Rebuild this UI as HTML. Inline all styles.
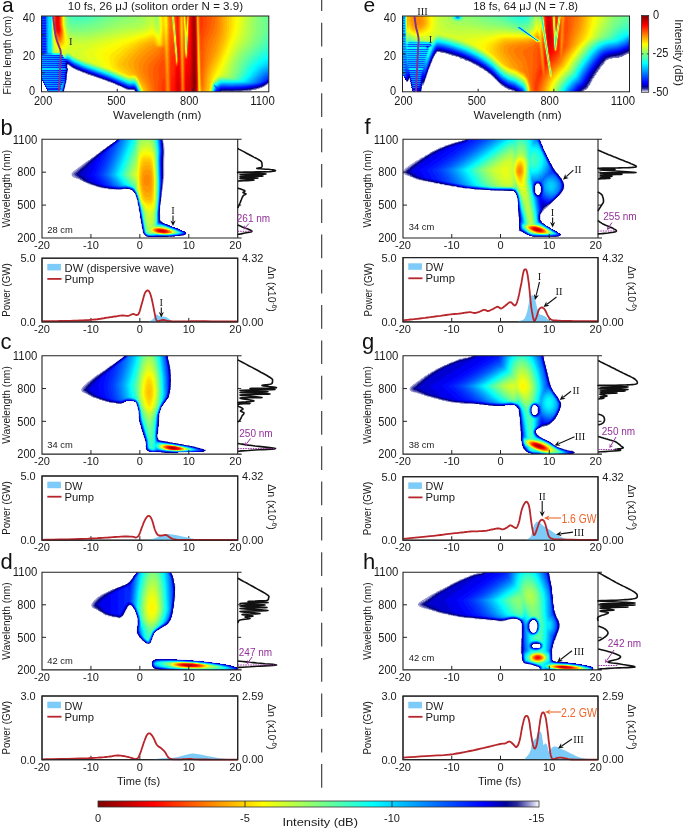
<!DOCTYPE html><html><head><meta charset="utf-8"><style>html,body{margin:0;padding:0;background:#fff;width:685px;height:832px;overflow:hidden}svg{display:block;will-change:transform}</style></head><body><svg width="685" height="832" viewBox="0 0 685 832" font-family="'Liberation Sans', sans-serif"><defs><filter id="jet" x="0" y="0" width="1" height="1" color-interpolation-filters="sRGB">
<feComponentTransfer><feFuncR type="table" tableValues="1.000 0.820 0.640 0.471 0.314 0.157 0.000 0.000 0.000 0.000 0.000 0.000 0.000 0.000 0.000 0.000 0.000 0.000 0.000 0.000 0.000 0.000 0.000 0.000 0.000 0.000 0.000 0.000 0.000 0.000 0.000 0.000 0.000 0.000 0.000 0.000 0.000 0.000 0.020 0.060 0.100 0.140 0.180 0.220 0.260 0.300 0.340 0.380 0.420 0.460 0.500 0.540 0.580 0.620 0.660 0.700 0.740 0.780 0.820 0.860 0.900 0.940 0.980 1.000 1.000 1.000 1.000 1.000 1.000 1.000 1.000 1.000 1.000 1.000 1.000 1.000 1.000 1.000 1.000 1.000 1.000 1.000 1.000 1.000 1.000 1.000 1.000 1.000 0.980 0.940 0.900 0.860 0.820 0.780 0.740 0.700 0.660 0.620 0.580 0.540 0.500"/><feFuncG type="table" tableValues="1.000 0.820 0.640 0.471 0.314 0.157 0.000 0.000 0.000 0.000 0.000 0.000 0.000 0.020 0.060 0.100 0.140 0.180 0.220 0.260 0.300 0.340 0.380 0.420 0.460 0.500 0.540 0.580 0.620 0.660 0.700 0.740 0.780 0.820 0.860 0.900 0.940 0.980 1.000 1.000 1.000 1.000 1.000 1.000 1.000 1.000 1.000 1.000 1.000 1.000 1.000 1.000 1.000 1.000 1.000 1.000 1.000 1.000 1.000 1.000 1.000 1.000 1.000 0.980 0.940 0.900 0.860 0.820 0.780 0.740 0.700 0.660 0.620 0.580 0.540 0.500 0.460 0.420 0.380 0.340 0.300 0.260 0.220 0.180 0.140 0.100 0.060 0.020 0.000 0.000 0.000 0.000 0.000 0.000 0.000 0.000 0.000 0.000 0.000 0.000 0.000"/><feFuncB type="table" tableValues="1.000 0.920 0.840 0.757 0.671 0.586 0.500 0.577 0.654 0.731 0.808 0.885 0.962 1.000 1.000 1.000 1.000 1.000 1.000 1.000 1.000 1.000 1.000 1.000 1.000 1.000 1.000 1.000 1.000 1.000 1.000 1.000 1.000 1.000 1.000 1.000 1.000 1.000 0.980 0.940 0.900 0.860 0.820 0.780 0.740 0.700 0.660 0.620 0.580 0.540 0.500 0.460 0.420 0.380 0.340 0.300 0.260 0.220 0.180 0.140 0.100 0.060 0.020 0.000 0.000 0.000 0.000 0.000 0.000 0.000 0.000 0.000 0.000 0.000 0.000 0.000 0.000 0.000 0.000 0.000 0.000 0.000 0.000 0.000 0.000 0.000 0.000 0.000 0.000 0.000 0.000 0.000 0.000 0.000 0.000 0.000 0.000 0.000 0.000 0.000 0.000"/></feComponentTransfer></filter><clipPath id="c1"><rect x="41.5" y="16.0" width="227.3" height="75.8"/></clipPath><filter id="j1" x="38.5" y="13.0" width="234.0" height="82.0" filterUnits="userSpaceOnUse" color-interpolation-filters="sRGB">
<feGaussianBlur stdDeviation="0.7"/><feComponentTransfer><feFuncR type="table" tableValues="1.000 0.820 0.640 0.471 0.314 0.157 0.000 0.000 0.000 0.000 0.000 0.000 0.000 0.000 0.000 0.000 0.000 0.000 0.000 0.000 0.000 0.000 0.000 0.000 0.000 0.000 0.000 0.000 0.000 0.000 0.000 0.000 0.000 0.000 0.000 0.000 0.000 0.000 0.020 0.060 0.100 0.140 0.180 0.220 0.260 0.300 0.340 0.380 0.420 0.460 0.500 0.540 0.580 0.620 0.660 0.700 0.740 0.780 0.820 0.860 0.900 0.940 0.980 1.000 1.000 1.000 1.000 1.000 1.000 1.000 1.000 1.000 1.000 1.000 1.000 1.000 1.000 1.000 1.000 1.000 1.000 1.000 1.000 1.000 1.000 1.000 1.000 1.000 0.980 0.940 0.900 0.860 0.820 0.780 0.740 0.700 0.660 0.620 0.580 0.540 0.500"/><feFuncG type="table" tableValues="1.000 0.820 0.640 0.471 0.314 0.157 0.000 0.000 0.000 0.000 0.000 0.000 0.000 0.020 0.060 0.100 0.140 0.180 0.220 0.260 0.300 0.340 0.380 0.420 0.460 0.500 0.540 0.580 0.620 0.660 0.700 0.740 0.780 0.820 0.860 0.900 0.940 0.980 1.000 1.000 1.000 1.000 1.000 1.000 1.000 1.000 1.000 1.000 1.000 1.000 1.000 1.000 1.000 1.000 1.000 1.000 1.000 1.000 1.000 1.000 1.000 1.000 1.000 0.980 0.940 0.900 0.860 0.820 0.780 0.740 0.700 0.660 0.620 0.580 0.540 0.500 0.460 0.420 0.380 0.340 0.300 0.260 0.220 0.180 0.140 0.100 0.060 0.020 0.000 0.000 0.000 0.000 0.000 0.000 0.000 0.000 0.000 0.000 0.000 0.000 0.000"/><feFuncB type="table" tableValues="1.000 0.920 0.840 0.757 0.671 0.586 0.500 0.577 0.654 0.731 0.808 0.885 0.962 1.000 1.000 1.000 1.000 1.000 1.000 1.000 1.000 1.000 1.000 1.000 1.000 1.000 1.000 1.000 1.000 1.000 1.000 1.000 1.000 1.000 1.000 1.000 1.000 1.000 0.980 0.940 0.900 0.860 0.820 0.780 0.740 0.700 0.660 0.620 0.580 0.540 0.500 0.460 0.420 0.380 0.340 0.300 0.260 0.220 0.180 0.140 0.100 0.060 0.020 0.000 0.000 0.000 0.000 0.000 0.000 0.000 0.000 0.000 0.000 0.000 0.000 0.000 0.000 0.000 0.000 0.000 0.000 0.000 0.000 0.000 0.000 0.000 0.000 0.000 0.000 0.000 0.000 0.000 0.000 0.000 0.000 0.000 0.000 0.000 0.000 0.000 0.000"/></feComponentTransfer></filter><clipPath id="c2"><rect x="402.5" y="16.0" width="227.0" height="75.8"/></clipPath><filter id="j2" x="399.5" y="13.0" width="233.0" height="82.0" filterUnits="userSpaceOnUse" color-interpolation-filters="sRGB">
<feGaussianBlur stdDeviation="0.7"/><feComponentTransfer><feFuncR type="table" tableValues="1.000 0.820 0.640 0.471 0.314 0.157 0.000 0.000 0.000 0.000 0.000 0.000 0.000 0.000 0.000 0.000 0.000 0.000 0.000 0.000 0.000 0.000 0.000 0.000 0.000 0.000 0.000 0.000 0.000 0.000 0.000 0.000 0.000 0.000 0.000 0.000 0.000 0.000 0.020 0.060 0.100 0.140 0.180 0.220 0.260 0.300 0.340 0.380 0.420 0.460 0.500 0.540 0.580 0.620 0.660 0.700 0.740 0.780 0.820 0.860 0.900 0.940 0.980 1.000 1.000 1.000 1.000 1.000 1.000 1.000 1.000 1.000 1.000 1.000 1.000 1.000 1.000 1.000 1.000 1.000 1.000 1.000 1.000 1.000 1.000 1.000 1.000 1.000 0.980 0.940 0.900 0.860 0.820 0.780 0.740 0.700 0.660 0.620 0.580 0.540 0.500"/><feFuncG type="table" tableValues="1.000 0.820 0.640 0.471 0.314 0.157 0.000 0.000 0.000 0.000 0.000 0.000 0.000 0.020 0.060 0.100 0.140 0.180 0.220 0.260 0.300 0.340 0.380 0.420 0.460 0.500 0.540 0.580 0.620 0.660 0.700 0.740 0.780 0.820 0.860 0.900 0.940 0.980 1.000 1.000 1.000 1.000 1.000 1.000 1.000 1.000 1.000 1.000 1.000 1.000 1.000 1.000 1.000 1.000 1.000 1.000 1.000 1.000 1.000 1.000 1.000 1.000 1.000 0.980 0.940 0.900 0.860 0.820 0.780 0.740 0.700 0.660 0.620 0.580 0.540 0.500 0.460 0.420 0.380 0.340 0.300 0.260 0.220 0.180 0.140 0.100 0.060 0.020 0.000 0.000 0.000 0.000 0.000 0.000 0.000 0.000 0.000 0.000 0.000 0.000 0.000"/><feFuncB type="table" tableValues="1.000 0.920 0.840 0.757 0.671 0.586 0.500 0.577 0.654 0.731 0.808 0.885 0.962 1.000 1.000 1.000 1.000 1.000 1.000 1.000 1.000 1.000 1.000 1.000 1.000 1.000 1.000 1.000 1.000 1.000 1.000 1.000 1.000 1.000 1.000 1.000 1.000 1.000 0.980 0.940 0.900 0.860 0.820 0.780 0.740 0.700 0.660 0.620 0.580 0.540 0.500 0.460 0.420 0.380 0.340 0.300 0.260 0.220 0.180 0.140 0.100 0.060 0.020 0.000 0.000 0.000 0.000 0.000 0.000 0.000 0.000 0.000 0.000 0.000 0.000 0.000 0.000 0.000 0.000 0.000 0.000 0.000 0.000 0.000 0.000 0.000 0.000 0.000 0.000 0.000 0.000 0.000 0.000 0.000 0.000 0.000 0.000 0.000 0.000 0.000 0.000"/></feComponentTransfer></filter><clipPath id="c3"><rect x="42.0" y="139.3" width="195.7" height="98.69999999999999"/></clipPath><filter id="j3" x="39.0" y="136.3" width="202.0" height="105.0" filterUnits="userSpaceOnUse" color-interpolation-filters="sRGB">
<feGaussianBlur stdDeviation="0.55"/><feComponentTransfer><feFuncR type="table" tableValues="1.000 0.820 0.640 0.471 0.314 0.157 0.000 0.000 0.000 0.000 0.000 0.000 0.000 0.000 0.000 0.000 0.000 0.000 0.000 0.000 0.000 0.000 0.000 0.000 0.000 0.000 0.000 0.000 0.000 0.000 0.000 0.000 0.000 0.000 0.000 0.000 0.000 0.000 0.020 0.060 0.100 0.140 0.180 0.220 0.260 0.300 0.340 0.380 0.420 0.460 0.500 0.540 0.580 0.620 0.660 0.700 0.740 0.780 0.820 0.860 0.900 0.940 0.980 1.000 1.000 1.000 1.000 1.000 1.000 1.000 1.000 1.000 1.000 1.000 1.000 1.000 1.000 1.000 1.000 1.000 1.000 1.000 1.000 1.000 1.000 1.000 1.000 1.000 0.980 0.940 0.900 0.860 0.820 0.780 0.740 0.700 0.660 0.620 0.580 0.540 0.500"/><feFuncG type="table" tableValues="1.000 0.820 0.640 0.471 0.314 0.157 0.000 0.000 0.000 0.000 0.000 0.000 0.000 0.020 0.060 0.100 0.140 0.180 0.220 0.260 0.300 0.340 0.380 0.420 0.460 0.500 0.540 0.580 0.620 0.660 0.700 0.740 0.780 0.820 0.860 0.900 0.940 0.980 1.000 1.000 1.000 1.000 1.000 1.000 1.000 1.000 1.000 1.000 1.000 1.000 1.000 1.000 1.000 1.000 1.000 1.000 1.000 1.000 1.000 1.000 1.000 1.000 1.000 0.980 0.940 0.900 0.860 0.820 0.780 0.740 0.700 0.660 0.620 0.580 0.540 0.500 0.460 0.420 0.380 0.340 0.300 0.260 0.220 0.180 0.140 0.100 0.060 0.020 0.000 0.000 0.000 0.000 0.000 0.000 0.000 0.000 0.000 0.000 0.000 0.000 0.000"/><feFuncB type="table" tableValues="1.000 0.920 0.840 0.757 0.671 0.586 0.500 0.577 0.654 0.731 0.808 0.885 0.962 1.000 1.000 1.000 1.000 1.000 1.000 1.000 1.000 1.000 1.000 1.000 1.000 1.000 1.000 1.000 1.000 1.000 1.000 1.000 1.000 1.000 1.000 1.000 1.000 1.000 0.980 0.940 0.900 0.860 0.820 0.780 0.740 0.700 0.660 0.620 0.580 0.540 0.500 0.460 0.420 0.380 0.340 0.300 0.260 0.220 0.180 0.140 0.100 0.060 0.020 0.000 0.000 0.000 0.000 0.000 0.000 0.000 0.000 0.000 0.000 0.000 0.000 0.000 0.000 0.000 0.000 0.000 0.000 0.000 0.000 0.000 0.000 0.000 0.000 0.000 0.000 0.000 0.000 0.000 0.000 0.000 0.000 0.000 0.000 0.000 0.000 0.000 0.000"/></feComponentTransfer></filter><clipPath id="c4"><rect x="42.0" y="355.8" width="195.7" height="98.30000000000001"/></clipPath><filter id="j4" x="39.0" y="352.8" width="202.0" height="105.0" filterUnits="userSpaceOnUse" color-interpolation-filters="sRGB">
<feGaussianBlur stdDeviation="0.55"/><feComponentTransfer><feFuncR type="table" tableValues="1.000 0.820 0.640 0.471 0.314 0.157 0.000 0.000 0.000 0.000 0.000 0.000 0.000 0.000 0.000 0.000 0.000 0.000 0.000 0.000 0.000 0.000 0.000 0.000 0.000 0.000 0.000 0.000 0.000 0.000 0.000 0.000 0.000 0.000 0.000 0.000 0.000 0.000 0.020 0.060 0.100 0.140 0.180 0.220 0.260 0.300 0.340 0.380 0.420 0.460 0.500 0.540 0.580 0.620 0.660 0.700 0.740 0.780 0.820 0.860 0.900 0.940 0.980 1.000 1.000 1.000 1.000 1.000 1.000 1.000 1.000 1.000 1.000 1.000 1.000 1.000 1.000 1.000 1.000 1.000 1.000 1.000 1.000 1.000 1.000 1.000 1.000 1.000 0.980 0.940 0.900 0.860 0.820 0.780 0.740 0.700 0.660 0.620 0.580 0.540 0.500"/><feFuncG type="table" tableValues="1.000 0.820 0.640 0.471 0.314 0.157 0.000 0.000 0.000 0.000 0.000 0.000 0.000 0.020 0.060 0.100 0.140 0.180 0.220 0.260 0.300 0.340 0.380 0.420 0.460 0.500 0.540 0.580 0.620 0.660 0.700 0.740 0.780 0.820 0.860 0.900 0.940 0.980 1.000 1.000 1.000 1.000 1.000 1.000 1.000 1.000 1.000 1.000 1.000 1.000 1.000 1.000 1.000 1.000 1.000 1.000 1.000 1.000 1.000 1.000 1.000 1.000 1.000 0.980 0.940 0.900 0.860 0.820 0.780 0.740 0.700 0.660 0.620 0.580 0.540 0.500 0.460 0.420 0.380 0.340 0.300 0.260 0.220 0.180 0.140 0.100 0.060 0.020 0.000 0.000 0.000 0.000 0.000 0.000 0.000 0.000 0.000 0.000 0.000 0.000 0.000"/><feFuncB type="table" tableValues="1.000 0.920 0.840 0.757 0.671 0.586 0.500 0.577 0.654 0.731 0.808 0.885 0.962 1.000 1.000 1.000 1.000 1.000 1.000 1.000 1.000 1.000 1.000 1.000 1.000 1.000 1.000 1.000 1.000 1.000 1.000 1.000 1.000 1.000 1.000 1.000 1.000 1.000 0.980 0.940 0.900 0.860 0.820 0.780 0.740 0.700 0.660 0.620 0.580 0.540 0.500 0.460 0.420 0.380 0.340 0.300 0.260 0.220 0.180 0.140 0.100 0.060 0.020 0.000 0.000 0.000 0.000 0.000 0.000 0.000 0.000 0.000 0.000 0.000 0.000 0.000 0.000 0.000 0.000 0.000 0.000 0.000 0.000 0.000 0.000 0.000 0.000 0.000 0.000 0.000 0.000 0.000 0.000 0.000 0.000 0.000 0.000 0.000 0.000 0.000 0.000"/></feComponentTransfer></filter><clipPath id="c5"><rect x="42.0" y="572.2" width="195.7" height="97.69999999999993"/></clipPath><filter id="j5" x="39.0" y="569.2" width="202.0" height="104.0" filterUnits="userSpaceOnUse" color-interpolation-filters="sRGB">
<feGaussianBlur stdDeviation="0.55"/><feComponentTransfer><feFuncR type="table" tableValues="1.000 0.820 0.640 0.471 0.314 0.157 0.000 0.000 0.000 0.000 0.000 0.000 0.000 0.000 0.000 0.000 0.000 0.000 0.000 0.000 0.000 0.000 0.000 0.000 0.000 0.000 0.000 0.000 0.000 0.000 0.000 0.000 0.000 0.000 0.000 0.000 0.000 0.000 0.020 0.060 0.100 0.140 0.180 0.220 0.260 0.300 0.340 0.380 0.420 0.460 0.500 0.540 0.580 0.620 0.660 0.700 0.740 0.780 0.820 0.860 0.900 0.940 0.980 1.000 1.000 1.000 1.000 1.000 1.000 1.000 1.000 1.000 1.000 1.000 1.000 1.000 1.000 1.000 1.000 1.000 1.000 1.000 1.000 1.000 1.000 1.000 1.000 1.000 0.980 0.940 0.900 0.860 0.820 0.780 0.740 0.700 0.660 0.620 0.580 0.540 0.500"/><feFuncG type="table" tableValues="1.000 0.820 0.640 0.471 0.314 0.157 0.000 0.000 0.000 0.000 0.000 0.000 0.000 0.020 0.060 0.100 0.140 0.180 0.220 0.260 0.300 0.340 0.380 0.420 0.460 0.500 0.540 0.580 0.620 0.660 0.700 0.740 0.780 0.820 0.860 0.900 0.940 0.980 1.000 1.000 1.000 1.000 1.000 1.000 1.000 1.000 1.000 1.000 1.000 1.000 1.000 1.000 1.000 1.000 1.000 1.000 1.000 1.000 1.000 1.000 1.000 1.000 1.000 0.980 0.940 0.900 0.860 0.820 0.780 0.740 0.700 0.660 0.620 0.580 0.540 0.500 0.460 0.420 0.380 0.340 0.300 0.260 0.220 0.180 0.140 0.100 0.060 0.020 0.000 0.000 0.000 0.000 0.000 0.000 0.000 0.000 0.000 0.000 0.000 0.000 0.000"/><feFuncB type="table" tableValues="1.000 0.920 0.840 0.757 0.671 0.586 0.500 0.577 0.654 0.731 0.808 0.885 0.962 1.000 1.000 1.000 1.000 1.000 1.000 1.000 1.000 1.000 1.000 1.000 1.000 1.000 1.000 1.000 1.000 1.000 1.000 1.000 1.000 1.000 1.000 1.000 1.000 1.000 0.980 0.940 0.900 0.860 0.820 0.780 0.740 0.700 0.660 0.620 0.580 0.540 0.500 0.460 0.420 0.380 0.340 0.300 0.260 0.220 0.180 0.140 0.100 0.060 0.020 0.000 0.000 0.000 0.000 0.000 0.000 0.000 0.000 0.000 0.000 0.000 0.000 0.000 0.000 0.000 0.000 0.000 0.000 0.000 0.000 0.000 0.000 0.000 0.000 0.000 0.000 0.000 0.000 0.000 0.000 0.000 0.000 0.000 0.000 0.000 0.000 0.000 0.000"/></feComponentTransfer></filter><clipPath id="c6"><rect x="403.0" y="139.3" width="195.0" height="98.69999999999999"/></clipPath><filter id="j6" x="400.0" y="136.3" width="201.0" height="105.0" filterUnits="userSpaceOnUse" color-interpolation-filters="sRGB">
<feGaussianBlur stdDeviation="0.55"/><feComponentTransfer><feFuncR type="table" tableValues="1.000 0.820 0.640 0.471 0.314 0.157 0.000 0.000 0.000 0.000 0.000 0.000 0.000 0.000 0.000 0.000 0.000 0.000 0.000 0.000 0.000 0.000 0.000 0.000 0.000 0.000 0.000 0.000 0.000 0.000 0.000 0.000 0.000 0.000 0.000 0.000 0.000 0.000 0.020 0.060 0.100 0.140 0.180 0.220 0.260 0.300 0.340 0.380 0.420 0.460 0.500 0.540 0.580 0.620 0.660 0.700 0.740 0.780 0.820 0.860 0.900 0.940 0.980 1.000 1.000 1.000 1.000 1.000 1.000 1.000 1.000 1.000 1.000 1.000 1.000 1.000 1.000 1.000 1.000 1.000 1.000 1.000 1.000 1.000 1.000 1.000 1.000 1.000 0.980 0.940 0.900 0.860 0.820 0.780 0.740 0.700 0.660 0.620 0.580 0.540 0.500"/><feFuncG type="table" tableValues="1.000 0.820 0.640 0.471 0.314 0.157 0.000 0.000 0.000 0.000 0.000 0.000 0.000 0.020 0.060 0.100 0.140 0.180 0.220 0.260 0.300 0.340 0.380 0.420 0.460 0.500 0.540 0.580 0.620 0.660 0.700 0.740 0.780 0.820 0.860 0.900 0.940 0.980 1.000 1.000 1.000 1.000 1.000 1.000 1.000 1.000 1.000 1.000 1.000 1.000 1.000 1.000 1.000 1.000 1.000 1.000 1.000 1.000 1.000 1.000 1.000 1.000 1.000 0.980 0.940 0.900 0.860 0.820 0.780 0.740 0.700 0.660 0.620 0.580 0.540 0.500 0.460 0.420 0.380 0.340 0.300 0.260 0.220 0.180 0.140 0.100 0.060 0.020 0.000 0.000 0.000 0.000 0.000 0.000 0.000 0.000 0.000 0.000 0.000 0.000 0.000"/><feFuncB type="table" tableValues="1.000 0.920 0.840 0.757 0.671 0.586 0.500 0.577 0.654 0.731 0.808 0.885 0.962 1.000 1.000 1.000 1.000 1.000 1.000 1.000 1.000 1.000 1.000 1.000 1.000 1.000 1.000 1.000 1.000 1.000 1.000 1.000 1.000 1.000 1.000 1.000 1.000 1.000 0.980 0.940 0.900 0.860 0.820 0.780 0.740 0.700 0.660 0.620 0.580 0.540 0.500 0.460 0.420 0.380 0.340 0.300 0.260 0.220 0.180 0.140 0.100 0.060 0.020 0.000 0.000 0.000 0.000 0.000 0.000 0.000 0.000 0.000 0.000 0.000 0.000 0.000 0.000 0.000 0.000 0.000 0.000 0.000 0.000 0.000 0.000 0.000 0.000 0.000 0.000 0.000 0.000 0.000 0.000 0.000 0.000 0.000 0.000 0.000 0.000 0.000 0.000"/></feComponentTransfer></filter><clipPath id="c7"><rect x="403.0" y="355.8" width="195.0" height="98.30000000000001"/></clipPath><filter id="j7" x="400.0" y="352.8" width="201.0" height="105.0" filterUnits="userSpaceOnUse" color-interpolation-filters="sRGB">
<feGaussianBlur stdDeviation="0.55"/><feComponentTransfer><feFuncR type="table" tableValues="1.000 0.820 0.640 0.471 0.314 0.157 0.000 0.000 0.000 0.000 0.000 0.000 0.000 0.000 0.000 0.000 0.000 0.000 0.000 0.000 0.000 0.000 0.000 0.000 0.000 0.000 0.000 0.000 0.000 0.000 0.000 0.000 0.000 0.000 0.000 0.000 0.000 0.000 0.020 0.060 0.100 0.140 0.180 0.220 0.260 0.300 0.340 0.380 0.420 0.460 0.500 0.540 0.580 0.620 0.660 0.700 0.740 0.780 0.820 0.860 0.900 0.940 0.980 1.000 1.000 1.000 1.000 1.000 1.000 1.000 1.000 1.000 1.000 1.000 1.000 1.000 1.000 1.000 1.000 1.000 1.000 1.000 1.000 1.000 1.000 1.000 1.000 1.000 0.980 0.940 0.900 0.860 0.820 0.780 0.740 0.700 0.660 0.620 0.580 0.540 0.500"/><feFuncG type="table" tableValues="1.000 0.820 0.640 0.471 0.314 0.157 0.000 0.000 0.000 0.000 0.000 0.000 0.000 0.020 0.060 0.100 0.140 0.180 0.220 0.260 0.300 0.340 0.380 0.420 0.460 0.500 0.540 0.580 0.620 0.660 0.700 0.740 0.780 0.820 0.860 0.900 0.940 0.980 1.000 1.000 1.000 1.000 1.000 1.000 1.000 1.000 1.000 1.000 1.000 1.000 1.000 1.000 1.000 1.000 1.000 1.000 1.000 1.000 1.000 1.000 1.000 1.000 1.000 0.980 0.940 0.900 0.860 0.820 0.780 0.740 0.700 0.660 0.620 0.580 0.540 0.500 0.460 0.420 0.380 0.340 0.300 0.260 0.220 0.180 0.140 0.100 0.060 0.020 0.000 0.000 0.000 0.000 0.000 0.000 0.000 0.000 0.000 0.000 0.000 0.000 0.000"/><feFuncB type="table" tableValues="1.000 0.920 0.840 0.757 0.671 0.586 0.500 0.577 0.654 0.731 0.808 0.885 0.962 1.000 1.000 1.000 1.000 1.000 1.000 1.000 1.000 1.000 1.000 1.000 1.000 1.000 1.000 1.000 1.000 1.000 1.000 1.000 1.000 1.000 1.000 1.000 1.000 1.000 0.980 0.940 0.900 0.860 0.820 0.780 0.740 0.700 0.660 0.620 0.580 0.540 0.500 0.460 0.420 0.380 0.340 0.300 0.260 0.220 0.180 0.140 0.100 0.060 0.020 0.000 0.000 0.000 0.000 0.000 0.000 0.000 0.000 0.000 0.000 0.000 0.000 0.000 0.000 0.000 0.000 0.000 0.000 0.000 0.000 0.000 0.000 0.000 0.000 0.000 0.000 0.000 0.000 0.000 0.000 0.000 0.000 0.000 0.000 0.000 0.000 0.000 0.000"/></feComponentTransfer></filter><clipPath id="c8"><rect x="403.0" y="572.2" width="195.0" height="97.69999999999993"/></clipPath><filter id="j8" x="400.0" y="569.2" width="201.0" height="104.0" filterUnits="userSpaceOnUse" color-interpolation-filters="sRGB">
<feGaussianBlur stdDeviation="0.55"/><feComponentTransfer><feFuncR type="table" tableValues="1.000 0.820 0.640 0.471 0.314 0.157 0.000 0.000 0.000 0.000 0.000 0.000 0.000 0.000 0.000 0.000 0.000 0.000 0.000 0.000 0.000 0.000 0.000 0.000 0.000 0.000 0.000 0.000 0.000 0.000 0.000 0.000 0.000 0.000 0.000 0.000 0.000 0.000 0.020 0.060 0.100 0.140 0.180 0.220 0.260 0.300 0.340 0.380 0.420 0.460 0.500 0.540 0.580 0.620 0.660 0.700 0.740 0.780 0.820 0.860 0.900 0.940 0.980 1.000 1.000 1.000 1.000 1.000 1.000 1.000 1.000 1.000 1.000 1.000 1.000 1.000 1.000 1.000 1.000 1.000 1.000 1.000 1.000 1.000 1.000 1.000 1.000 1.000 0.980 0.940 0.900 0.860 0.820 0.780 0.740 0.700 0.660 0.620 0.580 0.540 0.500"/><feFuncG type="table" tableValues="1.000 0.820 0.640 0.471 0.314 0.157 0.000 0.000 0.000 0.000 0.000 0.000 0.000 0.020 0.060 0.100 0.140 0.180 0.220 0.260 0.300 0.340 0.380 0.420 0.460 0.500 0.540 0.580 0.620 0.660 0.700 0.740 0.780 0.820 0.860 0.900 0.940 0.980 1.000 1.000 1.000 1.000 1.000 1.000 1.000 1.000 1.000 1.000 1.000 1.000 1.000 1.000 1.000 1.000 1.000 1.000 1.000 1.000 1.000 1.000 1.000 1.000 1.000 0.980 0.940 0.900 0.860 0.820 0.780 0.740 0.700 0.660 0.620 0.580 0.540 0.500 0.460 0.420 0.380 0.340 0.300 0.260 0.220 0.180 0.140 0.100 0.060 0.020 0.000 0.000 0.000 0.000 0.000 0.000 0.000 0.000 0.000 0.000 0.000 0.000 0.000"/><feFuncB type="table" tableValues="1.000 0.920 0.840 0.757 0.671 0.586 0.500 0.577 0.654 0.731 0.808 0.885 0.962 1.000 1.000 1.000 1.000 1.000 1.000 1.000 1.000 1.000 1.000 1.000 1.000 1.000 1.000 1.000 1.000 1.000 1.000 1.000 1.000 1.000 1.000 1.000 1.000 1.000 0.980 0.940 0.900 0.860 0.820 0.780 0.740 0.700 0.660 0.620 0.580 0.540 0.500 0.460 0.420 0.380 0.340 0.300 0.260 0.220 0.180 0.140 0.100 0.060 0.020 0.000 0.000 0.000 0.000 0.000 0.000 0.000 0.000 0.000 0.000 0.000 0.000 0.000 0.000 0.000 0.000 0.000 0.000 0.000 0.000 0.000 0.000 0.000 0.000 0.000 0.000 0.000 0.000 0.000 0.000 0.000 0.000 0.000 0.000 0.000 0.000 0.000 0.000"/></feComponentTransfer></filter><linearGradient id="cbv" x1="0" y1="0" x2="0" y2="1"><stop offset="0.000" stop-color="rgb(127,0,0)"/><stop offset="0.025" stop-color="rgb(153,0,0)"/><stop offset="0.050" stop-color="rgb(178,0,0)"/><stop offset="0.075" stop-color="rgb(204,0,0)"/><stop offset="0.100" stop-color="rgb(229,0,0)"/><stop offset="0.125" stop-color="rgb(255,0,0)"/><stop offset="0.150" stop-color="rgb(255,25,0)"/><stop offset="0.175" stop-color="rgb(255,51,0)"/><stop offset="0.200" stop-color="rgb(255,76,0)"/><stop offset="0.225" stop-color="rgb(255,102,0)"/><stop offset="0.250" stop-color="rgb(255,127,0)"/><stop offset="0.275" stop-color="rgb(255,153,0)"/><stop offset="0.300" stop-color="rgb(255,178,0)"/><stop offset="0.325" stop-color="rgb(255,204,0)"/><stop offset="0.350" stop-color="rgb(255,229,0)"/><stop offset="0.375" stop-color="rgb(255,255,0)"/><stop offset="0.400" stop-color="rgb(229,255,25)"/><stop offset="0.425" stop-color="rgb(203,255,51)"/><stop offset="0.450" stop-color="rgb(178,255,76)"/><stop offset="0.475" stop-color="rgb(152,255,102)"/><stop offset="0.500" stop-color="rgb(127,255,127)"/><stop offset="0.525" stop-color="rgb(101,255,153)"/><stop offset="0.550" stop-color="rgb(76,255,178)"/><stop offset="0.575" stop-color="rgb(50,255,204)"/><stop offset="0.600" stop-color="rgb(25,255,229)"/><stop offset="0.625" stop-color="rgb(0,255,255)"/><stop offset="0.650" stop-color="rgb(0,229,255)"/><stop offset="0.675" stop-color="rgb(0,203,255)"/><stop offset="0.700" stop-color="rgb(0,178,255)"/><stop offset="0.725" stop-color="rgb(0,152,255)"/><stop offset="0.750" stop-color="rgb(0,127,255)"/><stop offset="0.775" stop-color="rgb(0,101,255)"/><stop offset="0.800" stop-color="rgb(0,76,255)"/><stop offset="0.825" stop-color="rgb(0,50,255)"/><stop offset="0.850" stop-color="rgb(0,25,255)"/><stop offset="0.875" stop-color="rgb(0,0,255)"/><stop offset="0.900" stop-color="rgb(0,0,205)"/><stop offset="0.925" stop-color="rgb(0,0,156)"/><stop offset="0.950" stop-color="rgb(40,40,149)"/><stop offset="0.975" stop-color="rgb(140,140,204)"/><stop offset="1.000" stop-color="rgb(255,255,255)"/></linearGradient><linearGradient id="cbh" x1="0" y1="0" x2="1" y2="0"><stop offset="0.000" stop-color="rgb(127,0,0)"/><stop offset="0.025" stop-color="rgb(153,0,0)"/><stop offset="0.050" stop-color="rgb(178,0,0)"/><stop offset="0.075" stop-color="rgb(204,0,0)"/><stop offset="0.100" stop-color="rgb(229,0,0)"/><stop offset="0.125" stop-color="rgb(255,0,0)"/><stop offset="0.150" stop-color="rgb(255,25,0)"/><stop offset="0.175" stop-color="rgb(255,51,0)"/><stop offset="0.200" stop-color="rgb(255,76,0)"/><stop offset="0.225" stop-color="rgb(255,102,0)"/><stop offset="0.250" stop-color="rgb(255,127,0)"/><stop offset="0.275" stop-color="rgb(255,153,0)"/><stop offset="0.300" stop-color="rgb(255,178,0)"/><stop offset="0.325" stop-color="rgb(255,204,0)"/><stop offset="0.350" stop-color="rgb(255,229,0)"/><stop offset="0.375" stop-color="rgb(255,255,0)"/><stop offset="0.400" stop-color="rgb(229,255,25)"/><stop offset="0.425" stop-color="rgb(203,255,51)"/><stop offset="0.450" stop-color="rgb(178,255,76)"/><stop offset="0.475" stop-color="rgb(152,255,102)"/><stop offset="0.500" stop-color="rgb(127,255,127)"/><stop offset="0.525" stop-color="rgb(101,255,153)"/><stop offset="0.550" stop-color="rgb(76,255,178)"/><stop offset="0.575" stop-color="rgb(50,255,204)"/><stop offset="0.600" stop-color="rgb(25,255,229)"/><stop offset="0.625" stop-color="rgb(0,255,255)"/><stop offset="0.650" stop-color="rgb(0,229,255)"/><stop offset="0.675" stop-color="rgb(0,203,255)"/><stop offset="0.700" stop-color="rgb(0,178,255)"/><stop offset="0.725" stop-color="rgb(0,152,255)"/><stop offset="0.750" stop-color="rgb(0,127,255)"/><stop offset="0.775" stop-color="rgb(0,101,255)"/><stop offset="0.800" stop-color="rgb(0,76,255)"/><stop offset="0.825" stop-color="rgb(0,50,255)"/><stop offset="0.850" stop-color="rgb(0,25,255)"/><stop offset="0.875" stop-color="rgb(0,0,255)"/><stop offset="0.900" stop-color="rgb(0,0,205)"/><stop offset="0.925" stop-color="rgb(0,0,156)"/><stop offset="0.950" stop-color="rgb(40,40,149)"/><stop offset="0.975" stop-color="rgb(140,140,204)"/><stop offset="1.000" stop-color="rgb(255,255,255)"/></linearGradient></defs><rect width="685" height="832" fill="#fff"/><g clip-path="url(#c1)"><g filter="url(#j1)"><rect x="38.5" y="13.0" width="234.0" height="82.0" fill="#000"/><path fill="#060606" d="M39,13.5 272,13.5 272,81 270,83 269,83.1 267,85 266,85.2 264,87 263,87.1 262,88 260,88.2 259,89 257,89.1 256,90 252,90.1 251,91 243,91.2 242,92 222,92 219.6,92.5 217.5,94.5 136.4,94.5 135.3,91.5 134,90.1 127,90 124,88.2 123,88 122,87.2 121,87.1 120,86.2 118,86 115,84.2 114,84.1 113,83.2 111,83 110,82.2 108,82 105,80.2 103,80 102,79.2 100,79 99,78.2 97,78 96,77.1 94,77 93,76.1 91,76 90,75.1 88,75 85,73.2 83,73 80,71.2 78,71 77,70.1 76,70 75,69.1 72,68 69,65.2 68,65 67.5,65.5 67.8,71.5 67.6,73.5 66.8,74.5 66.5,82.5 65.8,83.5 65.6,86.5 64.8,87.5 64.6,90.5 63.8,91.5 63.6,94.5 48,94.5 48.1,91.5 47,90.5 47.1,89.5 46.1,88.5 46,87.4 45.1,86.5 45,85.4 44.1,84.5 44,83.4 43.1,82.5 43,81.5 42.1,80.5 42,79.4 41,78.5 39,78.4Z"/><path fill="#0a0a0a" d="M39,13.5 272,13.5 272,80.4 269.9,82.5 269,82.8 267,84.5 266,84.8 264,86.5 263,86.8 262,87.5 260,87.8 259,88.5 257,88.8 256,89.5 252,89.8 251,90.4 243,90.8 242,91.4 222,91.5 219.1,92.5 217,94.5 136.8,94.5 135.6,91.5 134,89.8 127,89.5 120,85.9 118,85.5 113,82.9 108,81.5 105,79.9 103,79.5 102,78.9 97,77.5 96,76.8 88,74.4 85,72.9 83,72.5 80,70.9 78,70.5 72,67.5 69,64.9 68,64.5 67,65.5 67.7,69.5 67.4,72.5 66.6,74.5 66.4,80.5 63.1,94.5 48.1,94.5 48.2,91.5 47.1,90.5 47.2,89.5 46.2,88.5 46,87.3 44.2,84.5 44,83.3 43.2,82.5 42,79.3 41,78.4 39,78.2Z"/><path fill="#0e0e0e" d="M39,13.5 272,13.5 272,79.5 269,82.3 264,85.8 258,88.1 250,89.8 245,90.3 232,90.9 222,90.8 221,91.8 218.4,92.5 216.3,94.5 137.1,94.5 135,90.1 134,89.4 128,89.3 113,82.6 81,71.1 74,67.9 68,64 67,64 66.6,65.5 67.6,69.5 66.9,73.5 66.3,74.5 66.4,79.5 62.9,94.5 48.1,94.5 48.4,91.5 47.1,90.5 47.4,89.5 46.4,88.5 42,79.1 41,78.4 39,78.1Z"/><path fill="#121212" d="M39,13.5 272,13.5 272,78.9 269,81.7 264,85.2 259,87.2 252,88.8 244,89.8 232,90.3 222,90.2 221,90.3 221.1,91.5 220,92.1 218,92.2 215.8,94.5 137.3,94.5 135,89.6 134,89 130,89.1 128,88.8 111.1,81.5 82,71.1 73,66.9 68,63.4 67,63.4 66.7,63.5 66.7,64.5 66.2,65.5 66.8,66.5 67.5,69.5 67,72.1 66.5,72.5 66.8,73.5 66.1,74.5 66.4,75.5 66.2,79.5 62.7,94.5 48.2,94.5 48.5,91.5 47.2,90.5 47.5,89.5 46.5,88.5 42,79 41,78.3 39,78Z"/><path fill="#161616" d="M39,13.5 272,13.5 272,78.3 269,81.1 264,84.6 258,86.9 252,88.3 244,89.2 232,89.8 222,89.6 221,89.8 220.5,90.5 220.9,91.5 220,92 218,91.6 215.5,94.5 137.6,94.5 136,90.8 135,89.2 134,88.5 130,88.7 128,88.3 109.6,80.5 81,70.2 74,67 68,63 67,63 64.6,63.5 66,63.6 66.5,64.5 66,65.4 64.6,65.5 66,65.6 66.7,66.5 66,67.4 64.6,67.5 67,67.8 67.4,69.5 67,70.3 64.6,70.5 66,70.6 67,71.5 66,72.4 64.6,72.5 66,72.6 66.6,73.5 66,74.4 64.6,74.5 66,74.7 66.3,75.5 66,79.5 62.5,94.5 48.2,94.5 48.6,91.5 47.2,90.5 47.6,89.5 46.6,88.5 42,78.9 40,77.9 39,77.9ZM65,59.5 64.6,59.5 66,59.5ZM65,76.5 64.6,76.5 65,76.5 65.1,76.5ZM65,61.5 64.6,61.5 67,61.8 67.1,61.5ZM65,78.5 64.6,78.5 65,78.5 65.4,78.5Z"/><path fill="#1a1a1a" d="M39,13.5 272,13.5 272,77.8 269,80.6 264,84.1 259,86.1 252,87.8 245,88.7 232,89.3 223,89 221,89.3 220.4,89.5 220.1,90.5 220.7,91.5 220,91.9 218,91.2 216,93.1 215.2,94.5 137.8,94.5 136,90.3 135,88.8 134,88.1 130,88.3 128,87.9 110.6,80.5 81,69.8 73,66.1 68,62.6 67,62.5 66,63.3 62,63.5 66,63.9 66.4,64.5 66,65.1 62,65.5 66,65.8 66.5,66.5 66,67.2 62,67.5 66,67.7 67,68.4 67.2,69.5 67,70.1 66,70.4 62,70.5 66,70.7 66.9,71.5 66,72.3 62,72.5 65,72.6 66,72.8 66.5,73.5 66,74.2 65,74.4 62,74.5 65,74.6 66.1,75.5 66,77.5 65,78.4 62,78.5 65,78.7 65.8,79.5 62.4,94.5 48.3,94.5 48.7,93.5 48.3,92.5 48.7,91.5 47.3,90.5 47.7,89.5 46.7,88.5 42,78.8 40,77.7 39,77.7ZM63,57.5 62,57.5 63,57.5 63.1,57.5ZM63,76.5 62,76.5 65.8,76.5ZM63,80.5 62,80.5 63,80.5 63.2,80.5ZM63,59.5 62,59.5 66.1,59.5ZM63,82.5 62,82.5 63,82.5 63,82.5ZM63,61.5 62,61.5 66,61.7 67,62.4 67.3,61.5Z"/><path fill="#1e1e1e" d="M39,13.5 272,13.5 272,77.3 269,80.1 265,83 263,84.2 259,85.7 252,87.3 245,88.2 232,88.8 223,88.5 221,88.8 219.7,89.5 219.8,90.5 220.5,91.5 220,91.8 218,90.8 216,92.6 214.9,94.5 138,94.5 136,89.9 135,88.4 134,87.8 130,87.9 128,87.6 109,79.5 82,69.9 73,65.7 68,62.3 67,61.2 59.4,61.5 65,61.7 66.8,62.5 65,63.3 59.4,63.5 65,63.7 66,64.1 66,64.9 65,65.3 59.4,65.5 65,65.7 66.4,66.5 66,67 65,67.3 59.4,67.5 66,67.8 66.9,68.5 67.1,69.5 66,70.3 59.4,70.5 65,70.7 66,70.8 66.7,71.5 66,72.2 65,72.3 59.4,72.5 65,72.7 66.3,73.5 65,74.3 59.4,74.5 65,74.7 66,75.5 65,76.3 59.4,76.5 65,76.7 65.9,77.5 65,78.3 59.4,78.5 65,78.8 65.7,79.5 62.2,94.5 48.3,94.5 48.8,93.5 48.3,92.5 48.8,91.5 47.3,90.5 47.8,89.5 46.8,88.5 42,78.7 40,77.6 39,77.6ZM60,55.5 59.4,55.5 63,55.5ZM60,80.5 59.4,80.5 63.6,80.5ZM60,57.5 59.4,57.5 63.2,57.5ZM60,82.5 59.4,82.5 63.1,82.5ZM60,59.5 59.4,59.5 66.2,59.5ZM60,84.5 59.4,84.5 62.1,84.5ZM60,86.5 59.4,86.5 61,86.5ZM60,88.5 59.4,88.5 59.4,89.5 60,89.5Z"/><path fill="#222222" d="M39,13.5 272,13.5 272,76.8 269,79.7 265,82.5 263,83.7 259,85.2 252,86.8 245,87.8 232,88.4 223,88.1 221,88.3 219.3,89.5 219.5,90.5 219,91 218,90.4 217,91 215.1,93.5 214.8,94.5 138.2,94.5 136,89.5 135,88.1 134,87.4 130,87.6 128,87.2 109.9,79.5 83,69.9 73,65.3 67,61 56.8,61.5 65,61.7 66.6,62.5 65,63.3 56.8,63.5 65,63.7 66.1,64.5 65,65.3 56.8,65.5 65,65.7 66.2,66.5 65,67.3 56.8,67.5 65,67.7 66.7,68.5 67,69.5 66,70.2 56.8,70.5 65,70.7 66.6,71.5 65,72.3 56.8,72.5 65,72.7 66.2,73.5 65,74.3 56.8,74.5 65,74.8 65.9,75.5 65,76.2 56.8,76.5 64,76.7 65,76.8 65.7,77.5 65,78.2 64,78.3 56.8,78.5 65,78.9 65.6,79.5 64.6,84.5 62,94.5 48.4,94.5 49,93.5 48.4,92.5 49,91.5 47.4,90.5 48,89.5 46.4,87.5 42,78.5 40,77.5 39,77.5 39,72.6 40.7,72.5 39,72.4 39,67.6 40.7,67.5 39,67.4 39,64.6 40,64.5 39,64.5 39,59.6 40.7,59.5 39,59.4 39,54.6 40.1,54.5 39,54.4 39,51.6 45.7,51.5 39,51.5 39,46.6 46.1,46.5 39,46.4 39,41.6 46,41.5 39,41.4 39,38.6 45.6,38.5 39,38.5 39,33.6 46,33.5 39,33.4 39,28.6 46,28.5 39,28.4 39,25.6 45.5,25.5 39,25.5 39,20.6 46,20.5 39,20.4 39,15.6 46,15.5 39,15.4ZM57,59.5 66,59.8 66.3,59.5ZM57,88.5 56.8,89.5 60.1,89.5 60,88.4ZM219.5,91.5 220,91 220.4,91.5 220,91.7Z"/><path fill="#262626" d="M39,13.5 272,13.5 272,76.4 269,79.2 264,82.7 260,84.4 255,85.8 243,87.5 221,87.9 219.7,88.5 218.8,89.5 219.3,90.5 219,90.7 218,90 217,90.5 215,93 214.6,94.5 138.4,94.5 136,89.1 135,87.7 134,87.1 130,87.2 128,86.9 110.8,79.5 84,70 74,65.5 67,60.9 56,61.5 40.7,61.5 65,61.8 66.4,62.5 65,63.2 40.9,63.5 65,63.8 65.9,64.5 65,65.2 40.8,65.5 65,65.8 66.1,66.5 65,67.2 41,67.5 39,67.2 39,64.8 40,64.8 40.1,64.5 39,64.3 39,62.6 40,62.5 39,62.2 39,59.8 56,59.5 66,59.9 66.4,59.5 65,59.2 39,59.2 39,54.7 40.1,54.5 40,54.2 39,54.2 39,51.8 45,51.8 46.1,51.5 39,51.3 39,49.6 46,49.5 39,49.2 39,46.8 46.2,46.5 39,46.2 39,41.7 46.1,41.5 45,41.2 39,41.2 39,38.8 45,38.8 46.1,38.5 39,38.3 39,36.6 46,36.5 39,36.2 39,33.8 46.2,33.5 39,33.2 39,28.7 46.1,28.5 45,28.2 39,28.2 39,25.8 45,25.8 46.1,25.5 39,25.3 39,23.6 46,23.5 39,23.2 39,20.8 45,20.8 46.1,20.5 39,20.2 39,15.7 46.1,15.5 45,15.2 39,15.2ZM41,57.5 40.6,57.5 63.6,57.5ZM39,68.5 39,67.7 41,67.5 65,67.8 66.6,68.5 66.8,69.5 65,70.2 40.6,70.5 65,70.8 66.4,71.5 65,72.2 41,72.5 39,72.2ZM39,73.5 39,72.8 41,72.5 64,72.8 65,72.8 66,73.5 65,74.2 64,74.2 40.7,74.5 64,74.8 65,74.9 65.8,75.5 65,76.1 64,76.2 40.9,76.5 64,76.8 65,76.9 65.6,77.5 65,78.1 64,78.2 56,78.5 42,78.5 40,77.3 39,77.3 39,75.6 40,75.5 39,75.2ZM42.4,79.5 43,78.5 56,78.5 65,79 65.4,79.5 64.7,83.5 61.9,94.5 48.4,94.5 49,93.5 59.2,93.5 49,93.5 48.4,92.5 49,91.5 60,91.5 49,91.5 47.4,90.5 48,89.5 60,89.7 60.4,88.5 47,88.5 46.4,87.5 47,86.5 61,86.7 61,86.3 46,86.5 45.4,85.5 46,84.5 62,84.7 62,84.3 45,84.5 44.4,83.5 45,82.5 63,82.7 63.3,82.5 63,82.3 44,82.5 43.4,81.5 44,80.5 64.4,80.5 43,80.5ZM219.7,91.5 220,91.2 220.2,91.5 220,91.6Z"/><path fill="#2a2a2a" d="M39,13.5 272,13.5 272,75.9 269,78.8 263.6,82.5 260,84 255,85.4 243,87.1 221,87.5 217,90.1 215,92.5 214.4,94.5 138.6,94.5 136,88.7 134,86.7 130,86.9 128,86.5 109,78.5 84,69.6 74,65.2 67,60.8 65,61.1 40.3,61.5 65,61.9 66.2,62.5 65,63.1 40.7,63.5 65,63.9 65.8,64.5 65,65.1 40.5,65.5 65,65.9 66,66.5 65,67.1 41,67.4 39,67 39,65.1 40,65.1 40.2,64.5 40,64.2 39,64.2 39,62.8 40.1,62.5 40,61.8 39,61.8 39,60 41,59.6 56,59.6 66,60 66.5,59.5 65,59.1 41,59.4 39,59.1 39,57.5 63,57.8 63.8,57.5 63,57.2 41,57.4 40,56.3 39,56.3 39,54.9 40,54.9 40.2,54.5 40,54 39,54 39,52.1 46,52 46.3,51.5 46,51.2 39,51.2 39,49.8 46.2,49.5 46,49 45,48.9 39,48.8 39,47 46,46.9 46.3,46.5 46,46.1 39,46.1 39,44.5 45,44.5 46,44.1 46.1,43.5 39,43.3 39,41.9 46,41.8 46.3,41.5 46,41.1 39,41 39,39.1 45,39.1 46,39 46.2,38.5 45,38.2 39,38.2 39,36.8 46.1,36.5 46,36 45,35.9 39,35.8 39,34 46,33.9 46.3,33.5 46,33.1 39,33.1 39,31.5 45,31.5 46,31 46.1,30.5 39,30.3 39,28.9 45,28.9 46.2,28.5 46,28.1 45,28 39,28 39,26.1 45,26.1 46,25.9 46.2,25.5 45,25.2 39,25.2 39,23.8 46.1,23.5 46,23 45,22.9 39,22.8 39,21 45,21 46,20.9 46.2,20.5 46,20.2 45,20.1 39,20.1 39,18.5 45,18.5 46,17.9 46,17.5 39,17.3 39,15.9 45,15.9 46.2,15.5 46,15.1 45,15 39,15ZM41,55.3 40.7,55.5 63,55.8 63.1,55.5ZM39,68.5 39,67.9 41,67.6 65,67.9 66.4,68.5 66.7,69.5 65,70.1 41,70.4 40,69.3 39,69.3ZM39,71.5 39,70.5 40,70.5 65,70.9 66.3,71.5 65,72.1 56,72.4 41,72.4 39,72.1ZM39,73.5 39,73 41,72.6 64,72.8 65,72.9 65.9,73.5 65,74.1 64,74.2 40.3,74.5 64,74.8 65,75 65.7,75.5 65,76 64,76.2 40.7,76.5 64,76.8 65.5,77.5 64,78.2 56,78.4 42,78.4 40,77.2 39,77.2 39,75.8 40.1,75.5 40,74.8 39,74.8ZM42.4,79.5 43,78.6 56,78.6 64,78.8 65,79.2 65.3,79.5 64.6,83.5 61.7,94.5 48.4,94.5 49,93.6 59.2,93.5 49,93.4 48.4,92.5 49,91.6 60.1,91.5 49,91.4 47.4,90.5 48,89.6 60,89.7 60.6,88.5 47,88.4 46.4,87.5 47,86.6 61,86.8 61,86.2 46,86.4 45.4,85.5 46,84.6 61,84.8 62,84.7 62.3,84.5 62,84.2 45,84.4 44.4,83.5 45,82.6 63,82.8 63.4,82.5 63,82.2 44,82.4 43.4,81.5 44,80.6 63,80.8 64.7,80.5 63,80.2 43,80.4ZM218.9,90.5 219,90.4 219,90.5 219,90.5ZM220,91.5 220,91.4 220,91.5 220,91.5Z"/><path fill="#2e2e2e" d="M39,13.5 272,13.5 272,75.5 266,80.5 262.8,82.5 255,85 243,86.6 232,87.1 223,86.8 221,87.1 218,88.6 217,88.3 217.2,89.5 215,92 214.3,94.5 138.8,94.5 136,88.3 134,86.4 130,86.6 128,86.2 109.9,78.5 84,69.3 74,64.9 68,60.9 67,60.6 65,61.1 39,61.5 39,60.1 41,59.7 66,60.1 66.6,59.5 65,59.1 41,59.3 39,58.9 39,57.8 63,57.9 63.9,57.5 63,57.1 41,57.3 40,56.1 39,56.1 39,55 40,55 40.3,54.5 40,53.8 39,53.8 39,52.3 46,52.2 46.4,51.5 46,51.1 39,51 39,49.9 46,49.9 46.3,49.5 46,48.6 39,48.5 39,47.1 46,47.1 46.4,46.5 46,46 39,45.9 39,44.8 46,44.7 46.2,43.5 45,43.2 39,43.1 39,42 46,42 46.4,41.5 46,40.9 39,40.8 39,39.3 46,39.2 46.3,38.5 46,38.1 39,38 39,36.9 46,36.9 46.3,36.5 46,35.6 39,35.5 39,34.1 46,34.1 46.4,33.5 46,33 39,32.9 39,31.8 46,31.7 46.2,30.5 45,30.2 39,30.1 39,29 46,29 46.3,28.5 46,27.9 39,27.8 39,26.3 46,26.2 46.3,25.5 46,25.1 39,25 39,23.9 45,23.9 46,23.8 46.2,23.5 46,22.6 45,22.5 39,22.5 39,21.1 46,21 46.3,20.5 46,20 39,19.9 39,18.8 46,18.6 46.1,17.5 45,17.2 39,17.1 39,16 46,15.9 46.3,15.5 46,14.9 45,14.8 39,14.8ZM41,55.3 40.6,55.5 63,55.9 63.2,55.5ZM40.2,62.5 41,61.7 65,61.9 66,62.5 65,63.1 40.6,63.5 65,64 65.7,64.5 65,65 40.2,65.5 65,65.9 65.8,66.5 65,67.1 64,67.1 41,67.3 39,66.8 39,65.3 40,65.3 40.2,64.5 40,64 39,64 39,62.9 40,62.9ZM39,68.5 39,68 41,67.7 65,67.9 66.3,68.5 66.6,69.5 65,70.1 41,70.3 40,69.1 39,69.1ZM39,71.5 39,70.8 41,70.7 65,70.9 66.1,71.5 65,72.1 56,72.3 41,72.3 39,71.9ZM39,73.5 39,73.1 41,72.7 64,72.9 65,73 65.8,73.5 65,74 64,74.1 40,74.5 39,74.5ZM40.2,75.5 41,74.7 64,74.9 65.5,75.5 64,76.1 40.6,76.5 64,76.9 65.4,77.5 64,78.1 56,78.3 42,78.3 41,78 40,77 39,77 39,75.9 40,75.9ZM42.5,79.5 43,78.7 64,78.9 65.2,79.5 65,80.4 63,80.1 43,80.3ZM43.5,81.5 44,80.7 64,80.8 64.8,81.5 61.6,94.5 48.5,94.5 49,93.7 59,93.8 59.3,93.5 59,93.2 49,93.3 48.5,92.5 49,91.7 59,91.8 60.2,91.5 59,91.2 49,91.3 47.5,90.5 48,89.7 60,89.8 60.8,88.5 60,88.2 47,88.3 46.5,87.5 47,86.7 61,86.8 61.3,86.5 61,86.2 46,86.3 45.5,85.5 46,84.7 61,84.8 62,84.8 62.4,84.5 62,84.1 45,84.3 44.5,83.5 45,82.7 63,82.8 63.5,82.5 63,82.1 44,82.3Z"/><path fill="#323232" d="M39,14.5 39,13.7 45.4,13.5 272,13.5 272,74.8 268,77.4 261.8,82.5 256,84.3 250,85.5 243,86.2 232,86.7 223,86.4 221,86.7 218,88.2 217,87.9 216.7,89.5 215,91.6 214.1,94.5 139,94.5 136,87.9 134,86.1 130,86.3 128,85.9 110.7,78.5 82,68.2 73,64 68,60.6 67,60.5 66.7,59.5 66,59.1 41,59.2 39,58.8 39,58 41,57.8 63,58 64,57.5 63,57 41,57.2 40,56 39,56 39,55.2 40,55.2 40.4,54.5 40,53.6 39,53.6 39,52.7 40,52.7 40.4,53.5 41,53.6 46,53.6 46.3,53.5 45.6,52.5 46,52.5 46.5,51.5 46,50.9 39,50.9 39,50.1 46,50 46.4,49.5 46,48.2 39,48.1 39,47.3 46,47.2 46.5,46.5 46,45.8 39,45.8 39,45 46,44.9 46.3,43.5 46,43 39,43 39,42.2 46,42.1 46.5,41.5 46,40.7 39,40.6 39,39.7 45,39.7 46,39.5 46.4,38.5 46,37.9 39,37.9 39,37.1 46,37 46.4,36.5 46,35.2 39,35.1 39,34.3 46,34.2 46.5,33.5 46,32.8 39,32.8 39,32 46,31.9 46.3,30.5 46,30 39,30 39,29.2 46,29.1 46.4,28.5 46,27.7 39,27.6 39,26.7 45,26.7 46,26.5 46.4,25.5 46,24.9 39,24.9 39,24.1 46,24 46.3,23.5 46,22.2 39,22.1 39,21.3 46,21.2 46.4,20.5 46,19.9 39,19.8 39,19 46,18.9 46,17 39,17 39,16.2 46,16.1 46.4,15.5 46,14.7ZM216,87.3 215.9,87.5 216,87.7 216.4,87.5ZM41,55.2 40.4,55.5 63,55.9 63.2,55.5 61,55.2ZM39,60.5 41,59.8 65,60 67,60.5 65,61 56,61.2 41,61.2 39,61.1ZM40.3,62.5 41,61.8 65,62 65.9,62.5 65,63 40.4,63.5 64,64 65.6,64.5 65,65 56,65.2 41,65.2 40,63.9 39,63.9 39,63.1 40,63.1ZM39,66.5 39,65.7 40,65.7 64,66 65,66 65.7,66.5 65,67 56,67.2 41,67.2ZM39,68.5 39,68.2 41,67.8 65,68 66.1,68.5 66.4,69.5 65,70 41,70.2 40,69 39,69ZM39,71.5 39,71 41,70.8 65,71 66,71.5 65,72 56,72.2 41,72.2 39,71.8ZM39,73.5 41,72.8 64,73 65.7,73.5 65,74 56,74.2 41,74.2 39,74.1ZM40.3,75.5 41,74.8 64,75 65.4,75.5 64,76 40.4,76.5 64,77 65.3,77.5 64,78 56,78.2 42,78.2 40.3,77.5 40,76.9 39,76.9 39,76.1 40,76.1ZM42.5,79.5 43,78.8 64,79 65.1,79.5 64,80.1 56,80.2 43,80.2ZM43.5,81.5 44,80.8 64,80.9 64.7,81.5 64.5,82.5 61.5,94.5 48.5,94.5 49,93.8 59,93.8 59.4,93.5 59,93.2 49,93.2 48.5,92.5 49,91.8 59,91.8 60.3,91.5 59,91.2 49,91.2 47.5,90.5 48,89.8 60,89.9 61,88.5 60,88.1 47,88.2 46.5,87.5 47,86.8 61,86.9 61.3,86.5 61,86.1 46,86.2 45.5,85.5 46,84.8 62,84.8 62.4,84.5 62,84.1 45,84.2 44.5,83.5 45,82.8 63,82.9 63.6,82.5 63,82 44,82.2Z"/><path fill="#363636" d="M45.7,14.5 46.1,13.5 272,13.5 272,73.8 267.3,76.5 260.5,82.5 256,83.9 250,85.1 243,85.8 232,86.3 222,86.1 220,86.6 218,87.9 216,87 215.8,87.5 216.5,88.5 216.3,89.5 214.8,91.5 213.9,94.5 139.2,94.5 136,87.5 134,85.8 130,86 128,85.6 108.9,77.5 84,68.7 74,64.2 68,60.3 67,60.2 66.8,59.5 66,59 41,59.2 40,58.6 39,58.6 39,58.2 41,57.8 63,58 64.1,57.5 63,57 41,57.2 40,55.8 39,55.8 39,55.3 40,55.3 41,55.8 63,56 63.2,55.5 61,55.1 41,55.1 40.5,54.5 41,53.7 46.7,53.5 46.2,52.5 46.7,51.5 46,50.8 39,50.7 39,50.2 46,50.2 46.6,49.5 46,47.8 39,47.4 46,47.4 46.7,46.5 46,45.7 39,45.6 39,45.2 46,45.2 46.5,43.5 46,42.8 39,42.8 39,42.3 46,42.3 46.6,41.5 46,40.5 46.6,38.5 46,37.8 39,37.7 39,37.2 46,37.2 46.5,36.5 46,34.8 39,34.4 46,34.4 46.6,33.5 46,32.7 39,32.6 39,32.2 46,32.2 46.4,30.5 46,29.8 39,29.8 39,29.3 46,29.2 46.5,28.5 45.9,27.5 46.5,25.5 46,24.8 39,24.7 39,24.2 46,24.2 46.4,23.5 46,21.8 39,21.4 46,21.4 46.5,20.5 46,19.7 39,19.6 39,19.2 46,19.1 46.4,17.5 46,16.9 39,16.8 39,16.3 46,16.2 46.5,15.5ZM215,86.4 215,86.5 215,86.5 215.1,86.5ZM39,60.5 40,60.4 41,59.8 56,59.8 65,60.1 66.7,60.5 65,60.9 56,61.2 41,61.2ZM40.3,62.5 41,61.8 56,61.8 65,62.1 65.7,62.5 65,62.9 41,63.2 40.3,63.5 41,63.8 64,64.1 65.5,64.5 64,64.9 56,65.2 41,65.2 40,63.7 39,63.7 39,63.2 40,63.2ZM40,66.5 41,65.8 56,65.8 65,66.1 65.6,66.5 65,66.9 56,67.2 41,67.2ZM39,68.5 41,67.8 65,68.1 66,68.5 66.3,69.5 65,69.9 56,70.2 41,70.2 40,68.8 39,68.8ZM39,71.5 41,70.8 56,70.8 65,71.1 65.9,71.5 65,71.9 56,72.2 41,72.2ZM39,73.5 40,73.4 41,72.8 56,72.8 64,73.1 65.6,73.5 64,73.9 56,74.2 41,74.2ZM40.3,75.5 41,74.8 64,75.1 65.3,75.5 64,75.9 41,76.2 40.3,76.5 41,76.8 64,77.1 65.2,77.5 64,77.9 56,78.2 42,78.2 40.4,77.5 40,76.7 39,76.7 39,76.2 40,76.2ZM42.6,79.5 43,78.8 64,79.1 64.9,79.5 64,80.1 56,80.2 43,80.2ZM43.6,81.5 44,80.8 64,81 64.6,81.5 64.4,82.5 61.4,94.5 48.6,94.5 49,93.8 59,93.9 59.5,93.5 59,93.1 49,93.2 48.6,92.5 49,91.8 59,91.9 60.3,91.5 59,91.1 49,91.2 47.6,90.5 48,89.8 60,89.9 61.1,88.5 60,88.1 47,88.2 46.6,87.5 47,86.8 61,87 61.4,86.5 61,86 46,86.2 45.6,85.5 46,84.8 62,84.9 62.5,84.5 62,84 45,84.2 44.6,83.5 45,82.8 63,83 63.7,82.5 63,82 44,82.2Z"/><path fill="#3a3a3a" d="M46.3,13.5 272,13.5 272,72.5 266.7,75.5 258.7,82.5 256.1,83.5 250,84.7 243,85.4 232,85.9 222,85.7 220,86.2 218,87.5 216,86.7 215.7,87.5 216.3,88.5 214.6,91.5 213.8,94.5 139.3,94.5 136,87.1 134,85.5 130,85.6 128,85.3 109.8,77.5 84,68.3 74,63.9 66,58.9 41,59.1 40,58.5 39,58.5 40,58.5 41,57.9 63,58.1 64.2,57.5 63,56.9 41,57.1 40.4,56.5 41,55.9 63,56.1 63.3,55.5 61,55.1 41,55 40.6,54.5 41,53.9 46,53.8 47,53.5 46.4,52.5 46.8,51.5 46,50.6 39,50.6 46,50.3 46.7,49.5 46.1,47.5 46.8,46.5 46,45.5 39,45.5 46,45.4 46.6,43.5 46,42.6 39,42.4 46,42.4 46.7,41.5 46.2,40.5 46.7,38.5 46,37.6 39,37.4 46,37.3 46.6,36.5 46,34.5 46.7,33.5 46,32.6 39,32.5 46,32.4 46.5,30.5 46,29.6 39,29.4 46,29.4 46.6,28.5 46.2,27.5 46.6,25.5 46,24.6 39,24.4 46,24.3 46.5,23.5 46,21.5 46.6,20.5 46,19.6 39,19.5 46,19.4 46.5,17.5 46,16.7 39,16.4 46,16.4 46.5,15.5 46.1,14.5ZM215,86 214.9,86.5 215,86.7 215.7,86.5ZM40.1,60.5 41,59.9 56,59.9 65,60.1 66.4,60.5 65,60.9 56,61.1 41,61.1ZM40.4,62.5 41,61.9 56,61.9 65,62.1 65.6,62.5 65,62.9 56,63.1 41,63.1ZM40.4,64.5 41,63.9 56,63.9 64,64.1 65.4,64.5 64,64.9 56,65.1 41,65.1ZM40.1,66.5 41,65.9 56,65.9 65,66.2 65.5,66.5 65,66.8 56,67.1 41,67.1ZM39,68.5 41,67.9 65,68.1 65.8,68.5 66.1,69.5 65,69.9 56,70.1 41,70.1 40,68.6ZM39,71.5 40,71.5 41,70.9 56,70.9 65,71.1 65.7,71.5 65,71.9 56,72.1 41,72.1 40,71.5ZM40.1,73.5 41,72.9 56,72.9 64,73.1 65.4,73.5 64,73.9 56,74.1 41,74.1ZM40.4,75.5 41,74.9 56,74.9 64,75.1 65.2,75.5 64,75.9 56,76.1 41,76.1ZM40.4,77.5 41,76.9 56,76.9 64,77.1 65.1,77.5 64,77.9 56,78.1 42,78.1ZM42.6,79.5 43,78.9 64,79.1 64.8,79.5 64,80 56,80.1 43,80.1ZM43.6,81.5 44,80.9 64,81.1 64.5,81.5 64.3,82.5 61.2,94.5 48.6,94.5 49,93.9 59,94 59.6,93.5 59,93 49,93.1 48.6,92.5 49,91.9 59,92 60.4,91.5 60,91.1 59,91 49,91.1 47.6,90.5 48,89.9 60,90 61.3,88.5 61,88.3 60,88 47,88.1 46.6,87.5 47,86.9 61,87 61.5,86.5 61,86 46,86.1 45.6,85.5 46,84.9 62,85 62.6,84.5 62,83.9 45,84.1 44.6,83.5 45,82.9 63,83 63.8,82.5 63,81.9 44,82.1Z"/><path fill="#3e3e3e" d="M46.4,13.5 272,13.5 272,71.2 266,74.6 257,82.5 254.3,83.5 248,84.5 241,85.1 232,85.5 223,85.2 220,85.8 218,87.1 217,87.1 215,85.7 214.8,86.5 216.1,88.5 214.4,91.5 213.6,94.5 139.5,94.5 136,86.8 134,85.2 130,85.3 128,85 110,77.3 84,68 74,63.6 69,60.2 66,58.9 41,59 40.1,58.5 41,58 63,58.2 64,58 64.2,57.5 63,56.8 41,57 40.4,56.5 41,56 63,56.2 63.3,55.5 61,55 41,54.9 40.6,54.5 41,54 46,54 47.6,53.5 46.6,52.5 46.9,51.5 46,50.5 46.9,49.5 46.3,47.5 46.9,46.5 46.2,45.5 46.7,43.5 46.1,42.5 46.8,41.5 46.4,40.5 46.8,38.5 46,37.5 46.7,36.5 46.2,34.5 46.8,33.5 46.1,32.5 46.6,30.5 46,29.5 46.7,28.5 46.3,27.5 46.7,25.5 46,24.5 46.6,23.5 46.2,21.5 46.7,20.5 46.1,19.5 46.6,17.5 46,16.5 46.6,15.5 46.3,14.5ZM214,85.5 214,85.5 214,85.5 214.1,85.5ZM40.2,60.5 41,60 56,60 66.2,60.5 56,61 41,61ZM40.5,62.5 41,62 56,62 65,62.2 65.5,62.5 65,62.8 56,63 41,63ZM40.5,64.5 41,64 56,64 65.3,64.5 56,65 41,65ZM40.2,66.5 41,66 56,66 65.4,66.5 56,67 41,67ZM40.1,68.5 41,68 65,68.2 65.7,68.5 66,69.5 56,70 41,70ZM40.1,71.5 41,71 56,71 65.6,71.5 56,72 41,72ZM40.2,73.5 41,73 56,73 65.3,73.5 56,74 41,74ZM40.5,75.5 41,75 56,75 65.1,75.5 56,76 41,76ZM40.5,77.5 41,77 56,77 64,77.2 64.9,77.5 64,77.8 56,78 42,78ZM42.7,79.5 43,79 56,79 64,79.2 64.6,79.5 64,79.9 56,80 43,80ZM43.7,81.5 44,81 56,81 64,81.2 64.3,81.5 64,83.1 63.9,82.5 63,81.8 44,82ZM44.7,83.5 45,83 63,83.1 63.9,83.5 61.1,94.5 48.7,94.5 49,94 59,94.1 59.7,93.5 59,92.9 49,93 48.7,92.5 49,92 59,92.1 60.5,91.5 60,91 49,91 47.7,90.5 48,90 60,90.1 61.4,88.5 61,88.1 47,88 46.7,87.5 47,87 61,87.1 61.5,86.5 61,85.9 46,86 45.7,85.5 46,85 61,85.1 62,85 62.7,84.5 62,83.9 45,84Z"/><path fill="#424242" d="M46.6,13.5 272,13.5 272,69.9 265,73.8 255.3,82.5 252.3,83.5 240,84.8 232,85.1 223,84.8 221,85 217,87 215,85.4 214,85.3 215.8,88.5 214.2,91.5 213.5,94.5 139.7,94.5 136,86.4 134,84.9 130,85 128,84.6 110,77 84,67.7 74,63.3 68,59.3 65,58.7 41,59 40.2,58.5 41,58 63,58.2 64,58.1 64.3,57.5 63,56.8 41,57 40.5,56.5 41,56 63,56.2 63.3,55.5 61,54.9 41,54.8 40.7,54.5 41,54.1 46,54.1 48.2,53.5 46.7,52.5 47.1,51.5 46.3,50.5 47,49.5 46.5,47.5 47,46.5 46.4,45.5 46.9,43.5 46.3,42.5 46.9,41.5 46.6,40.5 46.9,38.5 46.2,37.5 46.8,36.5 46.4,34.5 46.9,33.5 46.3,32.5 46.8,30.5 46.3,29.5 46.8,28.5 46.5,27.5 46.8,25.5 46.2,24.5 46.7,23.5 46.4,21.5 46.8,20.5 46.3,19.5 46.7,17.5 46.2,16.5 46.7,15.5ZM40.3,60.5 41,60 56,60 65.9,60.5 56,61 41,61ZM40.5,62.5 41,62 56,62 65.4,62.5 56,63 41,63ZM40.6,64.5 41,64 56,64 65.2,64.5 56,65 41,65ZM40.3,66.5 41,66 56,66 65.3,66.5 56,67 41,67ZM40.2,68.5 41,68 65,68.3 65.5,68.5 65.8,69.5 56,70 41,70ZM40.2,71.5 41,71 56,71 65.4,71.5 56,72 41,72ZM40.3,73.5 41,73 56,73 65.2,73.5 56,74 41,74ZM40.5,75.5 41,75 56,75 65,75.5 56,76 41,76ZM40.6,77.5 41,77 56,77 64.7,77.5 56,78 42,78ZM42.7,79.5 43,79 56,79 64.5,79.5 64,79.8 56,80 43,80ZM43.7,81.5 44,81 56,81 64.2,81.5 64,82.6 63,81.8 44,82ZM44.7,83.5 45,83 63,83.1 63.8,83.5 61,94.5 48.7,94.5 49,94 59,94.1 59.7,93.5 59,92.9 49,93 48.7,92.5 49,92 59,92.1 60.6,91.5 60,90.9 49,91 47.7,90.5 48,90 60,90.2 61.6,88.5 61,88 47,88 46.7,87.5 47,87 61,87.2 61.6,86.5 61,85.8 46,86 45.7,85.5 46,85 61,85.2 62,85.1 62.7,84.5 62,83.8 45,84Z"/><path fill="#464646" d="M46.7,13.5 272,13.5 272,68.6 264,73.1 254.8,81.5 253.6,82.5 252,83 248,83.8 241,84.3 232,84.7 222,84.5 220,85 217,86.8 215,85.4 214,85.1 213.9,85.5 215.4,87.5 215.6,88.5 214,91.4 213.3,94.5 139.9,94.5 136,86 134,84.5 130,84.7 128,84.3 110,76.7 84,67.4 74,63 68,59 65,58.6 41,58.9 40.4,58.5 41,58.1 63,58.3 64,58.2 64.3,57.5 63,56.7 41,56.9 40.6,56.5 41,56.1 63,56.3 63.4,55.5 63,55.1 61,54.9 40.8,54.5 41,54.2 46,54.2 48.7,53.5 47,52.6 47.3,51.5 46.5,50.5 47.3,49.5 46.7,47.5 47.3,46.5 46.6,45.5 47,43.5 46.5,42.5 47.2,41.5 46.7,40.5 47,38.5 46.5,37.5 47,36.5 46.6,34.5 47,33.5 46.5,32.5 46.9,30.5 46.5,29.5 46.9,28.5 46.6,27.5 46.9,25.5 46.4,24.5 46.8,23.5 46.5,21.5 46.9,20.5 46.5,19.5 46.8,17.5 46.4,16.5 46.8,15.5ZM50,53.4 49.6,53.5 51.1,53.5ZM40.4,60.5 41,60.1 65.6,60.5 56,60.9 41,60.9ZM40.6,62.5 41,62.1 65.2,62.5 56,62.9 41,62.9ZM40.6,64.5 41,64.1 65.1,64.5 56,64.9 41,64.9ZM40.4,66.5 41,66.1 65.2,66.5 56,66.9 41,66.9ZM40.3,68.5 41,68.1 65,68.4 65.5,69.5 41,69.9ZM40.4,71.5 41,71.1 65.3,71.5 56,71.9 41,71.9ZM40.4,73.5 41,73.1 65.1,73.5 56,73.9 41,73.9ZM40.6,75.5 41,75.1 64.7,75.5 56,75.9 41,75.9ZM40.6,77.5 41,77.1 64.5,77.5 56,77.9 42,77.9ZM42.8,79.5 43,79.1 64.3,79.5 56,79.9 43,79.9ZM43.8,81.5 44,81.1 64.1,81.5 64,82 63,81.7 44,81.9ZM44.8,83.5 45,83.1 63,83.2 63.6,83.5 60.8,94.5 48.8,94.5 49,94.1 59,94.2 59.8,93.5 59,92.8 49,92.9 49,92.1 59,92.2 60.7,91.5 60,90.8 49,90.9 47.8,90.5 48,90.1 60,90.2 61.7,88.5 61,87.9 47,87.9 46.8,87.5 47,87.1 61,87.3 61.6,86.5 61,85.7 46,85.9 45.8,85.5 46,85.1 61,85.3 62,85.1 62.8,84.5 62,83.7 45,83.9Z"/><path fill="#4a4a4a" d="M46.9,13.5 272,13.5 272,67.2 266,70.2 263,72.2 251.8,82.5 248,83.4 241,84 232,84.3 222,84.1 220,84.6 217,86.6 214,85 213.8,85.5 215.3,87.5 215.3,88.5 214,90.9 213.2,94.5 140,94.5 136,85.7 134,84.2 130,84.4 128,84 110,76.4 84,67.1 74,62.6 68,58.7 41,58.8 40.5,58.5 41,58.2 63,58.4 64,58.3 64.4,57.5 63,56.6 41,56.8 40.7,56.5 41,56.2 63,56.4 63.4,55.5 63,55.1 61,54.8 40.9,54.5 46,54.3 49,53.6 51.5,53.5 49,53.5 48,53 47.2,52.5 47.6,51.5 46.8,50.5 47.5,49.5 46.9,47.5 47.6,46.5 46.8,45.5 47.4,43.5 46.8,42.5 47.6,41.5 46.9,40.5 47,39.3 47.5,38.5 46.7,37.5 47.4,36.5 46.8,34.5 47.6,33.5 46.7,32.5 47,30.5 46.7,29.5 47,28.6 47.5,28.5 47,28.3 46.8,27.5 47,25.5 46.6,24.5 47,23.5 46.6,16.5ZM48,15.2 47.6,15.5 48,15.7 48.1,15.5ZM48,20.4 47.6,20.5 48,20.6 48.1,20.5ZM40.5,60.5 41,60.2 65.3,60.5 56,60.8 41,60.8ZM40.7,62.5 41,62.2 65.1,62.5 56,62.8 41,62.8ZM40.7,64.5 41,64.2 64.9,64.5 56,64.8 41,64.8ZM40.5,66.5 41,66.2 65.1,66.5 56,66.8 41,66.8ZM40.4,68.5 41,68.2 65,68.4 65.2,69.5 41,69.8ZM40.5,71.5 41,71.2 65.1,71.5 56,71.8 41,71.8ZM40.5,73.5 41,73.2 65,73.5 56,73.8 41,73.8ZM40.7,75.5 41,75.2 64.4,75.5 56,75.8 41,75.8ZM40.7,77.5 41,77.2 64.3,77.5 56,77.8 42,77.8ZM42.8,79.5 43,79.2 64.2,79.5 56,79.8 43,79.8ZM43.8,81.5 44,81.2 63.9,81.5 56,81.8 44,81.8ZM44.8,83.5 45,83.2 63.5,83.5 63,85.4 62.9,84.5 62,83.6 45,83.8ZM45.8,85.5 46,85.2 62,85.2 63,85.5 62,89.1 61,87.8 47,87.8 46.8,87.5 47,87.2 61,87.3 61.7,86.5 61,85.7 46,85.8ZM60.9,89.5 61.6,89.5 61.7,90.5 60.7,94.5 48.8,94.5 49,94.2 59,94.3 59.9,93.5 59,92.7 49,92.8 48.8,92.5 49,92.2 59,92.3 60.7,91.5 60,90.7 49,90.8 47.8,90.5 48,90.2 60,90.3Z"/><path fill="#4e4e4e" d="M46.9,14.5 47,13.8 48,13.5 272,13.5 272,65.7 265,69.3 262,71.3 254.8,78.5 250.1,82.5 240,83.6 222,83.7 220,84.2 217,86.3 214,84.8 213.8,85.5 215.1,87.5 213.9,90.5 213,94.5 140.2,94.5 136,85.3 134,83.9 130,84.1 128,83.7 110,76 84,66.8 74,62.3 68,58.4 56,58.7 40.6,58.5 64,58.5 64.4,57.5 63,56.6 40.7,56.5 63,56.4 63.4,55.5 63,55.1 61,54.8 41,54.5 46,54.4 51.8,53.5 51,53.1 49,53.3 48,52.8 47.5,52.5 47.9,51.5 47.1,50.5 47.8,49.5 47.3,47.5 47.9,46.5 47.1,45.5 47.8,43.5 47,42.5 48,41.5 47.3,40.5 48,38.5 46.9,37.5 48,36.5 47,34.5 48.1,33.5 46.9,32.5 47.8,31.5 48,30.5 46.9,29.5 48.2,28.5 48,28.1 47,27.6 47,26.5 48,26 48.2,25.5 47,25 46.8,24.5 47,23.9 48.2,23.5 48,22.7 47,22.7 46.9,21.5 47,20.9 48,21.1 48.3,20.5 48,20 47,20.1 46.8,16.5 47,15.5 48,16.1 48.3,15.5 48,14.7 47,15.5ZM48,17.1 47.1,17.5 47.3,18.5 48,18.7ZM40.6,68.5 64.9,68.5 64.9,69.5 41,69.7ZM44.8,83.5 63.4,83.5 63,84.9 62,83.6ZM45.8,85.5 62,85.2 62.8,85.5 62,88.6 61,87.7 46.8,87.5 61,87.4 61.8,86.5 61,85.6ZM61,89.5 61.5,90.5 61,92.8 60,93.5 60.6,94.5 48.8,94.5 59,94.3 60,93.5 59,92.7 48.8,92.5 59,92.3 60.8,91.5 60,90.7 47.8,90.5 60,90.4Z"/><path fill="#525252" d="M48.3,13.5 272,13.5 272,63.9 264,68.3 261,70.3 253.1,78.5 248.3,82.5 232,83.5 222,83.3 220,83.8 217,85.9 216,85.8 214,84.6 213.7,85.5 215,87.5 213.8,90.5 212.9,94.5 140.4,94.5 136,85 134,83.6 130,83.8 128,83.4 110,75.7 82,65.7 74,62 68,58.1 67,58 66,58.6 65,58.4 64.5,57.5 63,56.5 63.5,55.5 63,55.1 61,54.7 46.4,54.5 49,54 51,54 52.2,53.5 51,52.9 49,53.1 47.9,52.5 48.1,51.5 47.6,50.5 48.1,49.5 47.7,47.5 48.2,46.5 47.6,45.5 48.1,43.5 47.5,42.5 48.3,41.5 47.8,40.5 48.3,38.5 47.5,37.5 48.3,36.5 47.7,34.5 48.4,33.5 47.6,32.5 48,32.1 48.3,30.5 47.4,29.5 48.4,28.5 48,27.5 48.4,25.5 48,24.8 47.2,24.5 48,24.2 48.4,23.5 47.9,21.5 48.5,20.5 48,19.6 47.3,19.5 48,19.4 48.4,17.5 48,16.6 47,16.5 48,16.4 48.5,15.5 48.1,14.5ZM40.7,68.5 62.2,68.5 62.2,69.5 41,69.7ZM44.9,83.5 63.2,83.5 63,84.4 62,83.5ZM45.9,85.5 62.6,85.5 62,88.1 61,87.6 46.9,87.5 61,87.5 61.8,86.5 61,85.5ZM47.9,90.5 60,90.4 61,89.7 61.4,90.5 61,92.2 60.9,91.5 60,90.6ZM48.9,92.5 60,92.2 60.9,92.5 60,93.3 59,92.6ZM48.9,94.5 59,94.4 60,93.7 60.5,94.5Z"/><path fill="#565656" d="M48.5,13.5 272,13.5 272,61.8 260,69.2 252.3,77.5 247,82 244.9,82.5 238,82.9 222,82.9 220,83.4 217,85.5 216,85.7 214,84.5 213.6,85.5 214.8,87.5 213.6,90.5 212.8,94.5 140.6,94.5 136,84.7 134,83.3 130,83.5 128,83.1 110,75.4 82.3,65.5 74,61.7 68,57.8 67,57.7 66,58.5 65,58.3 64.5,57.5 63.1,56.5 63.5,55.5 63,55 61,54.7 47.1,54.5 51,54.2 52.5,53.5 51,52.7 49,53 48.2,52.5 48.4,51.5 48,50.5 48.4,49.5 48.1,47.5 48.5,46.5 48.1,45.5 48.4,43.5 48,42.5 48.5,41.5 48.2,40.5 48.5,38.5 48.1,37.5 48.5,36.5 48.2,34.5 48.6,33.5 48.1,32.5 48.5,30.5 48.1,29.5 48.6,28.5 48.3,27.5 48.6,25.5 48.1,24.5 48.6,23.5 48.3,21.5 48.7,20.5 48.2,19.5 48.6,17.5 48.2,16.5 48.7,15.5ZM40.8,68.5 59.6,68.5 59.6,69.5 41,69.6ZM62.5,83.5 63,83.5 63.1,83.5 63,83.9ZM61.2,85.5 62.4,85.5 62,87.6 61.7,87.5 61.9,86.5ZM60.1,90.5 61,89.9 61.3,90.5 61,91.7ZM48.9,92.5 60.7,92.5 60,93.2 59,92.5ZM48.9,94.5 59,94.5 60,93.9 60.3,94.5Z"/><path fill="#5a5a5a" d="M48.7,13.5 272,13.5 272,59.5 269,61.8 259,67.9 256.4,70.5 250.5,77.5 246.2,81.5 241,82.4 221,82.7 216,85.6 214,84.4 213.6,85.5 214.6,87.5 213.4,90.5 212.6,94.5 140.7,94.5 136.1,84.5 134,83 130,83.2 128,82.8 110,75.1 84,65.9 74,61.4 68,57.5 67,57.4 66,58.3 65,58.2 63.2,56.5 63.5,55.5 63,55 61,54.6 48.2,54.5 51,54.4 52.8,53.5 51,52.6 49,52.8 48.5,52.5 48.7,51.5 48.3,50.5 48.7,49.5 48.4,47.5 48.8,46.5 48.4,45.5 48.7,43.5 48.3,42.5 48.8,41.5 48.5,40.5 48.8,38.5 48.4,37.5 48.8,36.5 48.5,34.5 48.9,33.5 48.4,32.5 48.8,30.5 48.4,29.5 48.9,28.5 48.5,27.5 48.8,25.5 48.4,24.5 48.8,23.5 48.5,21.5 48.9,20.5 48.5,19.5 48.8,17.5 48.5,16.5 48.9,15.5ZM50,15.1 49.8,15.5 50,15.8 50.1,15.5ZM50,20.3 49.9,20.5 50,20.7 50.1,20.5ZM50,28.3 50,28.5 50,28.6 50.1,28.5ZM50,33.2 49.9,33.5 50,33.8 50.1,33.5ZM50,36.2 50,36.5 50,36.6 50.1,36.5ZM50,38.3 50,38.5 50,38.8 50.1,38.5ZM50,41.2 49.9,41.5 50,41.7 50.1,41.5ZM50,46.3 49.9,46.5 50,46.8 50.1,46.5ZM50,49.4 50,49.5 50,49.6 50,49.5ZM50,51.4 50,51.5 50,51.7 50.1,51.5ZM40.9,68.5 57,68.5 57,69.5 41,69.5ZM61.5,85.5 62.3,85.5 62,87.1ZM60.5,90.5 61,90.2 61.2,90.5 61,91.2ZM59.2,92.5 60,92.3 60.5,92.5 60,93ZM59.3,94.5 60,94.1 60.2,94.5 60,94.5Z"/><path fill="#5e5e5e" d="M49,13.5 49.3,14.5 49,14.8ZM51.1,13.5 272,13.5 272,56.9 268,60.1 260,65 257,67.4 249.7,76.5 244.5,81.5 232,82.3 223,82 220,82.6 216,85.4 214,84.3 213.5,85.5 214.4,87.5 213.2,90.5 212.5,94.5 140.9,94.5 136.3,84.5 134,82.7 130,82.9 128,82.5 110,74.8 84,65.5 74,61.1 68,57.1 67,57.1 66,57.9 65,58.1 63.2,56.5 63.5,55.5 63,55 61,54.5 51.3,54.5 53.2,53.5 51.1,52.5ZM48.8,16.5 49,16 49.5,16.5 49,17.2ZM48.8,19.5 49,18.6 49.5,19.5 49,20.1ZM48.8,21.5 49,20.9 49.5,21.5 49,23.1ZM48.7,24.5 49,23.7 49.6,24.5 49,25.3ZM48.9,26.5 49,25.8 49.5,27.5 49,28.2ZM48.7,29.5 49,28.7 49.6,29.5 49,30.5 49.5,32.5 49,33.2ZM48.8,34.5 49,33.8 49.5,34.5 49,36.3ZM48.7,37.5 49,36.6 49.6,37.5 49,38.4ZM48.8,39.5 49,38.7 49.5,40.5 49,41.3ZM48.6,42.5 49,41.6 49.6,42.5 49.2,43.5 49.6,45.5 49,46.4 48.6,45.5 48.9,43.5ZM48.7,47.5 49,46.6 49.6,47.5 49.1,49.5 49.6,50.5 49,51.5 49.5,52.5 49,52.6 48.6,50.5 49,49.5ZM61.8,85.5 62.1,85.5 62,86.6ZM60.9,90.5 61,90.4 61,90.5 61,90.6ZM59.5,92.5 60,92.4 60.3,92.5 60,92.8ZM59.7,94.5 60,94.4 60.1,94.5 60,94.5Z"/><path fill="#626262" d="M51.2,13.5 272,13.5 272,54 267,58.3 259,63.5 256,65.8 248,76.5 243,81.3 232,81.9 222,81.7 219,82.7 216,85 214,84.2 213.4,85.5 214.1,86.5 214.1,87.5 213.1,90.5 212.3,94.5 141.1,94.5 136.5,84.5 136,83.7 134,82.4 130,82.5 128,82.1 109,74.1 84,65.2 74,60.8 68,56.8 67,56.7 65,58 63.3,56.5 63.6,55.5 63,54.9 61,54.5 52.5,54.5 53.7,53.5 51.4,52.5ZM49,24.5 49,24.4 49.1,24.5 49,24.6ZM49,29.5 49,29.5 49,29.5 49,29.6ZM49,37.5 49,37.4 49.1,37.5 49,37.6ZM48.9,42.5 49,42.3 49.1,42.5 49,42.7ZM48.9,45.5 49,45.3 49.1,45.5 49,45.6ZM49,47.5 49,47.4 49.1,47.5 49,47.7ZM48.9,50.5 49,50.2 49.2,50.5 49,50.8ZM59.8,92.5 60,92.5 60.1,92.5 60,92.6Z"/><path fill="#666666" d="M51.4,13.5 272,13.5 272,50.8 267,55.5 254.8,64.5 252.3,67.5 246.2,76.5 242.2,80.5 239,81.2 221,81.4 219,82.3 216,84.7 214,84.1 213.4,85.5 214,87 213,90.1 212.2,94.5 141.3,94.5 136.7,84.5 136,83.3 134,82.1 130,82.2 128,81.8 110,74.2 80.5,63.5 74,60.4 68,56.5 67,56.4 65,57.9 63.4,56.5 63.6,55.5 63,54.9 59,53.9 57,54.5 54.1,54.5 54.7,53.5 53,53.3 51.6,52.5Z"/><path fill="#6a6a6a" d="M51.6,13.5 172.9,13.5 173,18.4 173,13.5 272,13.5 272,47.2 265.8,53.5 256,60.9 253.2,63.5 250.8,66.5 245.3,75.5 240.5,80.5 232,81.1 221,81 219,81.9 216,84.3 215,84.5 214,84.1 213.5,84.5 213.3,85.5 213.9,86.5 212,94.5 141.4,94.5 136.3,83.5 134,81.7 130,81.9 128,81.5 110,73.8 84,64.6 74,60.1 68,56.2 67,56.1 65,57.8 63.4,56.5 63.6,55.5 63,54.9 61,54.3 60,53.5 54,53.4 51.8,52.5ZM177,58.3 177,58.5 177,58.8 177,58.5Z"/><path fill="#6e6e6e" d="M51.7,13.5 172.9,13.5 173,19 173.1,13.5 272,13.5 272,43 265.4,50.5 255,59.1 251.5,62.5 249,65.9 243.5,75.5 239.9,79.5 239,80.2 237,80.5 221,80.6 219,81.5 216,83.8 215,84.2 214,84 213.4,84.5 213.3,85.5 213.7,86.5 211.9,94.5 141.6,94.5 136.6,83.5 136,82.6 134.2,81.5 130,81.6 128,81.2 111,73.9 84,64.3 74,59.8 68,55.9 67,55.8 65,57.7 63.5,56.5 63.7,55.5 63,54.8 61,54.3 60,53.4 54,53.3 52,52.5Z"/><path fill="#727272" d="M51.9,13.5 71.9,13.5 75,15.7 80,16.6 85,15.5 88.9,13.5 172.8,13.5 173,19.5 173.1,13.5 272,13.5 272,38.2 268.2,43.5 264,48.3 253,58.1 249.8,61.5 247,65.6 242.4,74.5 239.3,78.5 238.2,79.5 236,80.1 221,80.2 219,81 215,84 214,83.9 213.3,84.5 213.5,86.5 211.7,94.5 141.8,94.5 137,83.9 136,82.3 134.9,81.5 134,81.1 130,81.3 128,80.8 110,73.2 84,63.9 74,59.5 68,55.5 66.9,55.5 65,57.6 63.6,56.5 63.7,55.5 63,54.8 61,54.2 60,53.3 54,53.2 52.2,52.5ZM174,22.4 173.7,25.5 174,31Z"/><path fill="#767676" d="M52,13.5 68.8,13.5 70,17.2 72,19.5 75,20.5 79,20.8 84,20.2 89,18.7 93.2,16.5 97.3,13.5 172.8,13.5 173,20 173.2,13.5 272,13.5 272,31.7 268.1,38.5 263.8,44.5 259.2,49.5 250.7,57.5 247.3,61.5 244.8,65.5 240.6,74.5 237.6,78.5 236,79.6 223,79.5 221,79.7 219,80.6 215.5,83.5 214,83.8 213.2,84.5 213.3,86.5 211.6,94.5 141.9,94.5 137,83.5 136,81.9 135,81.2 134,80.8 130,80.9 128,80.5 110,72.8 84,63.6 74,59.1 68,55.2 67,55.1 66,55.8 65,57.5 63.6,56.5 63.7,55.5 63,54.8 61,54.1 60,53.2 54,53.1 52.4,52.5ZM174,21.9 173.7,25.5 174,31.5 174.3,28.5ZM175,33.5 174.7,36.5 175,42.8 175.3,39.5ZM176,45.3 175.7,48.5 176,54.2 176.3,50.5Z"/><path fill="#7a7a7a" d="M52.1,13.5 67.6,13.5 68.7,19.5 70,22.3 71,23.2 73,23.9 78,24.3 85,23.6 92.1,21.5 98.2,18.5 104.8,13.5 172.7,13.5 173,20.4 173.4,18.5 173.2,13.5 271.5,13.5 269.1,28.5 266.1,35.5 263.1,40.5 259.3,45.5 249,56.1 245.4,60.5 243.1,64.5 239.4,73.5 237.6,76.5 235.8,78.5 234,79.2 223,79.1 221,79.3 219,80.1 215.1,83.5 214,83.7 213.1,84.5 213.1,86.5 211.4,94.5 142.1,94.5 137,83 135,80.9 134,80.4 130,80.6 128,80.2 111,72.9 84,63.2 74,58.8 68,54.9 67,54.8 66,55.4 65,57.1 63.7,56.5 63.8,55.5 63,54.7 61,54.1 60,53.1 53,52.7 52.6,52.5ZM174,21.4 173.6,24.5 174,31.9 174.4,28.5ZM175,33.1 174.6,36.5 175,43.3 175.3,40.5ZM176,44.9 175.7,47.5 176,54.6 176.3,51.5ZM177,56.6 176.7,58.5 177,60.3Z"/><path fill="#7e7e7e" d="M52.2,13.5 66.8,13.5 67.8,21.5 69,24.8 70,26 72,26.9 78,27.3 87,26.3 96.8,23.5 104.5,19.5 108.8,16.5 112.3,13.5 172.7,13.5 173,20.9 173.4,20.5 173.4,19.5 173.3,13.5 265.9,13.5 264.7,27.5 263.7,31.5 261.6,36.5 256.6,44.5 246.6,55.5 243,60.3 240.7,64.5 237.9,72.5 236,76.2 234,78.3 233,78.7 221,78.9 218,80.4 214.7,83.5 213,84.5 212.9,86.5 211.3,94.5 142.3,94.5 137,82.6 135,80.5 134,80.1 130,80.2 128,79.8 110,72.1 84,62.9 74,58.4 68,54.5 67,54.4 66,55.1 65,56.6 64,56.6 63.8,55.5 63,54.7 61,54 60,53.1 53,52.6 52.3,29.5ZM174,21 173.6,21.5 173.5,22.5 174,32.3 174.4,30.5ZM175,32.7 174.6,34.5 175,43.7 175.4,40.5ZM176,44.4 175.6,47.5 176,55 176.4,51.5ZM177,56.2 176.6,58.5 177,60.5ZM186,44 186,54.6 186.3,46.5ZM187,34.2 186.7,41.5 187,43Z"/><path fill="#818181" d="M52.3,13.5 66.2,13.5 67,22.5 67.8,25.5 69,27.7 70,28.7 72,29.5 79,30 84,29.6 90,28.6 96,27.2 101,25.5 112.7,19.5 120.6,13.5 172.6,13.5 172.8,19.5 173.4,22.5 174,32.5 174.4,33.5 175,44.1 175.5,43.5 175.3,35.5 175,32.3 174.6,31.5 173.3,13.5 260.5,13.5 260.2,16.5 260.3,26.5 259.3,32.5 256.4,39.5 252.6,45.5 244.6,54.5 241,59.5 238.4,64.5 236,72.5 234.5,75.5 232.7,77.5 231,78.4 221,78.4 219,79.2 217,80.7 212.9,84.5 211.1,94.5 142.5,94.5 137,82.2 135,80.1 134,79.7 130,79.9 128,79.5 110,71.8 84,62.6 74,58.1 68,54.2 67,54.1 66,54.7 64.8,56.5 64,56.6 63.8,55.5 63,54.7 61,53.9 60,53 55,52.9 53,52.5ZM176,44.1 175.5,44.5 176,55.4 176.4,54.5 176.4,52.5ZM177,55.8 176.6,56.5 176.6,58.5 177,60.8ZM187,33.3 185.9,44.5 186,54.9 186.5,45.5 187,43.5Z"/><path fill="#858585" d="M52.4,13.5 65.7,13.5 66.6,24.5 68,28.5 69,30 70,31 72,31.9 79,32.5 89,31.5 98,29.7 102,28.5 127,18 130,16.2 132.4,13.5 172.5,13.5 172.8,19.5 174.4,34.5 174.9,43.5 175.4,45.5 175.9,54.5 177,61.1 177.2,57.5 176.5,54.5 176.2,45.5 175.6,42.5 175.3,34.5 174.6,30.5 173.4,13.5 188,13.5 188,24.3 188,13.5 256.1,13.5 256.3,27.5 255.3,33.5 253.1,39.5 250.1,44.5 242.5,53.5 239,58.7 236,64.9 234.3,71.5 233,74.5 230.3,77.5 228,77.9 221,78 219,78.8 216,81.1 212.7,84.5 211,94.5 142.6,94.5 137,81.8 135,79.8 134,79.4 130,79.5 128,79.1 111,71.8 84,62.2 74,57.7 68,53.8 67,53.7 66,54.3 64.4,56.5 64,56.6 63.9,55.5 63,54.6 62,53.9 61,53.8 60,52.9 53.2,52.5 52.5,29.5ZM185,14.9 184.7,23.5 185,35.3 185.3,27.5ZM187,32.4 185.9,43.5 186,55.2 187.1,43.5Z"/><path fill="#898989" d="M52.5,13.5 65.2,13.5 66,24.9 67,28.3 69,32.3 70,33.2 72,34.2 80,34.9 88,34.3 99,32.2 115,27.2 134,22.2 137,20.9 139,19.1 140.3,16.5 140.7,13.5 172.5,13.5 172.7,19.5 175.4,46.5 175.8,54.5 177,61.3 177.2,57.5 176.6,53.5 176.2,45.5 175.6,41.5 173.4,13.5 187.9,13.5 188,25.1 188.1,13.5 252.9,13.5 252.8,27.5 251.7,34.5 249.5,40.5 247,44.5 240,53.2 237,58.1 234,64.5 232.2,71.5 230.8,74.5 228,77.4 221,77.5 219,78.3 216,80.6 212.6,84.5 210.8,94.5 142.8,94.5 137.1,81.5 135,79.4 134,79 130,79.2 128,78.7 110,71.1 84,61.8 74,57.3 68,53.5 67,53.4 66,53.9 64,56.5 63.9,55.5 63,54.6 62,53.8 61,53.8 60,52.8 53.6,52.5 52.6,29.5ZM156,16.1 155.4,16.5 156,18.8 157,18.8 157.2,16.5ZM185,14.2 184.7,23.5 185,36.2 185.3,27.5ZM187,31.6 185.8,43.5 186,55.5 187.1,43.5Z"/><path fill="#8d8d8d" d="M52.6,13.5 64.8,13.5 65.6,25.5 67,30.4 69,34.4 71,36 73,36.7 81,37.5 86,37.2 92,36.3 125,28.2 139,25.7 142.9,23.5 145,21.3 146.6,17.5 146.7,13.5 172.4,13.5 172.7,19.5 175.8,54.5 177,61.6 177.3,57.5 176.7,53.5 173.5,13.5 187.9,13.5 188,25.8 188.2,13.5 250.3,13.5 249.3,30.5 248.3,35.5 246.4,40.5 245,42.9 239,50.8 236,55.7 232.4,63.5 230,71.7 227.8,75.5 226.9,76.5 226,76.7 221,77 219,77.8 215.6,80.5 212.4,84.5 210.6,94.5 143,94.5 137.3,81.5 135,79 134,78.6 130,78.8 128,78.4 111,71.1 84,61.5 74,57 68,53.1 67,53 66,53.6 64,56.3 63.9,55.5 63,54.6 62,53.7 61,53.7 60,52.7 53.9,52.5 52.7,29.5ZM155,15.3 153.9,16.5 155.9,23.5 157,25.6 158,23.3 158.1,16.5 157,15.3ZM185,13.8 184.6,22.5 185,37.1 185.4,28.5ZM187,30.9 185.7,42.5 186,55.7 187.2,43.5Z"/><path fill="#919191" d="M52.8,13.5 64.5,13.5 65.1,25.5 67,32.5 69,36.6 71,38.4 73,39.3 77,40.2 82,40.4 89,39.7 125,31.1 140,28.7 144,26.9 147,24.7 148.8,22.5 151,18.3 152,18.1 156,27.3 157,29.1 158,29.7 158.6,27.5 158.8,24.5 158.7,16.5 158.3,15.5 156,14.5 152,15.2 151,14.6 150.5,13.5 172.4,13.5 175.7,54.5 177,61.8 177.3,57.5 173.5,13.5 184.9,13.5 184.6,14.5 184.5,22.5 185,38 185.3,36.5 185.4,30.5 185,13.5 187.8,13.5 187.7,21.5 188,26.5 188.2,13.5 247.8,13.5 246.5,29.5 245.2,35.5 243.7,39.5 238,48.2 234,55.3 230.8,62.5 227.9,71.5 226.3,74.5 225,76 221,76.5 218,78 215,80.6 212.3,84.5 210.5,94.5 143.2,94.5 137.5,81.5 136.1,79.5 135,78.6 134,78.3 130,78.4 128,78 109,69.9 84,61.1 74,56.6 68,52.7 67,52.6 66,53.1 64,55.9 62,53.6 61,53.6 60,52.6 54.5,52.5 52.8,30.5ZM187,30.1 185.6,41.5 185.7,53.5 186,56 187.2,43.5 187.3,34.5Z"/><path fill="#959595" d="M52.9,13.5 64.2,13.5 64.7,25.5 66.7,33.5 68,37.2 70,40.4 73,42.9 76,44 80,44.3 88,43.3 100,39.7 117.1,35.5 128,33.1 140,31.1 146.4,28.5 152,24.4 153,24.7 154,26 157,31.4 158,32.2 159,31.2 159.3,29.5 159.2,16.5 158.9,15.5 158,14.6 154.1,13.5 172.3,13.5 175.7,54.5 177,62.1 177.4,57.5 173.6,13.5 184.7,13.5 184.7,32.5 185,38.8 185.4,40.5 185.6,53.5 186,56.2 187.2,45.5 187.4,32.5 187,29.4 186,38.5 185.5,36.5 185.1,13.5 187.8,13.5 187.6,23.5 188,27.2 188.3,13.5 245.3,13.5 243.8,28.5 242.8,33.5 241.4,37.5 232,55.2 229.3,61.5 226.2,70.5 224.7,73.5 223.3,75.5 219,76.8 217,78.3 215,80.1 213,82.8 212.2,84.5 211.4,87.5 210.3,94.5 143.4,94.5 137.2,80.5 135,78.2 134,77.9 130,78 128,77.6 110,69.9 83.5,60.5 76.7,57.5 74,55.7 73,55.6 71,53.7 68,52 67,51.9 66,52.7 64.2,54.5 64,55.4 62,53.6 61,53.5 60,52.6 55.6,52.5 54,44.9 53.4,36.5 52.8,25.5Z"/><path fill="#999999" d="M53,13.5 63.8,13.5 64.4,25.5 66,33.4 68.9,42.5 69.4,45.5 68.9,47.5 68,48.5 62,51.6 59,51.3 56,49.2 55,47.5 54,42.1 53.1,30.5ZM156.8,13.5 172.2,13.5 175.7,55.5 177,62.3 177.4,57.5 173.6,13.5 184.5,13.5 184.6,33.5 185.4,42.5 185.6,53.5 186,56.4 186.6,53.5 187.1,46.5 187.4,31.5 187,28.8 186,37.6 185.6,34.5 185.1,13.5 187.7,13.5 187.6,25.5 188,27.9 188.3,13.5 242.8,13.5 241.3,27.5 239.2,35.5 230,55.2 223,72.5 221,75.5 219,76.2 216,78.6 212.9,82.5 211.2,87.5 210.1,94.5 143.6,94.5 137.5,80.5 135,77.8 133,77.4 130,77.6 128,77.2 114,71.1 99.1,65.5 98,64.8 96.3,64.5 95,63.7 93.7,63.5 91.7,62.5 87.8,59.5 84.3,55.5 83.7,53.5 83.9,52.5 85.3,50.5 91.9,46.5 101,42.5 120,37.4 141,32.8 147,30.6 152,28 153,28.1 154,28.9 158,34.2 159,33.8 160,29.5 159.7,16.5 159,14.8Z"/><path fill="#9d9d9d" d="M53.1,13.5 63.6,13.5 64,25.4 67.3,43.5 67,45.5 66,47.3 63,49 60,49.4 58,48.9 56,47.4 55,45.2 54,39.7 53.2,30.5ZM158.3,13.5 172.2,13.5 175.7,55.5 177,62.6 177.4,57.5 173.7,13.5 184.3,13.5 184.6,34.5 185.3,43.5 185.5,53.5 186,56.6 186.7,53.5 187.2,46.5 187.6,29.5 188,28.5 188.3,23.5 188.4,13.5 240.2,13.5 238.7,27.5 236.6,35.5 221.9,70.5 218.9,75.5 215,79 212.6,82.5 210.8,88.5 210,94.5 200,94.5 200,93.9 199.9,94.5 143.8,94.5 138.2,81.5 137,79.2 136,78.1 134,77.1 130,77.2 128,76.8 117,71.9 105.7,67.5 105,66.9 103.5,66.5 95.8,57.5 94.7,54.5 95,52.5 96.1,50.5 98.2,48.5 103,45.9 118.5,40.5 142,34.3 152,30.6 153,30.6 154,31.1 158,36.1 159,36.1 160,33.6 160.5,29.5 160.2,16.5 159.5,14.5ZM185.2,13.5 187.7,13.5 187.4,26.5 186,36.8Z"/><path fill="#a1a1a1" d="M53.2,13.5 63.3,13.5 63.6,24.5 65.7,37.5 66.1,42.5 65.8,44.5 64.8,46.5 62,48.1 60,48.3 58,47.7 56,45.7 55,43.3 54,37.7 53.3,30.5ZM159.4,13.5 172.1,13.5 175.6,55.5 177,62.8 177.5,57.5 173.7,13.5 184.1,13.5 184.6,35.5 185.5,54.5 186,56.8 186.7,53.5 187.3,46.5 187.6,31.5 188.4,23.5 188.5,13.5 237.6,13.5 236.4,26.5 234.5,34.5 230,46.5 220.8,68.5 215.8,77.5 213,81 211.8,83.5 210.8,87.5 209.7,94.5 200.2,94.5 200,91.5 199.3,94.5 144,94.5 138.5,81.5 137,78.7 136,77.7 134,76.7 130,76.8 128,76.4 109.6,68.5 107.7,66.5 103.4,58.5 102.8,56.5 102.7,54.5 104.3,51.5 108.7,48.5 121.5,42.5 152,32.7 154,33 158,37.9 159,38.4 160.2,35.5 161.1,28.5 160.8,16.5 160.2,14.5ZM185.3,13.5 187.6,13.5 187.3,25.5 186,36Z"/><path fill="#a5a5a5" d="M53.3,13.5 63,13.5 63.3,24.5 64.3,30.5 65.3,41.5 64.9,43.5 64,45.5 62,47 60,47.3 58,46.5 56,44.2 55,41.6 54,36 53.4,29.5ZM160.4,13.5 172.1,13.5 175.6,55.5 176.3,60.5 177,63.1 177.5,59.5 177.4,56.5 173.8,13.5 183.9,13.5 184.6,36.5 185.5,54.5 186,57 186.7,54.5 187.2,47.5 187.7,32.5 188.4,23.5 188.5,13.5 234.9,13.5 234,26.5 232,35.5 228.5,45.5 221,63.7 215,75.5 211.5,83.5 209.4,94.5 200.4,94.5 200,88.9 199.2,89.5 199,90.3 198.9,94.5 144.3,94.5 138.2,80.5 137,78.2 136,77.3 134,76.2 130,76.4 128,75.9 113.5,69.5 112,67.5 110.5,64.5 109.4,60.5 109.3,57.5 110,55.5 111.3,53.5 113,52 122,45.9 136.7,39.5 152,34.5 154,34.8 155,35.6 158,39.9 159,40.9 159.4,40.5 160,39.8 160.5,37.5 161.6,29.5 161.3,16.5ZM165,14.3 165.2,22.5 166,30.1 166.5,24.5 166.3,14.5 166,13.8ZM185.3,13.5 187.6,13.5 187.3,24.5 186,35.1Z"/><path fill="#a9a9a9" d="M53.4,13.5 62.8,13.5 63,24.5 64.2,32.5 64.6,40.5 64.3,42.5 63.4,44.5 62.5,45.5 61,46.2 59,46 57.1,44.5 56,42.8 55,40 53.5,29.5ZM161.4,13.5 164.7,13.5 164.3,14.5 164.6,24.5 166,35.3 166.8,31.5 167.1,25.5 166.7,14.5 166.3,13.5 172,13.5 172.5,22.5 175.6,56.5 176.4,61.5 177,63.3 177.6,59.5 177.5,56.5 173.8,13.5 183.8,13.5 184.6,37.5 185.4,54.5 186,57.1 186.7,54.5 187.2,48.5 188.6,13.5 232.2,13.5 231.7,26.5 229.6,36.5 227,44.5 221,59.3 212.9,76.5 210.5,85.5 209.1,94.5 200.6,94.5 199.5,81.5 199,55.1 198.8,94.5 144.6,94.5 138.5,80.5 136.7,77.5 135,76.1 134,75.8 129,75.8 123.5,73.5 119.4,71.5 117.1,69.5 115.5,67.5 114.5,65.5 113.8,62.5 114.1,59.5 115,57.5 116.7,55.5 123.2,49.5 131,44.5 140,40.2 150,36.8 153,36.2 155,37.2 159,43.4 160,43.2 161,38.8 162.1,29.5 162,16.5ZM185.4,13.5 187.5,13.5 187.2,24.5 186,34.3Z"/><path fill="#adadad" d="M53.5,13.5 62.5,13.5 62.7,24.5 63.7,30.5 64.1,38.5 63.4,42.5 62.1,44.5 61,45.1 59,44.9 57.3,43.5 56,41.5 55,38.6 53.7,29.5ZM162.7,13.5 163,13.5 163.5,13.5 163,14.5ZM166.8,13.5 171.9,13.5 175.6,56.5 176.3,61.5 177,63.6 177.6,59.5 177.5,56.5 173.8,13.5 183.7,13.5 185.3,53.5 186,57.3 186.8,54.5 187.2,49.5 188.7,13.5 229.5,13.5 229.4,26.5 228.7,31.5 227,38.5 225.5,43.5 220,57.3 211.7,75.5 210.7,79.5 209.9,87.5 209,92.3 207.9,94.5 200.7,94.5 199.6,75.5 199,48.2 198.5,45.5 198,20.7 197.9,44.5 198.5,57.5 198.7,94.5 144.9,94.5 142.6,88.5 137,77.3 135,75.6 134,75.3 130,75.5 127.6,74.5 121,69.5 118.3,66.5 117.7,64.5 117.9,61.5 118.9,59.5 120.5,57.5 128.6,49.5 134.4,45.5 139.6,42.5 148,39.2 153,38 155,39 158.2,44.5 159,45 160,45.1 160.8,44.5 162.7,30.5 163,25.8 164,25.8 166,39.3 167,37.9 167.2,33.5 167.3,21.5 167.1,14.5ZM182,22.7 181.6,29.5 182,36.7ZM185.4,13.5 187.5,13.5 187.2,23.5 186,33.3Z"/><path fill="#b1b1b1" d="M53.7,13.5 62.3,13.5 62.5,24.5 63.4,30.5 63.6,37.5 63,41.5 62,43.3 61,44 60,44.2 58,43.2 56,40.2 55,37.2 53.8,29.5ZM167.2,13.5 171.8,13.5 175.5,56.5 176.2,61.5 177,63.8 177.7,59.5 177.6,56.5 173.9,13.5 183.6,13.5 185.3,54.5 186,57.5 186.7,55.5 187.2,50.5 188.7,13.5 226.9,13.5 227.2,26.5 226.5,31.5 225,38.5 218.9,55.5 210.8,73.5 209.5,78.5 208.2,89.5 206.1,94.5 200.9,94.5 199.7,71.5 198,14.2 197.7,14.5 197.8,39.5 198.6,94.5 145.7,94.5 143.8,89.5 137,76.7 135,75.1 131.1,74.5 123.7,67.5 122.3,65.5 122.1,63.5 122.8,61.5 127.4,55.5 133.8,49.5 142,43.8 149,40.7 153,39.9 155,40.9 158,45.4 160,45.8 161,45.3 161.6,44.5 163,33.5 164,32 166,43.6 167,44.4 167.7,25.5ZM181,13.8 181,29.5 182,45.5 182.4,31.5 182.2,14.5 182,13.8ZM185.5,13.5 187.4,13.5 187.1,23.5 186,32.4Z"/><path fill="#b5b5b5" d="M53.8,13.5 62,13.5 62.2,24.5 63.1,30.5 63.2,37.5 62,41.8 61,42.8 60,43.1 58,42.2 57,41 55,36 53.9,29.5ZM167.5,13.5 171.6,13.5 175.5,57.5 176.3,62.5 177,64.1 177.6,60.5 177.6,56.5 173.9,13.5 180.8,13.5 180.6,14.5 180.8,30.5 182,54.6 182.7,31.5 182.4,14.5 182.1,13.5 183.4,13.5 184,20.1 184.4,38.5 185.3,54.5 186,57.6 186.6,56.5 187.2,52.5 188.8,13.5 224.6,13.5 224.9,26.5 224.3,31.5 223,37.5 217.2,54.5 212.5,64.5 209.8,71.5 208.2,77.5 207,88.5 204.6,94.5 201.2,94.5 201,93.3 198,13.5 197.2,14.5 198.5,94.5 147,94.5 144.4,87.5 140,81.3 137.4,76.5 133.6,73.5 128.6,66.5 128,63.5 128.4,61.5 129.5,59.5 133.5,54.5 138.8,49.5 146,44.5 150,42.5 152,42 154,42.2 156.8,45.5 158,46.1 160,46.3 161,46 162.3,44.5 163,38 164,36 167,52 168,26.5ZM185.5,13.5 187.4,13.5 187,23.5 186,31.4Z"/><path fill="#b9b9b9" d="M53.9,13.5 61.8,13.5 62,24.5 62.8,30.5 62.8,35.5 62,40.2 61,41.6 60,42.1 58,41.2 57,39.9 55,34.8 54,28.4ZM167.8,13.5 171.5,13.5 175.5,57.5 176.2,62.5 177,64.3 177.7,60.5 177.6,55.5 174,13.5 180.6,13.5 180.6,30.5 182,64.7 182.6,55.5 182.9,33.5 182.4,13.5 183.3,13.5 183.4,18.5 184,21.6 184.5,41.5 185.3,55.5 186,57.8 186.7,56.5 187.3,52.5 188.9,13.5 197.4,13.5 196.9,14.5 198.4,94.5 148.3,94.5 146.4,88.5 145,85.4 138.1,75.5 134.3,68.5 133.4,64.5 134.4,60.5 137.2,56.5 142,51.5 146.9,47.5 152,44.8 154,44.9 158,46.8 161,46.5 162.5,45.5 164,40.2 165.6,47.5 167,62.1 168.3,25.5ZM185.6,13.5 187.3,13.5 187,22.9 186,30.2ZM198.2,13.5 222.4,13.5 222.7,25.5 221.3,34.5 215.4,53.5 211.6,61.5 209,68.6 207,76.5 205.9,87.5 203.4,94.5 201.6,94.5 200.9,89.5Z"/><path fill="#bdbdbd" d="M54,13.5 61.5,13.5 61.7,24.5 62.5,30.5 62.5,34.5 62,38.5 61,40.4 60,41 59,40.9 58,40.2 57,38.9 55,33.7 54,25.8ZM168.2,13.5 171.4,13.5 175.6,59.5 176.1,62.5 177,64.6 177.7,60.5 177.6,55.5 174.1,13.5 180.3,13.5 180.4,30.5 182,72.8 183,79.6 183.2,29.5 182.7,13.5 183.2,13.5 183.3,21.5 184,23.3 184.4,42.5 185.3,55.5 186,57.9 186.7,56.5 187.3,52.5 188.9,13.5 197,13.5 198.3,94.5 168.1,94.5 168,93.3 167.9,94.5 149.7,94.5 146.5,84.5 141.2,75.5 139.4,71.5 138.4,67.5 138.6,63.5 140.6,59.5 143.9,55.5 148.1,51.5 153,48.2 155,47.5 161,47.1 164,45 165,47 165.2,48.5 166.5,63.5 167,75.5 167.7,71.5 168.7,25.5ZM185.7,13.5 187.3,13.5 187,22 186,29ZM198.4,13.5 220.4,13.5 220.4,14.5 220.3,24.5 219.2,32.5 208,65.7 205.7,76.5 204.6,87.5 203,92.5 202,94.1 200.9,86.5Z"/><path fill="#c1c1c1" d="M54.2,13.5 61.3,13.5 61.4,24.5 62.3,30.5 62.2,33.5 61.6,37.5 61,39.1 60,39.9 59,39.9 57,37.9 55,32.7 54.2,25.5ZM168.7,13.5 171.3,13.5 172,19.1 172.3,26.5 173,30.1 173.4,37.5 174,40.5 174.4,47.5 175,51 175.6,60.5 176.2,63.5 177,64.8 177.8,60.5 177.7,55.5 174.3,13.5 180.1,13.5 180.2,30.5 181.9,77.5 182.8,86.5 182.6,94.5 168.7,94.5 168.3,86.5 168.3,54.5 169.2,23.5ZM182.9,13.5 183,13.5 183,13.5 183,14ZM185.7,13.5 187.2,13.5 187,21 186,27.7ZM189,13.5 196.8,13.5 198.2,94.5 183.3,94.5 183.3,47.5 183.7,27.5 184,25.6 184.4,44.5 185.3,56.5 186,58 186.8,56.5 187.4,52.5ZM198.6,13.5 218.2,13.5 218.3,14.5 217.9,22.5 217,29.9 215.6,34.5 211.5,44.5 208.3,55.5 204.7,74.5 203.6,86.5 203,89.2 202,91.1 201,84.4ZM161.5,47.5 164,46.6 165,50.8 166.3,68.5 167.1,89.5 167,94.5 151.4,94.5 148.6,84.5 143.5,72.5 142.9,68.5 143.3,65.5 145,61.5 148.3,57.5 156,51.1 158.4,48.5Z"/><path fill="#c5c5c5" d="M54.4,13.5 61,13.5 61.2,24.5 61.9,29.5 61.9,32.5 61.4,36.5 60,38.8 59,38.9 57,36.9 55,31.7 54.3,25.5ZM169.3,13.5 171.1,13.5 171.4,18.5 172,21.1 172.2,27.5 173,31.3 173.3,37.5 174,41.4 174.4,48.5 175,51.6 175.5,60.5 176.1,63.5 177,65.1 177.7,61.5 177.7,55.5 176,36.1 175.6,27.5 175,23.2 174.5,13.5 179.8,13.5 180,30.5 182.3,88.5 182.2,94.5 169.2,94.5 168.8,84.5 168.7,54.5 168.9,41.5 170,23.5ZM185.8,13.5 187.2,13.5 187,19.9 186,26.2ZM189.1,13.5 196.7,13.5 198.1,94.5 183.6,94.5 183.4,87.5 183.5,48.5 183.9,30.5 184,29 184.4,46.5 185.3,56.5 186,58.2 186.9,56.5 187.4,53.5ZM198.8,13.5 215.7,13.5 215.8,14.5 215,23 214,28.9 212.3,33.5 208,42.5 205.8,53.5 203.2,76.5 202.8,83.5 202,87.2 201,77.3ZM161.8,48.5 163,48 164,48.4 165,56.1 166.4,83.5 166.6,94.5 153.6,94.5 152.5,91.5 150.8,83.5 148,74.5 147.6,71.5 147.8,68.5 148.6,65.5 150.4,62.5 159,53.7Z"/><path fill="#c9c9c9" d="M54.6,13.5 60.8,13.5 60.9,24.5 61.6,29.5 61.6,32.5 60.8,36.5 60,37.6 59,37.9 58,37.3 57,36 55,30.5 54.5,24.5ZM170.7,13.5 171,13.5 171,17.7ZM174.7,13.5 179.5,13.5 179.8,30.5 181.9,85.5 181.9,94.5 169.5,94.5 169.1,52.5 169.5,42.5 170.5,30.5 171,27.8 172,25.8 172.3,30.5 173,33.3 173.3,39.5 174,42.5 174.4,49.5 175,52.4 175.5,61.5 176.3,64.5 177,65.3 177.8,61.5 177.7,53.5 176,35.1 175.7,26.5 175,21.8ZM185.8,13.5 187.1,13.5 187,18.6 186,24.4ZM189.3,13.5 196.6,13.5 198,94.5 184,94.5 183.6,86.5 184,33.5 184.4,49.5 185.2,56.5 186,58.3 186.7,57.5 187.5,53.5ZM199,13.5 211.8,13.5 212.1,15.5 211.5,22.5 210.5,27.5 204.7,42.5 203.5,53.5 203.3,61.5 202,74.8 201,68.8ZM162.8,53.5 163,53.1 164,54.4 165,62 166.1,85.5 166.2,94.5 156.4,94.5 155.1,91.5 154.4,88.5 152.8,74.5 153,69.5 153.8,66.5 155.4,63.5 160.2,57.5Z"/><path fill="#cdcdcd" d="M54.7,13.5 60.5,13.5 60.6,24.5 61.4,30.5 60.5,35.5 60,36.4 59,36.9 58,36.3 57,35 55,29.5ZM174.9,13.5 179.2,13.5 179.5,30.5 181.6,85.5 181.7,94.5 169.9,94.5 169.5,64.5 170,44.3 171,39.5 172,37.5 173,37.1 173.3,41.5 174,44 174.3,50.5 175,53.4 175.5,62.5 176.1,64.5 177,65.6 177.8,61.5 177.7,52.5 177,47.7 175.7,25.5 175,19.8ZM185.9,13.5 187.1,13.5 187,17 186,22.2ZM189.4,13.5 196.4,13.5 197.9,94.5 184.2,94.5 183.9,86.5 184,41.2 184.3,52.5 185,54.5 185.3,57.5 186,58.5 186.8,57.5 187.6,53.5 188,38.5 188.6,33.5ZM199.4,13.5 205.9,13.5 207.4,20.5 207,25.5 202.7,40.5 202,47.8 201,51.5 200.7,41.5 200,34.9ZM163,59.5 164,60.7 164.7,67.5 165.7,87.5 165.6,94.5 159.6,94.5 158.3,91.5 157.6,87.5 157.8,83.5 159,77.5 158.3,69.5 159.2,65.5Z"/><path fill="#d1d1d1" d="M54.9,13.5 60.3,13.5 60.4,24.5 61.1,30.5 60.3,34.5 60,35.2 59,35.8 58,35.4 57,34.1 55.3,29.5 54.9,24.5ZM175.4,13.5 178.9,13.5 179,14.1 179.2,30.5 180.1,48.5 181.5,94.5 170.3,94.5 170.1,92.5 169.9,78.5 170.2,54.5 171,48.6 173,43.8 173.4,45.5 174,46.3 174.2,51.5 175,54.6 175.5,63.5 176,64.9 177,65.8 177.8,62.5 177.8,53.5 176,31.5 175.2,15.5ZM186,13.5 187,13.5 186,19ZM189.5,13.5 196.3,13.5 197.7,94.5 184.4,94.5 184.2,58.5 184.5,56.5 185,55.8 185.1,57.5 186,58.7 187,57.5 187.5,55.5 188,39.9 188.6,34.5 189,19.5ZM199.9,13.5 202.2,13.5 203.6,21.5 203.2,26.5 201,36 200,26.7ZM163.6,77.5 164,76.9 165,85.7 165,92.9 164.5,94.5 163,94.2 161.9,91.5 161.3,88.5 161.8,83.5 163,78.6Z"/><path fill="#d5d5d5" d="M55.2,13.5 60,13.5 60.1,24.5 60.8,30.5 60,33.8 59,34.8 58,34.4 57,33.2 55.6,29.5 55.1,24.5ZM176,14.5 176.4,13.5 178.3,13.5 178.5,14.5 178.7,29.5 180,51.5 181.2,94.5 170.9,94.5 170.7,92.5 170.5,79.5 171,64.4 172.1,57.5 174,51.5 174.2,54.5 175,56.3 175.4,64.5 176,65.5 177,66.1 177.7,64.5 177.9,62.5 178.1,59.5 177.7,50.5 177,45.6ZM189.7,13.5 196.2,13.5 197.6,94.5 184.6,94.5 184.5,59.5 185,57.1 185.4,58.5 186,58.9 187.2,57.5 187.7,55.5 188,41.7 188.7,36.5 189,21.9Z"/><path fill="#d9d9d9" d="M55.5,13.5 59.6,13.5 59.7,24.5 60.4,30.5 60,32.3 59,33.7 58,33.5 57,32.3 55.9,29.5 55.4,24.5ZM176.9,14.5 177.6,14.5 178,15 178,30.5 179,40.5 180,59.3 181,94.5 172.1,94.5 171.3,87.5 172,78.3 173,76 174,71.8 175,61.6 175.2,65.5 177,66.3 177.8,64.5 178.4,59.5 177,43.6 177,31.3 177.8,29.5 177,26.5ZM189.8,13.5 196.1,13.5 197.4,94.5 184.8,94.5 184.8,59.5 185,58.3 186,59.1 186.8,58.5 187.7,56.5 188,44.2 188.8,38.5 189,26Z"/><path fill="#dddddd" d="M55.8,13.5 59.3,13.5 59.3,24.5 60.1,29.5 60,30.6 59,32.6 58,32.5 57,31.4 56.2,29.5 55.7,24.5ZM189.9,13.5 195.9,13.5 197.3,77.5 197.3,94.5 185.1,94.5 185,93.8 184.9,80.5 185.5,59.5 187,58.9 187.8,57.5 188,48.9 188.6,45.5 189.3,34.5ZM177.9,39.5 178,39 179.1,48.5 180.7,86.5 180.6,94.5 174.8,94.5 174,87.5 175,78.5 175.5,67.5 176,66.9 177,66.6 177.8,65.5 178.7,59.5 178,56 177.7,43.5Z"/><path fill="#e1e1e1" d="M56.1,13.5 58.9,13.5 59,24.5 59.6,29.5 59,31.4 58,31.6 57,30.5 56.2,25.5ZM190.3,13.5 195.7,13.5 195.8,14.5 197.1,76.5 197.1,94.5 185.5,94.5 185.3,92.5 185.2,84.5 186,68.2 188.4,59.5 189.7,47.5 190.3,35.5ZM178,47.5 178,47.2 178,52.8ZM179,57.5 179,57 180.4,86.5 180.2,94.5 175.8,94.5 175.3,86.5 176.4,67.5 177.6,66.5 178.7,63.5Z"/><path fill="#e5e5e5" d="M56.8,13.5 58.3,13.5 58.3,24.5 59,29.5 58,30.6 57.3,29.5 56.8,25.5ZM190.7,14.5 191,13.5 195.5,13.5 195.6,14.5 197,76 197,94.5 186,94.5 185.8,92.5 186,78.9 187,74.9 189,71.3 190.2,61.5 190.9,35.5ZM177.4,67.5 178,66.6 178.4,67.5 179,72.5 180,85.6 179.7,94.5 176.6,94.5 176.4,92.5 176.2,85.5Z"/><path fill="#e9e9e9" d="M191.6,13.5 195.3,13.5 195.4,14.5 196.9,82.5 196.7,94.5 189.9,94.5 187.4,92.5 186.9,90.5 187,87.3 188.9,82.5 190.7,69.5 191.5,35.5 191.2,14.5ZM177.9,79.5 178,79.2 179,82.3 179.3,85.5 179.3,90.5 178.9,94.5 177.5,94.5 176.9,90.5 177,84.1Z"/><path fill="#ededed" d="M191.7,14.5 192.3,13.5 195.1,13.5 195.3,14.5 196.6,81.5 196.4,94.5 191.5,94.5 190.8,90.5 190.8,78.5 191.8,59.5Z"/><path fill="#f1f1f1" d="M193,13.5 194.4,13.5 195.1,14.5 196.4,80.5 196.1,94.5 192.3,94.5 191.8,90.5 191.6,78.5 192.4,48.5 192.3,14.5Z"/><path fill="#f5f5f5" d="M192.8,14.5 194,13.8 194.6,14.5 194.8,17.5 196.1,79.5 196,90.5 195.5,94.5 193.1,94.5 192.5,89.5 192.3,78.5 192.9,61.5 193.1,36.5Z"/><path fill="#f9f9f9" d="M194,41.5 194,40.6 195.7,82.5 195.1,93.5 195,94.2 194,94.5 193.2,89.5 192.9,79.5Z"/><path fill="#fdfdfd" d="M193.9,74.5 194,73.6 195,75.8 195.1,80.5 195,87.6 194,88.8Z"/></g></g><g clip-path="url(#c2)"><g filter="url(#j2)"><rect x="399.5" y="13.0" width="233.0" height="82.0" fill="#000"/><path fill="#060606" d="M400,13.5 632,13.5 632,52 631,53 630,53.1 629,54 627,54.1 626,55 625,55.1 624,56 623,56 622,57 620,57.1 619,58 613,58.1 612,59 609,59.1 608,60 607,60.1 604.6,62.5 604.5,63.5 600.6,67.5 600.5,68.5 598.5,70.5 598.5,71.5 596.5,73.5 596.5,74.5 594.5,76.5 594.5,77.5 592.6,79.5 592.5,80.5 591.6,81.5 591.5,82.5 590.5,83.5 590.5,84.5 588.6,86.5 588.5,87.5 586,90 585,90.1 580.5,94.5 518.5,94.5 517,94 514,91.1 512,91 511,90.1 509,90 506,88.1 505,88 503,86.1 502,86 490,74.1 489,74 486,71.1 485,71 483,69.1 482,69 481,68.1 480,68 478,66.1 477,66 476,65.1 475,65 474,64.1 473,64 472,63.1 471,63 470,62.1 469,62 468,61.1 466,61 463,59.1 461,59 458,57.1 456,57 455,56.1 452,56 451,55.1 449,55 448,54.1 446,54 445,53.1 441,53 440,52.1 437,52.1 436.5,53.5 434.7,55.5 433.6,58.5 432.7,59.5 432.5,61.5 430.7,64.5 430.5,66.5 428.8,69.5 428.5,71.5 427.7,72.5 427.5,74.5 426.7,75.5 426.5,77.5 425.7,78.5 425.5,80.5 424.7,81.5 424.5,83.5 423.6,84.5 423,86.3 422,85.8 421.8,90.5 421.3,91.5 421.5,92.5 419,94.1 416,94.1 415.4,93.5 414,93.4 413.1,92.5 413.1,91.5 412.1,90.5 412.2,88.5 411.1,87.5 411.2,84.5 410.2,83.5 410.5,82.5 410,80.1 409,79.3 408.4,81.5 407,82.2 406.3,81.5 406.2,80.5 405.1,79.5 405.1,78.5 404.1,77.5 404,76.4 402,74.5 400,74.5Z"/><path fill="#0a0a0a" d="M400,13.5 632,13.5 632,51.6 631,52.5 630,52.6 629,53.5 627,53.7 626,54.5 625,54.6 622,56.4 620,56.6 619,57.4 613,57.6 612,58.3 609,58.6 608,59.5 607,59.6 604.1,62.5 603.8,63.5 600.1,67.5 600,68.4 598.1,70.5 597.8,71.5 596.1,73.5 595.8,74.5 594.1,76.5 593.8,77.5 592.1,79.5 592,80.5 591.1,81.5 589.9,84.5 588.1,86.5 588,87.5 586,89.5 585,89.6 580.1,94.5 519.1,94.5 518,93.6 517,93.4 514,90.8 512,90.5 511,89.7 509,89.5 505,87.4 503,85.7 502,85.4 490,73.8 489,73.5 486,70.8 485,70.5 483,68.8 480,67.4 478,65.7 477,65.5 470,61.7 469,61.6 468,60.8 466,60.4 463,58.7 461,58.4 458,56.8 456,56.5 455,55.8 452,55.4 451,54.7 449,54.5 448,53.7 446,53.5 445,52.8 441,52.4 440,51.8 437,51.8 434.4,55.5 432.5,59.5 432,61.5 428.5,69.5 424.1,83.5 423,84.9 422,84.4 421.6,90.5 420.9,91.5 421.1,92.5 419,93.6 417,94 415,93.3 414,93.3 413.2,92.5 413.3,91.5 412.1,90.5 412.3,88.5 411.2,87.5 411.6,86.5 411.1,85.5 411.4,84.5 410.4,83.5 410.9,82.5 410.2,81.5 410.4,80.5 409,77.8 408.5,80.5 408,81.4 407,81.9 406.6,81.5 406.4,80.5 405.2,79.5 405.2,78.5 404.2,77.5 404,76.3 402,74.4 400,74.4ZM427,46.4 426.7,46.5 428.3,46.5Z"/><path fill="#0e0e0e" d="M400,13.5 632,13.5 632,50 629,52 621,55.2 618,56.1 610,57.3 607,58.5 605.6,59.5 601.9,63.5 596,71.6 587,86.5 586,87.7 582.1,90.5 578.6,94.5 520.8,94.5 514,90.3 508,88.2 504,85.8 500,82.9 493.8,76.5 489,72.5 481.8,67.5 474.8,63.5 466.3,59.5 458.5,56.5 445.6,52.5 438,51.1 437,51.3 436,52.4 432.2,59.5 428.3,69.5 424,82.4 423,83.5 422,83 421.8,85.5 421.4,86.5 421.7,87.5 421.1,89.5 421.3,90.5 420.3,92.5 418,93.7 417,93.7 414,93.2 413.3,92.5 413.5,91.5 412.2,90.5 412.5,88.5 411.3,87.5 411.9,86.5 411.2,85.5 411.5,84.5 410.6,83.5 411.2,82.5 410.3,81.5 410.6,80.5 410,79.5 410,78.5 409.1,77.5 409,76.5 408.3,80.5 407,81.7 406.6,80.5 405.3,79.5 405.3,78.5 404.3,77.5 404,76.3 402,74.4 400,74.4ZM427,46.4 426.6,46.5 428,46.8 428.4,46.5Z"/><path fill="#121212" d="M400,13.5 632,13.5 632,48.7 629,50.8 621,54.1 618,55 610,56.2 607,57.3 605,58.7 601,63 595,71.2 585.7,86.5 581.6,89.5 577.2,94.5 521.9,94.5 514,89.6 509,88 504,85.1 500,82.2 494,76 489.9,72.5 482.9,67.5 476.1,63.5 465.5,58.5 457.5,55.5 444.3,51.5 438,50.4 437,50.6 436,51.7 433,57 429,66.8 424,81.5 423,82.1 422,81.6 421.9,83.5 421.3,84.5 421.7,85.5 421.1,86.5 421.6,87.5 420.8,89.5 421.1,90.5 420,92.1 418,93.4 414,93.2 413.3,92.5 413.6,91.5 412.3,90.5 412.7,89.5 412.6,88.5 411.4,87.5 412.2,86.5 411.3,85.5 411.7,84.5 410.9,83.5 411.4,82.5 410.4,81.5 410.8,80.5 410.1,79.5 410.2,78.5 409.2,77.5 409,75.2 408.4,79.5 408,80.5 407,81.2 406.8,80.5 405.4,79.5 405.4,78.5 404.4,77.5 404.2,76.5 403.3,75.5 402,74.3 400,74.3ZM427,46.3 426.5,46.5 428,46.9 428.5,46.5Z"/><path fill="#161616" d="M400,13.5 632,13.5 632,47.6 628,50.3 620,53.5 610,55.3 605,57.5 601,61.6 595,69.7 591,75.7 585.4,85.5 581,88.9 576.1,94.5 522.4,94.5 514,89 508,86.9 503,83.8 499,80.6 494,75.3 489.4,71.5 482.3,66.5 475.3,62.5 466.9,58.5 459,55.4 446.6,51.5 438,49.8 437,50 436,51 433,56.3 429,66 424,80.6 422,80.2 421.9,80.5 421.9,81.5 421.2,82.5 421.8,83.5 421,84.5 421.6,85.5 420.8,86.5 421.4,87.5 420.6,88.5 420.8,90.5 418,92.8 414,93.1 413.4,92.5 413.8,91.5 412.4,90.5 412.9,89.5 412.8,88.5 411.5,87.5 412.5,86.5 411.3,85.5 411.9,84.5 411,83.5 411.5,82.5 410.5,81.5 411.1,80.5 410.2,79.5 410.5,78.5 409.4,77.5 409.8,76.5 409.1,75.5 409,74.5 408.1,79.5 407,80.4 405.5,79.5 405.5,78.5 404.5,77.5 404,76.1 402.3,74.5 400,74.3ZM427,46.3 426.3,46.5 427,46.9 428,46.9 428.7,46.5ZM519,27.5 519,27.5 519,27.5 519,27.5ZM522,29.5 522,29.5 522,29.5 522,29.5ZM526,32.5 526,32.5 526,32.5 526,32.5ZM529,34.5 529,34.5 529,34.5 529,34.5ZM533,37.5 533,37.5 533,37.5 533,37.5ZM536,39.5 536,39.5 536,39.5 536,39.5Z"/><path fill="#1a1a1a" d="M400,13.5 632,13.5 632,46.6 628,49.4 620,52.7 609,54.7 606,55.9 604,57.3 600,61.5 594,69.7 590.1,75.5 584.3,85.5 580.2,88.5 575.1,94.5 522.9,94.5 522,93.4 514,88.4 508,86.3 503,83.3 499,80 494,74.8 490.2,71.5 483.2,66.5 476.4,62.5 466,57.5 458,54.5 444.9,50.5 438,49.2 437,49.4 436,50.4 433,55.6 429,65.3 424,79.6 422,78.9 421.2,80.5 421.8,81.5 420.7,82.5 421.7,83.5 420.5,84.5 421.5,85.5 421,86.3 420.4,86.5 421.3,87.5 420.2,88.5 420.3,90.5 417,92.7 414,93 413.5,92.5 413.9,91.5 412.4,90.5 413,89.5 413.4,89.5 412.9,88.5 411.6,87.5 412.8,86.5 412,86.3 411.4,85.5 412.3,84.5 411.1,83.5 411.7,82.5 410.6,81.5 411.4,80.5 410.3,79.5 410.7,78.5 409.5,77.5 410.2,76.5 409.2,75.5 409.4,74.5 408.7,74.5 408,79.1 407,80 405.6,79.5 405.7,78.5 404.6,77.5 404,76 402.4,74.5 400,74.2ZM427,46.2 426.2,46.5 427,47 428,47 428.8,46.5ZM519,27.4 518.9,27.5 519,27.6 519.1,27.5ZM522,29.4 521.9,29.5 522,29.6 522.1,29.5ZM523,30.4 522.9,30.5 523,30.5 523.1,30.5ZM526,32.4 525.9,32.5 526,32.6 526.1,32.5ZM529,34.5 528.9,34.5 529,34.6 529.1,34.5ZM530,35.5 530,35.5 530,35.5 530,35.5ZM533,37.4 532.9,37.5 533,37.6 533.1,37.5ZM536,39.5 535.9,39.5 536,39.6 536.1,39.5Z"/><path fill="#1e1e1e" d="M400,13.5 632,13.5 632,45.6 628,48.5 620,51.8 609,53.9 606,55.1 603.7,56.5 599,61.5 593.9,68.5 589.2,75.5 584,84.7 580,87.6 575,93.3 574.3,94.5 523.3,94.5 522,92.9 514,87.9 508,85.8 503,82.7 499,79.5 494,74.2 490.8,71.5 484,66.5 477.4,62.5 467.1,57.5 459,54.3 446,50.3 438,48.7 437,48.9 436,49.9 433,55 429,64.6 424,78.3 423,77.9 421.2,78.5 421.8,79.5 421,80.4 420.4,80.5 421,80.6 421.7,81.5 421,82.3 420.2,82.5 421,82.7 421.6,83.5 421,84.3 420,84.5 421,84.8 421.4,85.5 421,86.2 420,86.5 413,86.5 412,86.2 411.5,85.5 412,84.6 412.9,84.5 412,84.4 411.2,83.5 411.9,82.5 410.7,81.5 411.8,80.5 411,80.3 410.3,79.5 411,78.5 409.7,77.5 410.5,76.5 409.3,75.5 409.8,74.5 409,74.1 408.5,74.5 408,77.4 407.2,79.5 406,79.8 405.8,78.5 406.4,77.5 405,77.8 404,75.9 402,74.2 400,74.2ZM427,46.2 426.1,46.5 427,47.1 428,47.1 428.9,46.5ZM519,27.4 518.8,27.5 519,27.6 519.2,27.5ZM520,28.5 520,28.5 520,28.5 520.2,28.5ZM522,29.4 521.7,29.5 522,29.6 522.1,29.5ZM523,30.4 522.9,30.5 523,30.6 523.3,30.5ZM525,31.5 524.9,31.5 525,31.5 525,31.5ZM526,32.4 525.8,32.5 526,32.6 526.2,32.5ZM529,34.4 528.8,34.5 529,34.6 529.1,34.5ZM530,35.4 529.9,35.5 530,35.5 530.2,35.5ZM532,36.5 531.9,36.5 532,36.5 532,36.5ZM533,37.4 532.9,37.5 533,37.6 533.2,37.5ZM536,39.4 535.8,39.5 536,39.6 536.1,39.5ZM537,40.5 537,40.5 537,40.5 537.1,40.5ZM411.7,87.5 413,86.5 420,86.5 421.2,87.5 420,88.4 414,88.5 413,88.5ZM412.5,90.5 413,89.7 414,89.6 419,89.8 419.8,90.5 418,91.3 414,91.4ZM413.6,92.5 414,91.6 416,91.9 416.7,92.5 414,92.9Z"/><path fill="#222222" d="M400,13.5 632,13.5 632,44.7 628,47.7 620,51 608,53.4 605,54.7 603,56.1 598.9,60.5 593,68.4 589,74.5 583.2,84.5 579.1,87.5 574.7,92.5 573.5,94.5 523.6,94.5 522,92.4 514,87.4 508,85.3 503,82.2 499.6,79.5 494,73.7 491,71.1 484.7,66.5 478,62.3 470.4,58.5 460.9,54.5 448.6,50.5 440,48.5 437,48.4 434,52.4 430,61.4 425,75.4 424,77 422.8,76.5 421,76.5 422,77.5 421,78.4 411,78.4 409.8,77.5 410.9,76.5 410,76.3 409.4,75.5 410,74.6 410.5,74.5 409,73.9 408.3,74.5 407.9,76.5 407,77.4 406,77.2 405,77.7 404,75.9 402,74.1 400,74.1ZM406,72.5 405.9,72.5 406,72.5 406.1,72.5ZM409,72.4 408.7,72.5 409,72.8 409.6,72.5ZM426,46.5 427,47.2 428,47.2 429.1,46.5 428,46.1ZM430,44.5 429.9,44.5 430,44.5 430.1,44.5ZM519,27.4 518.7,27.5 519,27.7 519.3,27.5ZM520,28.3 519.9,28.5 520,28.6 520.6,28.5ZM522,29.3 521.6,29.5 522,29.7 522.2,29.5ZM523,30.3 522.8,30.5 523,30.6 523.4,30.5ZM525,31.4 524.6,31.5 525,31.6 525.1,31.5ZM526,32.3 525.7,32.5 526,32.7 526.3,32.5ZM527,33.5 527,33.5 527,33.5 527.3,33.5ZM529,34.4 528.7,34.5 529,34.7 529.2,34.5ZM530,35.4 529.9,35.5 530,35.6 530.3,35.5ZM532,36.4 531.7,36.5 532,36.6 532.1,36.5ZM533,37.3 532.8,37.5 533,37.6 533.2,37.5ZM536,39.4 535.8,39.5 536,39.6 536.2,39.5ZM537,40.4 536.9,40.5 537,40.6 537.2,40.5ZM406,75.4 405.9,75.5 406,75.6 406.2,75.5ZM405.9,78.5 406,78.1 406.8,78.5 406.7,79.5 405.8,79.5ZM410.4,79.5 411,78.6 412,78.5 421,78.6 421.7,79.5 421,80.3 420,80.5 412,80.5 411,80.2ZM410.8,81.5 412,80.5 420,80.5 421,80.7 421.6,81.5 421,82.2 420,82.5 412,82.5ZM411.2,83.5 412,82.6 413,82.5 420,82.6 421,82.8 421.5,83.5 421,84.1 419,84.4 412,84.3ZM411.5,85.5 412,84.8 413,84.6 420,84.6 421,85 421.4,85.5 420,86.4 417,86.4 413,86.4 412,86.1ZM411.9,87.5 413,86.6 420,86.7 421.1,87.5 420,88.3 414,88.4 413,88.4ZM412.6,90.5 413,89.8 414,89.7 417,89.9 419,90.5 417,91.1 414,91.3ZM413.7,92.5 414,91.8 415.9,92.5 414,92.8Z"/><path fill="#262626" d="M400,13.5 632,13.5 632,43.8 627,47.4 620,50.3 617,51.2 608,52.7 605,53.9 602.6,55.5 598,60.4 592.8,67.5 588.1,74.5 583,83.5 579,86.5 574,92.2 572.7,94.5 523.9,94.5 522,91.9 514,86.9 508,84.8 503,81.7 500,79.4 494,73.2 491,70.6 484,65.5 478,61.8 469.3,57.5 461,54.1 448,49.9 440,48 437,47.9 436,48.8 434,51.8 430,60.7 425,74.7 424,75.6 423,75.2 422,76.2 421,76.4 411,76.4 410,76.2 409.4,75.5 410,74.7 422.2,74.5 410,74.4 409,73.7 407.2,75.5 407.3,76.5 405,77.6 404,75.8 402,74.1 400,74.1ZM406,72.3 405.5,72.5 406,72.8 406.4,72.5ZM426,46.4 425.4,46.5 427,47.3 428,47.3 429.3,46.5 428,46.1ZM430,44.4 429.5,44.5 430,44.6 430.4,44.5ZM519,27.3 518.6,27.5 519,27.8 519.4,27.5ZM520,28.2 520,28.6 521,28.5ZM522,29.3 521.5,29.5 522,29.8 522.3,29.5ZM523,30.2 522.7,30.5 523,30.7 523.5,30.5ZM525,31.4 524.3,31.5 525,31.7 525.2,31.5ZM526,32.3 525.7,32.5 526,32.7 526.4,32.5ZM527,33.3 526.9,33.5 527,33.6 527.9,33.5ZM529,34.3 528.6,34.5 529,34.7 529.3,34.5ZM530,35.3 529.8,35.5 530,35.6 530.4,35.5ZM532,36.4 531.5,36.5 532,36.7 532.1,36.5ZM533,37.3 532.7,37.5 533,37.7 533.3,37.5ZM534,38.5 534,38.5 534,38.5 534.1,38.5ZM536,39.4 535.7,39.5 536,39.7 536.2,39.5ZM537,40.4 536.9,40.5 537,40.6 537.3,40.5ZM406,74.9 405.6,75.5 406,75.8 406.9,75.5ZM409,72.3 408.4,72.5 409,73.2 410,72.5 421.5,72.5ZM409.9,77.5 411,76.6 421,76.6 421.9,77.5 421,78.3 420,78.4 411,78.4ZM410.5,79.5 411,78.7 412,78.6 420,78.6 421,78.7 421.6,79.5 421,80.2 420,80.4 412,80.4 411,80.1ZM410.9,81.5 412,80.6 420,80.6 421,80.9 421.5,81.5 420,82.4 412,82.4ZM411.3,83.5 412,82.6 413,82.6 420,82.6 421,82.9 421.4,83.5 421,84 419,84.4 412,84.3ZM411.6,85.5 412,84.9 413,84.6 420,84.7 421.3,85.5 420,86.3 417,86.3 413,86.3ZM412,87.5 413,86.7 420,86.9 421,87.5 420,88.1 414,88.3 413,88.3ZM412.7,90.5 413,89.9 414,89.8 418.3,90.5 414,91.2ZM413.8,92.5 414,92 415.2,92.5Z"/><path fill="#2a2a2a" d="M400,13.5 632,13.5 632,43 627,46.6 619,49.9 608,51.9 605,53.1 602,55.1 597.9,59.5 592,67.4 587.3,74.5 582.2,83.5 578,86.5 573,92.3 572,94.5 524.1,94.5 522,91.4 514,86.4 509,84.8 503,81.2 500,78.9 494,72.7 491,70.1 484.7,65.5 478,61.4 469,56.9 460.7,53.5 448,49.4 440,47.5 437,47.5 436,48.3 434,51.3 429,62.7 425,74.1 424,74.2 423,73.8 421,74.4 410,74.3 408.8,73.5 410,72.6 422.4,72.5 409,72.2 408.1,72.5 407,74.7 406,74.5 405.4,75.5 406.8,76.5 405,77.5 404,75.7 402,74 400,74ZM406,67.5 405.8,67.5 406,67.5 406,67.5ZM426,46.3 425,46.5 427,47.4 428,47.4 429.4,46.5 428,46ZM430,44.4 429,44.5 430,44.7 430.6,44.5ZM519,27.3 518.5,27.5 519,27.8 519.5,27.5ZM520,28.1 520,28.7 521,28.8 521,28.4ZM522,29.2 521.3,29.5 522,29.8 522.4,29.5ZM523,30.1 522.7,30.5 523,30.7 523.7,30.5ZM524,31.5 525,31.8 525.2,31.5ZM526,32.2 525.6,32.5 526,32.8 526.5,32.5ZM527,33.2 527,33.6 528,33.6ZM529,34.3 528.5,34.5 529,34.8 529.3,34.5ZM530,35.2 529.8,35.5 530,35.7 530.6,35.5ZM532,36.4 531.4,36.5 532,36.7 532.2,36.5ZM533,37.3 532.7,37.5 533,37.7 533.4,37.5ZM536,39.3 535.6,39.5 536,39.7 536.3,39.5ZM537,40.3 536.8,40.5 537,40.6 537.5,40.5ZM406,72.1 405,72.5 406,73 406.7,72.5ZM409,67.4 408.7,67.5 422.9,67.5ZM409,70.4 408.5,70.5 422.5,70.5ZM409.5,75.5 410,74.8 411,74.6 421,74.6 422,74.8 422.6,75.5 421,76.3 420,76.4 411,76.4ZM410,77.5 411,76.6 421,76.7 421.8,77.5 421,78.2 420,78.4 411,78.3ZM410.6,79.5 411,78.8 412,78.7 420,78.7 421,78.9 421.5,79.5 421,80.1 420,80.3 412,80.3ZM411,81.5 412,80.7 420,80.7 421.4,81.5 420,82.3 412,82.3ZM411.4,83.5 412,82.7 413,82.7 420,82.7 421.3,83.5 420,84.3 419,84.3 413,84.3 412,84.2ZM411.7,85.5 412,85 413,84.7 420,84.8 421.2,85.5 420,86.2 417,86.3 413,86.3ZM412.1,87.5 413,86.7 419,86.9 420.7,87.5 419,88.1 414,88.3 413,88.3ZM412.7,90.5 413,90.1 414,89.9 417.5,90.5 414,91.1ZM413.9,92.5 414,92.2 414.7,92.5 414,92.6Z"/><path fill="#2e2e2e" d="M400,13.5 632,13.5 632,42.3 627,45.8 619,49.2 608,51.2 604,52.9 601.6,54.5 597,59.4 591.8,66.5 587,73.7 582,82.5 577.1,86.5 572.7,91.5 571.3,94.5 524.3,94.5 524,93.5 522,90.9 514,85.9 508,83.9 503,80.8 500,78.4 494,72.2 491,69.7 485,65.2 478,60.9 471,57.3 462,53.5 450,49.5 441,47.2 438,46.8 437,47 436,47.8 434.1,50.5 430,59.5 425,73.3 422,72.4 410,72.3 408,71.7 407,72.5 406,71.9 405,72.4 400,72.5 400,59.5 404.3,59.5 400,59.5 400,46.5 403.3,46.5 400,46.5 400,33.5 403.2,33.5 400,33.5 400,20.5 403.1,20.5 400,20.5ZM405,67.5 404.4,67.5 406.3,67.5 406,67.2ZM408,44.4 430,44.8 430.9,44.5ZM431,45.3 431,45.5 431,45.5 431,45.5ZM519,27.2 518.4,27.5 519,27.9 519.6,27.5ZM520,28 519.7,28.5 521,29.1 521.1,28.5ZM522,29.2 521.2,29.5 522,29.9 522.4,29.5ZM523,30.1 522.6,30.5 523,30.8 523.8,30.5ZM524,31 524,31.5 525,31.9 525.3,31.5ZM526,32.2 525.5,32.5 526,32.8 526.6,32.5ZM527,33.1 527,33.6 528,33.8 528,33.4ZM529,34.2 528.4,34.5 529,34.8 529.4,34.5ZM530,35.2 529.7,35.5 530,35.7 530.7,35.5ZM532,36.3 531.2,36.5 532,36.8 532.2,36.5ZM533,37.2 532.6,37.5 533,37.7 533.5,37.5ZM534,38.3 534,38.6 535.1,38.5ZM536,39.3 535.5,39.5 536,39.8 536.3,39.5ZM537,40.2 536.8,40.5 537,40.7 537.6,40.5ZM408,46.4 425,46.6 427,47.5 428,47.5 429.6,46.5 428,46 425,46.4ZM409,63.4 408.2,63.5 424.1,63.5ZM409,65.4 408.3,65.5 423.5,65.5ZM409,67.4 408.3,67.5 423.2,67.5ZM409,70.3 408.2,70.5 409,70.9 422.9,70.5ZM400,73.5 400,72.5 405,72.6 406,73.2 407,72.6 407.2,73.5 406,74 405.1,75.5 406.4,76.5 405,77.4 404,75.6 402,74 400,74ZM409.1,73.5 410,72.7 411,72.7 422,72.7 422.9,73.5 422,74.2 421,74.3 410,74.3ZM409.6,75.5 410,74.9 411,74.7 421,74.7 422.3,75.5 421,76.3 420,76.3 411,76.3ZM410.1,77.5 411,76.7 420,76.7 421,76.8 421.7,77.5 421,78.1 420,78.3 411,78.2ZM410.6,79.5 411,78.9 412,78.7 420,78.7 421,79 421.4,79.5 420,80.3 412,80.3ZM411.1,81.5 412,80.7 420,80.7 421.3,81.5 420,82.2 412,82.2ZM411.4,83.5 412,82.8 413,82.8 420,82.8 421.2,83.5 420,84.2 419,84.2 413,84.2 412,84.1ZM411.7,85.5 413,84.8 420,84.9 421.1,85.5 420,86.1 417,86.2 413,86.2ZM412.1,87.5 413,86.8 419,87.1 420.5,87.5 419,87.9 414,88.2 413,88.2ZM412.8,90.5 414,90 416.8,90.5 414,91ZM413.9,92.5 414,92.4 414.3,92.5 414,92.6Z"/><path fill="#323232" d="M400,13.5 632,13.5 632,41.5 626.1,45.5 619,48.4 607,50.8 604,52.1 601,54.1 596.1,59.5 590.9,66.5 586.3,73.5 581.2,82.5 577,85.6 572,91.4 570.5,94.5 524.5,94.5 524,92.9 522,90.5 514,85.5 509,83.9 503,80.3 500,77.9 494,71.7 491,69.2 485,64.8 478.1,60.5 470.2,56.5 461,52.7 450,49.1 441,46.7 438,46.3 437,46.5 434.4,49.5 431,56.6 425,71.9 424,71.6 422,72.3 410,72.3 408.2,71.5 410,70.7 423,70.8 423.5,70.5 409,70.2 407.7,70.5 407.5,71.5 407,71.9 406,71.8 405,72.3 400,72.4 400,67.6 406,67.9 406.5,67.5 406,67 404,67.4 400,67.4 400,64.5 406,64.8 406.1,64.5 400,64.5 400,59.6 405.6,59.5 400,59.4 400,54.6 405,54.5 400,54.4 400,51.5 404,51.5 400,51.5 400,46.6 404.8,46.5 400,46.4 400,41.6 404.4,41.5 400,41.4 400,38.5 403.3,38.5 400,38.5 400,33.6 404.4,33.5 400,33.4 400,28.6 404.2,28.5 400,28.4 400,25.5 403.2,25.5 400,25.5 400,20.6 404.3,20.5 400,20.4 400,15.6 404.2,15.5 400,15.4ZM408,44.4 429,44.6 431.1,45.5 431,44.5 430,44.3ZM519,27.2 518.3,27.5 521,29.4 521.2,28.5ZM522,29.1 521.1,29.5 522,30 522.5,29.5ZM523,30 522.5,30.5 523,30.8 524,30.5ZM524,30.6 523.9,31.5 525,32 525.3,31.5ZM526,32.1 525.4,32.5 526,32.9 526.6,32.5ZM527,33 526.8,33.5 528,34 528.1,33.5ZM529,34.2 528.3,34.5 529,34.9 529.4,34.5ZM530,35.1 529.7,35.5 530,35.7 530.8,35.5ZM531,36.5 532,36.9 532.3,36.5ZM533,37.2 532.6,37.5 533,37.8 533.5,37.5ZM534,38.2 534,38.6 535,38.8 535,38.4ZM536,39.2 535.5,39.5 536,39.8 536.4,39.5ZM537,40.2 536.8,40.5 537,40.7 537.7,40.5ZM406,69.1 405.4,69.5 406,71 406.6,70.5 406.5,69.5ZM408,46.4 407.7,46.5 425,46.6 426,46.8 427,47.6 428,47.6 429.8,46.5 428,45.9 425,46.4ZM408,49.4 407.7,49.5 428.3,49.5ZM408,51.4 407.6,51.5 427.5,51.5ZM408,53.4 407.6,53.5 427.1,53.5ZM408,55.4 407.7,55.5 426.3,55.5ZM408,57.4 407.7,57.5 425.5,57.5ZM408,59.4 407.7,59.5 425.2,59.5ZM408,61.4 407.8,61.5 424.5,61.5ZM400,73.5 400,72.6 405,72.7 406.3,73.5 405,75.3 404,75.5 402,73.9 400,73.9ZM409.2,73.5 410,72.8 411,72.7 421,72.7 422,72.9 422.7,73.5 422,74.1 421,74.2 411,74.2 410,74.2ZM409.7,75.5 411,74.8 421,74.8 422,75.5 421,76.2 420,76.2 411,76.2ZM404.6,76.5 405,75.6 406,76.5 405,77.3ZM410.2,77.5 411,76.8 420,76.8 421,76.9 421.6,77.5 421,78 420,78.2 411,78.2ZM410.7,79.5 411,79 412,78.8 420,78.8 421.3,79.5 420,80.2 412,80.2ZM411.2,81.5 412,80.8 420,80.8 421.2,81.5 420,82.2 412,82.2ZM411.5,83.5 412,82.9 413,82.8 420,82.9 421.1,83.5 420,84.1 419,84.2 413,84.2 412,84ZM411.8,85.5 413,84.9 419,84.9 420.9,85.5 420,86 417,86.1 413,86.1ZM412.2,87.5 413,86.9 420.2,87.5 414,88.1 413,88.1ZM412.9,90.5 414,90.1 416.1,90.5 414,90.9Z"/><path fill="#363636" d="M400,13.5 632,13.5 632,40.8 626,44.8 619,47.7 607,50.1 603.7,51.5 600.7,53.5 596,58.5 590.1,66.5 585.5,73.5 581,81.6 577,84.6 572,90.3 569.8,94.5 524.7,94.5 524,92.4 522,90 514,85 509,83.4 503,79.8 500,77.5 492,69.5 485,64.3 479,60.6 471,56.4 462,52.6 450,48.6 441,46.3 437,46.1 435,48.1 432,53.7 426,69.2 425,70.6 424,70.2 407,70.1 406.9,69.5 406,68.9 405,69.5 406,71.3 406.7,71.5 405,72.2 400,72.3 400,67.7 405,67.7 406,68.1 406.7,67.5 406,66.8 405,67.2 400,67.3 400,64.7 405,64.8 406,65.1 406.3,64.5 406,64.2 400,64.4 400,62.5 406.1,62.5 400,62.5 400,59.7 406.1,59.5 400,59.3 400,54.7 405.4,54.5 400,54.3 400,51.7 405.1,51.5 400,51.4 400,49.5 404.1,49.5 400,49.5 400,46.7 405.1,46.5 400,46.3 400,41.7 405,41.5 400,41.3 400,38.7 404.6,38.5 400,38.4 400,36.5 403.7,36.5 400,36.5 400,33.7 404.9,33.5 400,33.3 400,28.7 404.6,28.5 400,28.3 400,25.7 404.3,25.5 400,25.4 400,23.5 403.5,23.5 400,23.5 400,20.7 404.7,20.5 400,20.3 400,15.7 404.6,15.5 400,15.3ZM408,44.3 407.7,44.5 408,44.7 429,44.7 431.2,45.5 431,44.4 430,44.2ZM519,27.2 518.2,27.5 526,32.9 526.7,32.5ZM527,32.9 526.7,33.5 528,34.2 528.2,33.5ZM529,34.1 528.2,34.5 529,34.9 529.5,34.5ZM530,35 529.6,35.5 530,35.8 531,35.5ZM531,35.7 530.9,36.5 532,36.9 532.3,36.5ZM533,37.1 532.5,37.5 533,37.8 533.6,37.5ZM534,38.1 533.8,38.5 535,38.9 535.1,38.5ZM536,39.2 535.4,39.5 536,39.8 536.4,39.5ZM537,40.1 536.7,40.5 537,40.7 537.9,40.5ZM408,46.3 407.6,46.5 425,46.7 426,46.9 427,47.7 428,47.7 429.9,46.5 428,45.9 425,46.3ZM408,49.3 407.5,49.5 428.5,49.5ZM408,51.3 407.4,51.5 427.8,51.5ZM408,53.3 407.4,53.5 427.2,53.5ZM408,55.3 407.5,55.5 426.4,55.5ZM408,57.3 407.5,57.5 425.8,57.5ZM408,59.3 407.5,59.5 425.4,59.5ZM408,61.3 407.6,61.5 424.8,61.5ZM408,63.4 407.7,63.5 409,63.7 424.4,63.5ZM408,65.4 407.7,65.5 409,65.7 424.1,65.5ZM408,67.3 407.6,67.5 409,67.8 423,67.8 423.8,67.5ZM408.4,71.5 410,70.8 422,70.8 423.5,71.5 422,72.2 421,72.2 410,72.2ZM400,73.5 400,72.7 405,72.9 405.9,73.5 405,75 404,75.4 402,73.9 400,73.9ZM409.3,73.5 410,72.8 411,72.8 421,72.8 422.6,73.5 421,74.2 411,74.2 410,74.1ZM409.8,75.5 411,74.8 421,74.9 421.9,75.5 421,76.1 420,76.2 411,76.2ZM404.7,76.5 405,75.7 405.9,76.5 405,77.2ZM410.3,77.5 411,76.8 420,76.8 421.5,77.5 420,78.1 411,78.1ZM410.8,79.5 412,78.9 420,78.9 421.2,79.5 420,80.1 412,80.1ZM411.2,81.5 412,80.9 420,80.9 421.1,81.5 420,82.1 412,82.1ZM411.6,83.5 412,83 413,82.9 420,83 421,83.5 419,84.1 413,84.1 412,84ZM411.9,85.5 413,84.9 419,85 420.7,85.5 420,85.9 417,86.1 413,86.1ZM412.3,87.5 413,86.9 419.8,87.5 414,88 413,88ZM413,90.5 414,90.2 415.3,90.5 414,90.8Z"/><path fill="#3a3a3a" d="M400,13.5 632,13.5 632,40.1 630,41.1 626,44 619,47 617,47.7 607,49.4 603,51.1 600,53.2 595.2,58.5 590,65.5 585.3,72.5 580.2,81.5 577,83.7 571.8,89.5 570.3,91.5 569.1,94.5 524.9,94.5 524,91.9 522,89.5 514,84.6 509,83 503,79.4 500,77 492,69.1 486,64.5 480,60.7 471,56 462.9,52.5 452,48.8 442,46 438,45.4 437,45.6 435,47.6 431,55.4 426,68.6 425,69.3 424,69.1 423,70.1 422,70.1 410,70.1 406,68.7 405,69.4 400,69.5 400,67.8 405,67.8 406,68.3 406.9,67.5 406,66.6 405,67 400,67.2 400,64.8 405,65 406,65.7 406.5,64.5 406,64 400,64.3 400,62.6 406,62.8 406.2,62.5 406,61.8 400,62.2 400,59.8 406,59.8 406.4,59.5 400,59.2 400,56.5 404.3,56.5 400,56.5 400,54.8 405.8,54.5 405,54.2 400,54.2 400,51.8 405.4,51.5 400,51.3 400,49.6 405.1,49.5 400,49.2 400,46.8 405.3,46.5 400,46.2 400,43.5 403.1,43.5 400,43.5 400,41.8 405.2,41.5 400,41.2 400,38.8 405,38.5 400,38.3 400,36.6 404.6,36.5 400,36.2 400,33.8 405.1,33.5 400,33.2 400,30.5 403,30.5 400,30.5 400,28.8 405,28.5 400,28.2 400,25.8 404.8,25.5 400,25.3 400,23.6 404.4,23.5 400,23.2 400,20.8 405,20.5 400,20.2 400,17.5 403,17.5 400,17.5 400,15.8 405,15.5 400,15.2ZM408,44.2 407.6,44.5 408,44.8 429,44.8 431,45.8 431.3,45.5 431,44.3 430,44.1ZM519,27.1 518.1,27.5 528,34.3 528.3,33.5 528,33.3ZM529,34.1 528.1,34.5 532,37 532.4,36.5ZM533,37.1 532.4,37.5 533,37.9 533.7,37.5ZM534,38 533.8,38.5 535,39 535.2,38.5ZM536,39.2 535.3,39.5 536,39.9 536.5,39.5ZM537,40.1 536.7,40.5 537,40.8 538,40.5ZM408,46.2 407.5,46.5 408,46.8 425,46.8 426,47 427,47.8 428,47.8 430.1,46.5 428,45.9 425,46.2ZM408,49.2 407.3,49.5 408,49.8 428,49.8 428.6,49.5 428,49.2ZM408,51.2 407.2,51.5 408,51.8 427,51.8 428,51.5 427,51.2ZM408,53.2 407.2,53.5 408,53.8 427.3,53.5ZM408,55.2 407.3,55.5 408,55.8 426,55.8 426.5,55.5 426,55.2ZM408,57.2 407.3,57.5 408,57.8 425,57.8 426.1,57.5 425,57.2ZM408,59.2 407.3,59.5 408,59.8 425,59.8 425.5,59.5 425,59.2ZM408,61.2 407.4,61.5 408,61.8 424,61.8 425,61.5 424,61.2ZM408,63.3 407.6,63.5 409,63.8 424,63.8 424.6,63.5 423,63.2ZM408,65.3 407.5,65.5 408,65.8 423,65.8 424.3,65.5 423,65.2ZM408,67.2 407.1,67.5 408,68 423,67.9 424.1,67.5 422,67.2ZM400,70.5 400,69.5 404,69.7 405.9,71.5 405,72.1 400,72.2ZM408.6,71.5 410,70.9 421,70.9 422,70.9 423,71.5 422,72.1 421,72.1 410,72.1ZM400,73.5 400,72.8 404,72.8 405.7,73.5 405,74.8 404,75.1 402,73.8 400,73.8ZM409.3,73.5 410,72.9 411,72.9 421,72.9 422.4,73.5 421,74.1 411,74.1 410,74ZM409.9,75.5 411,74.9 421,74.9 421.8,75.5 421,76 420,76.1 411,76.1ZM404.7,76.5 405,75.8 405.8,76.5 405,77.1ZM410.4,77.5 411,76.9 420,76.9 421.4,77.5 420,78.1 411,78ZM410.8,79.5 412,78.9 420,78.9 421.1,79.5 420,80.1 412,80.1ZM411.3,81.5 412,81 420,81 421,81.5 420,82 412,82ZM411.6,83.5 412,83 413,83 420,83 420.9,83.5 419,84 413,84ZM411.9,85.5 413,85 419,85.1 420.5,85.5 417,86 413,86ZM412.4,87.5 413,87 419.2,87.5 414,88 413,88ZM413.2,90.5 414,90.3 414.8,90.5 414,90.7Z"/><path fill="#3e3e3e" d="M400,13.5 632,13.5 632,39.4 629.7,40.5 625,43.8 618.4,46.5 607,48.7 603,50.3 599.8,52.5 595,57.7 589.2,65.5 584.6,72.5 580,80.6 576,83.8 570.9,89.5 569.6,91.5 568.4,94.5 525.1,94.5 524,91.4 522,89.1 514,84.1 509,82.5 503,78.9 500,76.5 492,68.6 480.5,60.5 473,56.5 464,52.5 454,48.9 444,46 438,45 437,45.2 435.5,46.5 432,52.6 426,67.9 425,68 424.8,67.5 423,67.1 407,67.1 406.4,66.5 406.7,64.5 406,63.8 400,64.2 400,62.7 406,63.1 406.4,62.5 406,61.4 404,61.9 400,61.9 400,59.9 406,60 406.7,59.5 406,59.1 400,59.1 400,57.3 405,57.4 405.8,56.5 400,56.4 400,54.8 405,54.8 406,54.5 405,54.1 400,54 400,52 405,51.9 405.7,51.5 400,51.2 400,49.7 405.4,49.5 404,49 400,48.9 400,46.9 404,46.9 405.5,46.5 404,46.1 400,46.1 400,44.3 404,44.2 404.9,43.5 400,43.4 400,41.8 405.3,41.5 404,41.1 400,41 400,39 404,39 405.2,38.5 400,38.2 400,36.7 405.1,36.5 404,36 400,35.9 400,33.9 404,33.9 405.2,33.5 404,33.1 400,33.1 400,31.3 404,31.1 404.4,30.5 400,30.4 400,28.8 405.1,28.5 404,28.1 400,28 400,26 404,26 405,25.5 400,25.2 400,23.7 404.8,23.5 404,23 400,22.9 400,20.9 404,20.9 405.1,20.5 404,20.1 400,20.1 400,18.3 403,18.3 404,18.1 404.3,17.5 400,17.4 400,15.8 405.1,15.5 404,15.1 400,15ZM408,44.2 407.5,44.5 408,44.8 429,44.9 431,45.8 431.4,45.5 431,44.2 430,44.1ZM458,17.5 457.7,17.5 458,17.5 458,17.5ZM519,27.1 518,27.5 532.4,37.5 533,37.9 533.8,37.5 521,28.2ZM534,37.9 533.7,38.5 535,39.1 535.2,38.5ZM536,39.1 535.2,39.5 536,39.9 536.5,39.5ZM537,40 536.6,40.5 537,40.8 538,40.5ZM408,46.2 407.3,46.5 408,46.8 425,46.8 426,47 427,47.9 428,47.9 430.2,46.5 430,46.1 428,45.8 425,46.2ZM408,49.2 407.2,49.5 408,49.8 428,49.8 428.8,49.5 428,49.1ZM408,51.2 407,51.5 408,51.8 427,51.8 428.1,51.5 427,51.2ZM408,53.2 407,53.5 408,53.8 426,53.8 427.4,53.5 426,53.2ZM408,55.2 407.1,55.5 408,55.8 426,55.8 426.7,55.5 426,55.2ZM408,57.2 407.1,57.5 408,57.8 425,57.8 426.2,57.5 425,57.2ZM408,59.2 407.2,59.5 408,59.8 425,59.9 425.6,59.5 425,59.2ZM408,61.2 407.3,61.5 408,61.9 424,61.9 425.2,61.5 424,61.2ZM408,63.2 407.4,63.5 408,63.9 424,63.9 424.8,63.5 423,63.1ZM408,65.2 407.3,65.5 408,65.9 424,65.9 424.6,65.5 423,65.1ZM400,65.5 400,65 405,65.1 405.6,65.5 405.8,66.5 404,67 400,67ZM400,68.5 400,67.8 405,68 406,68.5 405,69.2 400,69.4ZM407,68.5 410,67.9 422,67.9 423.9,68.5 423.7,69.5 422,70.1 410,70.1 408.1,69.5ZM400,70.5 404,70.5 405,70.7 405.7,71.5 404,72.1 400,72.1ZM408.9,71.5 410,70.9 421,70.9 422.8,71.5 421,72.1 410,72.1ZM400,73.5 400,72.9 404,73 405.5,73.5 405,74.5 404,74.9 402,73.8 400,73.8ZM409.4,73.5 410,73 411,73 421,73 422.3,73.5 421,74 411,74 410,74ZM409.9,75.5 411,75 421,75 421.7,75.5 420,76 411,76ZM404.8,76.5 405,75.9 405.6,76.5 405,77ZM410.4,77.5 411,77 420,77 421.3,77.5 420,78 411,78ZM410.9,79.5 412,79 420,79 421,79.5 420,80 412,80ZM411.4,81.5 412,81 420,81 420.9,81.5 420,82 412,82ZM411.7,83.5 412,83.1 413,83 419,83 420.8,83.5 419,83.9 413,83.9ZM412,85.5 413,85.1 417,85.1 420.4,85.5 418,85.9 413,85.9ZM412.5,87.5 413,87.1 418.6,87.5 414,87.9 413,87.9ZM413.6,90.5 414,90.4 414.4,90.5 414,90.6Z"/><path fill="#424242" d="M400,13.5 632,13.5 632,38.6 629,40.1 625,43.1 617,46.3 609,47.5 606,48.4 602,50.2 599,52.3 594.3,57.5 589,64.6 584,72.2 579.2,80.5 575.3,83.5 570.1,89.5 568.8,91.5 567.7,94.5 525.2,94.5 524,90.9 522,88.6 514,83.7 509,82.1 503,78.5 500,76.1 492,68.1 481,60.4 473,56 464,52 454,48.5 444,45.6 438,44.6 437,44.7 435.1,46.5 431.8,52.5 426,67 425,66.6 424,67.1 408,66.9 407,66.5 409,66 424,66 424.8,65.5 423,65 408,65.1 407.1,65.5 407,66.5 406.9,64.5 406,63.7 405,64 400,64.1 400,62.8 405,62.9 406,63.3 406.7,61.5 406,61 404,61.6 400,61.7 400,60 406,60.3 407,59.5 408,59.9 425,59.9 425.8,59.5 425,59.1 408,59.1 407,59.5 406,58.9 400,59 400,57.6 425,57.9 426.3,57.5 425,57.1 408,57.1 407,57.5 406,56.3 400,56.2 400,54.9 405,54.9 406.1,54.5 405,53.9 400,53.9 400,52.2 405,52.1 406,51.5 405,51.1 400,51.1 400,49.8 405.6,49.5 405,48.8 400,48.7 400,47 405,47 405.7,46.5 405,46.1 400,46 400,44.6 404.7,44.5 405.2,43.5 400,43.2 400,41.9 404,41.9 405.5,41.5 404,40.9 400,40.9 400,39.2 404,39.1 405.3,38.5 404,38.1 400,38.1 400,36.8 405.2,36.5 404,35.7 400,35.7 400,34 404,34 405.3,33.5 404,33 400,33 400,31.6 404,31.6 405,30.5 400,30.2 400,28.9 404,28.9 405.2,28.5 404,27.9 400,27.9 400,26.2 404,26.1 405.1,25.5 404,25.1 400,25.1 400,23.8 405.1,23.5 404,22.7 400,22.7 400,21 404,21 405.2,20.5 404,20 400,20 400,18.6 404,18.6 404.8,17.5 400,17.2 400,15.9 404,15.9 405.2,15.5 404,14.9 400,14.9ZM407,49.5 408,49.9 428,49.9 428.9,49.5 428,49 408,49.1ZM408,44.1 407.4,44.5 408,44.9 429,44.9 431,45.9 431.5,45.5 431,44.2 430,44ZM457,17.3 457,17.7 458.4,17.5 458,17.2ZM518,27.4 535,39.2 535.3,38.5 535,38.3 521,28.1 519,27.1ZM536,39.1 535.2,39.5 536,40 536.6,39.5ZM537,40 536.6,40.5 537,40.8 538,40.7ZM408,61.1 407.1,61.5 408,61.9 424,61.9 425.3,61.5 424,61.1ZM407,51.4 406,51.5 408,51.9 427,51.9 428.2,51.5 427,51.1 408,51.1ZM408,46.1 407.2,46.5 408,46.9 425,46.9 426,47.1 427,48 428,48 430.3,46.5 430,45.9 428,45.8 425,46.1ZM408,63.1 407.2,63.5 408,64 424,64 425,63.5 423,63.1ZM407,53.4 408,53.9 426,53.9 427.5,53.5 426,53.1 408,53.1ZM407,55.5 408,55.9 426,55.9 426.8,55.5 426,55.1 408,55.1ZM400,65.5 400,65.2 405,65.3 405.5,66.5 404,66.9 400,66.9ZM400,68.5 400,67.9 404,68 405.8,68.5 404,69.2 400,69.2ZM407.9,68.5 410,68 422,68 423.8,68.5 423.5,69.5 422,70 410,70 408.3,69.5ZM400,71.5 400,70.6 404,70.7 405,70.9 405.6,71.5 404,72 400,72ZM409,71.5 410,71 421,71 422.7,71.5 421,72 410,72ZM400,73.5 400,73 404,73.1 405.4,73.5 405,74.2 404,74.6 403,74.5 402,73.7ZM409.5,73.5 410,73.1 411,73 421,73 422.1,73.5 421,74 411,74ZM410,75.5 411,75 420,75 421.6,75.5 420,75.9 411,75.9ZM404.8,76.5 405,76 405.5,76.5 405,76.9ZM410.5,77.5 411,77.1 420,77.1 421.2,77.5 420,77.9 411,77.9ZM411,79.5 412,79.1 420,79.1 420.9,79.5 420,79.9 412,79.9ZM411.5,81.5 412,81.1 420,81.1 420.7,81.5 420,81.9 412,81.9ZM411.8,83.5 413,83.1 419,83.1 420.6,83.5 419,83.9 413,83.9ZM412.2,85.5 413,85.1 417,85.1 420.2,85.5 413,85.9ZM412.6,87.5 413,87.2 417.9,87.5 414,87.8Z"/><path fill="#464646" d="M400,13.5 632,13.5 632,37.9 629,39.3 625,42.3 618,45.3 606,47.7 602,49.4 599,51.5 594,56.8 588.3,64.5 583.6,71.5 579,79.7 575,82.9 569.2,89.5 567,94.5 525.4,94.5 524.1,90.5 522,88.2 514,83.2 509,81.6 503.7,78.5 500,75.6 492,67.7 481,59.9 473,55.6 464,51.6 446,45.7 438,44.1 436,45 434,47.6 432.5,50.5 426,65.7 423,65 408,65 407.1,64.5 409,64 424,64.1 425,63.9 425.3,63.5 424,63 408,63 407.1,63.5 407,64.1 406.3,63.5 407,61.7 408,62 424,62 425.5,61.5 424,61 408,61 407,61.4 406,60.5 404,61.4 400,61.4 400,60.1 406,60.5 407,59.7 408,60 425,60 425.9,59.5 425,59 408,59 407,59.3 406,58.7 400,58.9 400,57.8 425,58 426.4,57.5 425,57 408,57 407,57.3 406,56.1 400,56.1 400,55 406,55 406.3,54.5 406,54 405,53.8 400,53.8 400,52.3 405,52.3 407,51.7 408,52 427,52 428.3,51.5 427,51 408,51 406,51.3 400,51 400,49.9 405,49.9 405.9,49.5 405,48.5 400,48.4 400,47.1 405,47.1 405.9,46.5 405,46 400,45.9 400,44.8 405,44.6 405.4,43.5 404,43.1 400,43.1 400,42 405,41.9 405.6,41.5 405,40.9 400,40.8 400,39.3 404,39.3 405,39.1 405.5,38.5 404,38 400,38 400,36.9 404,36.9 405.3,36.5 405,35.8 404,35.5 400,35.4 400,34.1 404,34.1 405,34 405.4,33.5 404,32.9 400,32.9 400,31.8 404,31.7 404.9,31.5 405.1,30.5 404,30.2 400,30.1 400,29 404,29 405.3,28.5 405,28.1 404,27.8 400,27.8 400,26.3 404,26.3 405,26 405.2,25.5 404,25 400,25 400,23.9 404,23.9 405.1,23.5 404,22.5 400,22.4 400,21.1 404,21.1 405.3,20.5 404,19.9 400,19.9 400,18.8 404,18.7 404.7,18.5 405,17.5 404,17.2 400,17.1 400,16 404,16 405.3,15.5 404,14.8 400,14.8ZM407,49.4 406.2,49.5 408,50 428,50 429,49.5 428,48.9 408,49ZM408,44 407.3,44.5 408,45 429,45 430.1,45.5 429,45.9 425,46 408,46 407,46.5 408,47 425,47 426,47.2 427,48.1 428,48.1 431.6,45.5 431,44.1 430,44ZM409,42.4 408.7,42.5 419.4,42.5ZM457,17 456.4,17.5 457,18 458,18.1 458.9,17.5 458,16.9ZM518,27.4 537,40.9 538,40.7 538,40.4 520,27.4 519,27ZM407,53.3 406.5,53.5 408,54 426,54 427,53.9 427.6,53.5 427,53 426,53 408,53ZM407,55.3 406.7,55.5 408,56 426,56 427,55.5 426,55 408,55ZM400,63.5 400,62.9 405,63 406,63.5 405,63.9 400,64ZM400,65.5 404.9,65.5 405.3,66.5 400,66.8ZM407.3,66.5 409,66 423,66 424.7,66.5 423,67 409,67ZM400,68.5 400,68 404,68.1 405.6,68.5 404,69.1 400,69.1ZM408.1,68.5 410,68.1 422,68.1 423.6,68.5 423.3,69.5 422,69.9 410,69.9 408.5,69.5ZM400,71.5 400,70.8 404,70.8 405.4,71.5 404,71.9 400,71.9ZM409.2,71.5 410,71.1 421,71.1 422.6,71.5 421,71.9 410,71.9ZM400,73.5 400,73.1 405.2,73.5 404,74.3 403,74.4 402,73.7ZM409.6,73.5 411,73.1 421,73.1 421.9,73.5 421,73.9 411,73.9ZM410.2,75.5 411,75.1 420,75.1 421.5,75.5 420,75.9 411,75.9ZM404.9,76.5 405,76.2 405.4,76.5 405,76.8ZM410.6,77.5 411,77.1 420,77.1 421.1,77.5 420,77.9 411,77.8ZM411.1,79.5 412,79.2 420,79.2 420.7,79.5 420,79.8 412,79.8ZM411.6,81.5 412,81.2 420,81.2 420.6,81.5 420,81.8 412,81.8ZM411.8,83.5 413,83.2 420.4,83.5 419,83.8 413,83.8ZM412.3,85.5 413,85.2 419.9,85.5 417,85.8ZM412.7,87.5 413,87.2 417.2,87.5 414,87.8Z"/><path fill="#4a4a4a" d="M400,13.5 632,13.5 632,37.2 629,38.6 624,42 617,44.9 609,46.1 606,47 602,48.6 598,51.5 593.4,56.5 587.5,64.5 582.9,71.5 578.3,79.5 574.5,82.5 569,88.7 567.4,91.5 566.4,94.5 525.5,94.5 524.3,90.5 522,87.7 514,82.8 509,81.2 503,77.6 500,75.2 493,68.1 482.6,60.5 476,56.7 466,52 459,49.3 448,45.8 442,44.3 438,43.7 436,44.5 432.7,49.5 427,63.3 426,64.4 425.7,63.5 424,62.9 407,63.1 406.8,62.5 407,62 425,62.1 425.7,61.5 425,61.1 409,60.9 407,61.2 406.2,60.5 407,59.9 425,60.1 426.1,59.5 425,59 407,59.2 406,58.5 400,58.8 400,57.9 404,58 406,58.4 407,57.8 425,58.1 426.5,57.5 425,56.9 407,57.2 406,55.9 400,56 400,55.1 406,55.2 406.4,54.5 406,53.7 400,53.7 400,52.5 405,52.5 407,51.8 427,52.1 428.4,51.5 427,50.9 407,51.2 400,50.9 400,50 405,50 406,49.7 408,50.1 428,50.1 429.1,49.5 428,48.8 408,48.9 407,49.3 406,49.2 405,48.2 400,48.1 400,47.2 405,47.2 407,46.6 408,47.1 425,47.1 426,47.2 427,48.1 428,48.1 431.7,45.5 431,44 430,43.9 409,44 408,44 407.2,44.5 408,45.1 429,45.1 429.9,45.5 429,45.8 425,45.9 408,45.9 407,46.4 405,45.9 400,45.8 400,44.9 405,44.8 405.4,44.5 405.6,43.5 404,43 400,43 400,42.1 405,42 405.8,41.5 405,40.8 400,40.7 400,39.5 405,39.3 405.6,38.5 405,38 400,37.9 400,37 404,37 405.5,36.5 405,35.5 404,35.2 400,35.1 400,34.2 404,34.2 405,34.1 405.6,33.5 405,33 404,32.8 400,32.8 400,31.9 405,31.7 405.2,30.5 404,30 400,30 400,29.1 404,29.1 405.4,28.5 405,27.9 404,27.7 400,27.7 400,26.5 404,26.5 405,26.1 405.3,25.5 404,24.9 400,24.9 400,24 404,24 405.2,23.5 405,22.8 404,22.2 400,22.1 400,21.2 404,21.2 405,21 405.4,20.5 405,20 404,19.8 400,19.8 400,18.9 404,18.9 405,18.6 405.1,17.5 404,17 400,17 400,16.1 404,16.1 405.3,15.5 405,14.9 404,14.7 400,14.7ZM409,42.3 408.5,42.5 409,42.8 430.1,42.5ZM457,16.7 456.1,17.5 457,18.3 458,18.4 459.2,17.5 458,16.5ZM518,27.3 518,27.7 537,40.9 538,40.8 538,40.4 520,27.3 519,27ZM407,53.2 406.3,53.5 408,54.1 426,54.1 427,54 427.7,53.5 427,53 426,52.9ZM407,55.2 406.4,55.5 408,56.1 426,56.1 427.1,55.5 426,54.9ZM400,60.5 400,60.2 405.6,60.5 404,61.1 400,61.1ZM400,63.5 400,63 404,63.1 405.7,63.5 404,63.9 400,63.9ZM407.3,64.5 409,64.1 423,64.1 425.6,64.5 424,64.9 409,64.9ZM400,65.5 404,65.6 404.9,66.5 400,66.7ZM407.6,66.5 409,66.1 423,66.1 424.3,66.5 423,66.9 409,66.9ZM400,68.5 400,68.1 404,68.1 405.4,68.5 404,69 400,69ZM408.3,68.5 410,68.1 422,68.1 423.4,68.5 423.1,69.5 422,69.9 410,69.9 408.6,69.5ZM400,71.5 400,70.9 404,71 405.2,71.5 400,71.8ZM409.3,71.5 410,71.2 421,71.2 422.4,71.5 421,71.8 410,71.8ZM400,73.5 400,73.2 405.1,73.5 403,74.1 402,73.6ZM409.7,73.5 411,73.2 421,73.2 421.8,73.5 421,73.8 411,73.8ZM410.3,75.5 411,75.2 420,75.2 421.4,75.5 420,75.8 411,75.8ZM404.9,76.5 405,76.3 405.2,76.5 405,76.7ZM410.7,77.5 411,77.2 420,77.2 420.9,77.5 420,77.8 412,77.8ZM411.3,79.5 412,79.2 420,79.2 420.6,79.5 420,79.8ZM411.7,81.5 412,81.2 420.5,81.5 420,81.8Z"/><path fill="#4e4e4e" d="M400,14.5 404,14.1 404.4,13.5 632,13.5 632,36.5 628,38.4 624,41.3 618,43.8 616,44.5 609,45.5 606,46.3 602,47.9 598,50.6 593,56 587.4,63.5 582.7,70.5 578,78.8 574,82 568.3,88.5 567,90.8 565.7,94.5 525.7,94.5 524.6,90.5 522.3,87.5 514.3,82.5 509,80.7 503.6,77.5 500,74.7 493,67.6 482,59.7 474,55.2 465,51.1 457,48.2 446,44.8 438,43.2 436,44.1 434,46.6 432,50.4 427,62.7 426,63.1 407,62.6 409,62.1 425,62.2 425.8,61.5 424,60.9 407,61 406.4,60.5 407,60 425,60.2 426.3,59.5 425,58.9 407,59.1 406.2,58.5 407,58 425,58.1 426,58 426.6,57.5 425,56.9 407,57.1 406.5,56.5 407,55.9 426,56.1 427.2,55.5 426,54.9 407,55.1 406.5,54.5 407,53.9 426,54.1 427,54.1 427.8,53.5 427,52.9 426,52.9 408,52.9 406,53.5 400,53.5 400,53.3 405,53.5 406,53.2 406,52.5 407,51.9 427,52.1 428.5,51.5 428,51 427,50.9 407,51.1 400,50.8 400,50.1 407,49.8 408,50.1 428,50.1 429.2,49.5 428,48.7 408,48.9 407,49.2 405,48 400,47.9 400,47.3 405,47.3 407,46.7 408,47.1 425,47.1 426,47.3 427,48.2 428,48.2 431.8,45.5 431,44 430,43.9 409,43.9 408,43.9 407.1,44.5 408,45.1 429,45.2 429.7,45.5 425,45.9 408,45.9 407,46.3 405,45.8 400,45.7 400,45.1 405,45 405.7,44.5 405.8,43.5 405,43 400,42.9 400,42.2 405,42.1 406,41.5 405,40.6 400,40.5 400,40.3 404,40.2 405.8,38.5 405,37.9 400,37.8 400,37.1 405,37 405.6,36.5 405,35.2 400,34.9 400,34.3 405,34.2 405.7,33.5 405,32.9 400,32.7 400,32.1 405,31.9 405.3,30.5 404,29.9 400,29.9 400,29.2 404,29.2 405,29.1 405.5,28.5 405,27.8 404,27.6 400,27.5 400,27.3 404,27.1 405.4,25.5 405,25 404,24.8 400,24.8 400,24.1 404,24.1 405.3,23.5 405,22.5 404,21.9 400,21.9 400,21.3 404,21.3 405,21.1 405.4,20.5 405,19.9 404,19.8 400,19.7 400,19.1 405,18.7 405.2,17.5 404,16.9 400,16.9 400,16.2 404,16.2 405,16 405.4,15.5 405,14.8 404,14.6ZM409,42.2 408.3,42.5 409,42.9 430.5,42.5ZM457,16.4 455.9,17.5 456.9,18.5 458.3,18.5 459.4,17.5 458.4,16.5ZM518,27.2 517.7,27.5 518,27.8 537,40.9 538,40.9 538,40.3 520,27.2 519,26.9ZM400,55.5 400,55.2 406.2,55.5 400,55.9ZM400,58.5 400,58.1 404,58.1 405.7,58.5ZM400,60.5 405.2,60.5 404,60.8 400,60.9ZM400,63.5 400,63.1 405.5,63.5 400,63.8ZM407.5,64.5 409,64.2 423,64.2 424.8,64.5 423,64.8 409,64.8ZM408,66.5 409,66.2 423,66.2 424,66.5 423,66.8 409,66.8ZM400,68.5 400,68.2 405.2,68.5 404,68.8 400,68.9ZM408.5,68.5 410,68.2 422,68.2 423.2,68.5 422.9,69.5 422,69.8 410,69.8 408.8,69.5ZM400,71.5 400,71.1 404,71.2 405.1,71.5ZM409.5,71.5 410,71.2 422.3,71.5 421,71.8 410,71.8ZM400,73.5 404.6,73.5 403,73.9ZM409.8,73.5 411,73.2 421.6,73.5 421,73.8ZM405,76.5 405,76.4 405.1,76.5 405,76.6Z"/><path fill="#525252" d="M404.3,14.5 405,13.5 632,13.5 632,35.8 628,37.6 624,40.6 618,43.1 616,43.8 609,44.8 605,45.9 601,47.7 597.1,50.5 592.5,55.5 586.6,63.5 581.9,70.5 577.4,78.5 573.6,81.5 568,87.9 566.4,90.5 565,94.5 525.9,94.5 525,90.8 522.9,87.5 515,82.4 509,80.3 504,77.4 500,74.2 493,67.1 483,59.8 476,55.8 466,51.1 459,48.4 448,44.9 439,42.9 437,43 436,43.6 434,46.2 432.2,49.5 427,61.9 426,61.8 425,60.9 424,60.8 407,60.8 406.7,60.5 407,60.2 425,60.2 426,60.1 426.5,59.5 425,58.8 407,58.9 406.4,58.5 407,58.1 425,58.2 426,58.1 426.8,57.5 426,56.9 425,56.8 407,56.9 406.6,56.5 407,56.1 426,56.2 427.3,55.5 426,54.8 407,55 406.6,54.5 407,54.1 426,54.2 427,54.2 427.9,53.5 427,52.8 407,53 406.2,52.5 407,52 427,52.2 428,52 428.5,51.5 428,50.9 427,50.8 407,51 400,50.7 400,50.3 407,49.9 428,50.2 429.3,49.5 428,48.6 407,49.1 405,47.7 400,47.5 405,47.4 407,46.8 408,47.2 425,47.2 426,47.4 427,48.3 428,48.3 431.9,45.5 431,43.9 430,43.8 409,43.8 408,43.8 406.6,44.5 408,45.2 429.6,45.5 408,45.8 407,46.2 405,45.7 400,45.6 400,45.3 405,45.2 405.9,44.5 406,43.5 405,42.8 400,42.8 400,42.3 405,42.3 406.1,41.5 404.9,40.5 405.9,38.5 405,37.8 400,37.7 400,37.3 405,37.1 405.7,36.5 405,34.9 400,34.6 405,34.3 405.8,33.5 405,32.8 400,32.6 400,32.3 405,32 405.4,31.5 405.5,30.5 405,29.9 400,29.8 400,29.3 405,29.2 405.6,28.5 405,27.6 404.3,27.5 405.5,25.5 405,24.9 400,24.7 400,24.3 404,24.2 405,24 405.4,23.5 405,22.2 404,21.7 400,21.6 405,21.2 405.5,20.5 405,19.8 404,19.7 400,19.6 400,19.3 405,18.9 405.3,17.5 405,17 400,16.8 400,16.3 405,16.1 405.5,15.5 405,14.7ZM409,42.1 408.1,42.5 409,43 430,42.8 430.8,42.5ZM457,16.3 455.6,17.5 456.5,18.5 458.8,18.5 459.6,17.5 458.9,16.5ZM518,27.2 517.6,27.5 518,27.8 537,41 538,41 538.3,40.5 538,40.3 520,27.2 519,26.9ZM400,55.5 405.8,55.5 400,55.8ZM407.2,62.5 409,62.2 424,62.2 425.7,62.5 424,62.8ZM407.7,64.5 409,64.2 424.5,64.5 423,64.8ZM408.2,66.5 423.7,66.5 423,66.8ZM400,68.5 405,68.5 400,68.8ZM408.6,68.5 423.1,68.5 422.6,69.5 422,69.7 410,69.7 408.9,69.5Z"/><path fill="#565656" d="M404.9,14.5 405.1,13.5 632,13.5 632,35.1 628,36.9 623,40.3 617,42.8 609,44.1 605,45.2 601,46.9 597,49.7 592,55.1 586.5,62.5 581.2,70.5 577,77.9 573,81.2 567.4,87.5 565.7,90.5 564.3,94.5 526,94.5 525,90.2 523,87.1 515,82 509,79.9 504,76.9 500,73.8 493,66.7 483,59.4 476,55.3 467,51.1 459,48 448,44.5 439,42.5 437,42.5 436,43.2 432.9,47.5 427,60.8 407,60.6 408,60.3 426,60.4 426.8,59.5 425,58.7 407,58.8 406.6,58.5 407,58.2 426,58.2 426.9,57.5 426,56.8 407,56.8 406.7,56.5 407,56.2 426,56.3 427,56 427.5,55.5 426,54.7 407,54.8 406.7,54.5 407,54.2 426,54.3 427,54.2 428,53.5 427,52.7 407,52.9 406.4,52.5 407,52.1 427,52.3 428,52.1 428.6,51.5 428,50.8 427,50.7 407,50.9 406,50.6 400,50.6 400,50.4 407,50 428,50.3 429.4,49.5 429,48.9 428,48.6 407,49 405.4,47.5 407,46.9 408,47.3 425,47.3 426,47.5 427,48.4 428,48.4 432,45.5 431,43.8 408,43.8 407,44.4 405,42.7 400,42.6 405,42.4 406.1,41.5 405.3,40.5 406,38.5 405,37.7 400,37.6 400,37.4 405,37.3 405.9,36.5 405,34.6 404.5,34.5 405,34.4 405.9,33.5 405,32.7 400,32.5 405,32.2 405.5,31.5 405.6,30.5 405,29.8 400,29.6 405,29.3 405.7,28.5 405,27.5 405.6,25.5 405,24.8 400,24.6 400,24.4 405,24.2 405.5,23.5 405,21.9 404.2,21.5 405,21.4 405.6,20.5 405,19.7 400,19.5 405,19.1 405.4,17.5 405,16.9 400,16.6 405,16.2 405.6,15.5ZM408,42.5 409,43.1 430,42.9 431.1,42.5 409,42ZM457,16.1 456,16.5 455.4,17.5 456,18.4 458,18.9 459.2,18.5 459.9,17.5 459.2,16.5ZM518,27.1 517.5,27.5 518,27.9 537,41 538,41.1 538.3,40.5 538,40.3 520,27.1ZM541,13.8 540.9,14.5 541,15.1 541.1,14.5ZM547,50.1 547,50.5 547,51.3 547,50.5ZM400,45.5 405,45.4 407,44.7 408,45.3 429.4,45.5 408,45.7 407,46.1 405,45.6ZM408.8,68.5 422.8,68.5 422.4,69.5 422,69.6 410,69.6 409.2,69.5Z"/><path fill="#5a5a5a" d="M405.2,13.5 540.9,13.5 541,15.6 541.1,13.5 632,13.5 632,34.4 628,36.1 623,39.5 617,42.1 605,44.5 600.4,46.5 596.2,49.5 591.6,54.5 585.6,62.5 581,69.5 576.4,77.5 572.7,80.5 566.6,87.5 565,90.5 563.6,94.5 526.2,94.5 525,89.6 523,86.7 515,81.5 509,79.4 504,76.5 500,73.3 493,66.2 483,58.9 476,54.9 467,50.6 459,47.5 450,44.6 439,42 437,42.1 436,42.7 433,46.8 428,58.2 427,59.5 426,58.8 425,58.7 406.8,58.5 426,58.3 427,57.5 426,56.7 406.8,56.5 426,56.3 427,56.2 427.6,55.5 427,54.9 406.8,54.5 427,54.3 428.1,53.5 427,52.7 407,52.8 406.5,52.5 407,52.2 427,52.3 428,52.2 428.7,51.5 428,50.7 407,50.8 406.1,50.5 407,50.2 428,50.3 429.5,49.5 429,48.8 428.2,48.5 429.1,47.5 432.3,45.5 431,43.7 408,43.7 407,44.3 406,43 405,42.5 400,42.5 405,42.5 406,42 406.2,41.5 405.5,40.5 406.1,38.5 405,37.6 400,37.5 405,37.4 406,36.5 405.1,34.5 406,33.5 404.5,32.5 405,32.4 405.6,31.5 405.7,30.5 405,29.7 400,29.5 405,29.4 405.8,28.5 405.1,27.5 405.7,25.5 405,24.7 400,24.5 405,24.3 405.6,23.5 404.8,21.5 405.7,20.5 405,19.6 404.3,19.5 405,19.3 405.4,18.5 405.5,17.5 405,16.7 400,16.5 405,16.3 405.7,15.5 405.1,14.5ZM408,42.4 408,42.8 409,43.2 430,43.1 431.2,42.5 410,42ZM456,16.3 455.2,17.5 455.8,18.5 457,19 459,18.8 460.1,17.5 459,16.2 457,16ZM518,27.1 517.5,27.5 518,27.9 537,41 538,41.1 538.3,40.5 538,40.2 520,27ZM542,16.6 541.7,17.5 542,21.6ZM405.3,45.5 407,44.8 408,45.3 426.8,45.5 408,45.7 407,46ZM428.2,45.5 429,45.4 429.2,45.5 429,45.6ZM406,47.5 407,47 408,47.3 425,47.3 425.8,47.5 426.8,48.5 407,48.9 406.4,48.5ZM408.9,68.5 422.4,68.5 422,69.6 410,69.6Z"/><path fill="#5e5e5e" d="M405.4,13.5 540.9,13.5 541,16.1 541.4,15.5 541.2,13.5 632,13.5 632,33.7 627,35.8 616.7,41.5 605,43.8 600,46 596,48.8 591,54.2 585.5,61.5 580.2,69.5 576,76.9 572,80.3 566,87.2 564.2,90.5 562.9,94.5 526.3,94.5 525.2,89.5 523,86.2 515,81.1 509,79 504,76 500,72.8 493,65.8 483,58.5 476,54.4 466,49.7 450,44.2 443,42.3 438,41.5 436,42.2 433,46.2 431,43.7 408,43.6 407,44.1 405.3,42.5 406,42.2 406.3,41.5 405.8,40.5 406.2,38.5 405,37.5 406.1,36.5 405.3,34.5 406.1,33.5 405.1,32.5 405.8,31.5 405.8,30.5 404.8,29.5 405.9,28.5 405.3,27.5 405.8,25.5 405,24.6 404.4,24.5 405,24.4 405.7,23.5 405.1,21.5 405.8,20.5 405,19.5 405.6,17.5 404.6,16.5 405.8,15.5 405.2,14.5ZM408,42.3 408,43 409,43.3 430,43.2 431,43 431.3,42.5 430,42.2 410,41.9ZM456,16.2 455,17.5 455.5,18.5 457,19.1 459,18.9 459.8,18.5 460.3,17.5 459.8,16.5 459,16 457,15.8ZM518,27 517.4,27.5 518,28 537,41.1 538,41.2 538.4,40.5 538,40.2 520,27ZM542,16.2 541.5,16.5 542,22 542.3,20.5ZM543,22.6 542.7,23.5 543,28.1 543.3,26.5ZM544,29.2 543.7,30.5 544,34.2ZM550,69.2 550,69.5 550,69.9 550,69.5ZM406,45.5 407,45 408,45.4 426.3,45.5 408,45.6 407,45.9ZM428.8,45.5 429,45.5 429.1,45.5 429,45.5ZM431.1,46.5 432,46.2 432.6,46.5 428,57.6 426,56.6 407,56.5 427,56.3 427.7,55.5 427,54.7 426,54.6 406.9,54.5 427,54.4 428.4,53.5 427,52.6 406.7,52.5 427,52.4 428,52.3 428.8,51.5 428,50.6 406.4,50.5 428,50.4 429.5,49.5 428.5,48.5 429.2,47.5ZM406.3,47.5 407,47.2 425,47.4 426.3,48.5 407,48.8ZM409.7,68.5 422.1,68.5 422,69.5 410,69.5Z"/><path fill="#626262" d="M405.5,13.5 540.8,13.5 540.8,15.5 542,22.4 542.5,23.5 543,28.5 543.4,27.5 543,22.5 542.5,21.5 542,15.8 541.3,13.5 632,13.5 632,32.7 624,35.8 617.2,40.5 615,41.3 608,42.3 604,43.4 599.5,45.5 595.3,48.5 590,54.4 584.7,61.5 579.4,69.5 575.5,76.5 571.8,79.5 565.7,86.5 563.9,89.5 562.3,94.5 526.5,94.5 525.4,89.5 523,85.7 515,80.6 509,78.5 504,75.5 500,72.4 493,65.3 483,58 476,54 466,49.3 450,43.7 443,41.8 438,41 436,41.8 433,45.6 432,45 431,43.6 409,43.5 407,44 405.8,42.5 406.4,41.5 406,40.5 406.3,38.5 405.3,37.5 406.2,36.5 405.5,34.5 406.1,33.5 405.3,32.5 405.9,31.5 405.9,30.5 405.1,29.5 406,28.5 405.4,27.5 405.9,25.5 405,24.5 405.8,23.5 405.2,21.5 405.9,20.5 405.1,19.5 405.7,17.5 405.1,16.5 405.9,15.5 405.4,14.5ZM408,42.2 407.7,42.5 408,43.3 409,43.4 430,43.3 431,43.2 431.5,42.5 430,42.1 410,41.8ZM456,16 455.2,16.5 454.8,17.5 455.3,18.5 456,19 457,19.3 459,19.1 460,18.5 460.5,17.5 460.1,16.5 459,15.8 457,15.7ZM518,26.9 517.3,27.5 518,28.1 537,41.1 538,41.3 538.4,40.5 523,29.1 520,26.9ZM544,28.8 543.6,29.5 544,34.6 544.3,33.5ZM545,35.3 544.7,36.5 545,40.7 545.3,39.5ZM546,41.8 545.7,43.5 546,46.9ZM556,40.9 555.7,42.5 556,44.5ZM560,14.1 559.9,14.5 560,15.4 560,14.5ZM406.3,45.5 407,45.1 408,45.5 425.5,45.5 408,45.5 407,45.8ZM406.5,47.5 425,47.5 425.5,48.5 407,48.7ZM429.4,47.5 431,46.7 432,47 432.1,47.5 428,56.9 426,56.5 407.7,56.5 427,56.5 427.8,55.5 427,54.6 407.2,54.5 427,54.4 428.6,53.5 427,52.5 406.9,52.5 427,52.5 428,52.4 428.9,51.5 428,50.5 406.6,50.5 428,50.5 429,50.2 429.6,49.5 428.9,48.5Z"/><path fill="#666666" d="M405.6,13.5 540.7,13.5 540.7,15.5 542.9,28.5 543.4,29.5 544,34.9 544.5,34.5 544,28.5 543.5,27.5 543,21.9 541.4,13.5 632,13.5 632,31.3 627,32.9 623,34.7 619,37.3 615.2,40.5 608,41.6 604,42.7 599,45 595,47.9 590.7,52.5 585.3,59.5 580,67.3 575,75.9 571,79.4 565,86.3 563.2,89.5 561.6,94.5 526.7,94.5 525.2,88.5 523,85.2 515,80.1 509,78 504,75.1 500,71.9 493,64.8 483,57.5 476,53.5 466,48.8 450,43.3 443,41.4 438,40.6 436,41.3 433,45.1 432,44.9 431,43.5 416.8,43.5 431,43.4 431.6,42.5 430,42 409,41.7 407.6,42.5 408,43.5 407,43.9 406.1,42.5 406.5,41.5 406.1,40.5 406.3,38.5 405.6,37.5 406.2,36.5 405.7,34.5 406.2,33.5 405.5,32.5 406,30.5 405.3,29.5 406.1,28.5 405.5,27.5 406,25.5 405.2,24.5 405.9,23.5 405.4,21.5 406,20.5 405.3,19.5 405.8,17.5 405.2,16.5 406,15.5 405.5,14.5ZM458,15.5 456,15.8 455,16.5 454.5,17.5 455,18.5 456,19.1 458,19.4 460.3,18.5 460.8,17.5 460.4,16.5ZM518,26.9 517.2,27.5 518,28.1 537,41.1 538,41.4 538.5,40.5 523,29 520,26.8ZM545,35 544.5,35.5 545,41.1 545.4,39.5ZM546,41.5 545.6,42.5 546,47.2 546.3,45.5ZM547,48 546.7,49.5 547,53.3ZM556,40.1 555.5,40.5 555.4,41.5 555.5,44.5 556,45.6ZM406.5,45.5 407,45.2 407.7,45.5 407,45.7ZM406.8,47.5 407.6,47.5 407.4,48.5 406.9,48.5ZM429.6,47.5 431,46.9 431.8,47.5 429,54 427.5,52.5 429,51.5 428.2,50.5 429,50.3 429.7,49.5 429.2,48.5ZM406.9,50.5 407,50.5 407.3,50.5 407,50.5ZM427.2,54.5 428.5,54.5 428,56Z"/><path fill="#6a6a6a" d="M405.7,13.5 515.4,13.5 519,16.4 522,17.3 524,16.8 525,16 526,13.5 540.6,13.5 540.7,15.5 544.5,36.5 545,41.4 545.5,42.5 546,47.5 546.4,46.5 546,41.5 545.5,40.5 545,34.6 544.5,33.5 544,28.2 541.5,13.5 560,13.5 560,16.4 560,13.5 632,13.5 632,29.6 623,32.8 619,35.5 614,39.7 607,41.1 602,42.7 598,44.8 594.4,47.5 589.8,52.5 584.5,59.5 579.7,66.5 574.5,75.5 570.9,78.5 564.7,85.5 562.4,89.5 560.9,94.5 526.8,94.5 525.5,88.5 523,84.8 515,79.7 509,77.6 505,75.3 500.1,71.5 493,64.3 487,59.8 478,54.1 467,48.8 459,45.7 450,42.8 443,40.9 438,40.1 436,40.8 433,44.7 432,44.7 431.1,43.5 431.7,42.5 430,42 409,41.6 407.4,42.5 407.7,43.5 407,43.8 406.3,42.5 406.4,38.5 405.9,37.5 406.3,36.5 405.9,34.5 406.3,33.5 405.7,32.5 406.1,30.5 405.5,29.5 406.1,28.5 405.7,27.5 406,25.5 405.3,24.5 406,23.5 405.5,21.5 406,20.5 405.4,19.5 405.9,17.5 405.3,16.5 406,15.5 405.6,14.5ZM457,15.3 454.7,16.5 454.3,17.5 455,18.7 456,19.3 458,19.6 460.6,18.5 461,17.5 460.7,16.5 459,15.5ZM518,26.8 517.1,27.5 518,28.2 537,41.2 538,41.5 538.5,40.5 523,28.9 520,26.8ZM547,47.7 546.6,48.5 547,53.6 547.3,52.5ZM548,54.3 547.7,55.5 548,59.7 548.3,58.5ZM555,36.1 555,46 556,46.3 556.1,40.5 556,39.6 555.2,38.5ZM406.8,45.5 407,45.4 407.3,45.5 407,45.6ZM407,47.5 407,47.5 407,47.5 407,47.5ZM429.7,47.5 431,47.1 431.5,47.5 430,51 429,51.1 428.6,50.5 429.8,49.5 429.4,48.5ZM428.1,52.5 429,51.9 429.4,52.5 429,53.4Z"/><path fill="#6e6e6e" d="M405.8,13.5 510.1,13.5 513,16.5 515.8,18.5 519,20.1 522,20.6 525,19.9 526.7,18.5 528,16.5 528.6,13.5 540.5,13.5 540.7,16.5 545.4,42.5 546,47.8 546.4,48.5 547,53.9 547.5,53.5 547,47.5 546.6,46.5 546,40.9 541.6,13.5 559.9,13.5 560,16.7 560.1,13.5 632,13.5 632,27.4 625,29.9 621,32 612.3,39.5 607,40.4 602,42 597,44.6 593.4,47.5 588.9,52.5 582.9,60.5 578,67.9 574,74.9 570,78.4 563.9,85.5 561.7,89.5 560.2,94.5 527,94.5 525.7,88.5 525,86.9 523,84.3 515,79.2 509,77.1 504,74.1 500,70.9 493,63.9 483,56.6 476,52.6 466,47.9 449,42 442,40.2 438,39.6 436,40.3 433,44.2 432,44.5 431.3,43.5 431.9,42.5 430,41.9 409,41.5 407.3,42.5 407.4,43.5 407,43.7 406.4,42.5 406.5,38.5 406.1,37.5 406.3,33.5 405.9,32.5 406.2,30.5 405.7,29.5 406.2,28.5 405.8,27.5 406.1,25.5 405.5,24.5 406.1,23.5 405.6,21.5 406.1,20.5 405.5,19.5 406,17.6 405.5,16.5 406.1,15.5ZM456,15.4 454.4,16.5 454.1,17.5 455,19 458,19.8 460,19.2 460.9,18.5 461.3,17.5 460.9,16.5 460,15.7 458,15.1ZM518,26.7 517.1,27.5 518,28.3 537,41.2 538,41.5 538.6,40.5 522,28.1 520,26.7ZM548,54 547.5,54.5 548,60 548.3,58.5ZM549,60.5 548.7,61.5 549,66 549.3,64.5ZM550,67.1 549.7,68.5 550,72.1ZM551,73.5 551,73.5 551,73.6 551,73.5ZM555,34.5 555,46.5 556,46.7 556.2,40.5 555.2,37.5ZM557,32.8 556.7,36.5 557,37.9ZM429.9,47.5 431.2,47.5 430,50.4 429.6,48.5ZM428.9,50.5 429,50.5 429.6,50.5 429,50.6ZM428.7,52.5 429,52.3 429.1,52.5 429,52.8Z"/><path fill="#727272" d="M406,13.5 505.3,13.5 509.7,17.5 514.3,20.5 519,22.4 522,22.9 525,22.4 527.5,20.5 529.7,16.5 530.3,13.5 540.5,13.5 540.6,16.5 543.3,30.5 547,54.2 547.5,55.5 548,60.3 548.5,59.5 548,53.7 547.5,52.5 547.1,47.5 541.8,13.5 559.9,13.5 560,17.1 560.2,13.5 632,13.5 632,24.3 621,29.7 618,32 611.3,38.5 604,40.5 600,42.1 596,44.4 593,46.9 588,52.4 582.7,59.5 577.4,67.5 573.4,74.5 569,78.5 563,85.5 560.9,89.5 559.4,94.5 527.1,94.5 526,88.5 525,86.4 523,83.8 515,78.7 509,76.6 505,74.3 501,71.4 493,63.4 487,58.8 478,53.2 467,47.8 459,44.8 450,41.9 443,40 438,39.2 436,39.8 433,43.6 432,44.3 431.4,43.5 432,42.5 431,42 410,41.2 408,41.8 407.2,42.5 407,43.6 406.2,37.5 406.4,33.5 405.8,29.5 406.2,28.5 406,27.5 406.2,25.5 405.6,24.5 406.1,23.5 405.7,21.5 406.1,20.5 405.6,19.5 406.1,17.5 405.6,16.5 406.1,15.5ZM456,15.2 454.1,16.5 453.8,17.5 454.2,18.5 455,19.2 458,20 460,19.4 461.2,18.5 461.6,17.5 461.3,16.5 460,15.5 458,14.9ZM517,27.5 537,41.3 538.2,41.5 538.6,40.5 522,27.9 520,26.7 518,26.7ZM549,60.3 548.5,60.5 549,66.3 549.4,65.5ZM550,66.8 549.7,67.5 550,72.4 550.3,71.5ZM555,33.4 554.9,46.5 555,47 556,47 556.3,39.5 555.4,37.5ZM557,32.4 556.6,36.5 557,38.2 557.3,34.5ZM558,25.3 557.7,29.5 558,31.1 558.3,27.5ZM559,18.2 558.7,22.5 559,24 559.3,19.5ZM429.8,48.5 430,47.7 430.4,48.5 430,49.8Z"/><path fill="#767676" d="M406,14.5 406,13.5 498.2,13.5 512,21.7 517,23.7 522,24.7 525,24.3 528,22.4 530.3,18.5 531.3,15.5 531.5,13.5 540.4,13.5 540.6,16.5 543.4,31.5 548,60.5 548.4,61.5 549,66.5 549.5,67.5 550,72.7 550.4,72.5 550.4,71.5 550,66.5 549.5,65.5 549,60 548.5,58.5 541.9,13.5 559.8,13.5 559.6,16.5 560,17.4 560.2,13.5 632,13.5 632,20.3 620,27.8 609.2,38.5 604,39.8 599,41.8 595,44.3 591.4,47.5 587,52.5 581.2,60.5 576.5,67.5 573,73.8 568.9,77.5 562.8,84.5 560.6,88.5 558.7,94.5 527.3,94.5 526,87.9 525,85.8 523,83.3 515,78.2 509,76.2 505,73.8 501,70.9 493,62.9 487,58.3 478,52.7 467,47.4 459,44.3 450,41.4 443,39.5 438,38.7 436,39.3 432,44.1 431.6,43.5 432.5,42.5 431,41.9 415.4,41.5 410,40.7 409,40.8 407.1,42.5 407,43.2 406.3,37.5 406.2,25.5 405.8,24.5 406.2,23.5 405.9,21.5 406.2,20.5 405.8,19.5 406.1,17.5 405.7,16.5 406.2,15.5ZM455,15.4 453.8,16.5 453.5,17.5 453.9,18.5 455.1,19.5 457,20.1 459,20 461.5,18.5 461.9,17.5 461.6,16.5 460,15.2 457,14.8ZM517,27.1 516.7,27.5 519,29.2 537,41.3 538.3,41.5 538.6,40.5 523.9,29.5 521,26.9 519,26.6ZM551,72.9 550.6,73.5 551,74.7ZM555,32.5 554.9,46.5 555,47.3 556,47.3 556.5,39.5 557,38.5 557.3,33.5 557,32.1 556.5,37.5 556,38.4 555.3,36.5ZM558,25 557.7,29.5 558,31.5 558.3,26.5ZM559,17.8 558.7,22.5 559,24.4 559.4,19.5ZM430,48.5 430,48.4 430,48.5 430,48.7Z"/><path fill="#7a7a7a" d="M406.1,13.5 489.8,13.5 495,16.2 511.5,23.5 517.5,25.5 522,26.2 526,25.6 529,23.4 531.4,18.5 532.5,13.5 540.3,13.5 540.5,16.5 543.3,31.5 548.9,66.5 549.4,67.5 549.9,72.5 551,74.9 551.2,73.5 550.5,71.5 550.1,66.5 549.6,65.5 542,13.5 559.7,13.5 558.7,20.5 558.6,24.5 559,24.7 559.5,18.5 560.2,16.5 560.3,13.5 632,13.5 632,15.2 620,24.6 607.9,37.5 598,41.5 594,44.1 590.4,47.5 586.1,52.5 580.3,60.5 575.7,67.5 572.4,73.5 568,77.4 561.9,84.5 559.8,88.5 558,94.5 527.5,94.5 526,87.3 525,85.3 523,82.8 515,77.8 509,75.7 505,73.3 501,70.4 493,62.4 487,57.8 478,52.2 467,46.9 459,43.8 450,40.9 443,39 438,38.2 436,38.8 433,42.5 430,41.7 418,41.5 409,40 408.2,41.5 407,42.7 406.4,37.5 406.3,25.5 405.9,24.5 406.2,23.5 405.9,16.5 406.2,15.5ZM455,15.1 453.5,16.5 453.2,17.5 453.5,18.5 455,19.7 457,20.3 459,20.2 460.8,19.5 461.9,18.5 462.2,17.5 462,16.5 460,14.9 457,14.6ZM517,26.8 516.4,27.5 517,28 537,41.3 538.4,41.5 538.7,40.5 524,29.5 521,26.6ZM555,31.7 554.9,46.5 555,47.6 556,47.6 557.5,32.5 557,31.8 556,38.1 555.5,36.5ZM558,24.7 557.6,30.5 557.6,31.5 558,31.7 558.5,25.5ZM431.8,43.5 432,43.1 432.4,43.5 432,43.8Z"/><path fill="#7e7e7e" d="M406.2,13.5 482.3,13.5 486.9,16.5 491.1,18.5 516,26.6 516.1,27.5 517,28.2 524.1,32.5 537,41.4 538,41.7 538.5,41.5 538.7,40.5 523.1,28.5 523.2,27.5 527.3,26.5 530,24.1 532.4,18.5 533.3,13.5 540.2,13.5 540.4,16.5 543.2,31.5 549.9,72.5 551,75.1 551.2,73.5 550.6,71.5 542,13.5 559.7,13.5 558.4,23.5 557.8,25.5 557.4,30.5 556,37.7 555.4,35.5 555,30.9 554.8,31.5 554.8,46.5 555,47.8 556,47.9 556.6,40.5 560.2,16.5 560.3,13.5 627.3,13.5 621,19 611.2,31.5 605.7,37.5 599,40.2 595,42.5 592,44.9 588,49 578.7,61.5 572,72.6 567.8,76.5 561.1,84.5 559,88.5 557.2,94.5 527.6,94.5 527.1,90.5 526,86.7 525,84.8 523,82.3 515,77.3 509,75.2 504,72.2 500.6,69.5 493,61.9 487,57.3 481,53.4 471,48.2 459,43.3 446,39.3 438,37.7 436,38.3 433,42 417,41.1 411,39.9 409,38.9 408,41.3 407,42 406.2,29.5 406.4,28.5 406,24.5ZM457,14.2 455,14.8 453.1,16.5 453.2,18.5 454.2,19.5 456,20.3 459,20.4 461,19.8 462.4,18.5 462.7,17.5 462.5,16.5 461.7,15.5 459,14.3ZM554,14.8 553.7,18.5 554,29 554.3,25.5ZM431.9,43.5 432,43.4 432.1,43.5 432,43.6Z"/><path fill="#818181" d="M406.3,13.5 474.2,13.5 482.5,18.5 489,21.3 512,26.8 517.2,28.5 524,32.5 537,41.4 538,41.7 538.7,41.5 538.8,40.5 528,32.5 524.7,29.5 525,28.5 527,28 529,27 531,24.6 533,19.4 534.1,13.5 540.2,13.5 540.5,17.5 543.2,31.5 549.8,72.5 551,75.3 551.3,73.5 549.6,64.5 542.1,13.5 559.6,13.5 557.3,30.5 556,37.4 555.5,35.5 555,30.2 554.6,31.5 554.8,46.5 555,48.1 556,48.1 556.7,40.5 560.3,16.5 560.4,13.5 620.5,13.5 617,18.2 610.3,29.5 603.4,37.5 598,39.8 594,42.3 590,45.8 585.8,50.5 576.5,63.5 571.2,72.5 567,76.3 560.8,83.5 558.2,88.5 556.5,94.5 527.8,94.5 527.3,90.5 526.2,86.5 525,84.2 523,81.8 515,76.7 509,74.7 504,71.6 501,69.3 493,61.4 487,56.8 481,52.9 471,47.7 460,43.1 446,38.8 438,37.2 436,37.8 433,41.5 432,41.9 416,40.6 411.1,39.5 409,37.8 408.1,40.5 407,41.3 406.1,24.5ZM455,14.4 453.3,15.5 452.4,17.5 452.7,18.5 454,19.8 457,20.9 459,20.8 461,20.2 462.9,18.5 463.4,17.5 463.2,16.5 462.6,15.5 461,14.4 458,13.8ZM554,14.2 553.6,14.5 553.6,15.5 554,29.7 554.4,27.5Z"/><path fill="#858585" d="M406.3,13.5 455.9,13.5 453,15 452,16.5 451.9,17.5 452.9,19.5 455,20.8 458,21.3 461,20.7 463.1,19.5 464.7,17.5 465,16.4 466,15.8 482.7,22.5 488,24.2 502,26.2 518.1,29.5 522.1,31.5 538,41.8 538.8,41.5 538.8,40.5 527,31.5 525.9,30.5 525.9,29.5 529,28.5 530.3,27.5 531.7,25.5 534,18.6 534.8,13.5 540.1,13.5 540.4,17.5 543.3,32.5 549.8,72.5 551,75.5 551.3,73.5 542.2,13.5 559.6,13.5 556,37.1 554.6,28.5 554,13.8 553,14.4 553.4,16.5 554,30.4 554.5,32.5 554.7,46.5 555,48.3 556,48.3 556.6,41.5 560.2,17.5 560.4,13.5 615.8,13.5 609,27.5 601.3,37.5 594,41.3 588.2,46.5 578.9,58.5 574.3,65.5 570.9,71.5 566.7,75.5 560.6,82.5 557.8,87.5 555.7,94.5 528,94.5 527.5,90.5 526.4,86.5 525,83.7 523,81.3 515,76.2 509,74.2 504,71.1 501,68.8 493,60.8 482,53 472,47.6 461,43 446,38.3 438,36.7 436,37.3 432.6,41.5 432,41.8 416.8,40.5 412.6,39.5 409,36.8 408,39.7 407,40.7 406.2,24.5ZM538,15.4 537.5,16.5 538,18 538.5,16.5Z"/><path fill="#898989" d="M406.4,13.5 452.3,13.5 451.2,15.5 451,17.5 451.9,19.5 454,21.1 458,22 465,21.4 488,27 501,27.8 520,30.8 525.2,33.5 538,41.8 538.9,41.5 538.9,40.5 530.9,34.5 527.3,31.5 526.8,30.5 530,29.2 532.3,26.5 535.3,16.5 535.5,13.5 540,13.5 539.8,14.5 540.4,18.5 543.2,32.5 549.9,73.5 551,75.7 551.4,73.5 542.2,13.5 553,13.5 554.4,33.5 554.7,46.5 555,48.5 556,48.6 556.7,41.5 560.4,16.5 560.5,13.5 612.1,13.5 606.8,26.5 599.4,37.5 595,39.8 591.2,42.5 588,45.6 584,50.3 575.3,62.5 570,71.5 566,75.1 559,83.5 556.6,88.5 554.9,94.5 528.2,94.5 527.5,89.5 526.3,85.5 525,83.1 523,80.7 515,75.7 509,73.6 504,70.6 501,68.3 493,60.3 483,53.1 474,48.1 462,42.8 447,38 438,36.2 436,36.8 435,37.7 432,41.6 418.6,40.5 414.5,39.5 412,38.2 409,35.8 408,38.4 407,38.4 406.2,24.5ZM537,15.4 536.8,16.5 538,19.6 539,18.5 539.2,16.5 538,15ZM554,13.5 559.5,13.5 556,36.8 554.7,27.5Z"/><path fill="#8d8d8d" d="M406.5,13.5 446.1,13.5 448,18.5 450,21.3 453,23.4 458,25.4 462,26.1 473,26.9 488,29.4 501,29.4 521,31.7 525,33.5 538,41.9 539,41.5 538.9,40.5 530.9,34.5 527.8,31.5 531,29.7 532.8,27.5 536,17.4 537,18.3 538,21.2 539,22.8 539.4,17.5 540,16.1 543.2,32.5 549.8,73.5 551,75.9 551.4,74.5 551.3,72.5 542.3,13.5 552.9,13.5 554.4,34.5 554.7,46.5 555,48.7 556,48.7 556.7,41.5 560.3,17.5 560.6,13.5 608.9,13.5 604.6,25.5 597.5,37.5 593,40.1 590,42.5 586.1,46.5 582.1,51.5 574.3,62.5 569.7,70.5 565.5,74.5 558.7,82.5 556.1,87.5 554.1,94.5 528.3,94.5 527.7,89.5 526.6,85.5 525,82.5 523,80.2 515,75.2 509,73.1 504,70.1 501,67.7 493,59.8 483,52.5 474,47.5 464,43.1 448,37.8 442,36.2 438,35.7 436,36.2 435,37.1 432,41.4 429,40.9 421.8,40.5 417,39.4 412,37.3 409,34.8 408,37.3 407,37.9 406.3,24.5ZM536.3,13.5 539.8,13.5 539,15.3 538,14.5 537,14.4ZM554.1,13.5 559.5,13.5 556,36.5 554.7,26.5Z"/><path fill="#919191" d="M406.5,13.5 440.5,13.5 442,19.6 444,24.5 446,26.9 449,28.3 460,30.6 471,30.3 489,31.6 502,30.8 522,32.6 525,33.7 538,41.9 539.2,41.5 538.9,40.5 531,34.5 528.9,32.5 529,32 532,30.2 533.3,28.5 536,19.7 537,20 539,25.4 540,17.1 543.1,32.5 549.8,73.5 551,76.1 551.4,74.5 551.3,72.5 549.7,63.5 542.4,13.5 552.9,13.5 554.4,35.5 554.6,46.5 555,48.9 556,48.9 557.7,34.5 560.4,17.5 560.6,13.5 606.3,13.5 602.4,24.5 595.7,37.5 590,41.4 585,46.6 575.4,59.5 568.7,70.5 565,73.9 558.4,81.5 555.2,87.5 553.3,94.5 528.5,94.5 527.9,89.5 526.9,85.5 525.4,82.5 523,79.6 515,74.6 509,72.6 504,69.5 501,67.1 493,59.2 483,52 474,47 465,42.9 450,37.8 439,35.2 437,35.2 436,35.7 432.6,39.5 432,40.7 427.8,40.5 416,38.1 412,36.4 409,33.9 408,36.1 407,36 406.4,24.5ZM537.1,13.5 539.6,13.5 539,14.8ZM554.1,13.5 559.4,13.5 556,36.2 554.7,25.5Z"/><path fill="#959595" d="M406.6,13.5 436.6,13.5 439.2,26.5 440,29.1 442,31.5 446,33.1 458,34.8 472,33.7 488,33.6 501,32.2 508,32.3 524,33.5 528,35.5 536,41 538,42 539.3,41.5 539,40.5 530,33.5 529.9,32.5 532,31.3 533.6,29.5 534.6,27.5 536,22.3 537,21.8 539,27.5 540,18.2 540.3,20.5 541,21.5 543.1,32.5 549.7,73.5 551,76.4 551.5,74.5 551.4,72.5 549.8,63.5 542.4,13.5 552.8,13.5 554.3,36.5 554.6,46.5 555,49.1 556,49.1 560.7,13.5 603.7,13.5 599.9,24.5 594,37.5 589,41.2 584,46.5 574.4,59.5 568,70 564.2,73.5 558,80.7 554.7,86.5 553.3,90.5 552.5,94.5 528.7,94.5 528.1,89.5 527,85.1 525.8,82.5 523,79.1 515,74.1 509,72 504,68.9 501,66.6 493,58.6 483,51.4 475,46.9 465,42.3 453,37.9 442,34.9 438,34.6 436,35 433.4,37.5 433,38.4 432,39 416,37.2 412,35.6 409,33 408,35 407,35.1 406.5,24.5ZM537.9,13.5 539.3,13.5 539,14.3ZM554.2,13.5 559.3,13.5 556,35.9 554.8,25.5Z"/><path fill="#999999" d="M406.7,13.5 433.8,13.5 435.3,19.5 435.8,23.5 435.3,28.5 433.6,33.5 432,35 429,36.2 421,36.9 417,36.5 414,35.7 411,34 409,32 408,33.8 407,33.2 406.5,24.5ZM538.6,13.5 539,13.5 539.1,13.5 539,13.8ZM542.5,13.5 552.8,13.5 554.3,36.5 554.5,46.5 555,49.3 556,49.3 560.7,13.5 601.2,13.5 597.3,25.5 592.4,37.5 587.5,41.5 582.1,47.5 572.7,60.5 567.3,69.5 564,72.5 557.1,80.5 553.8,86.5 552.4,90.5 551.6,94.5 528.9,94.5 528.3,89.5 527,84.4 525.6,81.5 523,78.5 515,73.5 509.2,71.5 505.7,69.5 501,66 494,58.9 486,52.8 477,47.4 468,42.8 466.7,42.5 466,41.8 464.6,41.5 463.8,40.5 467.8,38.5 473,37.2 487,35.8 499,33.7 507,33.4 525.6,34.5 531,37.5 537,41.7 538,42 539,41.7 539.4,41.5 539.1,40.5 535,37.5 530.6,33.5 534,30.4 535,28.5 536,25.2 537,23.7 539,29.1 539.5,28.5 539.9,26.5 540,20.5 540.1,21.5 541,22.1 542,27 549.6,73.5 550,75 551,76.6 551.6,74.5 551.5,72.5 548.7,56.5ZM554.2,13.5 559.3,13.5 556,35.6 554.8,24.5Z"/><path fill="#9d9d9d" d="M406.7,13.5 431.7,13.5 433.4,19.5 433.7,23.5 432.9,27.5 430.9,31.5 429,33.5 427.2,34.5 424,35.4 421,35.8 417,35.6 414,34.9 411,33.2 409,31 408,32.8 407,32.7 406.6,24.5ZM542.6,13.5 552.7,13.5 554.3,37.5 554.5,46.5 555,49.5 556,49.5 560.8,13.5 598.5,13.5 594.8,26.5 590.7,37.5 586,41.7 581,47.4 571.6,60.5 566.9,68.5 562.8,72.5 556,80.5 552.9,86.5 551.5,90.5 550.8,94.5 529.1,94.5 528.5,89.5 527.3,84.5 526,81.5 524,78.7 515,72.9 509,70.8 504,67.8 501,65.4 496,60.1 492,56.6 484,50.9 476,46 474.7,45.5 473.6,44.5 473.6,43.5 474.1,42.5 475.3,41.5 479,40.1 497,35.5 505,34.5 526,35.2 530.9,37.5 537,41.8 538,42 539,41.8 539.6,41.5 539.3,40.5 532.7,35.5 531.7,34.5 531.7,33.5 533.1,32.5 534.9,30.5 537,26 539,30.5 540,30.7 540.3,24.5 541,22.7 544,38.7 549.8,74.5 551,76.8 551.6,74.5 551.5,72.5 548.8,56.5ZM554.3,13.5 559.2,13.5 556,35.3 554.9,24.5Z"/><path fill="#a1a1a1" d="M406.8,13.5 430,13.5 431.7,18.5 432.1,22.5 431.4,26.5 429.3,30.5 427.2,32.5 425.4,33.5 420,34.7 416,34.5 413,33.6 411,32.3 409,29.9 408,31.7 407,30.7 406.9,29.5ZM542.6,13.5 552.7,13.5 554.5,47.5 555,49.6 556,49.7 560.9,13.5 595.7,13.5 592.8,26.5 589,37.5 583.1,43.5 578.3,49.5 570.6,60.5 566,68.3 562,72.1 555,80.4 551.9,86.5 550.6,90.5 549.9,94.5 529.3,94.5 528.8,89.5 527.6,84.5 526,80.8 524,78.1 515,72.3 509,70.2 503,66.4 494,57.7 481.4,48.5 480.8,47.5 480.9,45.5 482,43.7 483.5,42.5 489.9,39.5 498,36.8 505,35.6 527,35.9 529,36.5 537,41.9 539,41.9 539.7,41.5 539.4,40.5 533.9,36.5 532,34.5 535,31.6 537,28.2 538,29.2 539,31.6 540,33 540.5,25.5 541,23.4 544,39 549.7,74.5 551,77 551.6,75.5 551.6,72.5 548.8,56.5ZM554.4,13.5 559.2,13.5 556,35 554.9,23.5Z"/><path fill="#a5a5a5" d="M406.9,13.5 428.5,13.5 430.3,18.5 430.8,22.5 429.9,26.5 428.1,29.5 426,31.5 424,32.7 421,33.5 418,33.8 415,33.4 412,32.2 410.1,30.5 409,28.5 408,30.5 407,29.9ZM542.7,13.5 552.6,13.5 554.5,47.5 555,49.8 556,49.8 560.5,18.5 560.9,13.5 593,13.5 590.9,26.5 589.1,32.5 586.7,38.5 581.9,43.5 575.7,51.5 570,59.7 565.4,67.5 561.3,71.5 554.5,79.5 551.3,85.5 549.7,90.5 548.9,94.5 529.5,94.5 528.8,88.5 527.6,83.5 526,80.1 524,77.5 515,71.7 509,69.6 503,65.8 494,57 486.9,51.5 485.9,49.5 485.8,47.5 487.1,44.5 491,41.5 498,38.3 505,36.8 523,36.9 528,36.5 532.1,38.5 537,41.9 539,42 539.8,41.5 539.6,40.5 534,36.5 533,35.3 533.2,34.5 535,32.8 537,30.1 538,30.6 540,34.8 541,24.3 544,39.3 549.6,74.5 550,75.8 551,77.2 551.7,75.5 551.6,72.5 549.8,62.5ZM554.4,13.5 559.1,13.5 556,34.6 554.9,23.5Z"/><path fill="#a9a9a9" d="M406.9,13.5 427,13.5 428.7,17.5 429.5,21.5 428.9,25.5 427.2,28.5 425.2,30.5 423.5,31.5 421,32.4 418,32.8 415,32.5 412,31.2 410.3,29.5 409,26.8 408,29.3 407,27.5ZM542.7,13.5 552.5,13.5 554.5,47.5 555,49.9 556,50 560.6,18.5 561,13.5 590.6,13.5 589.9,21.5 589,26.5 587.3,32.5 584.8,38.5 574.5,51.5 569,59.5 564.9,66.5 560.9,70.5 553.4,79.5 551.1,83.5 549.6,87.5 548,94.5 529.7,94.5 529.1,88.5 527.9,83.5 526.1,79.5 524,76.8 515,71 509,69 502.2,64.5 490.9,53.5 489.8,50.5 489.6,48.5 490.7,45.5 493.8,42.5 499.3,39.5 505,38 524,37.8 529,37.3 532.1,38.5 537,42 539,42 540,41.5 539.8,40.5 537.9,39.5 534.3,36.5 533.6,35.5 537,31.5 538,31.7 540,36.5 540.6,33.5 541,25.5 543,33.8 549.2,70.5 549.5,74.5 550,76.1 551,77.4 551.7,75.5 551.6,71.5 550.9,69.5 549.8,62.5ZM554.5,13.5 559.1,13.5 556,34.3Z"/><path fill="#adadad" d="M406.9,14.5 407.1,13.5 425.4,13.5 427.4,17.5 428.2,20.5 428.1,23.5 427,26.6 424.4,29.5 421,31.2 417,31.8 413,30.8 411,29.2 409,24.7 408,27.6 407,26.5ZM542.8,13.5 552.5,13.5 554.3,46.5 555,50.1 556,50.1 556.5,48.5 557,42.6 561.1,13.5 588.6,13.5 587.7,23.5 585.7,31.5 581.8,40.5 571.9,53.5 563.7,66.5 559.6,70.5 554.3,76.5 552.2,79.5 550.1,83.5 548.5,87.5 547,94.5 529.9,94.5 529.5,89.5 528.5,84.5 527,80.4 525,77.3 523,75.4 516,71 514,69.9 509,68.3 501.9,63.5 498,59.5 495,55.5 493.3,51.5 493.1,48.5 494.4,45.5 497.5,42.5 501,40.5 505,39.3 525,38.6 530,38 532,38.7 537,42.1 539,42.1 540.5,41.5 539.9,40.5 538,39.5 534.7,36.5 534.6,35.5 537,32.8 538,32.8 540,38.1 540.8,36.5 541,28.2 542,29.1 543,34.2 549.1,70.5 549.6,75.5 551,77.7 551.7,76.5 551.6,71.5 551,69.5 549.9,62.5ZM554.5,13.5 559,13.5 556,33.9Z"/><path fill="#b1b1b1" d="M407,14.5 408,13.6 409,14.6 409.3,13.5 423.7,13.5 426,17.3 427,20.5 426.9,23.5 425.6,26.5 423,29 420,30.3 416,30.7 413,29.7 411,27.6 410,25.5 409,20.2 408,25.4 407,24.7 407.4,23.5 407,22.9ZM542.9,13.5 552.4,13.5 554.4,47.5 555,50.2 556,50.3 556.6,48.5 557,42.9 561.2,13.5 586.7,13.5 586.1,21.5 584.7,28.5 583,33.5 578.8,42.5 569.3,55.5 563.2,65.5 559.1,69.5 552,77.9 551.7,71.5 551,69.4 549.9,62.5ZM554.6,13.5 558.9,13.5 556,33.6ZM541.4,30.5 542,29.6 549.1,70.5 549.5,75.5 551,78.2 551.6,78.5 549.4,82.5 547.8,86.5 546.6,90.5 546,94.5 530.2,94.5 528.7,84.5 527.4,80.5 525.7,77.5 524,75.4 516,70.3 514,69.2 509,67.6 506,65.5 499.6,57.5 497.6,54.5 496.5,51.5 496.4,48.5 497.8,45.5 499.6,43.5 502.7,41.5 506,40.5 525,39.6 531,38.5 535,40.5 537,42.1 541,42.1ZM536.7,34.5 537,34.1 538,34 539.1,36.5 539.9,39.5 538.3,39.5 535,36.5Z"/><path fill="#b5b5b5" d="M409.9,13.5 421.6,13.5 424.6,17.5 425.6,20.5 425.5,23.5 423.9,26.5 421.3,28.5 418,29.4 415,29.2 413,28.2 411,25.5 410.1,22.5 409.7,16.5ZM542.9,13.5 552.4,13.5 554.3,47.5 555,50.4 556,50.4 556.6,48.5 557,43.3 561.3,13.5 584.8,13.5 584,22.3 582.5,29.5 575.9,44.5 567.3,56.5 562,65.2 558.6,68.5 552,76.1 551.8,71.5 551,69.1 550.5,64.5 550,62.5ZM554.6,13.5 558.8,13.5 556,33.2ZM407,16.5 408,15.7 408.3,19.5 408,22.4 407.1,21.5 407.9,20.5 407,19.7 407.8,17.5ZM541.9,30.5 544,40.5 549,70.5 549.3,75.5 550.4,78.5 548.2,82.5 546.7,86.5 545.5,90.5 544.9,94.5 530.5,94.5 529.8,88.5 528.8,83.5 527.4,79.5 526,77.2 523,74 515,69 510.4,67.5 509.4,66.5 507.1,62.5 501.1,54.5 499.8,51.5 499.7,48.5 500.4,46.5 501.9,44.5 505,42.4 519,40.8 526,40.6 532,39.4 533,39.5 537,42.2 540.5,42.5 541,45.2 541.5,32.5ZM536.9,35.5 538,35.2 539.5,39.5 538.6,39.5 536,37.5 536,36.5Z"/><path fill="#b9b9b9" d="M410.9,13.5 419.1,13.5 421.9,16.5 423.2,18.5 424.1,21.5 423.4,24.5 422,26.2 419.7,27.5 417,27.9 415,27.6 413,26.2 411.9,24.5 411,21.5 410.6,15.5ZM543,13.5 552.3,13.5 554.3,47.5 555,50.5 556,50.6 556.7,48.5 558,36.3 561.4,13.5 582.9,13.5 582.1,21.5 580.3,29.5 573.6,45.5 566,56.5 561.2,64.5 558,67.5 552,74.3 551.8,70.5 551,68.9 550.6,64.5 550,62.4ZM554.7,13.5 558.7,13.5 556,32.8ZM541.9,31.5 542,31.2 544,40.9 548.5,69.5 549.1,71.5 549.3,76.5 549.7,77.5 547.5,81.5 545.5,86.5 543.8,94.5 530.8,94.5 529.3,84.5 527,77.9 524,73.9 518.3,70.5 515,68 513.5,67.5 511.3,63.5 504.4,53.5 503.3,50.5 503.3,48.5 504,46.7 504.9,45.5 508,44 519,42 527,41.6 533,40.2 534.2,40.5 537,42.3 539.9,42.5 541,48.1 541.6,46.5ZM536.7,37.5 537,36.9 538,36.6 538.9,38.5 538,38.8ZM538.9,39.5 539,38.8 539.1,39.5 539,39.5Z"/><path fill="#bdbdbd" d="M412.5,14.5 413.5,13.5 415.2,13.5 420.8,19.5 421.5,21.5 421.5,22.5 420.2,24.5 419,25.1 417,25.4 415,24.6 414,23.6 413,20.6 412.3,15.5ZM543.2,13.5 552.3,13.5 554.3,48.5 554.9,50.5 556,50.7 556.7,48.5 557,44.2 560,22.9 560.7,20.5 561,16.8 561.6,15.5 561.6,13.5 580.8,13.5 580.1,19.5 578.5,27.5 571.4,46.5 564.6,56.5 560.5,63.5 552,72.6 551.7,69.5 551,68.5 550.7,64.5 550,62.2 547,42.2ZM562,32.3 561.7,41.5 562,44.6ZM563,15.3 562.4,16.5 563,24.2 563.8,16.5ZM554.8,13.5 558.6,13.5 558,19.7 556,32.3ZM542,32.5 544,41.3 548,65 548.4,69.5 549,70.9 549,76.5 546.7,80.5 544.7,85.5 543.5,89.5 542.7,94.5 531.2,94.5 529.7,84.5 527.3,77.5 524,73.1 519.7,70.5 518.7,69.5 518.1,66.5 517,64.5 509,54 507.9,51.5 507.7,49.5 508.6,47.5 509.9,46.5 512.2,45.5 519,43.7 527,43.1 534,41 537,42.4 539.5,42.5 541.4,52.5 542,58.6 542.4,56.5 541.8,38.5ZM537.9,38.5 538,38.2 538.1,38.5 538,38.5Z"/><path fill="#c1c1c1" d="M543.4,13.5 552.2,13.5 554.2,47.5 555,50.8 556,50.9 556.6,49.5 558,37.1 561,17.5 561.9,18.5 561.8,29.5 560.9,42.5 561,51.7 561.2,50.5 562,49.3 562.3,46.5 563.3,25.5 564.2,16.5 564,15.4 563,14.8 562,16 561.7,13.5 578.1,13.5 577.8,17.5 576.3,25.5 569.4,47.5 563.9,55.5 559.7,62.5 552,70.8 551.9,69.5 551,68.3 550.6,63.5 550,61.9 549,55.3 545,28.2ZM554.8,13.5 558.5,13.5 558,19.2 556,31.8ZM542.1,37.5 543,36.6 548,65.3 548.3,69.5 549,71.2 549,74.4 546.4,78.5 544.1,83.5 542.5,88.5 541.5,94.5 532.2,94.5 531,91.4 530.5,86.5 529.4,81.5 527.4,76.5 523.6,71.5 523,66.5 522.1,63.5 520.1,60.5 515,54.5 513.9,52.5 513.7,50.5 514.8,48.5 516.1,47.5 519,46.2 527,45 535,42.2 539.2,42.5 540.2,47.5 543,68.2 543.3,62.5Z"/><path fill="#c5c5c5" d="M543.6,13.5 552.2,13.5 554.1,47.5 554.4,49.5 555,50.9 556,51 556.7,49.5 558,37.5 559.6,28.5 560,23.9 560.8,21.5 561,18.3 561.4,19.5 561.5,26.5 560.7,40.5 560.7,54.5 560.3,58.5 558,62.5 552,68.9 551,68 550.7,63.5 550,61.6 549,55 545,27.6ZM554.9,13.5 558.4,13.5 558,18.7 556,31.2ZM561.8,13.5 574.1,13.5 574.5,17.5 573.7,24.5 568.2,46.5 562,56.1 561.8,54.5 563.2,40.5 563.6,26.5 564.6,16.5 564,14.7 563,14.3 562,14.9ZM542.9,37.5 545,48 547.5,64.5 548,65.6 548.3,70.5 549,71.4 549,72.3 545.5,77.5 543.2,82.5 541.2,88.5 540.2,94.5 533.3,94.5 531,87.3 526.7,61.5 523,53.5 522.8,51.5 523.3,50.5 524.4,49.5 532,45.9 537.2,42.5 538.2,42.5 539,43.5 540,48.1 541.9,63.5 544,75.5 544,66.5 542.5,43.5 542.5,39.5Z"/><path fill="#c9c9c9" d="M543.8,13.5 552.1,13.5 554.2,48.5 554.5,50.5 555,51.1 556,51.1 556.8,49.5 558,38.1 559.6,29.5 560,24.5 560.8,22.5 561,19.6 561.2,20.5 560,56.8 557.1,61.5 551.5,67.5 551,67.6 550.8,63.5 550,61.3 549.6,56.5 549,54.7 545,26.9ZM554.9,13.5 558.3,13.5 557,25.6 556,30.5ZM561.9,13.5 569.5,13.5 570.7,17.5 571.1,20.5 570.8,25.5 566.7,46.5 563,52.1 562.7,50.5 563.6,42.5 563.9,28.5 565,16.5 564.6,14.5 563,13.8 562,14.1ZM543,38.5 546,54.3 547.4,64.5 548.1,66.5 548,71.4 545,75.7 542.8,46.5ZM537.8,44.5 538,44.3 539,45.5 540,50.9 543.6,77.5 540.4,86.5 538.9,94.5 534.4,94.5 532.7,89.5 531.9,83.5 532.6,66.5 533.2,62.5 532.8,53.5 533.6,50.5 534.5,48.5Z"/><path fill="#cdcdcd" d="M544,14.5 544.2,13.5 552,13.5 554.1,48.5 554.4,50.5 555,51.2 556,51.3 556.7,50.5 558,38.7 558.6,36.5 559,31.9 559.7,29.5 560,25.4 560.4,25.5 560.7,26.5 559.7,54.5 556.1,60.5 551,65.9 550.8,62.5 550,61 549.6,56.5 549,54.4 546,33.8ZM555,13.5 558.2,13.5 557,25 556,29.6ZM565.9,17.5 566,16.7 567,17.1 567.5,18.5 568.2,21.5 568.4,25.5 567.5,32.5 565.2,41.5 565.1,46.5 564,48.2 564,44.8 564.4,44.5 564.8,42.5 564.3,29.5 565,21.1ZM543,40.5 543.2,42.5 544,43.5 544.4,47.5 545,49 547,60.5 547.3,64.5 548,66.5 548,69.2 545,73.1 543,45.3ZM537.8,48.5 538,48 539,48.7 543.1,75.5 539.2,85.5 538.2,89.5 537.4,94.5 535.5,94.5 533.9,89.5 533.5,83.5 535,73.5 537.5,65.5 537,59.5Z"/><path fill="#d1d1d1" d="M544.7,13.5 552,13.5 553.8,46.5 554.3,50.5 555,51.3 556,51.4 556.8,50.5 559,32.9 559.7,31.5 560,26.7 560.2,27.5 559.7,47.5 559.1,52.5 555,59.5 551,63.6 550.7,61.5 550,60.7 549.7,56.5 549,54.1 546,33.3 544.4,16.5ZM555.4,13.5 558.1,13.5 557,24.3 556,28.6ZM544,44.5 544.4,48.5 545,49.7 547,60.9 547.3,65.5 547.8,66.5 547.5,67.5 545,70.6 543.6,48.5 543.6,45.5ZM539.7,61.5 540,60.7 540.3,64.5 541,66 542,70.9 542.1,74.5 537.9,84.5 536,92.9 535,88.5 534.9,83.5 536.6,75.5 539.3,66.5Z"/><path fill="#d5d5d5" d="M544.9,14.5 545.4,13.5 551.6,13.5 553,30 553.7,46.5 554.2,50.5 555,51.5 556,51.7 556.9,50.5 557.6,47.5 558,40.5 558.8,38.5 559,34.3 559.3,35.5 559,50 554,58.1 551,61.2 550,60.3 549.7,55.5 549,53.7 546,32.7 545,20.8ZM555.8,13.5 557.3,13.5 557.4,14.5 557,23.3 556,27.2ZM543.9,46.5 544,46.2 544.3,49.5 545,50.5 547.1,62.5 547,65.7 545,67.9 544,52.5ZM539.9,70.5 541,69.7 541.5,72.5 538.7,77.5 538,79.7 537.6,78.5ZM536.8,81.5 537,80.6 537.3,81.5 537,82.3Z"/><path fill="#d9d9d9" d="M545.5,14.5 546.4,13.5 551.3,13.5 552,16.7 553,31.7 553.5,46.5 554.1,50.5 555.3,52.5 552.2,57.5 550,59.6 549.8,55.5 549,53.3 548.6,48.5 548,46.3 546,32 545.2,16.5ZM556,16.5 557,17.4 557,18.5 557,21.5 556,24.8ZM558,42.5 558.6,43.5 558.9,46.5 558,48.4ZM544.7,52.5 545,51.7 545.4,55.5 546,56.6 546.3,60.5 547,62.3 547,63.1 546,64.2 545,63.9Z"/><path fill="#dddddd" d="M546.2,14.5 548,13.5 551,13.8 552,18.9 552.4,28.5 553,34 553.3,47.5 554,51 551.3,55.5 550,57 549.8,54.5 549,52.8 548.7,48.5 548,45.8 546,31 545.6,16.5ZM545.2,58.5 546,57.7 546,61.4Z"/><path fill="#e1e1e1" d="M547.1,14.5 549,14.1 550.2,14.5 551,15.3 552,22.5 552.3,30.5 553,37.6 553,48.5 550,53.6 549.6,52.5 549,52.2 548.7,47.5 548,45.1 546.1,29.5 546.4,21.5 546.1,16.5 546.3,15.5Z"/><path fill="#e5e5e5" d="M546.9,15.5 548,14.8 549,14.8 550.1,15.5 550.6,16.5 553,43.5 553,44.6 549,50.8 548.8,46.5 548,44.3 546.5,29.5Z"/><path fill="#e9e9e9" d="M548,15.5 549,15.7 549.6,16.5 550.9,27.5 551.7,38.5 551.7,41.5 549,45.8 548.8,44.5 548,43 546.9,30.5 547.5,22.5 547.3,16.5Z"/><path fill="#ededed" d="M548.8,23.5 549,22.8 550,27.5 550.6,35.5 550.3,38.5 549,40.4 548,40.1 547.5,30.5 548,25.4Z"/><path fill="#f1f1f1" d="M548.8,30.5 549,29.6 549,34.1Z"/></g></g><g clip-path="url(#c3)"><g filter="url(#j3)"><rect x="39.0" y="136.3" width="202.0" height="105.0" fill="#000"/><path fill="#060606" d="M115.7,136.8 164,136.8 163.1,139.8 164.1,144.8 164.7,150.8 164.2,160.8 164.2,175.8 162.7,189.8 162.2,190.8 162,196.8 161.3,197.8 161,204.8 160.3,205.8 160.2,219.8 163.3,222.8 164.5,223 165.5,223.9 167.5,224 168.5,224.9 169.5,225 170.5,225.9 171.5,225.9 172.5,226.9 174.5,227 175.5,227.9 177.5,228 178.5,228.9 179.5,229 180.5,229.9 181.5,229.9 182.5,230.9 184.5,231 186.4,232.8 186.4,233.8 185.5,234.7 184.5,234.7 183.5,235.6 175.5,235.7 174.5,236.7 146.5,236.7 142.7,232.8 142.6,228.8 141.7,227.8 141.6,223.8 140.7,222.8 140.6,218.8 139.8,217.8 139.6,211.8 138.7,210.8 138.6,205.8 137.7,204.8 137.6,199.8 136.6,198.8 136.6,196.8 135.6,195.8 135.6,193.8 131.7,189.8 129.5,189.6 128.5,188.7 123.5,188.7 122.5,189.6 114.5,189.6 108.5,189.4 107.5,188.6 101.5,188.3 100.5,187.5 97.5,187.3 96.5,186.5 94.5,186.3 93.5,185.5 91.5,185.3 90.5,184.5 88.5,184.2 87.5,183.4 84.5,182.3 83.5,181.4 82.5,181.3 81.5,180.4 80.5,180.3 79.5,179.5 73.5,177.4 71.7,175.8 71.4,173.8 73.5,171.2 88.5,160.1 89.5,159.9 92.5,157.2 93.5,157 96.5,154.2 97.5,154 100.5,151.2 101.5,151 103.5,149.1 104.5,149 107.5,146.2 108.5,146 110.5,144.1 111.5,144 113.5,142.1 114.5,142 116.7,139.8 116.7,137.8Z"/><path fill="#0a0a0a" d="M116,136.8 163.2,136.8 162.7,139.8 164.1,151.8 163.4,160.8 163.4,176.8 160.7,203.8 160.2,205.8 159.9,219.8 160.5,220.8 163,222.8 164.5,223.2 165.5,224 167.5,224.3 170.5,226 171.5,226.1 172.5,227 174.5,227.1 175.5,228 177.5,228.2 180.5,230 181.5,230.1 182.5,231 184.5,231.2 186.2,232.8 186.2,233.8 185.5,234.5 184.5,234.6 183.5,235.5 175.5,235.7 174.5,236.5 146.5,236.5 142.9,232.8 142.7,228.8 141.9,227.8 141.7,223.8 141,222.8 140.7,218.8 140.1,217.8 139.7,211.8 138.9,210.8 138.7,205.8 137.8,204.8 137.6,199.8 136.7,198.8 136.6,196.8 135.8,195.8 135.6,193.8 131.8,189.8 129.5,189.4 128.5,188.6 123.5,188.6 122.5,189.3 120.5,189.4 109.5,189 107.5,188.4 102.5,187.9 97.6,186.8 96.5,186.2 94.5,185.8 93.5,185.2 91.5,184.8 84.5,181.9 77.1,177.8 73.5,175.2 73.5,173.8 74.4,172.8 88.8,160.8 92.5,157.8 93.5,157.4 96.5,154.7 97.5,154.4 100.5,151.7 101.5,151.3 103.5,149.5 104.5,149.3 107.5,146.6 108.5,146.3 110.5,144.5 111.5,144.2 113.5,142.4 114.9,141.8 116.9,139.8 116.9,137.8Z"/><path fill="#0e0e0e" d="M116.2,136.8 162.7,136.8 162.3,139.8 163.6,151.8 163,160.8 163.1,175.8 162,188.8 160,205.8 159.5,219.8 159.9,220.8 163.5,223.2 169.5,225.4 172.5,227.1 174.5,227.3 175.5,228.1 177.5,228.3 180.5,230.1 181.5,230.2 182.5,231.1 184.5,231.4 186.1,232.8 186.1,233.8 185.5,234.4 184.5,234.5 183.5,235.3 175.5,235.6 174.5,236.4 146.5,236.4 143,232.8 142.8,228.8 142.1,227.8 141.8,223.8 141.2,222.8 140.9,218.8 140.3,217.8 139.8,211.8 139.2,210.8 138.8,205.8 138,204.8 137.7,199.8 136.8,198.8 136.7,196.8 135.9,195.8 135.7,193.8 132,189.8 127.5,188.4 123.5,188.4 122.5,189.1 120.5,189.2 111.5,188.9 99.5,186.8 92.5,184.6 84.5,181.2 74.8,174.8 75.5,173.5 94.8,156.8 110.5,144.8 115.1,141.8 117.2,139.8 117.4,138.8 117.2,137.8Z"/><path fill="#121212" d="M116.4,136.8 162.3,136.8 162,139.8 163.2,150.8 162.5,160.8 162.8,174.8 159.5,210.6 159.4,220.8 160.6,221.8 165.5,224.3 169.5,225.5 172.5,227.1 174.5,227.4 175.5,228.2 177.5,228.5 180.5,230.2 181.5,230.3 182.5,231.2 184.5,231.6 185.9,232.8 185.9,233.8 185.5,234.2 182.5,235.2 175.5,235.5 174.5,236.3 151.5,236.5 146.5,236.2 143.2,232.8 142.9,228.8 142.3,227.8 141.9,223.8 141.4,222.8 140.6,217.8 138.9,205.8 138.2,204.8 137.8,199.8 137,198.8 136.8,196.8 136,195.8 135.8,193.8 132.1,189.8 129.5,189.1 128.5,188.4 123.5,188.3 122.5,188.8 120.5,189 113.8,188.8 105.5,187.7 99.5,186.3 92.5,184 85.1,180.8 80,176.8 76.8,174.8 77,173.8 94.6,157.8 101.9,151.8 116.4,140.8 117.4,139.8 117.7,138.8 117.4,137.8Z"/><path fill="#161616" d="M116.8,136.8 162,136.8 161.7,139.8 162.9,150.8 162.1,160.8 162.4,175.8 159.2,211.8 159.3,220.8 160.1,221.8 163.5,223.5 171.5,226.5 172.5,227.2 177.5,228.7 181.5,230.5 182.5,231.3 184.5,231.8 185.8,232.8 185.5,234.1 183.5,234.9 175.5,235.5 174.5,236.1 151.5,236.4 146.5,236.1 143.4,232.8 140,211.8 139.6,210.8 138.9,205.8 138.2,203.8 137.8,199.8 137.1,198.8 136.9,196.8 136.1,195.8 135.9,193.8 132.3,189.8 128.5,188.3 123.5,188.2 120.5,188.8 115.5,188.6 107.5,187.6 100.5,186.1 93.5,183.8 86.5,180.8 81.8,176.8 78.8,174.8 78.6,173.8 93.3,159.8 101.4,152.8 116.8,140.8 118,138.8Z"/><path fill="#1a1a1a" d="M117.3,136.8 161.7,136.8 161.4,139.8 162.6,150.8 161.8,160.8 162,179.8 159,212.8 159.1,220.8 159.5,221.7 161.4,222.8 172.5,227.3 177.5,228.9 182.5,231.4 184.2,231.8 185.6,232.8 185.5,234 182.5,235 175.5,235.4 173.5,236 151.5,236.4 146.5,235.9 144.2,233.8 143.5,232.5 140.1,211.8 139,205.8 138.3,203.8 137.9,199.8 137.2,198.8 136.9,196.8 136.3,195.8 135.9,193.8 132.5,189.8 128.5,188.2 123.5,188.1 119.5,188.6 115.5,188.4 107.5,187.3 100.5,185.7 93.5,183.3 87.8,180.8 80.7,174.8 80.2,173.8 93.1,160.8 102.1,152.8 117.2,140.8 118.3,138.8Z"/><path fill="#1e1e1e" d="M117.7,136.8 161.4,136.8 161.2,139.8 162.3,150.8 161.4,160.8 161.8,179.8 158.8,212.8 158.9,220.8 159.5,222 161,222.8 177.5,229 183.8,231.8 185.5,232.8 185.5,233.8 182.5,234.8 175.5,235.3 173.5,235.9 151.5,236.3 146.5,235.8 143.7,232.8 137.9,199.8 137.3,198.8 136,193.8 133.5,190.6 131.5,189 128.5,188.1 123.5,188 119.5,188.4 114.5,188 106.5,186.7 99.5,184.9 91.4,181.8 86.7,175.8 86.2,174.8 90.4,164.8 94,160.8 99.4,155.8 117.5,140.9 118.3,139.8 118.6,138.8Z"/><path fill="#222222" d="M118.1,136.8 161.1,136.8 161,139.8 162,150.8 161.2,160.8 161.6,179.8 158.7,212.8 158.7,220.8 159.1,221.8 160.5,222.8 177.5,229.2 183.4,231.8 185.2,232.8 185.1,233.8 181.9,234.8 172.5,235.9 151.5,236.2 146.5,235.7 145.4,234.8 143.9,232.8 138,199.8 137.4,198.8 136.1,193.8 133.5,190.3 131.5,188.9 128.5,188 119.5,188.1 114.5,187.7 106.5,186.4 100.5,184.8 97.6,183.8 96.6,182.8 91.4,175.8 90.9,174.8 97.3,158.8 102.3,153.8 117.5,141.3 118.6,139.8 118.8,138.8Z"/><path fill="#262626" d="M118.4,136.8 160.8,136.8 161.7,150.8 160.9,160.8 161.3,179.8 158.5,212.6 158.6,220.8 158.9,221.8 160.1,222.8 181.5,231.1 184.9,232.8 184.7,233.8 181.1,234.8 171.5,235.8 150.5,236.1 146.5,235.5 144.6,233.8 143.7,231.8 140.5,211.8 138.1,199.8 136.1,193.8 133.5,190.1 131.5,188.8 128.5,187.9 125.5,187.6 119.5,187.9 114.5,187.5 107.5,186.3 102.1,184.8 99.3,181.8 94.9,175.8 94.4,174.8 102.3,154.8 105.3,151.8 117.5,141.7 118.9,139.8 119,137.8Z"/><path fill="#2a2a2a" d="M118.8,136.8 160.5,136.8 161.4,150.8 160.7,160.8 161.1,179.8 158.4,211.8 158.5,221.2 159.5,222.7 162,223.8 174.5,228.3 182.7,231.8 184.6,232.8 184.2,233.8 180.3,234.8 169.5,235.8 149.5,236 147.5,235.8 145.7,234.8 144.8,233.8 143.9,231.8 140.6,211.8 138.1,199.8 136.2,193.8 133.5,189.8 131.5,188.7 127.5,187.6 117.5,187.6 106.9,185.8 104.7,184.8 103.8,183.8 97.8,175.8 97.3,174.8 106.4,151.8 118.5,140.9 119.4,138.8Z"/><path fill="#2e2e2e" d="M119.1,136.8 160.2,136.8 161.1,150.8 160.4,160.8 160.9,180.8 158.3,212.8 158.5,221.8 159.3,222.8 161.6,223.8 174.5,228.4 181.5,231.4 184.2,232.8 183.7,233.8 179.4,234.8 168.5,235.7 157.5,235.6 150.5,236 147.5,235.6 145.9,234.8 144.9,233.8 144,231.8 141.1,213.8 138.2,199.8 136.3,193.8 133.6,189.8 131.5,188.5 127.5,187.4 118.5,187.4 108.4,185.8 105.3,182.8 100.2,175.8 99.7,174.8 109.5,149.8 111.2,147.8 118.9,140.8 119.6,138.8Z"/><path fill="#323232" d="M119.4,136.8 159.9,136.8 160.9,150.8 160.2,160.8 160.6,183.8 158.2,212.8 158.3,221.8 158.9,222.8 161.2,223.8 174.5,228.6 181.5,231.5 183.9,232.8 183.2,233.8 178.5,234.8 168.5,235.6 157.5,235.5 150.5,235.9 148.5,235.8 146.1,234.8 145.1,233.8 144.2,231.8 141.4,214.8 138.3,199.8 136.3,193.8 134.5,190.7 132.5,188.8 127.5,187.2 118.5,187.2 110.4,185.8 107.5,182.8 102.3,175.8 101.9,174.8 112.4,147.8 119.2,140.8 119.9,138.8Z"/><path fill="#363636" d="M119.9,136.8 159.6,136.8 160.6,150.8 160,160.8 160.5,183.8 158,212.8 158.2,221.8 158.5,222.8 176.5,229.5 183.6,232.8 182.7,233.8 177.6,234.8 168.5,235.5 157.5,235.4 150.5,235.8 148.5,235.6 146.3,234.8 145.2,233.8 144.3,231.8 141.5,214.6 138.3,199.8 136.4,193.8 134.5,190.5 132.5,188.7 127.5,187.1 118.5,187 112.3,185.8 109.4,182.8 104.3,175.8 103.8,174.8 115.1,145.8 118.8,141.8 120,139.8Z"/><path fill="#3a3a3a" d="M120.4,137.8 120.6,136.8 159.3,136.8 160.3,150.8 159.7,160.8 160.3,183.8 157.9,213.8 157.8,218.8 158.3,222.8 178.5,230.5 183.3,232.8 182.5,233.6 177.5,234.7 168.5,235.4 157.5,235.3 150.5,235.7 146.5,234.8 145.4,233.8 144.4,231.8 141.5,213.9 138.4,199.8 136.5,193.8 134.5,190.3 132.5,188.5 127.5,186.9 119.5,186.9 114.1,185.8 111.2,182.8 106.1,175.8 105.6,174.8 117.7,143.8 120,140.8Z"/><path fill="#3e3e3e" d="M122.1,136.8 159.1,136.8 160.1,150.8 159.5,160.8 160.1,183.8 157.8,213.8 157.7,218.8 158.1,222.8 158.5,223.3 177.5,230.2 183,232.8 182.5,233.3 177.5,234.6 169.5,235.3 156.5,235.2 150.5,235.6 148.5,235.4 146.5,234.6 145.5,233.8 144.5,231.8 141.5,213.2 137.7,196.8 136.5,193.6 134.5,190.1 132.5,188.4 127.7,186.8 119.5,186.6 115.8,185.8 112.9,182.8 107.7,175.8 107.2,174.8Z"/><path fill="#424242" d="M123.2,137.8 123.6,136.8 158.8,136.8 159.8,150.8 159.3,160.8 159.9,183.8 157.6,213.8 158,222.8 158.5,223.5 174.5,229.1 182.7,232.8 181.5,233.6 175.5,234.7 167.5,235.3 156.5,235 150.5,235.5 148.5,235.3 146.5,234.5 145.5,233.6 144.7,231.8 140.5,207.8 137.5,195.9 135.1,190.8 133.5,188.7 129.5,187.1 126.5,186.5 120.5,186.4 117.3,185.8 114.4,182.8 109.3,175.8 108.8,174.8Z"/><path fill="#464646" d="M125.1,136.8 158.5,136.8 159.6,150.8 159.1,160.8 159.7,183.8 159.5,190.7 157.5,213.8 157.8,222.8 158.5,223.7 166.5,226.3 177.5,230.4 182.4,232.8 181.5,233.4 176.5,234.5 167.5,235.2 156.5,234.9 154.5,235.3 150.5,235.4 148.5,235.2 146.5,234.3 145.5,233.3 144.8,231.8 140.5,207.3 137.6,195.8 135.5,191.2 133.5,188.6 130.5,187.3 126.5,186.3 118.8,185.8 115.9,182.8 110.7,175.8 110.3,174.8Z"/><path fill="#4a4a4a" d="M126.5,136.8 158.2,136.8 159.4,150.8 158.9,160.8 159.5,183.8 159.4,189.8 157.4,213.8 157.6,222.8 158,223.8 166.5,226.4 176.5,230.1 182.1,232.8 181.5,233.2 176.5,234.4 167.5,235.1 156.5,234.8 154.5,235.2 150.5,235.3 148.5,235 146.5,234.2 144.9,231.8 141.5,211.5 138.5,198.8 137.3,194.8 135.5,191 133.5,188.4 130.5,187.1 126.5,186.2 120.2,185.8 117.3,182.8 112.1,175.8 111.7,174.8Z"/><path fill="#4e4e4e" d="M127.4,137.8 127.8,136.8 157.9,136.8 159.1,150.8 158.7,160.8 159.3,183.8 158.8,196.8 157.3,213.8 157.4,223.8 162.5,225.1 174.5,229.4 181.8,232.8 181.5,233 178.5,233.9 172.5,234.7 165.5,235 156.5,234.7 151.5,235.2 147.5,234.6 145.4,232.8 140.5,206.3 137.8,195.8 135.5,190.8 133.5,188.3 130.5,187 126.5,186 121.6,185.8 117.8,181.8 113,174.8Z"/><path fill="#525252" d="M129.1,136.8 157.6,136.8 158.9,150.8 158.5,160.8 159.1,183.8 158.7,196.8 157.2,213.8 157.3,223.8 157.5,224.2 160.5,224.6 171.5,228.4 181.5,232.8 178.4,233.8 172.5,234.6 165.5,234.9 156.5,234.6 152.5,235.1 147.5,234.5 145.5,232.8 145.1,231.8 140.5,205.8 138.2,196.8 136.2,191.8 134.5,189 132.5,187.6 127.5,186 122.5,185.4 119.1,181.8 114.3,174.8Z"/><path fill="#565656" d="M130.4,136.8 157.3,136.8 158.6,150.8 158.3,160.8 159,183.8 158.6,196.8 157.1,213.8 157.1,223.8 157.5,224.4 162.5,225.3 173.5,229.2 181.2,232.8 177.8,233.8 172.5,234.5 165.5,234.8 156.5,234.5 152.5,234.9 148.5,234.7 146.5,233.8 145.7,232.8 145.2,231.8 140.6,205.8 138.3,196.8 136.5,192.2 134.5,188.8 133.5,188 130.5,186.7 123,184.8 119.6,180.8 115.5,174.8Z"/><path fill="#5a5a5a" d="M131.2,137.8 131.6,136.8 157,136.8 158.4,151.8 158.1,160.8 158.8,183.8 158.5,196.8 156.9,213.8 156.9,223.8 157.5,224.7 162.5,225.5 173.5,229.3 180.9,232.8 177.1,233.8 170.5,234.6 156.5,234.4 152.5,234.8 148.5,234.6 146.7,233.8 145.8,232.8 145.3,231.8 140.9,206.8 138.4,196.8 136.5,191.9 134.5,188.7 133.5,187.9 130.5,186.5 124.2,184.8 120.8,180.8 116.7,174.8Z"/><path fill="#5e5e5e" d="M132.4,137.8 132.8,136.8 156.7,136.8 158.2,151.8 157.9,160.8 158.6,182.8 158.3,196.8 156.8,213.8 156.8,223.8 157.5,224.9 160.5,225.1 165.5,226.5 175.5,230.2 180.6,232.8 176.5,233.8 170.5,234.5 156.5,234.3 151.5,234.7 147.5,234.1 146.5,233.5 145.5,232 141.7,209.8 138.5,196.8 136.5,191.8 134.5,188.5 133.5,187.7 130.5,186.3 125.5,184.8 122,180.8 117.9,174.8Z"/><path fill="#626262" d="M134,136.8 156.3,136.8 157.9,151.8 157.7,160.8 158.4,182.8 158.1,196.8 156.7,213.8 156.8,224.8 162.5,225.7 165.5,226.6 175.5,230.4 180.1,232.8 173.5,234.2 169.5,234.5 156.5,234.2 150.5,234.6 147.5,234 146.5,233.3 145.5,231.8 141.8,209.8 138.6,196.8 137.1,192.8 134.5,188.3 133.5,187.5 126.5,184.7 123.2,180.8 119.1,174.8Z"/><path fill="#666666" d="M134.9,136.8 155.9,136.8 157.7,151.8 157.5,160.8 158.2,182.8 157.5,204.8 156.6,213.8 156.4,224.8 157.5,225.3 162.5,225.8 167.5,227.4 175.5,230.5 179.6,232.8 173.5,234.1 169.5,234.5 156.5,234.1 150.5,234.5 147.5,233.9 146.5,233.2 145.7,231.8 141.7,208.8 138.7,196.8 137.2,192.8 134.5,188.1 131.5,186.3 129.4,185.8 126.8,183.8 120.2,174.8 134.5,138.6Z"/><path fill="#6a6a6a" d="M135.4,136.8 155.6,136.8 157.4,151.8 157.3,160.8 158,182.8 157.5,203.4 156.4,214.8 156.2,224.8 156.5,225.3 157.5,225.5 162.5,225.9 167.5,227.5 176,230.8 178.1,231.8 179.2,232.8 172.5,234.1 165.5,234.5 155.5,234 149.5,234.3 147.5,233.7 146.3,232.8 145.5,230.4 143.1,214.8 141.8,208.8 138.8,196.8 137.5,193.2 134.5,187.9 131.5,186.1 130.3,185.8 128,183.8 121.4,174.8 134.5,141.5Z"/><path fill="#6e6e6e" d="M136,136.8 155.1,136.8 157.1,151.8 157.9,181.8 157.4,200.8 156.2,214.8 156,224.8 156.5,225.6 162.5,226.1 167.5,227.6 175.8,230.8 177.8,231.8 178.7,232.8 172.5,234.1 165.5,234.5 155.5,233.9 149.5,234.1 148,233.8 146.4,232.8 144.3,222.8 143.1,213.8 138.9,196.8 137.5,193 134.5,187.5 131.4,185.8 129.1,183.8 125.9,179.8 122.5,174.8 134.5,144.4Z"/><path fill="#727272" d="M136.5,137.8 136.6,136.8 154.7,136.8 156.8,151.8 157.7,180.8 157.2,201.8 155.9,215.8 155.8,224.8 156.3,225.8 164.8,226.8 175.5,230.8 177.6,231.8 178.2,232.8 172.5,234 165.5,234.4 155.5,233.8 149.5,234 146.5,232.7 144.4,222.8 143,212.8 137.9,193.8 134.5,186.9 131.5,185 129.3,182.8 123.6,174.8 135.1,145.8Z"/><path fill="#767676" d="M137.3,136.8 154.1,136.8 154.5,138.3 156.6,151.8 157.5,181.8 157,202.8 155.8,214.8 155.8,225.8 164.5,226.8 175.3,230.8 177.3,231.8 177.7,232.8 171.5,234 164.5,234.3 155.5,233.7 149.5,233.9 147.5,233.3 146.5,232.3 144.5,222.8 143.2,212.8 138.4,194.8 134.5,186.2 130.5,182.8 124.7,174.8 135.5,147.8Z"/><path fill="#7a7a7a" d="M138.1,136.8 153.5,136.8 154.5,140.8 156.3,152.8 157.3,181.8 156.8,201.8 155.6,213.8 155.4,225.8 156.5,226.3 162.5,226.7 167.2,227.8 175.1,230.8 177,231.8 177.2,232.8 170.5,234.1 162.5,234.2 155.5,233.6 149.5,233.8 147.5,233.1 146.5,231.9 145.5,227.6 143.6,213.8 138.5,194.8 135.7,188.8 134.8,185.8 130.8,181.8 125.9,174.8 135.5,150.7Z"/><path fill="#7e7e7e" d="M139.1,136.8 152.7,136.8 154.5,143.2 155.5,148.7 156.1,154.8 157.1,184.8 156.6,201.8 155.3,214.8 155.1,225.8 155.5,226.4 162.5,226.9 166.8,227.8 174.8,230.8 176.7,231.8 176.7,232.8 170.5,234 162.5,234.2 155.5,233.5 150.5,233.7 147.5,232.9 146.8,231.8 145.5,225.8 144,213.8 138.6,194.8 135.9,188.8 135.5,185.6 131.1,180.8 127,174.8 135.5,153.6 137.5,142.7Z"/><path fill="#818181" d="M140.5,136.8 151.6,136.8 153.5,141.6 155.4,150.8 156.9,184.8 156.5,200.8 155,214.8 154.8,225.8 155.5,226.8 162.5,227.1 169.5,228.8 174.6,230.8 176.2,231.8 176.2,232.8 171.5,233.8 165.5,234.2 154.5,233.4 150.5,233.4 147.5,232.7 145.7,224.8 144,212.8 141.5,205.3 138.7,194.8 136.4,189.8 135.5,184.2 132.3,180.8 128.1,174.8 135.5,156.5 138.2,142.8Z"/><path fill="#858585" d="M142,137.8 143.5,136.9 147.7,136.8 149.5,137.2 150.5,137.9 152.5,141.1 153.5,144 155.2,151.8 156.4,173.8 156.7,185.8 156.2,201.8 154.7,214.8 154.4,226.8 161.5,227.1 166.5,228 174.2,230.8 175.5,231.8 175.6,232.8 169.5,234 160.5,234 153.5,233 148.5,232.9 147.5,230.8 146.5,226.8 144.6,213.8 142.1,205.8 141.5,204.9 138.9,194.8 136.6,189.8 135.5,183 132.5,179.5 129.3,174.8 135.8,158.8 137.5,148.9 139.5,141.7 140.5,139.6Z"/><path fill="#898989" d="M143.1,139.8 144.5,139.4 147.5,139.4 149.5,139.8 150.5,140.5 152.5,143.5 153.5,146.4 155,153.8 156.2,173.8 156.4,186.8 155.9,202.8 154.3,214.8 153.8,226.8 160.5,227.1 166.5,228.1 173.6,230.8 175,231.8 175.2,232.8 170.5,233.8 165.5,234.1 159.5,233.8 153.5,232.7 149.5,232.8 147.5,228.4 146.5,223.9 145.1,213.8 142.3,205.8 141.5,204.4 139,194.8 136.9,189.8 135.9,182.8 135.5,181.6 130.5,174.8 136.5,160.3 137.5,151.8 139.5,144.5 141.5,140.9Z"/><path fill="#8d8d8d" d="M142.3,142.8 143.5,142.2 146.5,141.9 148.5,142 150.5,142.9 152.5,145.9 154.6,153.8 156,173.8 156.1,188.8 155.5,204.4 153.8,214.8 152.9,226.8 154.5,227.2 160.5,227.3 166.5,228.3 173.2,230.8 174.4,231.8 174.9,232.8 170.5,233.7 166.5,234 161.5,233.9 156.5,233.3 152.5,232.3 149.6,229.8 148.5,227.9 147.5,225.1 145.3,212.8 143,206.8 141.5,203.8 139.1,194.8 137.5,190.8 136.1,180.8 131.7,174.8 136.5,163.5 137.7,153.8 139.5,147.2 140.5,145Z"/><path fill="#919191" d="M143.2,144.8 144.5,144.4 147.5,144.4 149.5,144.7 150.5,145.3 152.5,148.2 153.5,151 154.6,156.8 156,180.8 155.5,200.9 152.5,220.6 151.5,223.6 150.5,223.9 149.5,223.9 148.5,222.9 145.9,212.8 140.5,200.1 139.8,196.8 137.7,190.8 136.5,179.4 133,174.8 136.5,166.8 138.1,154.8 139.5,149.8 141.5,146.1ZM152.9,227.8 153.5,227.4 159.5,227.3 166.5,228.4 172.8,230.8 174.1,231.8 174.5,232.8 170.5,233.6 165.5,233.9 160.5,233.8 155.5,233 151.5,231.3 150.4,229.8 151.5,228.1Z"/><path fill="#959595" d="M144.8,146.8 149.5,147.1 151.5,148.7 153.5,153.2 154.5,159.8 155.7,180.8 155.2,200.8 154.5,206.8 153.5,210.9 151.5,215.2 150.5,215.6 148.5,215.4 147.5,214.2 141.5,202.4 140.5,199.8 139.1,193.8 138.5,192.8 136.6,177.8 134.4,174.8 136.9,168.8 138.3,156.8 139.5,152.3 141.5,148.5 142.5,147.6ZM153.4,227.8 158.5,227.4 165.5,228.3 171.5,230.3 173.8,231.8 174.2,232.8 169.5,233.7 165.5,233.9 160.5,233.7 155.5,232.9 152.8,231.8 151.3,230.8 150.8,229.8 151.5,228.4Z"/><path fill="#999999" d="M142.7,149.8 144.5,149.1 147.5,149.1 150.5,149.9 152.5,152.6 153.5,155.7 154,158.8 155.5,180.8 154.9,199.8 154.5,204.3 153.5,208.8 152.5,210.9 151.5,211.9 150.5,212.1 148.5,212.1 146.5,210.5 141.5,201.7 140.5,199.3 140.2,196.8 138.5,190.8 137.1,176.8 136.1,174.8 137.5,171.1 138.4,159.8 139.2,155.8 140.5,152.3ZM154.1,227.8 159.5,227.6 165.5,228.4 172.2,230.8 173.5,231.8 173.8,232.8 169.5,233.6 165.5,233.8 160.5,233.6 155.5,232.8 153.1,231.8 151.6,230.8 151.1,229.8 151.5,228.8Z"/><path fill="#9d9d9d" d="M143.1,151.8 144.5,151.3 147.5,151.3 150.5,152 152.5,154.7 153.6,158.8 154.5,167.5 155.1,179.8 154.7,198.8 153.5,206.4 152.5,208.7 151.5,209.6 150.5,209.8 148.5,209.8 146.5,208.7 141.5,200.9 140.5,198.6 138.4,187.8 137.6,174.8 138.8,160.8 139.5,157.1 140.5,154.5 141.5,153ZM155,227.8 159.5,227.7 165.5,228.6 171.9,230.8 173.2,231.8 173.5,232.8 169.5,233.5 164.5,233.8 155.7,232.8 153.3,231.8 151.9,230.8 151.4,229.8 151.9,228.8Z"/><path fill="#a1a1a1" d="M142.9,153.8 144.5,153.3 147.5,153.2 150.5,153.9 151.5,154.9 152.5,156.9 153.5,161.7 154.8,179.8 154.4,197.8 153.5,204.1 152.5,206.4 151.5,207.4 150.5,207.7 147.5,207.5 146.5,206.8 142.5,201.6 140.5,196.8 138.8,187.8 138.2,181.8 138.1,174.8 139.3,161.8 140.5,156.7 141.5,155ZM156.1,227.8 161.5,228 168.5,229.5 171.5,230.8 172.8,231.8 173.1,232.8 167.5,233.6 160.5,233.5 156,232.8 152.2,230.8 151.7,229.8 152.2,228.8Z"/><path fill="#a5a5a5" d="M142.7,155.8 144.5,155.1 146.5,155 148.5,155.1 150.5,155.8 151.5,156.9 152.3,158.8 153.1,162.8 154.5,178.1 154.2,193.8 153.5,201.8 152.5,204.3 151.5,205.3 150.5,205.6 147.5,205.5 146.5,205.1 143.5,202.1 141.5,198.5 139.5,189.5 138.6,179.8 139,168.8 140.5,159.2 141.5,157ZM152.6,228.8 154.5,228.2 157.5,227.8 164.5,228.6 171.2,230.8 172.5,231.8 172.7,232.8 165.5,233.6 157.5,233 154.5,232.1 152.5,230.8 152,229.8Z"/><path fill="#a9a9a9" d="M142.7,157.8 144.5,157 149.5,157.2 150.5,157.8 151.5,159.2 152.5,162.6 154,175.8 154,189.8 153.5,197.9 153,200.8 152,202.8 150.5,203.8 146.5,203.6 143.5,201 141.9,197.8 140.1,189.8 139.1,180.8 139.4,170.8 140.7,161.8 141.5,159.4ZM153,228.8 157.5,228 164.5,228.7 170.9,230.8 172.2,231.8 172.3,232.8 164.5,233.6 156.7,232.8 152.8,230.8 152.3,229.8Z"/><path fill="#adadad" d="M143,159.8 145.5,158.9 149.5,159.3 150.5,160.1 151.4,161.8 152.5,166.3 153.7,177.8 153.5,190.8 152.5,199.7 151.5,201.4 150.5,202 146.5,202 144.5,200.8 143.7,199.8 142.5,197.3 140.5,189.1 139.6,180.8 139.8,172.8 140.5,167 141.5,162.6ZM153.4,228.8 158.5,228.1 164.5,228.8 170.6,230.8 171.8,231.8 171.9,232.8 164.5,233.5 157.1,232.8 153,230.8 152.6,229.8Z"/><path fill="#b1b1b1" d="M144.3,161.8 147.5,161.5 149.5,162.1 150.5,163.3 151.5,165.8 152.5,170.4 153.3,181.8 152.7,192.8 151.5,198.9 150.5,199.9 149.5,200.2 146.5,200.1 144.4,198.8 142.5,194.4 140.5,184.8 140.2,177.8 140.7,170.8 141.5,166.8 142.5,163.9ZM153.9,228.8 158.5,228.2 164.5,228.9 170.2,230.8 171.5,231.8 171.5,232.8 164.5,233.4 157.4,232.8 154.8,231.8 153.3,230.8 152.9,229.8Z"/><path fill="#b5b5b5" d="M144.1,165.8 146.5,165.2 148.5,165.3 149.5,165.8 150.5,167.1 151.5,169.9 152.3,174.8 152.7,183.8 151.9,191.8 151.5,194 150.5,196.2 149.5,197 148.5,197.1 146.5,197.1 145.5,196.7 144.5,195.6 142.5,190.8 141.5,186.3 140.9,179.8 141.3,172.8 142.5,168ZM154.3,228.8 158.5,228.3 164.5,229 169.9,230.8 171.1,231.8 171.1,232.8 164.5,233.4 157.8,232.8 155.1,231.8 153.6,230.8 153.2,229.8Z"/><path fill="#b9b9b9" d="M144.3,169.8 145.5,169.3 147.5,169.3 149.5,170 150.5,171.6 151.5,175.4 151.9,180.8 151.5,187.3 150.5,190.9 149.5,192.1 148.5,192.4 145.5,192.2 144.5,191.2 143.5,189.3 142.5,185.8 141.9,180.8 142.1,175.8 143,171.8ZM154.9,228.8 159.5,228.4 165.5,229.3 169.6,230.8 170.8,231.8 170.6,232.8 164.5,233.3 158.2,232.8 155.4,231.8 153.9,230.8 153.5,229.8Z"/><path fill="#bdbdbd" d="M144.4,175.8 145.5,174.9 147.5,174.8 148.5,175.1 149.5,176.1 150.2,178.8 150.3,181.8 149.5,185.1 148.5,185.9 145.5,185.9 144.5,184.7 143.5,179.8ZM155.4,228.8 159.5,228.5 163.5,229 167.5,230.1 169.2,230.8 170.4,231.8 170.2,232.8 167.5,233.1 158.6,232.8 155.7,231.8 154.2,230.8 153.9,229.8Z"/><path fill="#c1c1c1" d="M156.1,228.8 160.5,228.7 164.5,229.3 168.9,230.8 170.1,231.8 169.7,232.8 167.5,233.1 159.1,232.8 156.1,231.8 154.5,230.8 154.2,229.8Z"/><path fill="#c5c5c5" d="M157,228.8 160.9,228.8 165.5,229.7 168.5,230.8 169.7,231.8 169.1,232.8 168.5,232.9 164.5,233.1 159.6,232.8 156.4,231.8 154.9,230.8 154.6,229.8Z"/><path fill="#c9c9c9" d="M155,229.8 157.5,228.9 161.5,229 165.6,229.8 168.1,230.8 169.3,231.8 168.5,232.8 160.1,232.8 156.7,231.8 155.2,230.8Z"/><path fill="#cdcdcd" d="M155.4,229.8 157.5,229.1 161.5,229.1 165.5,229.9 167.8,230.8 168.9,231.8 167.9,232.8 160.8,232.8 157.1,231.8 155.5,230.8Z"/><path fill="#d1d1d1" d="M155.8,229.8 158.5,229.1 162.5,229.4 167.4,230.8 168.4,231.8 167.1,232.8 161.5,232.8 157.5,231.8 155.9,230.8Z"/><path fill="#d5d5d5" d="M156.3,229.8 159.5,229.2 163.5,229.7 166.9,230.8 168,231.8 165.9,232.8 161.5,232.6 157.9,231.8 156.2,230.8Z"/><path fill="#d9d9d9" d="M156.9,229.8 159.5,229.4 163.5,229.8 166.5,230.8 167.5,231.8 164.5,232.7 160.5,232.3 158.3,231.8 156.6,230.8Z"/><path fill="#dddddd" d="M157.5,229.8 159.5,229.5 162.8,229.8 166,230.8 166.9,231.8 164.5,232.5 159.5,232 157.1,230.8Z"/><path fill="#e1e1e1" d="M158.3,229.8 162.5,229.9 165.5,230.8 166.3,231.8 163.5,232.3 159.5,231.8 157.5,230.8Z"/><path fill="#e5e5e5" d="M158,230.8 159.5,229.9 161.5,230 164.9,230.8 165.6,231.8 161.5,232 160,231.8Z"/><path fill="#e9e9e9" d="M158.6,230.8 159.5,230.3 161.5,230.2 164.2,230.8 164.6,231.8 161,231.8Z"/><path fill="#ededed" d="M159.4,230.8 160.5,230.5 163.3,230.8 162.5,231.6Z"/><path fill="#f1f1f1" d="M161.2,230.8 161.5,230.8 161.6,230.8 161.5,230.8Z"/></g></g><g clip-path="url(#c4)"><g filter="url(#j4)"><rect x="39.0" y="352.8" width="202.0" height="105.0" fill="#000"/><path fill="#060606" d="M123.8,353.3 169.1,353.3 168.2,354.3 168.3,359.3 169.1,360.3 169.3,363.3 170.1,364.3 170.3,368.3 171,369.3 171.1,389.3 170.3,390.3 170.1,394.3 169.3,395.3 169.2,397.3 166.4,400.3 166.3,401.3 163.4,404.3 163.3,405.3 161.4,407.3 161.3,409.3 160.4,410.3 160.3,412.3 159.4,413.3 159.2,426.3 158.4,427.3 158.3,433.3 157.4,434.3 157.4,437.3 158.3,438.3 158.3,439.3 159.5,440.4 162.5,440.5 163.5,441.4 167.5,441.5 168.5,442.4 172.5,442.4 173.5,443.4 178.5,443.4 179.5,444.4 183.5,444.4 184.5,445.4 189.5,445.4 190.5,446.4 194.5,446.5 195.5,447.4 198.5,447.5 199.5,448.4 202.5,448.5 203.5,449.4 205.5,449.6 206.2,450.3 205.5,451 204.5,451.1 203.5,452.1 178.5,452.2 177.5,453.2 161.5,453 160.5,452.2 149.5,452.1 148.5,451.2 147.5,451.1 145.7,449.3 145.6,441.3 144.7,440.3 144.6,438.3 143.7,437.3 143.6,435.3 142.7,434.3 142.6,432.3 141.7,431.3 141.6,429.3 140.7,428.3 140.6,425.3 139.7,424.3 139.6,422.3 138.7,421.3 138.6,410.3 137.6,409.3 137.6,406.3 136.6,405.3 136.6,403.3 135.5,402.2 134.5,402.1 133.5,401.2 126.5,401.2 125.5,402.1 124.5,402.2 123.5,403.1 122.5,403.1 121.5,404 116.5,403.9 115.5,403.1 109.5,402.8 108.5,402 105.5,401.8 104.5,401 102.5,400.9 101.5,400 99.5,399.9 98.5,399 96.5,398.8 95.5,398 93.5,397.8 85.5,393.4 82.5,392.3 81.4,391.3 81.1,390.3 81.7,388.3 83.5,386 87.5,382.2 97.5,374.5 98.5,374.4 100.5,372.6 101.5,372.4 103.5,370.6 104.5,370.5 107.5,367.7 108.5,367.5 110.5,365.6 111.5,365.5 113.5,363.6 114.5,363.5 117.5,360.6 118.5,360.5 120.5,358.6 121.5,358.5 124.7,355.3 124.7,354.3Z"/><path fill="#0a0a0a" d="M124,353.3 168.8,353.3 167.9,354.3 167.8,355.3 168.1,359.3 168.8,360.3 169.1,363.3 169.7,364.3 170,368.3 170.7,370.3 171,381.3 170.7,389.3 170.1,390.3 169.8,394.3 169.1,395.3 168.9,397.3 166.2,400.3 166,401.3 163.3,404.3 163.1,405.3 161.3,407.3 161.2,409.3 160.3,410.3 160.1,412.3 159.3,413.3 159,426.3 158.3,427.3 158.1,433.3 157.3,434.3 157.3,437.3 158.1,438.3 158.2,439.3 159.5,440.6 162.5,440.7 163.5,441.5 167.5,441.6 168.5,442.5 172.5,442.6 173.5,443.4 178.5,443.6 179.5,444.4 183.5,444.6 184.5,445.4 189.5,445.6 190.5,446.5 194.5,446.6 195.5,447.5 198.5,447.7 199.5,448.5 202.5,448.7 203.5,449.5 205.5,449.8 206,450.3 205.5,450.8 204.5,451 203.5,451.9 178.5,452.2 177.5,453 162.5,452.8 161.5,452.7 160.5,452 149.5,452 148.5,451.1 147.5,450.9 146,449.3 145.7,441.3 144.9,440.3 144.7,438.3 143.9,437.3 143.7,435.3 142.9,434.3 142.8,432.3 141.9,431.3 141.8,429.3 141,428.3 140.7,425.3 139.9,424.3 139.7,422.3 139,421.3 138.7,410.3 137.8,409.3 137.7,406.3 136.8,405.3 136.7,403.3 135.5,402.1 134.5,402 133.5,401.1 126.5,401 123.5,402.9 120.5,403.7 116.5,403.5 115.5,402.9 109.5,402.3 108.5,401.8 102.5,400.4 101.5,399.7 99.5,399.4 98.5,398.7 93.5,397.2 89.5,395.3 83,391.3 82.6,390.3 83.5,388.1 90.2,381.3 97.5,375.3 101.5,372.8 103.5,371.1 104.5,370.8 107.5,368.2 108.5,367.8 110.5,366.1 111.5,365.8 113.5,364 114.5,363.7 117.5,361 118.5,360.7 120.5,358.9 121.5,358.7 125,355.3 125,354.3Z"/><path fill="#0e0e0e" d="M124.3,353.3 168.4,353.3 167.6,354.3 167.6,356.3 167.9,359.3 169.5,365.1 170.6,374.3 170.7,383.3 170.3,389.3 168.6,397.3 161.2,407.3 161,409.3 160.2,410.3 160,412.3 159.2,413.3 158.8,425.3 158.1,427.3 157.8,433.3 157.2,434.3 157.2,437.3 158,439.3 159.5,440.7 162.5,440.9 163.5,441.6 167.5,441.8 168.5,442.5 172.5,442.7 173.5,443.5 178.5,443.7 179.5,444.5 183.5,444.7 184.5,445.5 189.5,445.7 190.5,446.5 194.5,446.8 195.5,447.6 198.5,447.8 199.5,448.6 202.5,448.9 203.5,449.7 205.5,450.1 205.5,450.5 203.5,451.7 202.5,451.8 178.5,452.1 177.5,452.9 164.5,452.6 158.5,451.8 149.5,451.8 148.5,451 147.5,450.7 146.2,449.3 145.8,441.3 145.1,440.3 144.9,438.3 144.1,437.3 143.9,435.3 143.1,434.3 142.9,432.3 142.2,431.3 141.9,429.3 141.2,428.3 140.8,425.3 140.1,424.3 139.9,422.3 139.2,421.3 138.7,410.3 137.9,409.3 137.8,406.3 136.9,405.3 136.7,403.3 135.5,402 134.5,401.8 133.5,401 126.5,400.9 123.5,402.6 120.5,403.4 116.5,403.1 109.5,401.9 100.6,399.3 92.8,396.3 89.2,394.3 83.7,390.3 84,389.3 85.6,387.3 94.9,378.3 123.3,357.3 125.3,355.3 125.2,354.3Z"/><path fill="#121212" d="M124.6,353.3 167.9,353.3 167.3,354.3 167.3,356.3 169.4,366.3 170.3,374.3 170.5,381.3 170.1,388.3 169.1,394.3 168.3,397.3 161.1,407.3 160.9,409.3 160.1,410.3 159.8,412.3 159.1,413.3 158.6,425.3 158,427.3 157.6,433.3 157.1,434.3 157.1,437.3 157.8,439.3 159.5,440.8 162.5,441.1 163.5,441.7 167.5,442 168.5,442.6 172.5,442.9 173.5,443.6 178.5,443.9 179.5,444.6 183.5,444.8 184.5,445.6 189.5,445.9 190.5,446.6 194.5,447 195.5,447.7 198.5,448 199.5,448.7 202.5,449.1 203.5,449.8 205.5,450.3 203.5,451.5 202.5,451.6 178.5,452.1 177.5,452.7 166.5,452.5 158.5,451.7 153.5,452 149.5,451.7 147.5,450.5 146.4,449.3 146.1,448.3 145.9,441.3 145.3,440.3 144,435.3 143.3,434.3 143,432.3 141.4,428.3 141,425.3 140.3,424.3 140,422.3 139.4,421.3 138.8,410.3 138.1,409.3 137.8,406.3 137.1,405.3 136.8,403.3 135.5,401.9 133.5,400.9 126.5,400.8 123.5,402.4 120.5,403.1 109.5,401.5 101.5,399.1 94.1,396.3 90.7,394.3 85.4,390.3 85.3,389.3 86.5,387.9 91.7,382.3 96.1,378.3 124.5,356.5 125.5,355.3 125.5,354.3Z"/><path fill="#161616" d="M125,353.3 167.5,353.3 167,354.3 167,356.3 169.2,367.3 170,375.3 170.2,382.3 169.8,388.3 169.1,393.3 168,397.3 161.1,407.3 160.7,409.3 160,410.3 159.6,412.3 159,413.3 158.4,425.3 157.9,427.3 157.4,433.3 157,434.3 157,437.3 157.7,439.3 158.4,440.3 159.5,441 167.5,442.2 168.5,442.7 172.5,443 173.5,443.6 178.5,444 179.5,444.6 183.5,444.9 184.5,445.6 189.5,446 190.5,446.7 194.5,447.2 195.5,447.8 198.5,448.2 199.5,448.8 202.5,449.3 205.1,450.3 203.5,451.3 201.5,451.6 178.5,452 177.5,452.6 167.5,452.4 158.5,451.5 153.5,451.9 149.5,451.5 147.5,450.3 146.3,448.3 146,441.3 143.5,434.3 139.4,420.3 138.9,410.3 138.2,409.3 137.9,406.3 137.2,405.3 136.9,403.3 135.5,401.8 133.5,400.8 127.5,400.6 126.5,400.7 123.5,402.2 120.5,402.8 109.5,401 95.5,396.3 92.1,394.3 87.3,390.3 86.6,389.3 91.9,383.3 96.1,379.3 125.1,356.3 125.8,355.3 125.8,354.3Z"/><path fill="#1a1a1a" d="M125.4,353.3 167.1,353.3 166.6,355.3 168.9,367.3 169.7,376.3 169.8,383.3 169.2,390.3 167.7,397.3 161,407.3 158.9,413.3 158.2,425.3 156.9,434.3 156.9,437.3 157.5,439.3 158.1,440.3 159.5,441.1 167.5,442.3 168.5,442.8 172.5,443.2 173.5,443.7 178.5,444.1 179.5,444.7 183.5,445.1 184.5,445.7 189.5,446.2 190.5,446.8 194.5,447.3 204.7,450.3 202.5,451.3 200.5,451.5 178.5,452 177.5,452.5 165.5,452.1 158.5,451.4 153.5,451.8 149.5,451.4 147.5,450 146.4,448.3 146.1,441.3 139.5,419.9 139,410.3 138.4,409.3 138,406.3 137.4,405.3 137,403.3 135.5,401.7 133.5,400.7 127.5,400.4 123.5,401.9 120.5,402.5 115.5,401.9 109.5,400.6 101.5,398.1 94.9,395.3 87.8,389.3 93.1,383.3 98.3,378.3 124.5,357.2 126.1,355.3 126.1,354.3Z"/><path fill="#1e1e1e" d="M125.8,353.3 166.8,353.3 166.4,356.3 168.2,365.3 169.3,374.3 169.5,381.3 169.1,389.3 168.3,394.3 167.4,397.3 160.9,407.3 158.8,413.3 158.3,417.3 158.1,424.3 156.8,434.3 156.8,437.3 157.3,439.3 157.8,440.3 159.5,441.3 183.5,445.2 184.5,445.8 189.5,446.3 204.3,450.3 202.5,451 199.5,451.5 178.5,451.9 177.5,452.3 166.5,452 158.5,451.2 153.5,451.7 149.5,451.2 147.5,449.8 146.6,448.3 146.2,441.3 140,421.3 139.4,418.3 139.1,410.3 138.5,409.3 138.1,406.3 136.5,402.6 135.5,401.5 133.5,400.6 131.5,400.4 126.5,400.4 123.5,401.7 120.5,402.2 115.5,401.6 108.5,400 101.5,397.6 96.2,395.3 91.5,390.7 90.5,390.3 89.5,389.3 93.2,384.3 99.2,378.3 125.5,356.6 126.3,355.3 126.4,354.3Z"/><path fill="#222222" d="M126.1,353.3 166.4,353.3 166.1,356.3 168.1,366.3 169,374.3 169.3,381.3 168.9,388.3 168.1,394.3 167.2,397.3 160.8,407.3 158.7,413.3 158.1,417.3 157.9,424.3 156.7,434.3 156.7,437.3 157.1,439.3 157.6,440.3 159.5,441.4 189.5,446.5 203.7,450.3 199.5,451.3 178.5,451.9 177.5,452.2 166.5,451.9 158.5,451 152.5,451.6 149.5,451.1 147.5,449.5 146.8,448.3 146.3,441.3 140.2,421.3 139.5,417.9 139.1,410.3 138.2,406.3 137.2,403.3 136.5,402.5 135.5,401.4 133.5,400.5 129.5,400.1 126.5,400.2 121.5,401.9 116.5,401.5 107.6,399.3 102.1,397.3 101.5,396.6 100.3,396.3 99.2,392.3 98.1,385.3 99.7,379.3 101.3,377.3 106.9,372.3 125.5,357 126.6,355.3 126.7,354.3Z"/><path fill="#262626" d="M126.5,353.3 166.1,353.3 165.9,356.3 168,367.3 168.8,374.3 169,381.3 168.7,388.3 168,393.3 166.9,397.3 160.7,407.3 158.6,413.3 158.1,416.3 157.8,423.3 156.6,434.3 156.9,439.3 157.5,440.5 159.5,441.6 189.5,446.6 203.1,450.3 198.3,451.3 178.5,451.8 177.5,452.2 167.5,451.8 158.5,450.9 152.5,451.5 149.5,450.9 147.5,449.3 146.9,448.3 146.4,441.3 140.1,420.3 139.5,416.5 139.2,410.3 137.2,403.3 136.5,402.4 134.5,400.8 131.5,400.1 127.5,399.8 120.5,401.7 112.5,400.3 106.4,398.3 104.7,394.3 103.3,385.3 106.7,373.3 125.5,357.4 126.9,355.3Z"/><path fill="#2a2a2a" d="M126.8,353.3 165.8,353.3 165.7,356.3 167.8,367.3 168.6,376.3 168.8,383.3 168.2,390.3 166.7,397.3 161.5,405.5 158.3,414.3 156.5,434.3 156.8,439.3 157.5,440.9 159.5,441.7 188.5,446.5 202.5,450.3 196.7,451.3 175.5,452 166.5,451.6 157.5,450.6 155.3,451.3 151.5,451.4 149.5,450.7 147.7,449.3 146.8,447.3 146.3,440.3 140.1,419.3 139.3,410.3 137.3,403.3 135.5,401.2 131.5,399.9 127.5,399.6 120.5,401.4 113.9,400.3 110.8,399.3 109.4,397.3 108.4,394.3 107,385.3 111.2,370.3 114,367.3 125.9,357.3 127.1,355.3Z"/><path fill="#2e2e2e" d="M127,353.3 165.5,353.3 165.4,356.3 167.7,368.3 168.5,378.3 168.1,389.3 166.9,396.3 161.5,405.1 158.1,414.3 156.3,434.3 156.6,439.3 157.5,441.2 159.5,441.9 172.5,443.7 188.5,446.6 201.8,450.3 195,451.3 175.5,452 166.5,451.5 157.5,450.4 154.5,451.3 151.8,451.3 149.5,450.5 147.9,449.3 147,447.3 146.5,440.3 140.2,419.3 139.4,410.3 137.4,403.3 135.5,401 131.5,399.7 127.5,399.4 120.5,401.2 115.2,400.3 113.6,399.3 112.8,398.3 111.4,394.3 110,385.3 115.1,367.3 118,364.3 126.5,357 127.4,355.3Z"/><path fill="#323232" d="M127.3,353.3 164.9,353.3 167.5,369.3 168.1,381.3 167.9,389.3 167.2,394.3 166.3,397.3 161.5,404.8 158,414.3 156.2,434.3 156.5,439.6 157.5,441.4 159.5,442 172.5,443.8 187.5,446.5 196.5,448.8 200.9,450.3 193.3,451.3 175.5,451.9 164.5,451.2 157.5,450.2 154.5,451.1 152.5,451.2 150.5,450.8 148.1,449.3 147.2,447.3 146.6,440.3 140.9,421.3 140.1,417.3 139.5,410.3 138.2,405.3 136.9,402.3 134.5,400.3 130.5,399.4 126.5,399.4 121.5,400.9 117.1,400.3 115.3,398.3 113.9,394.3 112.5,385.3 118.2,365.3 118.6,364.3 126.6,357.3 127.6,355.3Z"/><path fill="#363636" d="M127.9,353.3 164.5,353.5 166.5,364.3 167.6,378.3 167.7,389.3 167,394.3 166.1,397.3 161.1,405.3 158.7,411.3 157.6,415.3 156,435.3 156.5,440 157.5,441.6 159.5,442.2 172.5,443.9 187.5,446.6 196.5,448.9 200,450.3 191.5,451.3 176.5,451.8 165.5,451.1 157.5,450.1 154.5,450.9 152.5,451.1 150.5,450.7 148.3,449.3 147.3,447.3 147.2,442.3 146.5,439.3 140.6,419.3 138.9,407.3 137,402.3 134.9,400.3 130.5,399.2 126.5,399.1 121.5,400.6 119.2,400.3 117.4,398.3 116.1,394.3 114.7,385.3 114.8,384.3 120.9,363.3 121.4,362.3 126.9,357.3 127.8,355.3Z"/><path fill="#3a3a3a" d="M128.1,354.3 128.5,353.6 129.1,353.3 163.6,353.3 164.5,354 165.5,360.3 166.8,375.3 167.5,389.3 166.8,394.3 165.9,397.3 161,405.3 158.6,411.3 157.5,415.1 155.8,435.3 155.9,438.3 156.4,440.3 157.5,441.7 159.5,442.3 171.5,443.9 187.5,446.8 196.5,449 199,450.3 190.5,451.2 177.5,451.7 166.5,451.1 157.5,449.9 152.5,450.9 149.5,450 147.8,448.3 146.9,440.3 140.9,420.3 139.5,409.3 137.5,402.8 135.5,400.4 131.5,399.2 126.5,398.9 121.1,400.3 119.3,398.3 118,394.3 116.6,385.3 116.8,384.3 123.5,361.3 127.2,357.3 127.8,356.3Z"/><path fill="#3e3e3e" d="M128.4,354.3 130.5,353.3 163,353.3 164.2,354.3 166.5,378.3 166.9,389.3 166.6,394.3 165.7,397.3 160.5,406 157.5,414.5 155.7,435.3 155.8,438.3 156.3,440.3 156.8,441.3 158.5,442.2 174.5,444.5 186.5,446.7 196.8,449.3 198,450.3 189.5,451.2 177.5,451.6 166.5,451 157.5,449.8 152.5,450.8 149.5,449.9 147.9,448.3 147.1,440.3 141.1,420.3 139.6,409.3 137.5,402.6 135.5,400.3 132.5,399.2 127.5,398.6 123.5,399.6 121.8,399.3 120.6,397.3 119.8,394.3 118.4,385.3 118.6,384.3 125.5,360.3 128.2,356.3Z"/><path fill="#424242" d="M129,354.3 131.7,353.3 162.4,353.3 163.5,354.3 165.9,378.3 166.4,393.3 165.5,397.1 160.7,405.3 157.4,414.3 155.5,435.3 155.6,438.3 156.1,440.3 156.6,441.3 158.5,442.4 174.5,444.6 186.5,446.8 196.4,449.3 197,450.3 189.5,451.1 177.5,451.6 167.5,451.1 157.5,449.6 152.5,450.7 149.5,449.7 148.1,448.3 147.7,447.3 147.4,441.3 141,419.3 139.9,410.3 138,403.3 136.5,400.9 135.5,400.1 133.5,399.3 127.5,398.5 123.4,399.3 122.2,397.3 121.4,394.3 120,385.3 120.2,384.3Z"/><path fill="#464646" d="M130.4,354.3 132.9,353.3 161.8,353.3 162.9,354.3 165.4,378.3 165.8,394.3 165.6,396.3 164.7,398.3 161.5,403.4 159.5,407.7 157.1,415.3 155.4,435.3 155.5,438.3 156.5,441.5 158.5,442.5 173.5,444.5 187.5,447.1 196,449.3 196,450.3 188.5,451 177.5,451.5 167.5,451 156.5,449.4 154.5,450.3 152.5,450.5 150.5,450.1 148.3,448.3 147.9,447.3 147.5,441 141.1,419.3 140.1,410.3 138.1,403.3 136.5,400.8 134.5,399.5 129.5,398.4 124.2,398.3 122.9,394.3 121.5,385.3 121.7,384.3Z"/><path fill="#4a4a4a" d="M131.8,354.3 134.1,353.3 161.2,353.3 162.3,354.3 164.9,378.3 165.3,394.3 164.5,398.3 160.5,405 158.4,410.3 157,415.3 155.3,435.3 155.5,439.3 156.5,441.9 159.5,442.8 173.5,444.6 186.5,447 195.5,449.3 195,450.3 184.5,451.2 176.5,451.4 167.5,450.9 156.5,449.2 154.5,450.1 152.5,450.4 150.5,449.9 148.4,448.3 148,447.3 147.5,440.4 141.3,419.3 140.2,410.3 138.3,403.3 136.5,400.6 134.5,399.3 128.5,398 125.5,398 124.2,393.3 123,385.3 123.1,384.3Z"/><path fill="#4e4e4e" d="M133.2,354.3 135.3,353.3 160.6,353.3 161.7,354.3 164.4,378.3 164.8,394.3 164.5,397.3 160.2,405.3 157.9,411.3 156.8,415.3 155.2,436.3 155.4,439.3 156.5,442.3 173.5,444.6 185.5,446.9 195.1,449.3 194.5,450 184.5,451.1 174.5,451.2 167.5,450.8 159.5,449.6 156.5,448.8 154.5,449.9 151.5,450.1 149.7,449.3 148.6,448.3 148.1,447.3 147.6,440.3 141.4,419.3 140.3,410.3 138.4,403.3 137.3,401.3 135.5,399.6 132.5,398.6 126.5,397.3 125.4,392.3 124.3,385.3 124.5,384.3Z"/><path fill="#525252" d="M134.5,354.3 136.4,353.3 160,353.3 161.1,354.3 163.9,378.3 164.3,394.3 163.4,399.3 159.5,406.8 156.7,415.3 155.1,435.3 155.2,439.3 156.2,442.3 156.5,442.6 178.5,445.6 189.5,447.9 194.7,449.3 194.5,449.5 192.9,450.3 189.5,450.6 182.5,451.2 175.5,451.2 168.5,450.8 162.5,450 158.4,449.3 156.5,448.5 155.5,449.4 152.5,450.1 150.5,449.6 148.8,448.3 148.2,447.3 147.7,440.3 142.1,421.3 141.2,417.3 140.4,410.3 138.5,403.3 137.5,401.3 135.5,399.5 127.8,397.3 126.3,390.3 125.6,385.3 125.8,384.3Z"/><path fill="#565656" d="M135.8,354.3 137.5,353.3 159.4,353.3 160.5,354.3 163.4,378.3 163.9,394.3 163.1,399.3 159.5,406.4 156.6,415.3 154.9,435.3 155.1,439.3 155.8,442.3 156.5,443 163.5,443.5 172.5,444.6 184.5,446.8 194.3,449.3 193.5,449.9 183.5,451.1 172.5,451 160.5,449.6 156.5,448.1 154.5,449.6 151.5,449.8 149.5,448.9 148.5,447.6 147.9,440.3 142.2,421.3 141.3,417.3 140.6,410.3 139,404.3 137.5,401.2 135.5,399.3 129.1,397.3 128.1,393.3 126.9,385.3Z"/><path fill="#5a5a5a" d="M136.9,354.3 138.2,353.3 158.8,353.3 159.9,354.3 162.9,378.3 163.4,394.3 162.6,400.3 160.3,404.3 158.5,408.6 156.3,416.3 154.8,435.3 155.5,443.6 158.5,443.1 172.5,444.7 188.5,447.8 193.9,449.3 193.5,449.6 191.5,450.2 183.5,451 172.5,451 159.6,449.3 155.5,446.9 154.9,449.3 151.5,449.7 149.5,448.7 148.5,447.3 148.3,442.3 147.8,439.3 142.3,421.3 141.4,417.3 140.7,410.3 139.2,404.3 138.3,402.3 136.5,399.9 134.5,398.7 130.3,397.3 129.2,393.3 128,385.3Z"/><path fill="#5e5e5e" d="M137.8,354.3 138.8,353.3 158.1,353.3 159.3,354.3 162.3,377.3 163,393.3 162.2,400.3 158.5,408.3 156.1,416.3 154.7,435.3 155,443.3 155.5,445 155.9,444.3 158,443.3 164.5,443.7 177.5,445.6 193.5,449.3 191.5,450.1 182.5,451 169.5,450.7 160.2,449.3 156.5,447.3 155.5,445.9 154.4,449.3 151.5,449.5 149.3,448.3 148.8,447.3 147.9,439.3 142.5,421.3 141.5,416.8 140.8,410.3 139.5,405 138.5,402.3 136.5,399.7 135.5,398.9 131.4,397.3 130.4,393.3 129.2,385.3Z"/><path fill="#626262" d="M138.5,354.3 139.5,353.3 157.5,353.3 158.7,354.3 159.3,358.3 161.9,378.3 162.5,394.3 161.5,401.3 158.4,408.3 156.1,415.3 154.7,430.3 154.8,445.3 154.5,448.3 153.5,449.4 151.3,449.3 149.5,448.3 149,447.3 148.1,439.3 142.5,420.5 140.7,409.3 139.5,404.6 138.6,402.3 137.2,400.3 135.5,398.7 132.6,397.3 131.2,391.3 130.3,385.3 130.5,384.3 136.5,363.7ZM156.7,444.3 158.5,443.6 162.5,443.7 171.5,444.7 182.5,446.7 193.1,449.3 190.5,450.1 180.5,451 172.5,450.9 164.5,450 160.5,449.2 157.1,447.3 156.2,446.3 156.1,445.3Z"/><path fill="#666666" d="M139.2,354.3 140.3,353.3 156.8,353.3 158,354.3 159.7,364.3 161.5,379.3 162.1,389.3 162,395.3 161.2,401.3 158.2,408.3 156,415.3 154.6,428.3 154.1,448.3 152.9,449.3 150.5,448.7 149.7,448.3 149.3,447.3 148.9,442.3 148.1,438.3 142.5,419.2 140.8,409.3 139.5,404.3 137.5,400.4 133.7,397.3 132,389.3 131.6,384.3 136.5,367.5ZM157.6,444.3 158.5,443.9 162.5,443.8 171.5,444.8 181.5,446.6 192.7,449.3 185.5,450.6 179.5,451 171.5,450.8 164.5,449.9 160.5,449.1 157.5,447.3 156.7,446.3 156.7,445.3Z"/><path fill="#6a6a6a" d="M139.9,354.3 141,353.3 156.1,353.3 157.4,354.3 160.6,375.3 161.6,388.3 161.3,397.3 160.5,402.3 157,411.3 155.9,415.3 154.3,427.3 153.6,448.3 152.5,449 150.1,448.3 149.6,447.3 149.2,442.3 148.5,440.4 148.3,438.3 144.9,425.3 142.5,417.9 139.7,404.3 137.5,400.2 135.4,398.3 134.8,397.3 133.7,393.3 132.5,385.3 136.5,371.1ZM158.5,444.3 162.5,443.9 171.5,444.8 181.5,446.6 192.4,449.3 185.5,450.5 179.5,450.9 171.5,450.7 164.5,449.9 160.5,448.9 157.8,447.3 157,446.3 157.1,445.3Z"/><path fill="#6e6e6e" d="M140.7,354.3 141.9,353.3 155.4,353.3 156.7,354.3 160.3,376.3 161.1,388.3 161,396.3 159.6,404.3 155.9,414.3 154.3,423.3 152.9,447.3 152.8,448.3 152.5,448.5 150.5,448.3 149.3,441.3 146,427.3 142.5,416.5 139.8,404.3 137.8,400.3 136.2,398.3 135.4,396.3 133.5,385.3 136.5,374.7ZM159.4,444.3 162.5,443.9 171.5,444.9 181.5,446.7 192,449.3 184.5,450.5 179.5,450.9 171.5,450.6 164.5,449.8 160.5,448.7 158.2,447.3 157.3,446.3 157.5,445.3Z"/><path fill="#727272" d="M141.5,354.3 142.8,353.3 154.6,353.3 156,354.3 157.9,364.3 160,378.3 160.7,390.3 160.4,397.3 159.3,404.3 155.9,413.3 154,422.3 152.5,443 151.5,446.9 150.5,444.4 146,425.3 142.5,415.1 139.9,404.3 136.9,398.3 135.9,394.3 134.6,385.3 136.5,378.3ZM160.3,444.3 163.5,444.1 171.5,444.9 181.5,446.8 191.6,449.3 184.5,450.5 179.5,450.8 171.5,450.6 164.5,449.7 160.5,448.5 158.5,447.3 157.7,446.3 157.9,445.3Z"/><path fill="#767676" d="M142.3,354.3 143.8,353.3 153.7,353.3 155.2,354.3 157.5,365.2 159.5,378.3 160.3,390.3 159.8,398.3 158.5,406.3 155.7,413.3 153.7,421.3 151.5,440.3 150.5,439.7 146,423.3 141.5,410.6 140.1,404.3 137.6,399.3 136.7,395.3 135.6,385.3ZM161,444.3 168.5,444.6 176.5,445.8 191.1,449.3 184.5,450.4 178.5,450.8 171.5,450.5 164.5,449.7 160.5,448.4 158.7,447.3 158,446.3 158.5,445.2Z"/><path fill="#7a7a7a" d="M143.3,354.3 145,353.3 152.6,353.3 154.3,354.3 156.7,364.3 159.2,379.3 159.8,392.3 159.1,400.3 158,406.3 153.7,419.3 152.8,423.3 151.5,433 150.5,434.6 141.5,409.8 140,403.3 138.1,399.3 137,393.3 136.6,385.3 140.5,364.9ZM161.8,444.3 169.5,444.8 176.5,445.9 190.5,449.3 184.5,450.3 178.5,450.7 171.5,450.5 164.5,449.6 160.7,448.3 159,447.3 158.3,446.3 158.7,445.3Z"/><path fill="#7e7e7e" d="M144.4,354.3 146.6,353.3 151,353.3 153.3,354.3 156.5,366.3 158.8,380.3 159.4,392.3 158.5,401.3 157.5,406.3 153.9,416.3 150.5,429.2 149.5,428.5 148.5,426.4 141.5,408.8 140.2,403.3 139.5,402.3 138.7,399.3 137.6,393.3 137.6,385.3 138.6,377.3 141.5,363.9ZM159.1,445.3 162.5,444.3 169.5,444.8 180.5,446.7 189.7,449.3 184.1,450.3 179.5,450.6 167.5,450 163.4,449.3 160.9,448.3 159.3,447.3 158.6,446.3Z"/><path fill="#818181" d="M145.8,354.3 149.5,353.6 152.1,354.3 152.5,355.2 154.8,362.3 157.4,374.3 158.8,387.3 158.7,396.3 157.1,406.3 154,414.3 151.5,422.3 150.5,424.7 149.5,424.8 147.5,421.4 141.5,407.5 138.9,398.3 138.1,393.3 138.3,385.3 139.4,376.3 142.5,363.3ZM159.5,445.3 162.5,444.5 169.5,444.9 180.5,446.8 189,449.3 183.5,450.3 179.5,450.6 167.5,449.9 163.7,449.3 161.2,448.3 159.6,447.3 158.9,446.3Z"/><path fill="#858585" d="M148.6,354.3 149.5,354.3 150.5,354.9 151.5,356.2 154.5,364.1 157.5,378.1 158.5,391.3 158,398.3 156.5,406.6 151.5,419.5 150.5,421.4 149.5,421.7 147.5,419.3 142,407.3 139.5,398.3 138.6,392.3 139.7,378.3 142.5,366.5 145.5,358 147.5,354.9ZM159.9,445.3 163.5,444.6 170.5,445.1 180.5,446.9 186,448.3 188.2,449.3 183.5,450.2 179.5,450.5 167.5,449.9 164,449.3 161.5,448.3 159.9,447.3 159.2,446.3Z"/><path fill="#898989" d="M147.3,358.3 148.5,357.4 149.5,357.3 150.5,357.9 152.5,361.2 153.5,363.8 156.8,377.3 157.9,389.3 157.6,397.3 156.1,406.3 151.5,417.1 150.5,418.7 149.5,419.2 148.5,418.6 147.5,417.3 142.5,407.3 139.8,397.3 139.2,392.3 139.7,383.3 141,375.3 144.5,363.4ZM160.3,445.3 163.5,444.7 170.5,445.2 180.5,446.9 185.7,448.3 187.4,449.3 183.5,450.1 178.5,450.5 166.5,449.7 163.5,449 160.2,447.3 159.5,446.3Z"/><path fill="#8d8d8d" d="M147.3,361.3 148.5,360.4 149.5,360.3 150.5,360.9 152.5,364.1 153.5,366.7 156.4,378.3 157.4,389.3 157.2,396.3 155.5,406.3 151.5,414.9 150.5,416.4 149.5,416.9 148.5,416.4 147.5,415.3 143.1,407.3 140.5,397.9 139.8,392.3 140.2,384.3 141.5,375.9 144.5,366.4ZM160.7,445.3 162.5,444.8 165.5,444.8 173.5,445.6 184.5,448 186.9,449.3 183.5,450.1 178.5,450.4 166.5,449.6 163.5,448.9 160.5,447.3 159.9,446.3Z"/><path fill="#919191" d="M149.1,363.3 150.5,363.8 151.5,365 154.5,372.8 156,379.3 157,391.3 156.5,398.3 155,406.3 152.5,411.7 150.5,414.2 149.5,414.7 148.5,414.3 146.5,412.2 143.5,406.7 141.2,398.3 140.4,392.3 141.1,382.3 142.5,375.1 145.5,367.1 147.5,364.1ZM161.2,445.3 163.5,444.9 166.5,444.9 173.5,445.7 184.5,448.1 186.4,449.3 183.5,450 178.5,450.4 166.5,449.6 163.5,448.8 160.7,447.3 160.2,446.3Z"/><path fill="#959595" d="M148.4,366.3 149.5,366.1 150.5,366.6 151.5,367.9 154.2,374.3 155.5,380.2 156.4,390.3 156.1,397.3 154.4,406.3 153.5,408.5 151.5,411.6 149.5,412.9 147.5,411.9 144.4,407.3 141.8,398.3 141,392.3 141.4,385.3 142.7,377.3 145.5,370 146.5,368.2ZM161.6,445.3 167.5,445 173.5,445.7 184.5,448.2 186.1,449.3 182.5,450.1 177.5,450.3 166.5,449.5 162.6,448.3 161,447.3 160.5,446.3Z"/><path fill="#999999" d="M148.2,369.3 149.5,368.9 150.5,369.4 151.5,370.6 153.5,374.8 154.7,379.3 155.8,390.3 155.5,397.4 153.7,406.3 151.5,410.2 149.5,411.4 147.5,410.5 144.8,406.3 142.5,398.3 141.6,392.3 142.1,385.3 143.5,377.3 145.5,372.6ZM162.1,445.3 167.5,445 174.5,446 184.5,448.2 185.8,449.3 182.5,450 177.5,450.3 166.5,449.5 162.9,448.3 161.3,447.3 160.8,446.3Z"/><path fill="#9d9d9d" d="M147.5,372.3 149.5,371.6 150.5,372 152.5,374.8 153.9,379.3 155.2,389.3 155,396.3 153.5,404.4 152.5,407.2 151.5,408.7 149.5,409.9 147.5,409 145.5,406.1 143.4,399.3 142.4,393.3 142.6,387.3 143.9,379.3 145.5,375ZM162.6,445.3 167.5,445.1 174.5,446 184.4,448.3 185.5,449.3 182.5,449.9 177.5,450.2 166.5,449.4 163.2,448.3 161.6,447.3 161.1,446.3Z"/><path fill="#a1a1a1" d="M148.1,374.3 149.5,373.9 150.5,374.3 152.5,377.4 153.7,382.3 154.6,390.3 154.2,397.3 152.5,404.9 151.5,407 150.5,408 149.5,408.3 147.5,407.4 146.2,405.3 144,398.3 143.1,393.3 143.4,387.3 144.6,380.3 146.2,376.3ZM163.2,445.3 167.5,445.1 174.5,446 184.2,448.3 185.1,449.3 181.5,450 176.5,450.2 166.1,449.3 161.9,447.3 161.5,446.3Z"/><path fill="#a5a5a5" d="M149.1,376.3 150.5,376.8 152,379.3 153.5,386.3 153.9,391.3 153.6,396.3 152.5,401.6 151,405.3 150.5,406 149.5,406.5 148.5,406.3 147.5,405.3 146.5,403.2 144.5,396.9 143.9,392.3 144.4,386.3 145.8,380.3 147.5,377.1ZM163.8,445.3 167.5,445.2 174.5,446.1 183.9,448.3 184.8,449.3 181.5,449.9 176.5,450.1 166.4,449.3 162.1,447.3 161.8,446.3Z"/><path fill="#a9a9a9" d="M148.6,379.3 149.5,379.1 150.5,379.9 151.5,382.1 152.5,385.9 153.1,391.3 152.9,395.3 152,399.3 150.5,402.9 149.5,403.6 148.5,403.3 146.5,400 145.4,396.3 144.9,392.3 145.2,388.3 146,384.3 147.5,380.5ZM164.5,445.3 168.4,445.3 178.5,446.9 183.7,448.3 184.5,449.3 176.5,450.1 166.7,449.3 162.4,447.3 162.1,446.3Z"/><path fill="#adadad" d="M148,384.3 148.5,383.7 149.5,383.4 150.5,384.3 151.5,387.1 152,390.3 151.5,396.6 150.5,399.2 149.5,400 148.5,399.7 147.5,398.3 146.2,393.3 146.5,388ZM165.4,445.3 172.5,445.9 178.5,447 183.4,448.3 184.1,449.3 176.5,450 167,449.3 164.3,448.3 162.7,447.3 162.5,446.3Z"/><path fill="#b1b1b1" d="M149.3,389.3 150.2,391.3 150,393.3 149.5,394.7 148.5,394 148.2,392.3 148.5,389.9ZM162.8,446.3 166.5,445.3 172.5,445.9 179.7,447.3 183.1,448.3 183.8,449.3 177.5,450 168.5,449.5 164.6,448.3 163,447.3Z"/><path fill="#b5b5b5" d="M163.2,446.3 166.5,445.4 172.5,446 179.5,447.3 182.7,448.3 183.5,449.3 176.5,449.9 168.5,449.4 164.8,448.3 163.3,447.3Z"/><path fill="#b9b9b9" d="M163.6,446.3 167.5,445.5 172.5,446 179.3,447.3 182.4,448.3 183.1,449.3 176.5,449.9 168,449.3 165.1,448.3 163.6,447.3Z"/><path fill="#bdbdbd" d="M164,446.3 167.5,445.6 173.5,446.2 179.1,447.3 182.1,448.3 182.8,449.3 176.5,449.8 168.3,449.3 165.4,448.3 163.9,447.3Z"/><path fill="#c1c1c1" d="M164.4,446.3 167.5,445.7 173.5,446.2 178.9,447.3 181.8,448.3 182.4,449.3 176.5,449.8 168.7,449.3 165.7,448.3 164.2,447.3Z"/><path fill="#c5c5c5" d="M164.8,446.3 167.5,445.8 173.5,446.3 178.7,447.3 181.4,448.3 182,449.3 176.5,449.7 169.1,449.3 166,448.3 164.5,447.3Z"/><path fill="#c9c9c9" d="M165.3,446.3 167.5,445.9 173.3,446.3 178.5,447.3 181.1,448.3 181.6,449.3 176.5,449.7 169.4,449.3 166.3,448.3 164.8,447.3Z"/><path fill="#cdcdcd" d="M165.8,446.3 172.5,446.2 178.1,447.3 180.7,448.3 181.2,449.3 176.5,449.6 169.8,449.3 166.6,448.3 165.2,447.3Z"/><path fill="#d1d1d1" d="M166.4,446.3 172.5,446.3 177.8,447.3 180.4,448.3 180.8,449.3 175.5,449.6 170.2,449.3 167,448.3 165.5,447.3Z"/><path fill="#d5d5d5" d="M167.1,446.3 172.2,446.3 177.4,447.3 180,448.3 180.3,449.3 170.7,449.3 167.3,448.3 165.9,447.3Z"/><path fill="#d9d9d9" d="M168.1,446.3 171.5,446.3 177,447.3 179.6,448.3 179.8,449.3 171.2,449.3 167.6,448.3 166.2,447.3Z"/><path fill="#dddddd" d="M166.6,447.3 168.5,446.5 172.5,446.6 176.5,447.3 179.2,448.3 179.3,449.3 171.7,449.3 168,448.3Z"/><path fill="#e1e1e1" d="M167.1,447.3 168.5,446.7 170.5,446.5 176.1,447.3 178.8,448.3 178.7,449.3 172.4,449.3 168.4,448.3Z"/><path fill="#e5e5e5" d="M167.5,447.3 169.5,446.7 171.5,446.7 175.6,447.3 178.3,448.3 178,449.3 173.2,449.3 168.8,448.3Z"/><path fill="#e9e9e9" d="M168,447.3 169.5,446.9 172.5,446.9 175,447.3 177.8,448.3 176.7,449.3 174.5,449.3 169.3,448.3Z"/><path fill="#ededed" d="M168.6,447.3 172.5,447.1 177.3,448.3 175.5,449.1 173.5,449 169.8,448.3Z"/><path fill="#f1f1f1" d="M169.3,447.3 173.6,447.3 176.6,448.3 175.5,448.8 172.5,448.7 170.3,448.3Z"/><path fill="#f5f5f5" d="M170.5,447.3 172.4,447.3 175.9,448.3 173.5,448.6 171,448.3Z"/></g></g><g clip-path="url(#c5)"><g filter="url(#j5)"><rect x="39.0" y="569.2" width="202.0" height="104.0" fill="#000"/><path fill="#060606" d="M134.7,569.7 173.3,569.7 171.3,571.7 171.3,572.7 173.2,575.7 173.3,577.7 174.2,578.7 174.3,582.7 175.2,583.7 175.3,596.7 175.1,600.7 174.3,601.7 174.2,607.7 173.3,608.7 173.2,613.7 172.3,614.7 172.2,616.7 171.3,617.7 171.2,619.7 169.3,621.7 169.2,622.7 166.5,625.4 165.5,625.5 164.5,626.5 163.5,626.6 162.5,627.5 161.5,627.6 159.5,629.5 158.5,629.6 157.5,630.6 156.5,630.6 154.4,632.7 154.4,633.7 153.4,634.7 153.4,635.7 152.4,636.7 152.4,638.7 151.4,639.7 151.4,641.7 149.5,643.6 146.5,643.6 144.5,641.6 143.5,641.5 138.8,636.7 138.7,635.7 136.8,633.7 136.7,626.7 137.6,625.7 137.6,617.7 136.7,616.7 136.6,614.7 135.7,613.7 135.6,611.7 134.7,610.7 134.6,609.7 132.7,607.7 132.6,606.7 131.5,605.5 129.5,605.4 128.5,606.3 127.3,607.7 127.2,608.7 126.3,609.7 126.2,610.7 125.3,611.7 125.2,612.7 124.2,613.7 124.1,614.7 121.5,617.4 120.5,617.5 119.5,618.3 118.5,618.3 117.5,617.5 112.5,617.2 111.5,616.4 108.5,616.2 107.5,615.4 105.5,615.2 104.5,614.4 103.5,614.2 101.5,612.4 100.5,612.3 96.5,609.6 92.5,608.1 91.1,605.7 91.6,603.7 93.8,600.7 97.5,597.3 102.5,593.9 105.5,592.7 106.5,591.9 107.5,591.8 108.5,591 109.5,590.9 110.5,590 111.5,589.9 112.5,589.1 114.5,588.9 117.5,587 119.5,586.9 122.5,585.1 124.5,584.9 125.5,584 126.5,583.9 128.5,582.1 129.5,581.9 129.9,580.7 132.5,577.9 132.7,576.7 135.7,573.7 135.7,572.7 136.6,571.7ZM154.7,659.7 155.5,658.9 176.5,658.9 177.5,659.8 192.5,659.8 193.5,660.8 203.5,660.8 204.5,661.8 211.5,661.8 212.5,662.8 219.5,662.9 220.5,663.8 225.5,663.9 226.5,664.8 230.5,664.9 231.5,665.8 233.5,665.9 234.5,666.8 236.5,666.9 238.3,668.7 238.3,669.7 237.5,670.5 236.5,670.6 235.5,671.5 230.5,671.5 175.5,671.4 172.5,671.4 171.5,670.6 159.5,670.3 158.5,669.5 155.5,669.4 154.5,668.5 153.5,668.4 151.7,665.7 151.7,661.7 153.5,659.9Z"/><path fill="#0a0a0a" d="M134.9,569.7 173,569.7 171.1,571.7 171.2,572.7 172.9,575.7 173.1,577.7 173.8,578.7 174.1,582.7 174.8,583.7 175.1,593.7 174.8,600.7 174.2,601.7 173.9,607.7 173.2,608.7 172.9,613.7 172.2,614.7 172,616.7 171.2,617.7 170.9,619.7 169.2,621.7 168.9,622.7 166.5,625.1 165.5,625.4 164.5,626.3 163.5,626.4 162.5,627.4 161.5,627.5 159.5,629.3 158.5,629.5 157.5,630.4 156.5,630.5 154.3,632.7 154.2,633.7 153.3,634.7 153.3,635.7 152.4,636.7 152.3,638.7 151.3,639.7 151.2,641.7 149.5,643.5 146.5,643.4 144.5,641.5 143.5,641.3 139,636.7 138.8,635.7 137.2,633.7 136.9,627.7 136.9,626.7 137.7,625.7 137.7,617.7 136.8,616.7 136.7,614.7 135.9,613.7 135.7,611.7 134.8,610.7 134.7,609.7 131.5,605.3 129.5,605 128.5,606 127,607.7 126.8,608.7 126,609.7 123.7,614.7 121.5,617.1 119.5,617.9 118.5,617.8 117.5,617.2 112.5,616.8 111.5,616.2 108.5,615.8 107.5,615.1 105.5,614.7 93.9,607.7 92.8,606.7 92.4,605.7 93.7,602.7 98.7,597.7 102.7,594.7 112.5,589.6 114.5,589.2 117.5,587.4 119.5,587.1 122.5,585.5 124.5,585.1 125.5,584.3 126.5,584.2 128.5,582.4 129.5,582.2 130.2,580.7 132.8,577.7 133,576.7 135.8,573.7 136,572.7 136.8,571.7ZM154.9,659.7 155.5,659.1 156.5,659 176.5,659 177.5,659.8 192.5,660 193.5,660.8 203.5,661 204.5,661.8 211.5,662 212.5,662.8 219.5,663 220.5,663.9 225.5,664 226.5,664.9 230.5,665 231.5,665.9 233.5,666 234.5,666.9 236.5,667.1 238.2,668.7 238.2,669.7 235.5,671.2 219.5,671.5 177.5,671.3 172.5,671.1 171.5,670.5 159.5,670 158.5,669.4 155.5,669.2 154.5,668.4 153.5,668.2 151.9,665.7 151.9,661.7 153.5,660.1Z"/><path fill="#0e0e0e" d="M135.1,569.7 172.8,569.7 171,571.7 171,572.7 172.6,575.7 173.5,578.8 174,582.7 174.5,583.7 174.9,593.7 173.6,607.7 173,608.7 172.7,612.7 171.7,616.7 171,617.7 170.7,619.7 169,621.7 168.6,622.7 166.5,624.9 164.5,626.1 163.5,626.3 162.5,627.2 161.5,627.4 159.5,629.2 158.5,629.4 157.5,630.3 156.5,630.4 154.2,632.7 154.1,633.7 153.2,634.7 153.2,635.7 152.3,636.7 152.2,638.7 151.3,639.7 151.1,641.7 149.5,643.4 146.5,643.3 144.5,641.4 143.5,641.2 139.3,636.7 137.5,633.7 137,629.7 137.1,626.7 137.8,625.7 137.8,617.7 137,616.7 136.8,614.7 136,613.7 135.8,611.7 135,610.7 134.8,609.7 131.5,605.2 129.5,604.7 128.5,605.5 126.8,607.7 124.5,612.6 122.6,615.7 121.5,616.8 119.5,617.5 112.5,616.3 105.5,614.2 101.2,611.7 94.5,606.8 93.5,605.7 94.4,603.7 97,600.7 100.2,597.7 104.2,594.7 115.6,588.7 124.5,585.4 129.5,582.4 133,577.7 133.2,576.7 136,573.7 136.9,571.7ZM155,659.7 155.5,659.2 157.5,659.1 176.5,659.2 177.5,659.9 192.5,660.1 193.5,660.9 203.5,661.1 204.5,661.9 211.5,662.1 212.5,662.9 219.5,663.2 220.5,663.9 225.5,664.2 226.5,665 230.5,665.2 231.5,666 233.5,666.2 234.5,667 236.5,667.3 238,668.7 238,669.7 235.5,671 233.5,671.1 210.5,671.4 179.5,671.1 160.5,669.8 155.5,668.9 153.5,667.9 152,665.7 152.1,661.7 153.5,660.3Z"/><path fill="#121212" d="M135.2,569.7 172.5,569.7 170.8,571.7 170.8,572.7 172.4,575.7 173.4,579.7 174.5,585.9 174.7,592.7 173.3,607.7 171.5,616.7 170.4,619.7 168.5,622.5 166.5,624.6 162.5,627 161.5,627.2 157.5,630.2 156.5,630.4 154.2,632.7 154,633.7 153.2,634.7 153.1,635.7 152.2,636.7 152.1,638.7 151.2,639.7 150.9,641.7 149.5,643.3 146.5,643.2 144.5,641.3 143.5,641 139.6,636.7 137.8,633.7 137.2,629.7 137.4,626.7 138,625.7 137.9,617.7 137.2,616.7 136.9,614.7 136.2,613.7 135.9,611.7 135.1,610.7 135,609.7 133.4,607.7 133.1,606.7 131.5,605 129.5,604.3 128.5,604.9 126.6,607.7 122.5,615.2 120.9,616.7 119.5,617.1 111.5,615.6 105.5,613.6 102.2,611.7 98.5,608.3 94.8,605.7 94.9,604.7 95.5,603.9 99.3,599.7 105.6,594.7 115.5,589.3 126.5,584.6 129.5,582.7 133.2,577.7 133.5,576.7 136.1,573.7 137,571.7ZM155.2,659.7 155.5,659.4 159.5,659.2 176.5,659.4 177.5,660 192.5,660.3 193.5,661 203.5,661.3 204.5,662 211.5,662.2 212.5,663 219.5,663.3 220.5,664 225.5,664.3 226.5,665 230.5,665.4 231.5,666.1 233.5,666.3 234.5,667.1 236.5,667.5 237.8,668.7 237.8,669.7 235.5,670.7 232.5,671 205.5,671.3 180.5,670.9 160.5,669.5 155.5,668.6 153.5,667.6 152.2,665.7 152,663.7 152.3,661.7 153.5,660.5Z"/><path fill="#161616" d="M135.4,569.7 172.1,569.7 170.6,571.7 170.6,572.7 172.1,575.7 173.3,580.7 174.4,587.7 174.5,592.7 173,607.7 171.2,616.7 169.5,620.7 166.5,624.2 164.5,625.7 161.5,627.1 157.5,630 156.5,630.3 154.1,632.7 152.9,635.7 152.1,636.7 151.9,638.7 151.1,639.7 150.8,641.7 149.5,643.2 146.5,643 144.5,641.2 143.5,640.8 140.6,637.7 138.1,633.7 137.5,631.7 137.3,629.7 137.6,626.7 138.1,625.7 138,617.7 137.3,616.7 137,614.7 135.1,609.7 133.2,606.7 131.5,604.8 129.5,603.9 128.5,604.3 126.7,606.7 122.3,614.7 120.5,616.5 119.5,616.7 111.5,615.1 104.9,612.7 103.2,611.7 99.4,607.7 96.4,605.7 96.1,604.7 100.6,599.7 106.9,594.7 115.5,589.9 125.5,585.5 129.5,583.1 131.5,580.7 134.5,575.7 136.3,573.7 137.1,571.7ZM155.4,659.7 161.5,659.3 176.5,659.5 177.5,660.1 192.5,660.4 193.5,661 202.5,661.3 203.5,661.4 204.5,662 211.5,662.4 212.5,663 219.5,663.5 220.5,664.1 225.5,664.5 226.5,665.1 230.5,665.6 231.5,666.2 233.5,666.5 234.5,667.2 236.5,667.7 237.6,668.7 237.6,669.7 235.5,670.5 230.5,670.9 203.5,671.2 181.5,670.8 161.5,669.4 155.5,668.4 153.5,667.3 152.4,665.7 152.1,663.7 152.5,661.7 153.5,660.7Z"/><path fill="#1a1a1a" d="M135.7,569.7 171.7,569.7 170.5,571.5 170.5,572.7 172.1,576.7 173,580.7 174,586.7 174.3,591.7 172.8,607.7 171,616.7 169.2,620.7 166.5,623.9 157.5,629.9 156.5,630.2 154,632.7 152.8,635.7 152.1,636.7 151.8,638.7 151,639.7 150.6,641.7 149.5,643.1 146.5,642.9 143.6,640.7 140.9,637.7 138.4,633.7 137.5,629.7 138.4,622.7 138.1,617.7 135.2,609.7 133.4,606.7 130.5,603.8 128.7,603.7 127.6,604.7 121.8,614.7 120.5,616 119.5,616.2 111.5,614.5 105.5,612.4 104.3,611.7 100.9,607.7 98.1,605.7 97.3,604.7 101.8,599.7 108.1,594.7 115.5,590.5 126.5,585.4 129.5,583.7 131.5,581.2 136.9,572.7 137.3,571.7ZM155.9,659.7 163.5,659.4 176.5,659.7 177.5,660.1 192.5,660.6 193.5,661.1 202.5,661.5 204.5,662.1 211.5,662.5 212.5,663.1 219.5,663.6 220.5,664.2 225.5,664.6 226.5,665.2 230.5,665.7 236,667.7 237.4,668.7 237.4,669.7 234.5,670.5 229.5,670.8 202.5,671.1 178.5,670.5 161.5,669.2 155.5,668.1 153.5,667 152.6,665.7 152.2,663.7 152.7,661.7 153.5,660.9Z"/><path fill="#1e1e1e" d="M136,569.7 171.4,569.7 170.5,570.9 170.2,572.7 171.8,576.7 172.7,580.7 173.8,587.7 174,591.7 172.4,608.7 170.7,616.7 169,620.7 166.4,623.7 157.5,629.8 156.5,630.1 153.9,632.7 152,636.7 151.7,638.7 150.9,639.7 150.5,641.7 149.5,643 148.5,643.2 146.5,642.8 143.9,640.7 141.1,637.7 138.7,633.7 137.7,629.7 138.5,622.7 138.2,617.7 135.3,609.7 131.5,604.2 129.5,603.1 128,603.7 125.8,606.7 121.5,614.4 120.5,615.4 119.5,615.8 111.5,614 105.5,611.8 101.5,607 98.5,604.7 104.1,598.7 109.3,594.7 116.5,590.5 129.5,584.2 131.5,581.7 137.2,572.7 137.4,571.7ZM157.2,659.7 176.5,659.8 177.5,660.2 190.5,660.6 193.5,661.2 203.5,661.7 204.5,662.2 211.5,662.6 212.5,663.2 218.5,663.6 220.5,664.2 225.5,664.8 226.5,665.3 229.7,665.7 233.1,666.7 237.1,668.7 236.9,669.7 233.5,670.4 214.5,671 184.5,670.6 162.5,669.1 155.5,667.9 153.5,666.7 152.8,665.7 152.3,663.7 152.9,661.7 155.5,660Z"/><path fill="#222222" d="M136.3,569.7 171,569.7 170,571.7 170,572.7 171.6,576.7 172.3,579.7 173.3,585.7 173.7,591.7 172.2,608.7 170.4,616.7 168.7,620.7 166.1,623.7 156.5,630 153.8,632.7 151.9,636.7 151.6,638.7 150.9,639.7 150.3,641.7 149.5,642.9 148.5,643.1 146.7,642.7 143.5,640.1 140.7,636.7 138.9,633.7 137.9,629.7 138.7,622.7 138.2,617.7 135.4,609.7 133.5,606.3 131.5,603.8 129.5,602.8 128.5,602.8 127.5,603.7 125.3,606.7 121.5,613.6 120.5,614.9 119.5,615.3 112.1,613.7 111.5,612.9 110.7,612.7 110.7,594.7 111.5,594.5 112.2,593.7 117.1,590.7 129.5,584.7 131.5,582.2 137.4,572.7 137.5,571.7ZM161.2,659.7 175.5,659.9 177.5,660.3 189.5,660.6 210.5,662.6 212.5,663.2 219.5,663.9 229,665.7 233.5,667 236.7,668.7 236.2,669.7 235.5,669.9 227.5,670.6 192.5,670.7 178.5,670.2 164.5,669.2 156.5,668 153.8,666.7 153.1,665.7 152.5,663.7 152.6,662.7 153.5,661.4 156.5,659.9Z"/><path fill="#262626" d="M136.6,569.7 170.7,569.7 169.7,571.7 169.8,572.7 171.3,576.7 172,579.7 173.2,586.7 173.5,591.7 171.9,608.7 170.2,616.7 168.4,620.7 165.8,623.7 156.5,629.9 153.7,632.7 151.8,636.7 151.5,638.7 150.2,641.7 149.5,642.8 148.5,643 146.5,642.4 143.3,639.7 140.9,636.7 139.1,633.7 138.1,629.7 138.8,622.7 138.3,617.7 135.5,609.5 133.5,605.9 131.5,603.5 130.5,602.8 128.5,602.3 125.4,605.7 120.5,614.1 119.5,614.8 118.5,614.7 117.9,613.7 117.9,591.7 118.4,590.7 129.5,585.3 130.5,584.2 137.6,572.7 137.7,571.7ZM154.9,660.7 156.5,660.1 158.5,659.9 171.5,659.9 190.5,660.8 203.5,661.9 225.5,665.1 231.9,666.7 236.3,668.7 235.3,669.7 232.5,670.1 213.5,670.8 187.5,670.5 165.5,669.1 157.5,668 154.1,666.7 153.3,665.7 152.6,663.7 153.4,661.7Z"/><path fill="#2a2a2a" d="M137,569.7 170.1,569.7 169.5,572.7 171.1,576.7 172.7,584.7 173.2,592.7 172.2,604.7 171,612.7 169.3,618.7 168.2,620.7 165.5,623.7 156.5,629.8 153.6,632.7 150,641.7 149.5,642.7 148.5,642.9 146.5,642.2 143.6,639.7 141.1,636.7 138.9,632.7 138.4,629.7 139,622.7 138.4,617.7 136.5,611.5 133.5,605.5 131.5,603.1 128.5,601.7 127.5,602.1 125.9,603.7 125.5,604.8 124.3,605.7 124.3,588.7 125.5,587.7 128.7,586.7 128.7,589.7 129.5,590.8 129.8,585.7 137.8,572.7 137.9,571.7ZM155.3,660.7 159.5,660 172.5,660.1 190.5,660.9 202.5,661.9 225.5,665.2 231.5,666.7 235.9,668.7 234.5,669.6 230.5,670.1 212.5,670.7 187.5,670.3 166.5,669 158.5,668 154.5,666.8 153.5,665.7 152.8,663.7 153.5,661.9Z"/><path fill="#2e2e2e" d="M137.4,569.7 169.3,569.7 169.3,572.7 170.9,576.7 172.1,582.7 173,589.7 172.8,595.7 171.2,610.7 169.1,618.7 167.9,620.7 165.5,623.5 156.5,629.7 154.4,631.7 152.5,634.7 149.8,641.7 149.2,642.7 148.5,642.9 146.5,642 143.8,639.7 141.4,636.7 139.6,633.7 138.8,631.7 138.6,629.7 139.1,620.7 137.5,613.9 135.5,608.7 133.5,605.2 131.5,602.8 129.6,601.7 129.8,595.7 131.1,584.7 138,572.7 138.1,571.7ZM155.7,660.7 161.5,660.1 173.5,660.2 190.5,661 202.5,662 224.5,665.2 230.8,666.7 235.5,668.7 233.5,669.6 229.5,670 210.5,670.6 188.5,670.3 167.5,669 159.5,668 156.5,667.4 154.5,666.5 153.5,665.3 153,663.7 153.5,662.2Z"/><path fill="#323232" d="M138,569.7 168.5,569.7 169.3,570.7 169.1,572.7 170.9,577.7 171.9,582.7 172.7,589.7 172.6,594.7 171.2,609.7 169.2,617.7 167.7,620.7 165.5,623.2 156.5,629.6 154.2,631.7 152.9,633.7 149.7,641.7 148.5,642.8 146.5,641.9 144,639.7 141.6,636.7 139.8,633.7 138.8,630.7 139.3,621.7 138.2,615.7 136.5,610.6 134.5,606.5 132.5,603.5 130.4,601.7 130.6,595.7 131.8,584.7 132.4,582.7 138.2,572.7ZM156.2,660.7 162.5,660.3 174.5,660.4 190.5,661.1 202.5,662.1 224.5,665.3 230.5,666.8 235,668.7 232.5,669.6 227.5,670 206.5,670.5 185.5,670 164.5,668.5 156.5,667.2 154.5,666.3 153.4,664.7 153.4,662.7 154.3,661.7Z"/><path fill="#363636" d="M138.2,570.7 138.7,569.7 167.7,569.7 168.5,570 169.1,570.7 168.9,572.7 170.7,577.7 171.7,582.7 172.5,593 171.1,608.7 169,617.7 167.5,620.6 165.5,623 156.5,629.5 154,631.7 152.7,633.7 149.5,641.7 148.5,642.7 146.5,641.7 144.2,639.7 141.8,636.7 140,633.7 139,630.7 139.5,621.7 138.5,616.3 135.5,608 133.5,604.5 131.1,601.7 132.7,583.7 133.3,581.7 135.3,577.7 138.4,572.7ZM157.1,660.7 164.5,660.4 175.5,660.5 201.5,662.1 223.5,665.3 229.6,666.7 234.6,668.7 232.5,669.4 225.5,670 206.5,670.4 186.5,669.9 165.5,668.5 157.5,667.3 154.5,666.1 153.6,664.7 153.4,663.7 153.6,662.7 155.5,661.2Z"/><path fill="#3a3a3a" d="M138.5,570.7 139.5,569.7 166.8,569.7 168.5,570.2 168.9,570.7 168.7,572.7 170.5,577.8 171.5,583.3 171.9,591.7 171.7,600.7 170.8,609.7 168.8,617.7 167.9,619.7 165.5,622.7 156,629.7 153.8,631.7 152.6,633.7 149.4,641.7 148.5,642.6 146.5,641.5 144.4,639.7 142,636.7 140.2,633.7 139.2,630.7 139.6,621.7 138.5,615.7 135.5,607.6 131.7,601.7 133.7,581.7 135.5,577.8 138.5,572.9ZM158.8,660.7 167.5,660.5 180.5,660.8 201.5,662.2 222.5,665.2 229,666.7 234.1,668.7 232.5,669.2 224.5,669.9 205.5,670.3 181.5,669.6 165.5,668.4 156.5,666.9 154.4,665.7 153.6,663.7 153.8,662.7 156.5,660.9Z"/><path fill="#3e3e3e" d="M138.7,570.7 140.3,569.7 166.5,569.8 168.7,570.7 168.5,572.7 170.5,578.9 171.5,600.7 170.6,609.7 168.6,617.7 167.5,620 165.3,622.7 155.7,629.7 153.7,631.7 152.4,633.7 149.2,641.7 148.5,642.4 146.5,641.3 143.7,638.7 141.5,635.7 140,632.7 139.3,629.7 139.7,621.7 138.9,616.7 136.5,609.4 132.4,601.7 132.9,594.7 134.6,580.7 135.5,578.3 138.5,573.4ZM161.7,660.7 183.5,661 202.5,662.5 222.5,665.3 228.5,666.7 233.6,668.7 227.5,669.6 213.5,670.1 197.5,670.1 181.5,669.5 166.5,668.3 158.5,667.2 155.5,666.4 154,664.7 153.7,663.7 154,662.7 155.5,661.5 157.5,660.9Z"/><path fill="#424242" d="M138.9,570.7 139.5,570.1 141.1,569.7 165.2,569.7 168.4,570.7 168.2,572.7 169.6,576.7 170.3,585.7 170.9,600.7 170.6,608.7 169.6,613.7 168.5,617.5 167.5,619.7 165.1,622.7 155.5,629.7 153.5,631.7 152.3,633.7 149,641.7 148.5,642.2 146.5,641.1 143.9,638.7 141.7,635.7 140.2,632.7 139.5,629.9 139.9,622.7 139,616.7 136.5,609 133.2,602.7 133.4,595.7 135.6,578.7 138.6,573.7 138.9,572.7ZM155.6,661.7 156.5,661.2 159.5,660.9 170.5,660.8 184.5,661.2 198.5,662.1 209.5,663.4 221.5,665.3 227.8,666.7 233.1,668.7 222.5,669.7 205.5,670.1 184.5,669.5 168.5,668.4 158.5,667.1 155.5,666.2 154.5,665.2 153.9,663.7 154.2,662.7Z"/><path fill="#464646" d="M139.1,570.7 142,569.7 164.3,569.7 167.9,570.7 167.9,572.7 169,576.7 170.5,607.7 169.5,613.4 168.5,616.7 166.6,620.7 164.8,622.7 155.5,629.6 153.3,631.7 148.5,642.1 146.5,641 144.1,638.7 141.9,635.7 140.4,632.7 139.8,629.7 140.1,622.7 139.4,617.7 137.3,610.7 133.7,602.7 134.2,594.7 136.2,578.7 136.5,577.6 138.8,573.7ZM155.9,661.7 159.5,661.1 170.5,660.9 184.5,661.3 197.5,662.2 209.5,663.5 220.5,665.2 227.2,666.7 232.6,668.7 222.5,669.6 204.5,669.9 184.5,669.4 169.5,668.4 158.5,666.9 155.5,666 154.5,664.9 154.1,663.7 154.4,662.7Z"/><path fill="#4a4a4a" d="M139.3,570.7 142.8,569.7 163.5,569.7 167.4,570.7 168,574.7 169,586.7 169.8,605.7 169.2,612.7 167.3,618.7 165.6,621.7 153.5,631.3 152,633.7 150.1,638.7 148.5,641.9 145.3,639.7 141.5,634.7 140.2,629.7 140.2,621.7 139.5,617.5 137.5,610.8 134.4,603.7 134.8,594.7 136.9,578.7 137.4,576.7 139,573.7ZM156.2,661.7 161.5,661.1 171.5,661 197.5,662.2 208.5,663.5 220.5,665.3 227.5,667 231.7,668.7 220.5,669.6 203.5,669.8 184.5,669.3 169.5,668.3 158.5,666.8 155.5,665.9 154.2,663.7 154.6,662.7Z"/><path fill="#4e4e4e" d="M139.5,570.7 143.7,569.7 162.5,569.7 166.8,570.7 167.1,572.7 168.3,585.7 169.2,604.7 169.2,608.7 168.6,612.7 166.7,618.7 165.2,621.7 163.1,623.7 156.2,628.7 153.5,631.1 151.8,633.7 148.5,641.7 146.6,640.7 144.5,638.7 141.9,634.7 140.4,628.7 140.3,621.7 139.5,616.9 137.6,610.7 134.8,603.7 135.3,595.7 137,582.7 138,576.7 139.4,572.7ZM156.5,661.7 162.5,661.2 172.5,661.1 197.5,662.3 210.5,663.8 220.5,665.5 228.5,667.4 230.5,668.7 219.5,669.5 203.5,669.7 185.5,669.3 169.5,668.2 159,666.7 155.5,665.6 154.4,663.7 154.9,662.7Z"/><path fill="#525252" d="M140.1,570.7 144.6,569.7 162.5,569.9 166.1,570.7 166.7,575.7 167.8,587.7 168.6,605.7 168.6,609.7 167.7,613.7 166.1,618.7 164.6,621.7 162.9,623.7 155.5,629.1 152.8,631.7 148.5,641.4 147.5,641.2 145.7,639.7 142.5,635.7 140.5,627.8 140.4,621.7 139.6,616.7 135.4,604.7 136.4,591.7 138.6,576.7ZM157.3,661.7 164.5,661.2 174.5,661.2 197.5,662.4 210.5,663.9 221.1,665.7 228.8,667.7 229.1,668.7 216.5,669.5 200.5,669.6 184.5,669.1 169.5,668.1 160,666.7 155.5,665.1 154.8,663.7 155.2,662.7Z"/><path fill="#565656" d="M140.7,570.7 145.7,569.7 160.5,569.7 165.3,570.7 166.4,578.7 168.1,606.7 168,609.7 167.1,613.7 165.5,618.7 163.5,622.7 162.6,623.7 154.5,629.7 152.7,631.7 148.5,641.1 147.5,641 145.9,639.7 144,637.7 142.9,635.7 142,630.7 140.6,626.7 140.6,621.7 139.7,616.7 136.3,606.7 136,604.7 137,591.7 139.2,577.7ZM158.4,661.7 174.5,661.3 196.5,662.4 216.5,665 228.2,667.7 227.5,668.7 209.5,669.5 189.5,669.2 172.5,668.2 161.2,666.7 158,665.7 155.5,664.4 155.2,663.7 155.5,662.7Z"/><path fill="#5a5a5a" d="M141.3,570.7 146.8,569.7 159.4,569.7 164.6,570.7 165.9,580.7 167.5,606.7 167.4,609.7 166.6,613.7 165,618.7 163,622.7 162.3,623.7 154.5,629.6 152.5,631.7 148.5,640.8 147.5,640.8 146.5,640.1 143.6,636.7 142.5,630.7 140.9,625.7 140.6,620.7 139.6,615.7 136.5,606.7 137.5,592.7 139.5,579.7ZM159.9,661.7 176.5,661.5 196.5,662.5 215.5,664.9 227.6,667.7 226.4,668.7 208.5,669.4 189.5,669.2 172.5,668.1 162.4,666.7 158.5,665.4 155.9,663.7 156.2,662.7Z"/><path fill="#5e5e5e" d="M142.1,570.7 148.1,569.7 158,569.7 163.8,570.7 165.9,587.7 166.9,608.7 166.3,612.7 164.4,618.7 161.8,623.7 154.5,629.4 152.5,631.5 148.5,640.4 147.5,640.6 144.4,637.7 143.1,630.7 141.3,625.7 139.8,615.7 137.1,606.7 138.1,592.7 140.2,579.7ZM161.7,661.7 178.5,661.6 199.5,662.9 216.5,665.2 227.1,667.7 224.9,668.7 207.5,669.4 189.5,669.1 172.5,668 163.6,666.7 159.5,665.3 157.1,663.7 157.2,662.7Z"/><path fill="#626262" d="M142.9,570.7 149.9,569.7 156.5,569.7 163,570.7 164.5,580.1 165.5,590.7 166.4,608.7 165.7,612.7 163.9,618.7 160.5,624.7 155.2,628.7 152.5,631.3 151.1,633.7 148.5,640.1 147.5,640.4 145.5,638.7 144.8,637.7 143.7,630.7 141.5,625 139.9,615.7 137.6,607.7 138.6,593.7 140.9,579.7ZM164.2,661.7 184.5,661.9 199.5,662.9 216.5,665.3 226.5,667.7 223.4,668.7 212.5,669.2 197.5,669.2 183.5,668.7 170.5,667.7 164.8,666.7 160.5,665.3 158.2,663.7 158.5,662.7Z"/><path fill="#666666" d="M143.7,570.7 148.5,570 153.5,569.7 162.2,570.7 164.3,584.7 165.6,602.7 165.6,610.7 164.3,615.7 162.5,620.5 160,624.7 152.5,631.1 151,633.7 148.5,639.7 147.5,640.2 145.9,638.7 145.5,637.7 144,629.7 141.5,623.8 139.9,614.7 138.5,610.7 138.2,607.7 138.6,598.7 139.3,592.7 141.5,580.1ZM168.5,661.7 185.5,662 199.5,663 216.5,665.4 225.8,667.7 221.7,668.7 211.5,669.1 197.5,669.1 183.5,668.6 171.2,667.7 166,666.7 161.5,665.2 159.4,663.7 159.7,662.7 160.5,662.5Z"/><path fill="#6a6a6a" d="M144.6,570.7 153.5,569.9 161.3,570.7 163.7,584.7 165.1,604.7 165.2,608.7 164.8,611.7 161.8,620.7 158.6,625.7 153.6,629.7 151.9,631.7 148.5,639.4 147.5,639.9 146.4,638.7 144.6,629.7 141.5,622.5 141,618.7 138.8,609.7 139,601.7 139.8,593.7 142.3,579.7ZM161,662.7 165.5,662 170.5,661.8 190.5,662.3 199.5,663.1 211.6,664.7 221.5,666.6 224.7,667.7 220,668.7 204.5,669.1 188.5,668.8 172.5,667.7 163.7,665.7 161.5,664.7 160.5,663.7Z"/><path fill="#6e6e6e" d="M145.5,570.7 153.5,570.1 160.4,570.7 161.8,576.7 163,584.7 164.6,606.7 164,612.7 161.3,620.7 158.2,625.7 153.5,629.6 151.8,631.7 150.1,634.7 148.5,639 147.5,639.2 145.3,629.7 141.5,621.1 139.7,612.7 139.3,608.7 139.7,599.7 140.6,592.7 143,579.7ZM162.2,662.7 167.5,662.1 176.5,661.9 186.5,662.1 197.5,662.9 216.5,665.6 221.4,666.7 223.1,667.7 218,668.7 203.5,669 187.5,668.6 173.5,667.7 164.8,665.7 162.6,664.7 161.7,663.7Z"/><path fill="#727272" d="M146.5,570.7 153.5,570.2 159.3,570.7 161.1,577.7 162.4,585.7 164.1,606.7 163.4,612.7 160.7,620.7 157.5,625.7 152.2,630.7 149.8,634.7 149.5,636.2 148.7,636.7 148.5,637.5 146.1,629.7 141.6,619.7 140.5,614.3 139.9,608.7 140.4,598.7 141.4,591.7 143.8,579.7ZM163.5,662.7 168.5,662.2 177.5,662 197.5,663 216.2,665.7 220.8,666.7 221.5,667.7 215.8,668.7 203.5,668.9 187.5,668.6 174.9,667.7 165.9,665.7 163.7,664.7 162.8,663.7Z"/><path fill="#767676" d="M147.7,570.7 153.5,570.4 158.1,570.7 160,576.7 161.5,584.2 162.6,593.7 163.5,606.7 163.1,611.7 160.5,619.8 155.5,627.6 154.5,628.1 151.9,630.7 149.5,634.6 148.5,633.3 142.5,620.6 141.2,614.7 140.5,608.7 141,598.7 142.2,590.7 144.9,578.7ZM164.9,662.7 176.5,662 188.5,662.4 204.5,663.9 220.2,666.7 219.8,667.7 213.1,668.7 199.5,668.8 184.5,668.3 175.5,667.6 167.1,665.7 164.8,664.7 164,663.7Z"/><path fill="#7a7a7a" d="M149.2,570.7 156.7,570.7 158.1,573.7 159.6,578.7 161.1,586.7 162.9,606.7 162.5,611.7 159.9,619.7 155.5,626.5 150.5,631.7 149.5,631.5 148.5,630.3 143.2,620.7 141.8,614.7 141.1,608.7 141.8,597.7 143.5,587.9 146.4,576.7ZM166.2,662.7 179.5,662.1 196.5,663 209,664.7 219.6,666.7 218.1,667.7 209.5,668.7 184.5,668.2 176.5,667.6 168.2,665.7 166,664.7 165.2,663.7Z"/><path fill="#7e7e7e" d="M151.9,570.7 153.9,570.7 155.5,571.9 157.5,575.5 158.6,578.7 160,584.7 161,591.7 162.3,608.7 161.4,613.7 158.8,620.7 156.5,624.1 153.5,627.6 151.5,629.2 150.5,629.4 149.5,629.1 147.5,627.1 145.5,624 143.5,619.8 142.1,612.7 141.7,606.7 142.7,595.7 145.5,582.9 148.5,574.6 150.5,571.7ZM167.7,662.7 180.5,662.2 196.5,663.1 212.5,665.4 218.2,666.7 216.3,667.7 206.5,668.6 184.5,668.1 176.5,667.4 169.4,665.7 167.1,664.7 166.4,663.7Z"/><path fill="#818181" d="M151.4,573.7 152.5,573.2 153.5,573.3 155.5,574.9 157,577.7 158.4,581.7 160.5,593.3 161.7,608.7 160.5,614.5 158.1,620.7 155.5,624.3 153.5,626.4 151.5,627.6 150.5,627.7 149.5,627.4 147.5,625.6 144.5,620.6 142.8,613.7 142.3,607.7 143.2,596.7 145.5,586.2 148.5,577.5 149.5,575.7ZM169.2,662.7 180.5,662.2 196.5,663.1 213.5,665.6 216.7,666.7 214.3,667.7 205.5,668.5 184.5,668.1 177.5,667.4 171.5,666.1 168.3,664.7 167.7,663.7Z"/><path fill="#858585" d="M151.2,576.7 152.5,576.1 154.5,576.8 156.4,579.7 157.5,582.5 159.7,592.7 161,607.7 160.3,612.7 157.5,620.4 155.5,623.2 153.5,625.2 151.5,626.2 150.5,626.3 149.5,626 147.5,624.2 144.9,619.7 143.5,613.7 143,607.7 143.8,597.7 145.5,589.5 148.5,580.5 149.5,578.6ZM170.8,662.7 181.5,662.3 196.5,663.2 213.3,665.7 215.1,666.7 212.1,667.7 203.5,668.4 184.5,668 177.5,667.3 171.5,665.9 169,664.7 168.8,663.7Z"/><path fill="#898989" d="M151.2,579.7 152.5,579 153.5,579.2 154.5,580 155.5,581.3 156.9,584.7 159.1,594.7 160.4,607.7 159.7,612.7 157.1,619.7 155.5,622 153.5,624 151.5,624.9 150.5,624.9 149.5,624.6 147.5,622.8 145.6,619.7 144.2,613.7 143.6,607.7 144.4,598.7 145.5,592.7 148.5,583.7 149.5,581.7ZM172.5,662.7 182.5,662.4 196.5,663.3 212.7,665.7 213.4,666.7 209.7,667.7 201.5,668.3 189.5,668.2 179.5,667.4 172.5,666.1 169.6,664.7 169.6,663.7 170.5,663.1Z"/><path fill="#8d8d8d" d="M151.3,582.7 152.5,582.2 153.5,582.4 154.5,583.3 156.5,587.3 158.5,596 159.6,607.7 158.9,612.7 156.8,618.7 154.5,621.9 151.5,623.6 149.5,623.2 148.5,622.5 146.5,619.7 144.9,613.7 144.4,607.7 145.2,598.7 146.5,592.5 148.5,586.9 149.5,584.9ZM173.4,662.7 181.5,662.4 194.5,663.1 204.5,664.3 211.7,665.7 211.6,666.7 204.5,668.1 195.5,668.3 185.5,667.9 177.5,667 172.5,665.9 170,664.7 170.1,663.7 170.5,663.4Z"/><path fill="#919191" d="M152,585.7 153.5,585.9 154.5,586.9 156.5,591.4 158,598.7 158.9,607.7 158.1,612.7 155.8,618.7 153.5,621.4 151.5,622.3 149.4,621.7 148.3,620.7 147.1,618.7 145.6,612.7 145.1,607.7 146,598.7 147.5,592.7 149.5,588.2 150.5,586.7ZM174.3,662.7 182.5,662.5 195.5,663.3 204.5,664.4 210.2,665.7 209.8,666.7 205.5,667.8 192.5,668.2 178.5,667.1 173.5,666 170.5,664.7 170.6,663.7Z"/><path fill="#959595" d="M150.9,589.7 152.5,589 153.5,589.4 155.5,592.7 157,598.7 158,607.7 157.5,611.9 155.5,617.1 153.5,619.9 151.5,620.8 149.5,620.2 148.3,618.7 146.7,613.7 146,608.7 146.2,603.7 147.5,596.5 149.5,591.4ZM175.1,662.7 183.5,662.6 196.5,663.4 205.5,664.7 209.1,665.7 209,666.7 202.5,668 188.5,667.9 178.5,667 173.5,665.9 170.9,664.7 171.1,663.7Z"/><path fill="#999999" d="M151.4,592.7 152.5,592.5 153.5,593.1 154.9,595.7 156.5,602 157.1,607.7 156.8,610.7 155.5,614.5 153.5,617.8 152.5,618.7 151.5,619 150.5,618.8 149.5,617.8 148.5,615.9 147.3,611.7 146.9,607.7 147.4,602.7 148.5,597.5 149.5,595ZM176,662.7 183.5,662.7 196.5,663.5 205.2,664.7 208.4,665.7 208.4,666.7 205.5,667.5 201.5,667.9 188.5,667.9 178.5,666.9 173.5,665.7 171.4,664.7 171.7,663.7Z"/><path fill="#9d9d9d" d="M151.4,596.7 152.5,596.6 153.5,597.5 154.5,599.7 155.5,603.7 156,607.7 155.6,610.7 154.5,613.6 152.5,615.9 151.5,616.2 150.5,615.7 149.2,613.7 148.3,610.7 148,607.7 148.5,603.7 149.5,599.7 150.5,597.6ZM177.5,662.7 187.5,662.9 197.5,663.7 204.8,664.7 207.9,665.7 207.9,666.7 201.5,667.8 188.5,667.8 178.5,666.7 173.9,665.7 171.9,664.7 172.2,663.7Z"/><path fill="#a1a1a1" d="M151,602.7 151.5,602.1 152.5,602.1 153.5,603.4 154.5,607.7 154.2,609.7 153.5,611.5 152.5,612.5 151.5,612.7 150.4,611.7 149.5,608.7 149.8,605.7ZM172.7,663.7 178.5,662.8 192.5,663.2 203.5,664.5 207.4,665.7 207.3,666.7 202.5,667.6 188.5,667.7 180.5,667 174.5,665.7 172.3,664.7Z"/><path fill="#a5a5a5" d="M173.3,663.7 179.5,662.8 192.5,663.3 203.5,664.6 206.9,665.7 206.7,666.7 201.5,667.6 188.5,667.6 180.5,666.9 174.8,665.7 172.8,664.7Z"/><path fill="#a9a9a9" d="M173.9,663.7 179.5,662.9 192.5,663.3 203.5,664.6 206.4,665.7 206,666.7 201.5,667.5 188.5,667.6 180.5,666.8 175.3,665.7 173.2,664.7Z"/><path fill="#adadad" d="M174.4,663.7 180.5,663 192.5,663.4 203.4,664.7 205.9,665.7 205.4,666.7 200.5,667.5 187.5,667.4 180.5,666.7 175.7,665.7 173.7,664.7Z"/><path fill="#b1b1b1" d="M175,663.7 181.5,663.1 192.5,663.4 202.9,664.7 205.4,665.7 204.8,666.7 200.5,667.4 187.5,667.3 181.1,666.7 176.2,665.7 174.2,664.7Z"/><path fill="#b5b5b5" d="M175.6,663.7 181.5,663.1 192.5,663.5 202.4,664.7 204.8,665.7 204.1,666.7 200.5,667.2 187.5,667.3 181.7,666.7 176.7,665.7 174.7,664.7Z"/><path fill="#b9b9b9" d="M176.3,663.7 182.5,663.2 192.5,663.5 201.9,664.7 204.3,665.7 203.4,666.7 199.5,667.2 186.5,667.1 177.2,665.7 175.2,664.7Z"/><path fill="#bdbdbd" d="M177,663.7 182.5,663.3 192.5,663.5 201.3,664.7 203.8,665.7 202.7,666.7 199.5,667.1 186.5,667 177.7,665.7 175.6,664.7Z"/><path fill="#c1c1c1" d="M177.7,663.7 183.5,663.3 193.5,663.7 200.8,664.7 203.2,665.7 201.9,666.7 198.5,667.1 186.5,667 178.2,665.7 176.2,664.7Z"/><path fill="#c5c5c5" d="M178.4,663.7 184.5,663.4 193.3,663.7 200.2,664.7 202.7,665.7 201.1,666.7 197.5,667 185.5,666.8 178.7,665.7 176.7,664.7Z"/><path fill="#c9c9c9" d="M179.2,663.7 192.7,663.7 199.6,664.7 202.1,665.7 200.2,666.7 197.5,666.9 185.5,666.7 179.2,665.7 177.2,664.7Z"/><path fill="#cdcdcd" d="M180.1,663.7 191.9,663.7 199,664.7 201.5,665.7 199.2,666.7 189.5,666.9 180.5,665.8 177.7,664.7Z"/><path fill="#d1d1d1" d="M181.2,663.7 191.5,663.8 198.4,664.7 200.9,665.7 198.1,666.7 189.5,666.8 180.5,665.7 178.3,664.7Z"/><path fill="#d5d5d5" d="M182.5,663.7 192.5,664 197.8,664.7 200.2,665.7 196.7,666.7 188.6,666.7 180.9,665.7 178.9,664.7Z"/><path fill="#d9d9d9" d="M185.1,663.7 197.1,664.7 199.5,665.7 195.5,666.6 190.5,666.7 181.5,665.7 179.5,664.7 181.5,664.1Z"/><path fill="#dddddd" d="M180.2,664.7 183.5,664 188.5,663.9 196.4,664.7 198.8,665.7 195.5,666.4 189.5,666.5 182.2,665.7Z"/><path fill="#e1e1e1" d="M180.9,664.7 184.5,664.1 189.5,664.1 195.6,664.7 198.1,665.7 194.5,666.3 188.5,666.3 182.9,665.7Z"/><path fill="#e5e5e5" d="M181.6,664.7 185.5,664.2 189.5,664.2 194.8,664.7 197.2,665.7 193.5,666.2 188.5,666.2 183.7,665.7Z"/><path fill="#e9e9e9" d="M182.5,664.7 185.5,664.3 190.5,664.4 193.8,664.7 196.3,665.7 192.5,666.1 187.5,666 184.5,665.7Z"/><path fill="#ededed" d="M183.5,664.7 187.5,664.4 192.5,664.7 195.2,665.7 191.5,666 186.5,665.8 185.5,665.7Z"/><path fill="#f1f1f1" d="M184.7,664.7 191.4,664.7 193.8,665.7 186.7,665.7Z"/><path fill="#f5f5f5" d="M187,664.7 189,664.7 189.5,665.2 191.6,665.7 189,665.7Z"/></g></g><g clip-path="url(#c6)"><g filter="url(#j6)"><rect x="400.0" y="136.3" width="201.0" height="105.0" fill="#000"/><path fill="#060606" d="M462.9,136.8 542.2,136.8 541.5,137.5 540.3,137.8 540.4,140.8 541.3,141.8 541.4,143.8 542.3,144.8 542.4,145.8 543.3,146.8 543.4,148.8 544.4,149.8 544.4,150.8 545.3,151.8 545.4,152.8 546.3,153.8 546.4,154.8 547.3,155.8 547.4,156.8 549.3,159.8 549.4,160.8 550.3,161.8 550.4,162.8 552.2,164.8 552.3,165.8 553.2,166.8 553.3,167.8 555.2,169.8 555.3,170.8 559.2,174.8 559.3,175.8 562.2,178.8 562.3,179.8 564.1,182.8 564.3,186.8 564.2,188.8 563.3,189.8 563.2,190.8 561.3,192.8 561.2,193.8 550.5,204.4 544.5,209.8 540.5,214.6 540.3,219.8 542.2,221.8 542.4,222.8 543.5,223 546.5,225.9 547.5,225.9 548.5,226.9 549.5,227 551.5,228.9 552.5,228.9 553.5,229.9 554.5,229.9 555.5,230.9 556.5,231 558.5,232.9 559.5,233 561.3,234.8 560.5,235.6 559.5,235.7 558.5,236.6 532.5,236.7 531.5,235.7 529.5,235.7 528.5,234.7 526.5,234.7 525.5,233.7 524.5,233.6 523.5,232.7 522.5,232.6 521.5,231.6 519.5,231.5 518.8,230.8 518.7,217.8 518.1,216.8 517.9,214.8 517.6,197.8 516.6,196.8 516.6,194.8 515.6,193.8 515.6,192.8 513.5,190.7 490.5,190.6 489.5,189.7 474.5,189.6 473.5,188.7 463.5,188.5 462.5,187.7 457.5,187.5 456.5,186.6 451.5,186.5 450.5,185.6 445.5,185.4 444.5,184.6 440.5,184.5 439.5,183.6 434.5,183.4 433.5,182.6 428.5,182.3 427.5,181.5 423.5,181.3 422.5,180.5 419.5,180.3 418.5,179.5 416.5,179.4 415.5,178.5 413.5,178.3 412.5,177.5 405.5,175.1 403.5,173.8 402.9,171.8 403.9,169.8 404.8,168.8 409.5,165.2 417.5,160 418.5,159.8 420.5,158.1 423.5,156.9 425.5,155.2 426.5,155 427.5,154.1 428.5,154 430.5,152.3 431.5,152.1 432.5,151.3 433.5,151.1 434.5,150.3 435.5,150.1 436.5,149.3 437.5,149.1 440.5,147.3 442.5,147.1 445.5,145.3 447.5,145.1 448.5,144.3 450.5,144.1 451.5,143.3 453.5,143.1 454.5,142.3 457.5,142.1 458.5,141.3 461.5,141.1 462.5,140.2 464.5,140.1 465.8,138.8 464.5,137.5 463.5,137.4ZM536.5,183.6 536.2,184.8 535.3,185.8 535.4,192.8 537.5,195 538.5,195 539.7,193.8 539.8,192.8 540.7,191.8 540.7,186.8 539.8,185.8 539.7,184.8 538.8,183.8Z"/><path fill="#0a0a0a" d="M463.3,136.8 542,136.8 540.2,137.8 540.2,140.8 541.1,141.8 541.3,143.8 543.1,146.8 543.3,148.8 544.2,149.8 544.3,150.8 545.2,151.8 545.3,152.8 546.2,153.8 546.3,154.8 547.1,155.8 547.2,156.8 549.1,159.8 549.2,160.8 550.1,161.8 550.2,162.8 551.9,164.8 553.1,167.8 554.8,169.8 555,170.8 558.9,174.8 559.1,175.8 561.8,178.8 563.8,182.8 564,186.8 563.8,188.8 562.9,190.8 561.1,192.8 560.9,193.8 550.5,204 544.3,208.8 540.2,214.8 540.2,219.8 541.9,221.8 542.2,222.8 543.5,223.2 546.5,226 547.5,226.1 548.5,227 549.5,227.1 551.5,229 552.5,229.1 553.5,230 554.5,230.1 555.5,231 556.5,231.1 558.5,233 559.5,233.1 561.2,234.8 560.5,235.5 559.5,235.6 558.5,236.5 557.5,236.5 532.5,236.6 531.5,235.7 529.5,235.6 528.5,234.7 526.5,234.5 525.5,233.6 524.5,233.4 521.5,231.5 519.5,231.1 519.2,230.8 518.9,227.8 519,217.8 518,210.8 517.7,197.8 516.8,196.8 516.7,194.8 515.8,193.8 515.7,192.8 513.5,190.6 490.5,190.5 489.5,189.6 474.5,189.4 473.5,188.6 463.5,188.3 462.5,187.5 457.5,187.2 456.5,186.5 451.5,186.2 450.5,185.4 445.5,185.1 444.5,184.4 440.5,184.1 439.5,183.4 434.5,183 433.5,182.3 428.5,181.9 427.5,181.3 423.5,180.8 422.5,180.2 419.5,179.9 418.5,179.2 416.5,178.9 415.5,178.2 413.5,177.9 412.5,177.1 411.5,176.9 405.5,173.8 404.5,172.8 404.3,171.8 404.8,170.8 407.5,168.2 420.5,159 423.5,157.4 425.5,155.8 428.5,154.4 430.6,152.8 438.5,148.8 442.5,147.4 445.7,145.8 450.5,144.4 451.5,143.7 453.5,143.4 454.5,142.8 457.5,142.3 458.5,141.7 461.5,141.3 462.5,140.6 464.5,140.3 466.1,138.8 464.5,137.2ZM536.5,183.5 535.1,185.8 535.2,192.8 537.5,195.2 538.5,195.2 540,193.8 540.1,192.8 540.9,191.8 540.8,186.8 540.1,185.8 539.9,184.8 539,183.8 538.5,183.4Z"/><path fill="#0e0e0e" d="M463.9,136.8 541.7,136.8 540,137.8 540.1,140.8 540.9,141.8 541.1,143.8 542.9,146.8 543.2,148.8 544.1,149.8 544.2,150.8 545,151.8 545.1,152.8 546,153.8 547.1,156.8 549.9,161.8 550.1,162.8 551.7,164.8 552.9,167.8 554.8,170.8 558.6,174.8 558.9,175.8 561.5,178.8 563.4,182.8 563.8,185.8 563.5,188.8 562.6,190.8 559.7,194.8 551.5,202.8 544.3,207.8 543.5,208.7 540,214.8 540,219.8 542.5,223.2 543.5,223.5 546.5,226.1 549.5,227.3 551.5,229.1 554.5,230.2 555.5,231.1 556.5,231.3 558.5,233.1 559.5,233.3 561,234.8 560.5,235.3 559.5,235.5 558.5,236.3 557.5,236.4 532.5,236.5 531.5,235.6 529.5,235.5 528.5,234.6 526.5,234.4 525.5,233.5 524.5,233.3 521.5,231.3 519.5,230.8 519,224.8 519.2,217.8 518.2,209.8 517.7,197.8 516.9,196.8 516.8,194.8 515.9,193.8 515.8,192.8 513.5,190.5 490.5,190.3 489.5,189.6 474.5,189.2 473.5,188.5 463.5,188 462.5,187.4 457.5,187 456.5,186.3 445.5,184.7 444.5,184.2 440.7,183.8 439.5,183.2 435.6,182.8 420.5,179.6 412.7,176.8 405.9,172.8 405.5,171.8 406.2,170.8 411,166.8 422.2,158.8 431.9,152.8 439.5,149 446.5,146.1 454.5,143.3 464.5,140.6 466.4,138.8ZM536.5,183.3 535,185.8 534.8,188.8 535.1,192.8 536.8,194.8 537.5,195.4 538.5,195.4 540.2,193.8 541,191.8 541,186.8 540.1,184.8 539.3,183.8 538.5,183.3Z"/><path fill="#121212" d="M465,136.8 541.4,136.8 539.8,137.8 539.8,139.8 541,143.8 542.7,146.8 543.1,148.8 543.9,149.8 544.1,150.8 544.9,151.8 547,156.8 552.8,167.8 554.6,170.8 558.5,175.2 561.2,178.8 563.1,182.8 563.6,185.8 563.4,187.8 562.2,190.8 558.6,195.8 550.5,203.1 543.5,207.5 539.8,214.8 539.6,216.8 539.9,219.8 542.5,223.3 543.5,223.7 546.5,226.2 549.5,227.4 551.5,229.1 554.5,230.4 555.5,231.2 556.5,231.4 558.5,233.2 559.5,233.4 560.9,234.8 560.5,235.2 558.5,236.2 556.5,236.3 532.5,236.3 531.5,235.5 529.5,235.4 528.5,234.5 526.5,234.2 523.5,232.2 520.3,230.8 519.7,229.8 519.2,226.8 519.5,218.8 518.3,208.8 517.8,197.8 517.1,196.8 516.9,194.8 516.1,193.8 515.9,192.8 513.5,190.4 490.5,190.1 489.5,189.5 475.5,189 473.5,188.4 463.5,187.8 462.5,187.2 458.1,186.8 456.5,186.2 445.5,184.4 419.6,178.8 414.4,176.8 407.7,172.8 406.7,171.8 411.2,167.8 420.6,160.8 428,155.8 434.5,152.1 446.5,146.6 465.5,140.4 466.4,139.8 466.7,138.8 466.3,137.8ZM536.5,183.2 535.8,183.8 534.8,185.8 534.5,188.8 535,192.8 536.5,194.8 537.5,195.5 538.5,195.6 539.8,194.8 541.2,191.8 541.2,186.8 539.5,183.8 538.5,183.1Z"/><path fill="#161616" d="M465.9,136.8 540.8,136.8 539.6,137.8 539.6,139.8 540.9,143.8 542.5,146.8 543,148.8 543.8,149.8 543.9,150.8 549.8,162.8 554.3,170.8 559.4,176.8 561.4,179.8 562.8,182.8 563.4,185.8 563.1,187.8 561.9,190.8 557.5,196.6 549.5,203.3 545.5,205.7 543.5,206.2 539.7,214.8 539.4,216.8 539.7,219.8 540.5,221.3 542.5,223.4 546.5,226.3 549.5,227.6 551.5,229.2 556.5,231.6 558.5,233.3 559.5,233.6 560.7,234.8 560.5,235 558.5,236 555.5,236.2 532.5,236.2 531.5,235.5 529.5,235.3 528.5,234.4 526.5,234.1 520.5,230.6 519.9,229.8 519.4,226.8 519.3,222.8 519.8,218.8 518.4,207.8 517.9,197.8 517.2,196.8 516.9,194.8 516,192.8 513.5,190.4 490.5,189.9 489.5,189.4 476.5,188.9 474.5,188.7 473.5,188.3 463.5,187.5 421.5,178.8 416.2,176.8 408.1,171.8 413.5,167.1 421.9,160.8 428.5,156.3 434.5,152.7 446.5,147.2 465.6,140.8 466.9,139.8 467.2,138.8 466.9,137.8ZM536.5,183 535.6,183.8 534.6,185.8 534.3,188.8 534.8,192.8 536.2,194.8 537.5,195.7 539.5,195.8 540.5,194.3 541.4,191.8 541.3,186.8 540.5,184.7 539.5,183.4 538.5,182.9Z"/><path fill="#1a1a1a" d="M466.7,136.8 540.3,136.8 539.4,137.8 539.4,139.8 542.9,148.8 553.8,170.8 559.1,176.8 561.1,179.8 562.4,182.8 563.1,185.8 562.5,188.8 561,191.8 558.8,194.8 555.5,198.1 550.5,202.2 545.5,205.1 544.5,205.1 542.5,204 542.1,204.8 542.4,207.8 539.5,214.8 539.2,216.8 539.3,218.8 540.5,221.7 542.5,223.5 551.5,229.3 556.5,231.8 558.5,233.4 559.5,233.7 560.5,234.9 558.5,235.8 555.5,236.1 532.5,236.1 531.5,235.4 529.5,235.2 528.5,234.4 526.5,233.9 520.5,230.2 519.5,225.8 519.5,222.6 520,218.8 518.6,207.8 518,197.8 516.1,192.8 513.5,190.3 490.5,189.8 489.5,189.3 474.5,188.6 473.5,188.2 467.3,187.8 460.8,186.8 421.5,178.2 417.9,176.8 409.8,171.8 411.5,169.8 421.7,161.8 428.5,157 434.5,153.4 445.5,148.1 453.5,145.1 463.5,142.2 466.5,140.8 467.4,139.8 467.6,138.8 467.5,137.8ZM537.5,182.6 536.5,182.9 534.8,184.8 534.2,187.8 534.3,190.8 534.7,192.8 536,194.8 537.5,196 539.5,196.3 540.5,195.1 541.4,192.8 541.6,187.8 540.3,183.8 538.8,182.8Z"/><path fill="#1e1e1e" d="M467.4,136.8 539.9,136.8 539.1,137.8 539.1,139.8 542.8,148.8 553.4,170.8 560.2,178.8 562.2,182.8 562.8,185.8 561.8,189.8 559.3,193.8 556.5,196.8 551.5,201 547.5,203.6 545.5,204.2 541.5,201.7 541.3,202.8 541.7,208.8 539.3,214.8 539,216.8 539.1,218.8 540.3,221.8 542.5,223.7 551.5,229.4 556.5,231.9 560.3,234.8 558.5,235.7 554.5,236 532.5,236 531.5,235.3 529.5,235.1 528.5,234.3 526.6,233.8 520.5,229.9 519.7,224.8 520.3,218.8 518.8,207.8 518.1,197.8 516.2,192.8 513.5,190.2 510.5,189.8 490.5,189.6 489.5,189.2 474.5,188.4 461.5,186.7 422,177.8 417.9,175.8 411.7,171.8 411.9,170.8 412.9,169.8 420.2,163.8 428.3,157.8 433.5,154.6 445.5,148.6 454.5,145.3 463.5,142.6 466.5,141.3 467.5,140.4 468.1,138.8ZM536.5,182.7 535.1,183.8 534.5,184.8 534,188.8 534.3,191.8 535.5,194.6 536.5,195.7 539.5,196.9 540.5,195.8 541.7,192.8 542,189.8 541.7,186.8 540.6,183.8 539.6,182.8 537.5,182.4Z"/><path fill="#222222" d="M468.4,136.8 539.5,136.8 538.9,137.8 538.9,139.8 542.6,148.8 553.1,170.8 559.9,178.8 561.9,182.8 562.5,185.8 561.9,188.8 558.9,193.8 554.5,198.3 549.5,202 546.5,203.3 543.5,201.8 540.5,199.3 541.2,208.8 538.9,215.8 538.9,218.8 540,221.8 542.5,223.8 546.5,226.5 556.5,232.1 560.1,234.8 558.5,235.5 554.5,235.9 532.5,235.9 526.9,233.8 520.7,229.8 519.9,224.8 520.6,218.8 519,207.8 518.2,197.8 516.3,192.8 513.5,190.1 510.5,189.7 490.5,189.5 466.5,187.3 446.5,183.2 424.3,177.8 419.8,170.8 419.6,169.8 450.4,147.8 452.1,146.8 453.5,146.6 454.4,145.8 463.5,143.2 467.5,141.1 468.5,138.8ZM536.5,182.4 534.7,183.8 534.3,184.8 533.8,188.8 534.1,191.8 534.8,193.8 536.3,195.8 539.5,197.3 540.9,195.8 541.9,192.8 542.2,189.8 542,186.8 541.4,184.8 540.1,182.8 538.5,182.2Z"/><path fill="#262626" d="M471.7,137.8 473.1,136.8 539,136.8 538.6,137.8 538.6,139.8 552.5,170.3 559.6,178.8 561.6,182.8 562.3,185.8 562,187.8 561.2,189.8 557.8,194.8 552.5,199.5 549.5,201.6 547.5,202.5 543.5,200.5 540.7,197.8 542.2,192.8 542.5,189.8 542,185.8 540.6,182.8 539.5,182.2 537.5,181.9 535.5,182.7 534.5,183.6 533.8,185.8 533.6,188.8 534.5,193.5 536.5,196.2 540,197.8 539.8,199.8 540.7,209.8 538.7,215.8 538.7,218.8 539.7,221.8 540.9,222.8 546.5,226.6 557.3,232.8 559.8,234.8 557.5,235.5 553.5,235.8 532.6,235.8 527.2,233.8 521,229.8 520.1,224.8 520.7,218.8 519.1,207.8 518.2,197.8 516.4,192.8 514.7,190.8 513.5,190 510.5,189.6 490.5,189.3 467.5,187.2 460.5,186 443.5,182.2 433.7,179.8 431.9,178.8 427.1,170.8 426.9,169.8 463.3,143.8 466.5,142.5 469.5,139.3Z"/><path fill="#2a2a2a" d="M476.9,137.8 478.3,136.8 538.6,136.8 538.3,137.8 538.4,139.8 552.4,170.8 559.3,178.8 561.3,182.8 562,185.8 561.7,187.8 561,189.8 558.3,193.8 553.5,198.4 548.5,201.6 544.5,199.9 541.5,197.3 541.3,196.8 542.5,192.6 542.7,188.8 542.2,185.8 540.9,182.8 539.5,181.9 537.5,181.7 535.5,182.4 534.5,183.3 533.8,184.8 533.4,187.8 534.1,192.8 535.5,195.5 538.8,197.8 539.1,198.8 540.4,209.8 538.5,215.7 538.5,218.8 539.5,221.8 540.7,222.8 546.5,226.7 557.1,232.8 559.6,234.8 552.5,235.8 533.5,235.8 529.6,234.8 527.5,233.8 521.3,229.8 520.6,227.8 520.3,224.8 520.9,218.8 518.3,197.8 516.5,192.8 514.9,190.8 513.5,189.9 510.5,189.5 490.5,189.2 468.5,187.1 460.5,185.8 445.5,182.3 439.3,180.8 437.8,179.8 432.3,170.8 432.1,169.8Z"/><path fill="#2e2e2e" d="M481.1,137.8 482.5,136.8 538.3,136.8 538.1,139.8 552,170.8 559,178.8 561.1,182.8 561.8,185.8 560.7,189.8 558,193.8 553.5,198.1 549.5,200.7 545.5,199.4 542.4,196.8 542.1,195.8 542.8,191.8 542.9,188.8 542.4,185.8 541.2,182.8 539.5,181.7 537.5,181.4 536.2,181.8 534.5,182.9 533.4,185.8 533.5,191.2 534.8,194.8 536.5,196.8 538.1,197.8 538.6,198.8 539.9,209.8 538.3,215.8 538.5,219.4 539.3,221.8 540.4,222.8 544.8,225.8 556.8,232.8 559,234.8 550.5,235.7 532.5,235.5 527.7,233.8 521.5,229.8 520.6,226.8 520.5,223.8 521.2,219.8 518.4,197.8 516.5,192.7 515.1,190.8 513.5,189.8 510.5,189.4 490.5,189.1 470.5,187.2 459.5,185.3 444.8,181.8 442.7,180.8 436.5,170.8 436.3,169.8Z"/><path fill="#323232" d="M484.7,137.8 486.1,136.8 538,136.8 537.9,139.8 550.2,166.8 551.7,170.8 551.7,171.8 555.5,175 558.7,178.8 560.9,182.8 561.5,185.8 560.5,189.6 557.5,194.1 552.5,198.5 550.5,199.8 549.5,199.7 545.5,198.2 542.8,195.8 543.1,188.8 542.6,185.8 541.5,182.8 540.5,181.8 538.5,181.2 536.5,181.4 534.3,182.8 533.5,184.6 533.2,186.8 533.5,191.8 534.6,194.8 538.1,198.8 539.5,210.3 538.2,215.8 538.4,219.8 539.1,221.8 540.2,222.8 557.5,233.5 558.4,234.8 550.5,235.6 532.5,235.4 528,233.8 521.8,229.8 521.2,228.8 520.7,226.8 520.7,223.8 521.4,219.8 518.5,197.8 516.7,192.8 515.5,191 514.5,190.2 511.5,189.3 491.5,189 471.5,187.1 460.5,185.3 447,181.8 440.1,170.8 439.9,169.8Z"/><path fill="#363636" d="M487.9,137.8 489.3,136.8 537.8,136.8 537.7,139.8 550.7,168.8 550.9,170.8 550.1,172.8 550.5,173.2 553.5,173.7 556.9,176.8 559.7,180.8 560.6,182.8 561.1,185.8 560.5,189.1 559,191.8 556.5,194.8 551.5,198.8 549.5,198.7 546.5,197.6 543.5,195.2 543.1,186.8 541.5,182.2 540.5,181.4 537.5,181 535.5,181.6 534,182.8 533,186.8 533.3,191.8 534.5,195 537.2,197.8 537.7,198.8 539.1,210.8 538,215.8 538.3,219.8 538.9,221.8 539.9,222.8 557.5,233.6 557.6,234.8 549.5,235.5 532.5,235.3 528.3,233.8 522.1,229.8 521.4,228.8 520.8,225.8 521.6,219.8 518.6,197.8 516.8,192.8 515.5,190.7 514.5,190 511.5,189.2 492.5,188.9 472.5,187.1 460.5,185.1 451.3,182.8 450.1,181.8 443.3,170.8 443.1,169.8Z"/><path fill="#3a3a3a" d="M490.7,137.8 492.1,136.8 537.5,136.8 537.1,137.8 537.4,139.8 547.1,160.8 550.4,168.8 548.4,173.8 548.5,174.2 552.5,174.3 554.5,175 555.5,175.7 559.5,181.1 560.5,183.4 560.7,185.8 560.5,188.3 557.5,193.3 553.5,197 552.5,197.7 550.5,197.8 548.5,197.4 546.5,196.5 543.5,193.8 543.3,186.8 541.5,181.4 537.5,180.7 535.5,181.4 533.7,182.8 532.9,186.8 533,190.8 534.2,194.8 536.8,197.8 537.2,198.8 538.7,210.8 537.8,215.8 537.9,218.8 538.8,221.8 539.5,222.6 557.5,233.8 556.8,234.8 548.5,235.4 532.5,235.2 528.5,233.8 522.5,229.8 521.5,228.8 520.9,225.8 521.9,219.8 518.7,197.8 517,192.8 515.5,190.5 514.5,189.9 511.5,189 487.5,188.4 468.5,186.3 456.4,183.8 453.7,182.8 452.3,180.8 446.1,170.8 445.9,169.8Z"/><path fill="#3e3e3e" d="M493.3,137.8 494.7,136.8 536.7,136.8 537,139.8 546,158.8 549.6,167.8 549.2,169.8 547.8,172.8 543.9,177.8 540.5,180.4 537.5,180.4 534.1,181.8 533.5,182.5 533.1,183.8 532.6,187.8 533,191.8 534.1,194.8 536.5,197.8 536.8,198.8 538.5,211.8 537.7,215.8 537.8,218.8 538.6,221.8 539.4,222.8 557.2,233.8 556.5,234.6 548.5,235.3 532.5,235 527.5,233 521.7,228.8 521.1,224.8 521.4,222.8 522.2,220.8 520.2,208.8 519,198.8 517.5,193.6 515.9,190.8 514.7,189.8 511.5,188.9 487.5,188.3 467.5,186 457.4,183.8 454.2,179.8 448.7,170.8 448.5,169.8ZM548.2,175.8 551.5,175.3 553.5,175.7 555.5,176.7 558.4,179.8 559.9,183.8 560,187.8 559.5,189.8 558.5,191.5 554.5,195.8 552.5,196.6 549.5,196.6 547.5,195.9 545.5,194.6 544.1,192.8 543.7,187.8 542.5,182.2 544.2,178.8 546.5,176.6Z"/><path fill="#424242" d="M495.8,137.8 497.2,136.8 535.9,136.8 536.2,138.8 545.8,158.8 548.5,165.1 548.8,166.8 548.8,167.8 547.2,171.8 543.5,176.7 539.5,179.7 536.5,180.2 535.5,180.9 533.5,181.3 533.2,181.8 532.5,186.8 532.6,189.8 533.5,193.9 534.5,195.9 536.1,197.8 536.4,198.8 538.1,211.8 537.5,216.8 537.8,219.8 538.4,221.8 539.2,222.8 557,233.8 556.5,234.3 554.5,234.8 549.5,235.2 532.5,234.9 528.5,233.5 521.9,228.8 521.3,224.8 522.5,220.8 520.4,208.8 519.2,198.8 517.5,193.3 516,190.8 515,189.8 511.5,188.8 495.5,188.7 486.5,188.1 472.5,186.5 463.5,185.1 459.6,183.8 456,178.8 451.2,170.8 451,169.8ZM548.4,176.8 551.5,176.3 553.5,176.8 555.4,177.8 557.5,180.1 559,183.8 559,187.8 558.1,190.8 555.5,194.1 552.5,195.5 550.5,195.7 547.6,194.8 545.5,193.2 544.5,191.8 543.3,182.8 544.1,180.8 545.5,178.8Z"/><path fill="#464646" d="M498.1,137.8 499.5,136.8 535.1,136.8 535.4,139.8 537.5,141.5 545.2,157.8 548.4,165.8 546,171.8 542.5,176.2 538.5,178.9 532.5,180.5 532.5,190.3 533.5,194.2 535.8,197.8 535.9,198.8 537.7,211.8 537.3,216.8 537.7,219.8 538.2,221.8 539,222.8 555.2,232.8 556.7,233.8 556.5,234 554.5,234.7 549.5,235.1 532.5,234.8 528.5,233.3 522,228.8 521.4,224.8 522,222.8 522.8,221.8 522.8,220.8 520.5,208.8 519.3,198.8 517.5,193 515.3,189.8 511.5,188.7 495.5,188.5 485.5,187.9 472.5,186.4 463.3,184.8 461,182.8 457.1,176.8 453.5,170.8 453.2,169.8ZM549,177.8 551.5,177.5 554.5,178.5 556.7,180.8 558,183.8 558.1,187.8 557,190.8 555.4,192.8 552.5,194.4 549.5,194.4 547.5,193.5 545.7,191.8 544.5,189.8 543.8,184.8 544.3,182.8 546,179.8Z"/><path fill="#4a4a4a" d="M500.2,137.8 501.6,136.8 534.1,136.8 534.8,140.8 537.5,142.1 547.6,163.8 547.4,165.8 545.9,169.8 542.5,174.7 538.5,177.6 535.5,178.7 532.5,178.9 532.1,179.8 532.5,183.8 532.2,186.8 532.4,190.8 533.5,194.6 535.4,197.8 537.5,212.8 537.3,218.8 538,221.8 538.7,222.8 556.5,233.8 555.5,234.4 547.5,235 532.5,234.7 528.5,233.2 522.2,228.8 521.6,224.8 523.1,221.8 523.1,220.8 520.5,207.9 519.5,199.3 518,193.8 515.5,189.8 511.5,188.6 494.5,188.4 484.5,187.6 471.5,186.1 465,184.8 461.8,180.8 455.6,170.8 455.4,169.8ZM549.8,178.8 552.5,178.9 554.5,179.9 556.1,181.8 557.1,184.8 557,187.8 555.7,190.8 553.5,192.7 551.5,193.3 549.5,193.1 547.2,191.8 545.7,189.8 544.8,186.8 545.1,183.8 545.9,181.8 547.5,179.9Z"/><path fill="#4e4e4e" d="M502.3,137.8 503.8,136.8 533.2,136.8 534,141.8 534.5,142.4 537.5,143.2 538.5,144.4 545.7,159.8 546.6,161.8 546.9,163.8 544.8,169.8 541.9,173.8 538.5,176.4 535.5,177.5 532.5,177.7 531.7,178.8 532.2,183.8 532.3,190.8 533.4,194.8 535,197.8 537.3,213.8 537.1,218.8 537.8,221.8 538.5,222.8 556.2,233.8 555.5,234.3 547.5,234.9 532.5,234.6 528.5,233.1 522.4,228.8 521.7,225.8 522.2,223.8 523.3,222.8 523.5,221.8 523,218.8 521.5,212.5 519.1,196.8 517.7,192.8 515.5,189.6 511.5,188.5 494.5,188.3 484.5,187.5 470.9,185.8 467.1,184.8 463.8,180.8 457.7,170.8 457.5,169.8ZM548.5,180.8 550.5,180.1 552.5,180.3 554.5,181.7 555.7,183.8 556,185.8 555.5,188.7 554.5,190.3 552.5,191.7 549.5,191.7 547.5,190.3 546.5,188.7 546,185.8 546.3,183.8 547.4,181.8Z"/><path fill="#525252" d="M504.4,137.8 505.8,136.8 532.3,136.8 533.5,143.4 536.5,144 538.5,145 539.5,146.8 545.5,159.8 546,162.8 545.5,165.4 543.5,170.1 540.5,173.6 536.5,176 533.5,176.5 531.5,176.3 531.2,177.8 532.2,190.8 533.2,194.8 534.6,197.8 536.9,213.8 537.2,219.8 537.9,222.8 556,233.8 555.5,234.1 547.5,234.8 532.5,234.4 528.5,232.9 522.5,228.7 521.8,225.8 522.5,223.8 523.8,222.8 523.3,218.8 521.5,211.5 519.2,196.8 517.5,192.3 515.5,189.5 511.5,188.4 491.5,188 472.1,185.8 469.2,184.8 467.3,182.8 459.7,170.8 459.5,169.8ZM550.3,181.8 552.5,182.1 553.5,182.9 554.5,184.9 554.6,186.8 553.7,188.8 552.5,189.9 551.5,190.2 549.3,189.8 548.3,188.8 547.4,186.8 547.9,183.8 548.6,182.8Z"/><path fill="#565656" d="M506.4,137.8 508,136.8 531.3,136.8 532.6,143.8 533.5,144.7 536.5,145.3 538.5,146.3 540.5,149.3 544.5,158 545.2,160.8 544.3,165.8 542.5,169.7 540.5,172.1 538.5,173.7 536.1,174.8 533.5,175.3 531.5,175 530.9,177.8 532.2,191.8 534.2,197.8 536.6,213.8 537.4,222.8 539.5,223.7 550.5,230.4 555.7,233.8 555.5,234 546.5,234.7 532.5,234.3 528.5,232.8 522.5,228.1 522.2,224.8 524.1,222.8 523.6,218.8 521.5,210.6 519.3,196.8 517.5,192 515.5,189.3 511.5,188.3 492.5,187.9 473.2,185.8 471.1,184.8 469.2,182.8 461.6,170.8 461.4,169.8ZM550.5,184.8 551.5,184.8 552.1,185.8 551.5,187.2 550.5,187.2 550.2,186.8 549.9,185.8Z"/><path fill="#5a5a5a" d="M508.5,137.8 510.4,136.8 530.2,136.8 532.3,145.8 535.5,146.3 538.5,147.7 540.5,149.7 540.7,150.8 541.5,151.7 544.2,158.8 544,162.8 542.8,166.8 540.5,170.5 537.6,172.8 534.5,173.9 531.4,173.8 530.8,174.8 530.6,176.8 530.6,180.8 531.5,185.7 532,191.8 533.7,196.8 536.2,213.8 537.1,222.8 539.5,223.8 555.5,233.8 546.5,234.6 533.5,234.3 530.5,233.6 527.5,232 524.5,229.7 522.6,227.8 522.3,226.8 522.5,224.5 524.5,222.8 523.9,218.8 521.5,209.6 519.4,196.8 518,192.8 516.1,189.8 514.5,188.8 511.5,188.2 492.5,187.8 474.4,185.8 472,183.8 470.4,181.8 463.5,170.8 463.3,169.8Z"/><path fill="#5e5e5e" d="M511.3,137.8 512.5,137.5 513.2,136.8 529.1,136.8 530.5,141.7 531.5,147.4 534.5,147.4 537.5,148.6 539.5,150.2 541.5,153 542.8,156.8 543.2,159.8 542.7,163.8 541.5,167 539.5,169.8 536.8,171.8 533.5,172.7 531.5,172.4 530.5,171.7 530.4,172.8 530.4,181.8 531.5,187.3 532.1,192.8 533.3,196.8 535.9,213.8 536.8,222.8 548.5,229.4 554.9,233.8 545.5,234.6 533.5,234.2 530.5,233.5 527.5,231.9 524.5,229.5 522.4,226.8 522.6,224.8 524.3,223.8 524.7,222.8 524.2,218.8 521.5,208.6 519.6,196.8 518.1,192.8 516.3,189.8 514.9,188.8 511.5,188.1 492.5,187.7 476.3,185.8 473.9,183.8 472.2,181.8 465.4,170.8 465.2,169.8 503.5,142.5 508.5,139.2Z"/><path fill="#626262" d="M514.4,136.8 527.9,136.8 529.6,141.8 530.9,148.8 531.5,149.1 532.5,148.7 534.5,148.8 536.9,149.8 539.2,151.8 541,154.8 541.9,157.8 542,160.8 541.5,163.8 540.2,166.8 538.5,169 535.5,170.9 532.5,171.3 530.5,170.1 530.1,172.8 530,181.8 531.5,189 531.9,192.8 532.7,195.8 535.1,210.8 536.5,222.8 537.5,223.7 540.5,224.7 548.9,229.8 553.6,232.8 554.2,233.8 545.5,234.5 533.5,234 530.5,233.4 527.6,231.8 524.5,229.2 522.6,226.8 522.5,225.8 523,224.8 524.9,223.8 524.4,218.8 521.5,207.6 519.7,196.8 518.2,192.8 516.4,189.8 515.5,188.9 512.5,188.1 491.5,187.5 478.2,185.8 475.7,183.8 474.1,181.8 467.2,170.8 467,169.8 504.5,143.1 510.5,139.4 513.5,138.9Z"/><path fill="#666666" d="M515.2,137.8 515.7,136.8 526.4,136.8 529.2,143.8 529.8,146.8 530,150.8 530.5,151.6 532.5,150.3 535.5,150.8 538.3,152.8 540,155.8 540.6,157.8 540.8,160.8 540.2,163.8 539.3,165.8 537.5,168 534.5,169.6 532.5,169.7 530.5,168.4 529.8,171.8 529.7,181.8 534.8,210.8 536.1,222.8 536.6,223.8 540.5,224.9 551.9,231.8 553.4,232.8 553.4,233.8 544.5,234.4 533.5,233.9 530.5,233.3 527.8,231.8 524.4,228.8 522.9,226.8 522.8,225.8 523.4,224.8 525.4,223.8 524.7,218.8 521.5,206.5 519.8,196.8 518.4,192.8 516.5,189.7 515.5,188.8 512.5,187.9 490.5,187.3 480.1,185.8 477.6,183.8 475.9,181.8 469,170.8 468.8,169.8 504.5,144.4 510.5,140.7 513.5,140.3Z"/><path fill="#6a6a6a" d="M517.4,136.8 524.6,136.8 525.5,137.9 527.5,141.8 528.8,145.8 529.5,156.2 530.5,153.8 531.5,152.6 533.5,152 536.5,153.3 537.8,154.8 538.8,156.8 539.3,158.8 539.2,161.8 538.6,163.8 537.5,165.7 535.5,167.3 533.5,168 531.5,167.4 530.5,166.2 529.5,169.9 529.3,181.8 534.5,211.4 535.8,222.8 536.1,223.8 540.5,225.1 551.7,231.8 553.2,232.8 552.5,233.8 543.5,234.4 533.5,233.8 530.5,233.2 528,231.8 524.7,228.8 523.2,226.8 523.1,225.8 523.9,224.8 525.7,223.8 524.8,217.8 521.5,205.4 519.6,195.8 518.5,192.8 516.5,189.5 515.5,188.6 512.5,187.8 490.5,187.2 486.5,186.8 481.9,185.8 479.4,183.8 477.7,181.8 470.8,170.8 470.6,169.8 506.5,144.3 511.5,141.7 514.5,141.8 515.5,139.6Z"/><path fill="#6e6e6e" d="M518.8,137.8 520.5,137.1 522.5,137.5 524.5,139.1 526.5,142.3 528.1,146.8 528.7,154.8 529.5,159.2 531.5,155.1 532.5,154.3 533.5,154.3 535,154.8 536.2,155.8 537.5,158.8 537.6,160.8 537,162.8 535.6,164.8 534.5,165.5 532.5,165.7 531.5,165 530.5,162.9 529.4,167.8 528.8,178.8 529.1,182.8 534.5,213.8 535.6,223.8 541.5,225.7 553,232.8 552.5,233.5 546.5,234.2 539.5,234.2 531.5,233.4 528.2,231.8 524.9,228.8 523.5,226.8 523.5,225.8 524.3,224.8 526,223.8 525.1,217.8 521.5,204.2 519.8,195.8 518.6,192.8 516.5,189.2 515.5,188.3 512.5,187.7 490.5,187.1 487.7,186.8 483.8,185.8 481.2,183.8 479.5,181.8 472.6,170.8 472.4,169.8 506.5,145.6 511.5,143.1 513.5,143.1 514.5,143.7 516.5,140.2Z"/><path fill="#727272" d="M519,139.8 520.5,139.3 521.5,139.4 523.5,140.5 525.5,143 527.4,147.8 529.4,161.8 528.5,177.8 528.6,181.8 534,212.8 535.2,223.8 536.5,224.5 541.5,225.8 545.5,228.2 552.8,232.8 551.5,233.6 545.5,234.2 539.5,234.1 531.5,233.3 528.4,231.8 525.2,228.8 523.8,226.8 523.8,225.8 526.3,223.8 525.2,216.8 519.9,195.8 518.8,192.8 516.5,189 515.5,188.1 512.5,187.6 490.5,186.9 485.8,185.8 483.1,183.8 481.4,181.8 474.4,170.8 474.2,169.8 506.5,146.9 511.5,144.4 513.5,144.5 514.5,145.2 515.3,144.8 517.5,141.1ZM532.2,158.8 532.5,158.2 533.5,158 534.5,159.1 534.6,160.8 533.5,162 532.5,161.8Z"/><path fill="#767676" d="M519.2,141.8 521.5,141.6 523.5,142.8 525.5,145.4 526.7,148.8 529,161.8 528.2,181.8 533.6,212.8 534.8,223.8 536.5,224.7 541.5,226 545.5,228.2 552.6,232.8 551.5,233.4 545.5,234.1 539.5,234 532.5,233.3 528.6,231.8 525.4,228.8 524.1,226.8 524.2,225.8 526.7,223.8 525.8,217.8 520.1,195.8 518.9,192.8 516.5,188.6 515.5,187.9 512.5,187.4 490.5,186.8 487.8,185.8 485,183.8 483.2,181.8 476.3,170.8 476.1,169.8 507.5,147.6 510.5,146.1 512.5,145.7 513.5,146 515.5,147.5 517.1,143.8Z"/><path fill="#7a7a7a" d="M519.4,143.8 520.5,143.5 521.8,143.8 523.5,145 524.5,146.2 525.9,149.8 528.3,159.8 528.6,163.8 527.9,181.8 533.5,214.8 534.5,223.8 535.5,224.7 538.5,225.2 542.5,226.6 552.3,232.8 551.5,233.2 546.5,234 540.5,234 532.5,233.2 528.9,231.8 525.7,228.8 524.4,226.8 524.5,225.8 527,223.8 525.9,216.8 519.9,194.8 516.5,187.8 515.5,187.3 514.5,187.8 512.5,187.3 492.2,186.8 489.8,185.8 486.9,183.8 485.1,181.8 478.2,170.8 478,169.8 508.5,148.4 510.5,147.5 512.5,147.2 513.5,147.6 514.5,148.5 515.5,150.5 517.3,145.8Z"/><path fill="#7e7e7e" d="M519.6,145.8 520.5,145.6 522.5,146.3 524.5,148.8 528,160.8 528.2,164.8 527.5,181.8 533.1,214.8 534.1,223.8 535.1,224.8 537.5,225.1 542.5,226.7 550.8,231.8 551.9,232.8 551.5,233 546.5,233.9 540.5,234 532.5,233.1 529.1,231.8 528.5,230.8 525.9,228.8 524.6,226.8 524.8,225.8 527.3,223.8 526,215.8 522.9,203.8 520.5,197 520.1,194.8 516.5,186.9 515.5,186.4 514.5,187.4 496.5,186.9 494.5,186.8 491.9,185.8 488.9,183.8 487.1,181.8 480.1,170.8 479.9,169.8 502.5,153.7 508.5,149.8 510.5,148.9 512.6,148.8 514.5,150.4 515.5,152.9 517.5,147.9Z"/><path fill="#818181" d="M520.3,147.8 521.5,147.9 523.5,149.8 525.5,154.3 527.6,160.8 527.9,164.8 527.1,181.8 530.2,201.8 532.5,214 533.6,223.8 534.6,224.8 537.5,225.3 542.5,226.9 550.6,231.8 551.5,232.8 546.5,233.8 540.5,233.9 532.5,233 529.4,231.8 528.9,230.8 526.2,228.8 524.9,226.8 525.2,225.8 526.9,224.8 527.7,223.8 526.2,214.8 522.7,201.8 520.3,194.8 516.5,186.1 515.5,184.9 514.6,186.8 513.5,187 496.9,186.8 494.2,185.8 491,183.8 489.1,181.8 482.1,170.8 481.9,169.8 503.5,154.4 509.5,150.8 511.5,150.3 513.5,151 514.5,152.4 515.5,155.6 517.5,150.4 518.5,148.9Z"/><path fill="#858585" d="M518.8,150.8 520.5,149.9 522.5,150.8 524.5,153.9 527.1,160.8 527.5,165.8 526.7,178.8 526.8,182.8 529.8,202.8 532.5,217.3 533.1,223.8 533.8,224.8 537.5,225.4 542.5,227 548.8,230.8 550.9,232.8 546.5,233.7 542.5,233.9 532.5,232.9 529.8,231.8 529.3,230.8 526.4,228.8 525.2,226.8 525.5,225.9 527.6,224.8 528.2,223.8 526,211.8 522.9,200.8 518.1,188.8 515.5,183.2 514.6,185.8 513.5,186.8 499.7,186.8 496.6,185.8 493.2,183.8 491.2,181.8 484.2,170.8 484,169.8 503.5,155.9 509.5,152.4 511.5,151.9 513.3,152.8 515.5,157 517.5,152.6Z"/><path fill="#898989" d="M518.8,152.8 520.5,151.9 522.5,152.8 525.5,157.6 526.9,161.8 527.1,166.8 526.3,178.8 526.4,182.8 529,201.8 531.5,214.7 532.6,223.8 533,224.8 537.5,225.5 542.5,227.1 548.6,230.8 549.7,231.8 550.1,232.8 546.5,233.6 542.5,233.8 532.5,232.7 531.5,231.9 530.5,231.8 526.7,228.8 525.5,226.8 525.9,225.8 528.4,224.8 528.7,223.8 527,213.8 523.1,199.8 515.5,182.3 514.8,182.8 513.7,185.8 512.4,186.8 503.1,186.8 499.3,185.8 495.6,183.8 493.5,181.8 486.4,170.8 486.2,169.8 507.5,155 510.5,153.8 512.5,154.1 513.5,155.3 514.5,158.2 515.5,158.1Z"/><path fill="#8d8d8d" d="M520.1,153.8 521.5,153.9 523.5,155.7 525.5,158.9 526.5,162.3 526.6,171.8 525.9,178.8 526,182.8 528.1,201.8 530.5,213.5 531.5,219.8 531.8,224.8 536.5,225.4 542.5,227.3 548.4,230.8 549.3,231.8 549.4,232.8 546.5,233.5 543.5,233.7 536.5,233.2 532.5,232.4 530.5,231.5 526.9,228.8 525.8,226.8 526.3,225.8 529.6,224.8 528.1,215.8 526,206.8 523.8,199.8 519.1,188.8 515,180.8 514.5,178.2 514.1,178.8 513.6,183.8 512.4,185.8 510.5,186.5 508.5,186.7 502.6,185.8 498.5,183.9 496.1,181.8 488.9,170.8 488.7,169.8 504.3,158.8 509.5,155.9 511.5,155.9 512.5,156.5 514.5,161.4 515,159.8 517.5,156 518.5,154.8Z"/><path fill="#919191" d="M519,155.8 520.5,155.2 521.5,155.4 523.5,157 525.3,159.8 526.1,162.8 526.3,171.8 525.5,180.8 526.5,193.8 526.5,201.5 525.5,201 524.5,199.2 516.5,182.8 514.5,176.9 513.7,175.8 513.5,172.2 513,180.8 512.5,183.8 511.7,184.8 510.5,185.4 507.5,185.7 503.5,184.8 501.4,183.8 499,181.8 495.3,176.8 491.7,170.8 491.5,169.8 505.5,160 508.5,158.4 510.5,158.1 511.8,158.8 512.8,160.8 513.5,169.1 513.8,163.8 516.5,158.5ZM526.7,225.8 528.5,225.1 531.5,224.9 539.5,226.4 542.5,227.4 546.8,229.8 548.9,231.8 548.9,232.8 545.5,233.5 541.5,233.6 536.5,233.1 532.5,232.1 530.5,231.2 527.1,228.8 526.1,226.8Z"/><path fill="#959595" d="M519.2,156.8 520.5,156.4 521.5,156.6 523.5,158.1 525.1,160.8 525.8,163.8 526,171.8 525,180.8 525.5,192.8 525.1,194.8 524.5,195.7 522.5,193.2 516.5,181.9 514,173.8 514,166.8 514.9,162.8 516.5,159.4ZM506.8,161.8 508.5,161.1 510.5,161.3 511.5,162.8 511.8,164.8 511.5,181 510.5,183.3 508.5,184 506.5,183.8 504.5,183 501.7,180.8 497.5,174.9 495,170.8 494.8,169.8ZM527.1,225.8 529.5,225.1 531.5,225 535.5,225.5 539.5,226.5 542.5,227.5 546.6,229.8 548.5,231.8 548.5,232.8 545.5,233.4 541.5,233.6 537.5,233.2 533.5,232.2 530.5,231 527.4,228.8 526.6,227.8 526.4,226.8Z"/><path fill="#999999" d="M519.2,157.8 520.5,157.5 521.5,157.7 523.5,159.2 524.9,161.8 525.5,164.8 525.6,171.8 524.6,179.8 524.5,187.9 524.3,189.8 523.5,191.6 522.5,190.9 517.5,183 516.1,179.8 514.2,172.8 514.3,167.8 515.5,162.4 517.5,159.1ZM504.5,166.8 507.5,165.9 508.5,166.8 508.5,176.3 507.5,178.7 506.5,178.7 504.5,177.2 500.1,170.8 499.8,169.8ZM527.5,225.8 529.5,225.3 532.5,225.2 539.5,226.6 542.5,227.7 546.4,229.8 548.2,231.8 548.1,232.8 544.5,233.4 540.5,233.4 536.5,232.9 533.5,232.1 530.6,230.8 527.6,228.8 526.9,227.8 526.7,226.8Z"/><path fill="#9d9d9d" d="M519,158.8 520.5,158.4 521.5,158.6 523.1,159.8 524.5,162.4 525.1,165.8 525.1,173.8 523.5,186.7 522.5,188.1 520.5,186.5 517.5,182 515.5,176.7 514.5,172.8 514.5,168.8 515.5,163.9 516.9,160.8ZM528,225.8 530.5,225.3 533.5,225.4 540.5,227 546.2,229.8 547.9,231.8 547.7,232.8 544.5,233.4 540.5,233.4 536.5,232.9 533.5,232 530.8,230.8 527.9,228.8 527.1,227.8 527,226.8Z"/><path fill="#a1a1a1" d="M518.8,159.8 520.5,159.3 521.5,159.6 523,160.8 524,162.8 524.8,166.8 524.9,171.8 524.5,174.8 523,183.8 522.5,185.2 521.5,185.7 519.5,184.1 517.5,180.9 515.5,175.5 514.7,171.8 514.8,168.8 515.7,164.8 516.9,161.8ZM528.5,225.8 531.5,225.4 534.5,225.6 541.5,227.5 544.3,228.8 547,230.8 547.6,231.8 547.3,232.8 544.5,233.3 540.5,233.3 536.6,232.8 533.5,231.8 530.5,230.5 528.1,228.8 527.4,227.8 527.3,226.8Z"/><path fill="#a5a5a5" d="M518.7,160.8 520.5,160.3 522.5,161.4 523.5,163.1 524.3,166.8 524.3,173.8 522.5,181.8 521.5,183.6 520.5,183.6 519.5,182.8 517.6,179.8 515.7,174.8 515.1,171.8 515.2,168.8 515.8,165.8 517.5,161.9ZM529.2,225.8 533.5,225.6 539.5,226.9 545.7,229.8 547.3,231.8 546.9,232.8 542.5,233.3 537.5,232.9 534.5,232.1 531.5,230.9 528.4,228.8 527.7,227.8 527.6,226.8Z"/><path fill="#a9a9a9" d="M518.7,161.8 520.5,161.3 521.5,161.7 522.5,162.7 523.5,165.1 524,167.8 524.1,171.8 523.5,175.4 521.5,181.2 520.5,181.9 519.5,181.4 518.5,180.2 517.5,178.2 516.1,174.8 515.4,171.8 515.5,168.8 516.3,165.8 517.5,163.2ZM529.9,225.8 534.5,225.8 540.5,227.4 545.4,229.8 547,231.8 546.5,232.8 542.5,233.2 537.5,232.8 534,231.8 529.8,229.8 527.9,227.8 528,226.8Z"/><path fill="#adadad" d="M518.9,162.8 520.5,162.4 521.5,163 523,165.8 523.6,168.8 523.7,171.8 523.1,174.8 521.5,178.8 520.5,179.9 519.5,179.8 517.5,177 516.5,174.8 515.8,171.8 516.5,166.7 517.5,164.5ZM531.1,225.8 535.5,226.1 541.4,227.8 545.1,229.8 546.2,230.8 546.7,231.8 546,232.8 542.5,233.1 537.9,232.8 534.3,231.8 530.1,229.8 528.2,227.8 528.5,226.7Z"/><path fill="#b1b1b1" d="M519.4,163.8 520.6,163.8 521.5,164.4 522.3,165.8 523.2,170.8 522.9,173.8 522.1,175.8 520.5,178 519.5,178.1 517.5,175.8 516.5,173.3 516.2,170.8 516.5,168.4 517.5,165.8ZM528.7,226.8 530.5,226 532.5,225.9 538.1,226.8 543.3,228.8 545.9,230.8 546.3,231.8 545.5,232.8 542.5,233 538.5,232.8 535.5,232.1 530.3,229.8 528.5,227.8Z"/><path fill="#b5b5b5" d="M518.4,165.8 519.5,165 520.5,165.1 521.3,165.8 522.3,167.8 522.7,169.8 522.5,172.8 521.8,174.8 520.5,176.5 519.5,176.7 518.5,176 517.5,174.5 516.7,171.8 516.9,168.8ZM529.1,226.8 532.5,226 537.7,226.8 543,228.8 545.7,230.8 546,231.8 544.9,232.8 542.5,233 539.1,232.8 535.5,232 530.6,229.8 528.8,227.8Z"/><path fill="#b9b9b9" d="M518.8,166.8 519.5,166.4 520.5,166.6 521.5,167.8 522,169.8 522,171.8 521.5,173.8 520.5,175.1 519.5,175.4 518.5,174.7 517.3,171.8 517.5,168.9ZM529.5,226.8 531.5,226.2 533.5,226.2 538.5,227.2 544.3,229.8 545.4,230.8 545.7,231.8 544.5,232.7 542.5,232.9 539.5,232.8 535.5,231.9 532.7,230.8 529.6,228.8 529.1,227.8Z"/><path fill="#bdbdbd" d="M518.4,168.8 519.5,167.9 520.5,168.3 521.2,169.8 521.2,171.8 520.9,172.8 520.5,173.4 519.5,173.9 518.5,173.1 518,171.8ZM530,226.8 533.5,226.3 539.5,227.6 544.1,229.8 545.1,230.8 545.3,231.8 543.5,232.7 541.5,232.8 535.5,231.8 533,230.8 529.9,228.8 529.4,227.8Z"/><path fill="#c1c1c1" d="M530.4,226.8 534.5,226.5 539.8,227.8 543.8,229.8 544.8,230.8 544.9,231.8 543.5,232.5 541.5,232.7 535.5,231.6 532.5,230.4 530.2,228.8 529.7,227.8Z"/><path fill="#c5c5c5" d="M531.1,226.8 534.5,226.6 539.5,227.8 543.5,229.8 544.5,230.8 544.5,231.8 542.5,232.5 540.5,232.5 536.5,231.8 533.5,230.8 530.4,228.8 530,227.8Z"/><path fill="#c9c9c9" d="M531.9,226.8 535.5,226.9 540.5,228.4 543.2,229.8 544.1,230.8 544,231.8 542.5,232.3 539.5,232.3 533.9,230.8 530.7,228.8 530.3,227.8Z"/><path fill="#cdcdcd" d="M530.7,227.8 532.5,226.9 536.5,227.2 541.2,228.8 543.8,230.8 543.5,231.8 542.5,232.1 537.4,231.8 532.2,229.8 531,228.8Z"/><path fill="#d1d1d1" d="M531.1,227.8 533.5,227 537.5,227.6 540.9,228.8 542.6,229.8 543.4,230.8 542.5,231.9 537.5,231.7 532.5,229.8 531.3,228.8Z"/><path fill="#d5d5d5" d="M531.5,227.8 533.5,227.2 537.5,227.7 540.6,228.8 542.3,229.8 543,230.8 542.5,231.6 541.5,231.9 536.5,231.3 532.8,229.8 531.7,228.8Z"/><path fill="#d9d9d9" d="M532.1,227.8 534.5,227.4 537.4,227.8 540.2,228.8 541.9,229.8 542.6,230.8 541.5,231.6 540.5,231.8 535.5,230.9 533.2,229.8 532,228.8Z"/><path fill="#dddddd" d="M532.6,227.8 534.5,227.5 537.5,228 541.6,229.8 542.2,230.8 541.5,231.3 539.5,231.5 535.8,230.8 533.5,229.8 532.4,228.8Z"/><path fill="#e1e1e1" d="M533.5,227.8 535.9,227.8 539.4,228.8 541.1,229.8 541.7,230.8 539.5,231.3 536.3,230.8 533.9,229.8 532.8,228.8Z"/><path fill="#e5e5e5" d="M533.2,228.8 534.5,228 537.5,228.4 540.7,229.8 541,230.8 539.5,231.1 536.9,230.8 534.3,229.8Z"/><path fill="#e9e9e9" d="M533.8,228.8 535.5,228.3 538.4,228.8 540.2,229.8 540,230.8 536.5,230.4 534.8,229.8Z"/><path fill="#ededed" d="M534.4,228.8 537.5,228.7 539.6,229.8 538.5,230.5 537.5,230.4 535.4,229.8Z"/><path fill="#f1f1f1" d="M536.2,229.8 536.5,228.8 538.8,229.8Z"/></g></g><g clip-path="url(#c7)"><g filter="url(#j7)"><rect x="400.0" y="352.8" width="201.0" height="105.0" fill="#000"/><path fill="#060606" d="M468,353.3 546.9,353.3 545.5,353.9 544.2,355.3 544.3,360.3 545.2,361.3 545.3,364.3 546.2,365.3 546.3,368.3 547.2,369.3 547.3,372.3 548.2,373.3 548.3,376.3 549.1,377.3 549.3,380.3 550.1,381.3 550.3,384.3 551.2,385.3 551.3,387.3 552.3,388.3 552.4,389.3 553.3,390.3 553.4,391.3 555.3,393.3 555.4,394.3 558.3,397.3 558.4,398.3 559.3,399.3 559.4,400.3 561.2,402.3 561.2,407.3 560.3,408.3 560.3,410.3 559.3,411.3 559.3,412.3 558.3,413.3 558.3,414.3 557.3,415.3 557.3,416.3 556.3,417.3 556.2,418.3 551.5,423 549.5,424.9 548.5,425 547.5,425.8 545.5,426 544.5,426.8 542.5,426.9 541.5,427.8 539.5,428.1 538.5,429 537.5,429.1 536.4,430.3 536.3,431.3 535.4,432.3 540.5,437.4 541.5,437.5 542.5,438.4 543.5,438.5 544.5,439.4 545.5,439.4 546.5,440.4 547.5,440.4 548.5,441.4 549.5,441.5 551.5,443.4 552.5,443.4 555.5,446.4 556.5,446.4 557.5,447.4 559.5,447.5 560.5,448.4 562.5,448.5 563.5,449.4 566.5,449.5 567.5,450.4 572.5,450.6 575.3,452.3 573.5,454 570.5,454.2 569.5,455.1 559.5,455.2 558.5,456.1 548.5,456.2 542.5,456.1 541.5,455.2 536.5,455.1 535.5,454.2 531.5,454.2 530.5,453.2 528.5,453.1 527.5,452.2 526.5,452.1 522.8,448.3 522.6,446.3 521.7,445.3 521.6,441.3 520.7,440.3 520.7,432.3 520,431.3 519.6,417.3 518.8,416.3 518.6,409.3 514.5,405.2 505.5,405.2 504.5,406.1 488.5,406 487.5,405.1 479.5,404.9 478.5,404.1 460.5,403.7 459.5,403 451.5,402.8 450.5,402 446.5,401.7 445.5,401 442.5,400.8 441.5,400 438.5,399.8 437.5,399 434.5,398.7 433.5,398 431.5,397.8 430.5,397 427.5,396.8 426.5,396 424.5,395.8 423.5,395 421.5,394.8 420.5,394 418.5,393.8 417.5,393.2 411.5,391.8 409.7,390.3 409.5,389.3 410.1,387.3 412.5,384.9 425.5,375.5 426.5,375.3 428.5,373.6 429.5,373.4 431.5,371.7 434.5,370.5 436.5,368.8 439.5,367.7 440.5,366.8 441.5,366.7 442.5,365.8 443.5,365.7 444.5,364.9 446.5,364.6 447.5,363.7 448.5,363.6 451.5,361.8 453.5,361.6 456.5,359.9 458.5,359.6 459.5,358.8 462.5,358.6 463.5,357.8 467.5,357.6 468.5,356.8 470.5,356.6 471.9,355.3ZM533.5,405.2 532.4,406.3 532.4,407.3 531.4,408.3 531.4,412.3 532.4,413.3 532.4,414.3 533.5,415.4 535.5,415.4 537.6,413.3 537.6,407.3 535.5,405.2Z"/><path fill="#0a0a0a" d="M468.6,353.3 546.3,353.3 545.5,353.6 543.9,355.3 544.1,360.3 544.8,361.3 545.1,364.3 545.8,365.3 546.1,368.3 546.8,369.3 547.1,372.3 547.8,373.3 548.1,376.3 548.8,377.3 549.1,380.3 549.7,381.3 550.1,384.3 550.9,385.3 551.2,387.3 553.1,390.3 553.2,391.3 555.1,393.3 555.2,394.3 558,397.3 558.2,398.3 559.1,399.3 559.2,400.3 561,402.3 561,407.3 560.2,408.3 560,410.3 559.2,411.3 559.1,412.3 558.2,413.3 558.1,414.3 557.2,415.3 557,416.3 556.1,417.3 555.9,418.3 552.5,421.8 549.5,424.5 547.5,425.4 542.5,426.5 537.5,429 536.2,430.3 536.1,431.3 535.3,432.3 540.5,437.5 541.5,437.6 544.5,439.5 545.5,439.6 546.5,440.5 547.5,440.6 548.5,441.5 549.5,441.6 551.5,443.5 552.5,443.6 555.5,446.4 556.5,446.5 557.5,447.5 559.5,447.6 560.5,448.5 562.5,448.6 563.5,449.5 566.5,449.7 567.5,450.5 572.5,450.9 575,452.3 573.5,453.8 570.5,454 569.5,454.9 559.5,455.1 558.5,456 548.5,456.1 542.5,455.8 541.5,455.1 536.5,455 535.5,454.1 531.5,454 530.5,453.1 528.5,453 527.5,452 526.5,451.9 523.1,448.3 522.8,446.3 521.9,445.3 521.7,441.3 520.9,440.3 520.9,432.3 520.4,430.3 519.8,417.3 519.1,416.3 518.7,409.3 514.5,405.1 505.5,405.1 504.5,405.9 503.5,405.9 490.5,405.7 488.5,405.6 487.5,405 479.5,404.5 478.5,403.9 460.5,403.2 459.5,402.8 452,402.3 450.5,401.7 447.1,401.3 445.5,400.7 442.5,400.2 441.5,399.7 438.9,399.3 437.5,398.6 431.5,397.3 430.5,396.7 424.6,395.3 423.5,394.6 421.6,394.3 420.5,393.6 412.5,391.1 410.7,389.3 411.5,387.6 412.5,386.6 425.5,376.5 431.5,372.4 437,369.3 444.9,365.3 446.5,364.9 449.5,363.3 453.5,362 456.5,360.5 459.8,359.3 462.5,358.9 463.5,358.3 467.5,357.9 468.5,357.3 470.5,357 471.6,356.3 472.2,355.3 471.5,354.6ZM533.5,405.1 532.3,406.3 532.3,407.3 531.4,408.3 531.4,412.3 532.3,413.3 532.3,414.3 533.5,415.5 535.5,415.5 537.8,413.3 537.7,407.3 535.5,405.1Z"/><path fill="#0e0e0e" d="M469.9,353.3 545.4,353.3 543.5,355.3 543.4,356.3 543.9,360.3 545.5,365.3 545.9,368.3 546.5,369.3 549.9,384.3 550.6,385.3 551,387.3 552.9,390.3 553.1,391.3 554.9,393.3 555.1,394.3 557.8,397.3 559.1,400.3 560.7,402.3 560.8,406.3 559.8,410.3 558,413.3 557.9,414.3 555.5,418.3 553.8,420.3 549.5,424.1 546.5,425.2 542.5,426.1 537.5,428.8 536.1,430.3 535.2,432.3 537.5,435 540.5,437.6 541.5,437.8 544.5,439.6 545.5,439.7 546.5,440.6 547.5,440.7 548.5,441.6 549.5,441.8 551.5,443.6 552.5,443.7 555.5,446.5 556.5,446.6 557.5,447.5 559.5,447.8 560.5,448.6 562.5,448.8 563.5,449.6 566.5,449.9 567.5,450.6 572.5,451.2 574.8,452.3 573.5,453.5 570.5,453.9 569.5,454.6 559.5,455.1 558.5,455.8 548.5,456 542.5,455.6 541.5,455 536.5,454.8 535.5,454.1 531.5,453.9 530.5,453 528.5,452.8 527.5,451.9 526.5,451.7 523.5,448.3 522.9,446.3 522.1,445.3 521.8,441.3 521,440.3 521.1,432.3 520.3,425.3 519.9,417.3 519.4,416.3 518.9,409.3 516.2,406.3 514.5,405 505.5,405 504.5,405.7 502.5,405.8 492.5,405.6 479.5,404.1 478.5,403.7 453.5,402 442.5,399.6 426.6,395.3 412.3,389.3 412.7,388.3 413.7,387.3 425.9,377.3 431.6,373.3 437.5,369.8 447.5,364.8 456.5,361.1 461.5,359.4 471.5,357 472.5,356.3 472.7,355.3ZM533.5,405 532.2,406.3 532.1,407.3 531.3,408.3 531.3,412.3 532.1,413.3 532.2,414.3 533.5,415.6 535.5,415.6 537.9,413.3 537.9,407.3 535.5,405Z"/><path fill="#121212" d="M471.2,353.3 544.6,353.3 543.5,354.6 543,356.3 549.7,384.3 553,391.3 557.6,397.3 558.9,400.3 560.4,402.3 560.6,406.3 559.5,410.3 557.7,414.3 553.5,420.3 549.5,423.7 546.5,424.8 542.5,425.6 537.5,428.7 536,430.3 535.1,432.3 537.5,435.2 540.5,437.7 549.5,441.9 551.5,443.7 552.5,443.9 555.5,446.6 556.5,446.7 557.5,447.6 559.5,447.9 560.5,448.7 562.5,448.9 563.5,449.7 566.5,450.1 567.5,450.8 571.5,451.3 574.5,452.3 573.4,453.3 570.5,453.8 568.5,454.5 559.5,455 558.5,455.7 548.5,455.9 543.5,455.5 541.5,454.9 536.5,454.7 535.5,454 531.5,453.8 530.5,453 528.5,452.7 526.5,451.5 523.5,447.9 522.3,445.3 521.9,441.3 521.2,440.3 521.3,432.3 520.1,417.3 519,409.3 516.5,406.3 514.5,404.9 511.5,404.6 505.5,404.9 504.5,405.5 502.5,405.6 494.5,405.4 488.5,405 478.5,403.5 454.5,401.6 444.5,399.5 428.8,395.3 414.5,389.3 414.2,388.3 426,378.3 431.4,374.3 438,370.3 446.5,366 455.5,362.1 461.5,360 469.5,358.3 472.5,357.1 473.1,356.3 473.2,355.3 472.7,354.3ZM533.5,405 532.2,406.3 532,407.3 531.2,408.3 531.2,412.3 532,413.3 532.2,414.3 533.5,415.6 535.5,415.7 538,413.3 538,407.3 535.5,404.9Z"/><path fill="#161616" d="M472.4,353.3 544,353.3 543.2,354.3 542.7,356.3 549.1,383.3 550.7,387.3 552.8,391.3 557.3,397.3 560.2,402.3 560.5,405.5 559.2,410.3 557.5,414.1 553.1,420.3 550.5,422.6 548.5,423.7 542.5,425.1 537.5,428.5 535.8,430.3 535,432.3 537.5,435.5 540.5,437.9 549.5,442.1 555.5,446.7 556.5,446.8 557.5,447.7 559.5,448.1 560.5,448.8 562.5,449.1 563.5,449.8 566.5,450.3 567.5,450.9 570.5,451.3 573.7,452.3 572.6,453.3 568.5,454.4 559.5,454.9 558.5,455.5 548.5,455.7 543.5,455.3 541.5,454.7 536.5,454.5 535.5,453.9 531.5,453.6 530.5,452.9 528.5,452.5 526.6,451.3 523.5,447.5 522.5,445.3 521.9,441.3 521.4,440.3 521.6,433.3 520.2,417.3 519.1,409.3 516.7,406.3 514.5,404.8 510.5,404.5 505.5,404.8 504.5,405.3 502.5,405.4 494.5,405.2 453.5,401 444.5,399 430.9,395.3 425.8,393.3 415.9,388.3 429.5,376.6 440.5,369.7 448.5,365.7 457.5,362 472.5,357.8 473.5,356.7 473.8,355.3 473.5,354.3ZM533.5,404.9 532.1,406.3 531.9,407.3 531.1,408.3 531.1,412.3 531.9,413.3 532.1,414.3 533.5,415.7 535.5,415.8 538.1,413.3 538.4,410.3 538.1,407.3 535.5,404.8Z"/><path fill="#1a1a1a" d="M474.2,354.3 474.5,353.7 477.1,353.3 543.5,353.3 542.8,354.3 542.4,356.3 548.8,383.3 552.7,391.3 557.1,397.3 559.9,402.3 560.3,405.3 559.3,409.3 558.2,412.3 555.9,416.3 553.5,419.5 549.5,422.9 546.5,424 542.5,424.6 541.5,425.3 536.5,429.4 535.7,430.3 535,432.3 538.1,436.3 540.5,438 549.5,442.2 555.5,446.7 563.5,449.9 572.9,452.3 571.7,453.3 567.6,454.3 559.5,454.8 558.5,455.4 549.5,455.7 544.5,455.3 539.5,454.4 536.5,454.4 535.5,453.8 531.5,453.5 526.9,451.3 523.5,447 522.7,445.3 521.6,440.3 521.9,433.3 520.4,417.3 519.2,409.3 517,406.3 514.5,404.7 510.5,404.3 502.5,405.2 494.5,405 454.5,400.6 446.5,398.9 433.1,395.3 428,393.3 417.6,388.3 427.5,379.2 437.2,372.3 446.5,367.3 455.8,363.3 462.5,361 469.5,359.5 472.5,358.4 473.9,357.3 474.4,355.3ZM533.5,404.8 532,406.3 531.1,408.3 531.1,412.3 532,414.3 533.5,415.8 535.5,415.9 538.3,413.3 538.6,410.3 538.2,407.3 535.5,404.7Z"/><path fill="#1e1e1e" d="M480,354.3 487.6,353.3 543,353.3 542.4,354.3 542.1,356.3 548.8,384.3 552.6,391.3 558,399.3 560,403.3 560.1,405.3 559.1,409.3 557.9,412.3 555.6,416.3 553.3,419.3 550.5,421.8 548.5,423 545.5,423.8 542.5,424.1 536.5,429.2 535.6,430.3 534.9,432.3 537.7,436.3 540.5,438.1 549.5,442.4 555.5,446.8 563.5,450 572.1,452.3 570.8,453.3 566.4,454.3 559.5,454.8 558.5,455.2 549.5,455.5 539.5,454.2 536.5,454.2 535.5,453.7 531.5,453.4 527.2,451.3 523.5,446.6 521.7,440.3 522.1,433.3 520.5,417 519.3,409.3 517.3,406.3 514.5,404.6 510.5,404.2 502.5,405.1 494.5,404.8 456.5,400.4 450.5,399.3 449.5,398.8 446.2,398.3 445.5,397.7 442.5,397.3 437.5,393.4 429.6,386.3 430.5,385.3 469.5,360.9 473.5,359.1 474.5,357.8ZM533.5,404.7 531.9,406.3 531,408.3 531,412.3 531.9,414.3 533.5,415.9 535.5,416 536.7,415.3 538.4,413.3 538.8,409.3 538.3,407.3 536.6,405.3 535.5,404.6Z"/><path fill="#222222" d="M491.9,354.3 495.4,353.3 542.5,353.3 541.8,356.3 548.4,384.3 551.8,390.3 557.8,399.3 559.8,403.3 559.8,405.3 558.8,409.3 557.1,413.3 552.9,419.3 550.5,421.4 548.5,422.6 544.5,423.6 542.5,423.4 536.5,428.9 535.4,430.3 534.8,432.3 537.5,436.4 540.5,438.2 549.5,442.5 555.5,446.9 560.5,449.1 571.2,452.3 570.5,452.9 565.3,454.3 559.5,454.7 558.5,455.1 549.5,455.4 539.5,454.1 536.5,454 531.9,453.3 529.2,452.3 526.5,450.4 524.2,447.3 522.5,443.2 521.8,439.3 522.5,434.3 520.5,415.5 519.5,409.3 517.5,406.2 514.5,404.5 512.5,404.1 509.5,404.1 502.5,404.9 496.5,404.7 459.3,400.3 456.8,399.3 453.5,397 441.5,386.3 442.5,385.2ZM533.5,404.6 531.8,406.3 530.9,408.3 530.9,412.3 531.8,414.3 533.5,416 535.5,416.1 537,415.3 538.6,413.3 539.1,411.3 539.1,409.3 538.5,407.3 536.9,405.3 535.5,404.5Z"/><path fill="#262626" d="M497.8,354.3 498.6,353.3 541.8,353.3 541.5,356.3 548.2,384.3 551.5,390.3 557.6,399.3 559.5,403.3 559.6,405.3 558.6,409.3 556.9,413.3 552.5,419.3 549.5,421.8 547.5,422.7 544.5,423.2 542.5,422.2 541.5,422.5 541.1,424.3 535.9,429.3 534.7,432.3 536.5,435.5 538.7,437.3 549.5,442.7 557.5,448 570.5,452.3 569.5,453 564.1,454.3 549.5,455.3 532.5,453.3 528.5,451.7 526.7,450.3 524.4,447.3 522.5,442.7 522,439.3 522.7,434.3 520.5,414.2 519.6,409.3 517.5,406 514.5,404.4 512.5,404 509.5,403.9 502.5,404.7 496.5,404.5 488.5,403.7 464.8,400.3 459.1,396.3 448.1,386.3 448.9,385.3 496.9,355.3ZM533.5,404.5 531.7,406.3 530.8,408.3 530.8,412.3 531.7,414.3 533.5,416.1 535.5,416.2 537.4,415.3 538.9,413.3 539.4,411.3 539.4,409.3 538.7,407.3 537.2,405.3 535.5,404.4Z"/><path fill="#2a2a2a" d="M499.2,354.3 499.8,353.3 540.8,353.3 541.4,354.3 541.5,357.3 547.9,384.3 550.6,389.3 557.3,399.3 559.3,403.3 559.4,405.3 558.7,408.3 557.1,412.3 553.1,418.3 550.5,420.7 547.5,422.4 545.2,422.3 541.5,420.2 540.6,424.3 535.5,429.6 534.6,432.3 536.1,435.3 538.4,437.3 548.6,442.3 557.5,448.1 569.8,452.3 569.5,452.5 568.2,453.3 563,454.3 549.5,455.2 538.5,453.6 533.1,453.3 528.5,451.6 526.9,450.3 524,446.3 522.5,442.3 522.2,439.3 522.9,434.3 520.5,412.8 519.5,408.5 517.5,405.7 514.5,404.3 512.5,403.8 509.5,403.8 502.5,404.5 495.5,404.2 488.5,403.5 469.4,400.3 463.8,396.3 452.8,386.3 453.6,385.3 497.5,357.9 498.5,356.9ZM534.5,404.2 533.5,404.4 531.6,406.3 530.8,408.3 530.8,412.3 531.6,414.3 533.5,416.2 535.5,416.4 537.5,415.5 538.7,414.3 539.6,412.3 539.7,410.3 539.4,408.3 538.4,406.3 536.5,404.6Z"/><path fill="#2e2e2e" d="M500.3,354.3 500.9,353.3 539.7,353.3 541,354.3 541.2,357.3 548,385.3 557.1,399.3 559.1,403.3 559.2,405.3 558.2,409.3 556.4,413.3 553.5,417.5 550.5,420.4 548.5,421.5 546.5,421.6 543.5,420.3 541.5,418.9 540.8,420.3 540.1,424.3 536.5,428.1 534.9,430.3 534.5,432.2 534.7,433.3 535.9,435.3 537.5,436.9 548.5,442.4 555.5,447.1 560.5,449.4 569.1,452.3 567.3,453.3 562.5,454.2 549.5,455.1 538.5,453.4 533.5,453.2 528.5,451.4 526.5,449.5 524.2,446.3 522.7,442.3 522.3,439.3 523.1,434.3 520.6,412.3 519.6,408.3 517.5,405.5 512.5,403.7 502.5,404.3 495.5,404 476.4,401.3 473.1,400.3 467.6,396.3 456.7,386.3 457.5,385.3 498.5,359.6ZM534.5,404.1 533.5,404.4 531.6,406.3 530.7,408.3 530.6,411.3 530.7,412.3 532.4,415.3 533.5,416.2 535.5,416.6 537.5,415.9 539.1,414.3 539.9,412.3 540,410.3 539.3,407.3 537.8,405.3 536.2,404.3Z"/><path fill="#323232" d="M501.4,354.3 502.1,353.3 538.7,353.3 540.6,354.3 541.1,358.3 548,386.3 556.3,398.3 558.9,403.3 559,404.3 558.3,408.3 556.6,412.3 554.2,416.3 551.5,419.2 548.5,420.8 544.5,419.7 541.5,417.6 540.8,418.3 539.6,424.3 535.3,429.3 534.4,431.3 534.6,433.3 536.5,436.3 537.8,437.3 548.5,442.5 557.5,448.2 568.4,452.3 566.5,453.3 562.5,454.1 549.5,455 538.5,453.2 533.5,453.1 528.7,451.3 527.4,450.3 524.5,446.5 522.8,442.3 522.5,439.3 523.2,434.3 521.3,416.3 520.1,409.3 519.2,407.3 517.6,405.3 514.5,404 511.5,403.4 503.5,404.1 498.5,404.1 488.5,403 478.4,401.3 475.5,399.8 472.1,397.3 459.9,386.3 460.7,385.3 499.5,361ZM533.5,404.3 531.5,406.2 530.6,408.3 530.6,412.3 532.5,415.6 534.5,416.7 536.5,416.6 538.7,415.3 540.1,413.3 540.3,411.3 539.9,408.3 539,406.3 537.5,404.8 535.5,403.9Z"/><path fill="#363636" d="M503.2,353.3 537.7,353.3 539.7,354.3 540.5,356.1 541,359.3 544.5,372.3 547.5,386.3 548.5,387.3 556.1,398.3 558.2,402.3 558.8,404.3 558.1,408.3 555.9,413.3 553.5,416.8 550.5,419.5 548.5,419.8 546.5,419.4 543.5,418 541.5,416.3 540.5,416.1 539.1,424.3 538.7,425.3 535.5,428.7 534.6,430.3 534.4,433.3 535.5,435.3 537.5,437.3 548.5,442.6 557.5,448.3 567.9,452.3 565.7,453.3 561.5,454 549.5,454.8 538.5,453.1 533.5,452.9 529,451.3 527.5,450.2 524.6,446.3 522.9,442.3 522.6,439.3 523.5,435.3 521.5,416.2 520.3,409.3 519.4,407.3 517.8,405.3 515.5,404.2 512.5,403.4 509.5,403.3 502.5,404 498.5,403.9 487.5,402.7 480.9,401.3 474.9,397.3 462.8,386.3 463.6,385.3 500.4,362.3 501.8,356.3ZM533.5,404.1 532,405.3 530.8,407.3 530.4,409.3 530.5,412.3 531.3,414.3 532.5,415.8 534.5,416.9 536.5,416.8 538.5,415.9 540.2,414.3 540.6,412.3 540.4,409.3 539.3,406.3 537.5,404.6 535.5,403.8Z"/><path fill="#3a3a3a" d="M504.2,353.3 536.6,353.3 538.7,354.3 541.3,361.3 544.5,373.3 546.4,387.3 548.5,387.8 555.9,398.3 558,402.3 558.6,404.3 557.5,409.3 555,414.3 552.5,417.5 551.5,418.3 549.5,418.8 545.5,418 543.5,416.9 541.5,415 540.9,414.3 540.8,410.3 540.1,407.3 539.5,406.2 537.5,404.3 534.5,403.7 532.9,404.3 531.8,405.3 530.7,407.3 530.2,410.3 530.7,413.3 531.8,415.3 532.9,416.3 534.5,417 536.5,417 539.5,415.7 539.9,416.3 538.4,425.3 534.5,430.1 534.1,431.3 534.3,433.3 535.5,435.5 537.2,437.3 548.5,442.8 557.5,448.5 567.3,452.3 565.5,453.1 561.5,453.9 549.5,454.7 538.5,453 533.5,452.8 530.5,451.9 528.5,450.8 524.7,446.3 523.1,442.3 522.8,439.3 523.8,435.3 521.5,415.3 520.5,409.3 519.6,407.3 518,405.3 516.1,404.3 512.5,403.3 502.5,403.9 498.5,403.7 487.5,402.4 483.4,401.3 477.5,397.3 465.3,386.3 466.1,385.3 500.5,363.8 501.4,362.3 503.2,355.3Z"/><path fill="#3e3e3e" d="M505.3,353.3 535.6,353.3 537.6,354.3 540.1,360.3 543,370.3 544.8,379.3 545.9,388.3 546.5,388.7 548.5,388.3 555.7,398.3 557.8,402.3 558.4,404.3 557.5,408.7 554.8,414.3 552.5,417 549.5,417.7 547.5,417.6 545.5,417 542.1,414.3 541.4,413.3 540.3,407.3 539.5,405.8 537.8,404.3 536.5,403.7 534.5,403.5 532.7,404.3 531.7,405.3 530.6,407.3 530.1,410.3 530.6,413.3 531.5,415.1 532.6,416.3 534.5,417.2 536.5,417.3 538.5,416.7 539.2,417.3 538,425.3 534.5,429.8 534,431.3 534.1,433.3 535.5,435.8 536.9,437.3 548.5,442.9 557.5,448.6 566.8,452.3 564.5,453.2 560.5,453.9 549.5,454.6 537.5,452.7 533.5,452.6 530.5,451.8 528.5,450.6 524.9,446.3 523.2,442.3 522.9,439.3 524.1,435.3 521.7,415.3 520.6,409.3 519.7,407.3 518.2,405.3 516.5,404.3 512.5,403.1 501.5,403.7 488.2,402.3 484,400.3 481.1,398.3 467.7,386.3 468.5,385.3 501.5,364.7 503.8,356.3Z"/><path fill="#424242" d="M506.4,353.3 534.5,353.3 536.6,354.3 539.5,361.3 542.7,372.3 544.5,382.3 544.9,389.3 545.5,390.1 548.5,389.3 549.5,390 556.1,399.3 557.6,402.3 558.1,404.3 557.5,408.1 554.5,414.4 552.5,415.9 549.5,416.7 547.5,416.6 545.5,415.9 542.5,413.5 541.5,412.2 540.6,407.3 539.5,405.4 538.2,404.3 536.5,403.5 534.5,403.4 532.5,404.3 531.5,405.3 530.4,407.3 530,409.3 530.1,412.3 530.8,414.3 532.4,416.3 533.5,417 535.5,417.5 538.7,417.3 537.6,425.3 534.1,430.3 534,433.3 536.6,437.3 548.5,443 557.5,448.7 566.3,452.3 564.5,453 560.5,453.8 549.5,454.5 537.5,452.5 533.5,452.5 530.5,451.6 528.5,450.4 525.1,446.3 523.3,442.3 523.1,439.3 524.3,435.3 523.1,424.3 521,410.3 519.9,407.3 518.5,405.4 516.9,404.3 512.5,403 501.5,403.6 490.2,402.3 486.1,400.3 483.3,398.3 469.9,386.3 470.7,385.3 502.5,365.4 504.5,357.3 505.6,354.3Z"/><path fill="#464646" d="M507.5,353.3 533.4,353.3 535.6,354.3 538.7,361.3 541.9,372.3 544,384.3 544,391.3 544.5,391.9 547.5,390.5 549.5,390.5 555.9,399.3 557.5,402.7 557.8,404.3 557.6,407.3 555.5,412.1 552.5,414.8 549.5,415.7 546.5,415.2 543.5,413.2 541.5,410.5 541,407.3 540,405.3 538.5,404.3 536.5,403.3 534.5,403.2 532.5,404.1 531.5,405.1 530.3,407.3 529.9,409.3 530,412.3 530.7,414.3 532.2,416.3 533.5,417.2 537.5,417.8 538,418.3 537.2,425.3 534,430.3 533.8,433.3 534.8,435.3 536.5,437.4 547.5,442.6 557.5,448.9 565.8,452.3 559.5,453.8 549.5,454.3 544.5,453.8 537.5,452.4 533.5,452.3 530.5,451.4 528.6,450.3 525.3,446.3 523.4,442.3 523.2,439.3 524.6,436.3 524.6,435.3 523.2,423.3 521.2,410.3 520,407.3 518.6,405.3 517.2,404.3 512.5,402.9 501.5,403.4 492.3,402.3 488.2,400.3 485.3,398.3 471.9,386.3 472.7,385.3 503.1,366.3 505.1,358.3 506.7,354.3Z"/><path fill="#4a4a4a" d="M507.7,354.3 508.6,353.3 532.3,353.3 534.5,354.3 537.8,361.3 541.4,373.3 543.4,386.3 543,393.3 543.5,394.1 545.5,392.4 547.5,391.5 549.5,391.4 550.5,392.1 555.5,399 557.5,403.3 556.9,407.3 555,411.3 552.5,413.6 549.5,414.6 546.5,414.1 543.5,411.9 541.5,408.5 540.5,404.2 539.5,404.7 537,403.3 534.5,403.1 532.5,404 531.5,404.9 530.2,407.3 529.7,409.3 529.9,412.3 530.5,414.3 532,416.3 533.5,417.4 537.5,418.3 536.8,425.3 533.8,430.3 533.7,433.3 534.7,435.3 536.5,437.5 547.5,442.7 557.5,449 565.4,452.3 558.5,453.7 548.5,454.2 537.5,452.2 533.5,452.2 530.5,451.3 528.9,450.3 525.4,446.3 523.6,442.3 523.4,439.3 525,436.3 524,427.3 521.3,410.3 520.5,407.9 518.8,405.3 517.5,404.3 512.5,402.8 501.5,403.2 494.3,402.3 490.2,400.3 487.3,398.3 473.9,386.3 474.7,385.3 503.5,367.3 504.1,366.3 505.7,359.3ZM542.5,395 542.4,395.3 542.5,395.4 542.6,395.3Z"/><path fill="#4e4e4e" d="M508.8,354.3 509.8,353.3 531.2,353.3 533.5,354.3 534.5,356 536.9,361.3 539.3,368.3 542.2,381.3 542.8,388.3 541.2,398.3 541.5,400.5 542.5,397.3 544.6,394.3 547.5,392.7 550.5,392.7 555.5,399.4 556.5,401.3 556.7,403.3 556,407.3 554.5,410.4 552.5,412.4 549.5,413.5 546.5,413 543.5,410.4 542,407.3 541.1,402.3 540.5,401.4 539.5,404.4 537.5,403.3 534.5,402.9 532.5,403.8 531,405.3 530,407.3 529.6,409.3 529.7,412.3 530.4,414.3 532.5,416.9 534.5,417.9 536.9,418.3 536.1,426.3 533.7,430.3 533.5,433.3 534.5,435.3 536.5,437.7 547.5,442.8 557.5,449.1 564.9,452.3 557.5,453.7 548.5,454.1 537.5,452.1 533.5,452 531.5,451.5 529.1,450.3 525.5,446.2 523.7,442.3 523.5,439.3 524.5,437.3 525.5,436.3 524.4,427.3 521.8,411.3 520.8,408.3 518.9,405.3 517.5,404.1 512.5,402.6 501.5,403 496.2,402.3 494.5,401.6 491.5,400 487.9,397.3 475.7,386.3 476.5,385.3 504.5,367.8 506.5,359.6Z"/><path fill="#525252" d="M509.9,354.3 511,353.3 530,353.3 532.3,354.3 534.2,357.3 536.8,363.3 539.4,371.3 541.3,380.3 542.1,387.3 541.5,393.3 539.3,403.3 538.5,403.5 535.5,402.7 533.1,403.3 530.9,405.3 529.6,408.3 529.6,412.3 530.8,415.3 532.5,417.1 535.8,418.3 536.4,419.3 535.8,426.3 533.5,430.3 533.4,433.3 534.5,435.6 536.5,437.8 547.5,442.9 557.5,449.3 564.5,452.3 557.5,453.6 548.5,454 537.5,452 533.5,451.9 529.4,450.3 528.1,449.3 527.1,447.3 525.5,445.9 523.8,442.3 523.7,439.3 524.5,437.7 525.7,437.3 525.9,436.3 524.3,424.3 522,411.3 521,408.3 519.5,405.8 517.5,404 513.5,402.7 510.5,402.4 501.5,402.8 498.1,402.3 495.7,401.3 489.7,397.3 477.5,386.3 478.3,385.3 505.3,368.3 507.2,360.3ZM546.4,394.3 548.5,393.7 551.5,394.3 554.6,398.3 555.7,401.3 555.7,405.3 554.5,408.6 552.5,411.1 549.5,412.4 546.5,411.7 544.7,410.3 543.3,408.3 542.3,405.3 542.1,402.3 542.7,399.3 544.2,396.3Z"/><path fill="#565656" d="M511.1,354.3 512.4,353.3 528.7,353.3 531.2,354.3 534.7,360.3 538.7,371.3 540.6,380.3 541.4,387.3 541.2,391.3 539.5,400.3 538.5,403.2 536.5,402.7 534.5,402.7 531.5,404.3 530.2,406.3 529.3,409.3 529.5,412.3 530.6,415.3 532.5,417.3 534.8,418.3 535.9,419.3 535.4,426.3 533.2,431.3 533.3,433.3 534.2,435.3 535.6,437.3 536.5,437.9 547.5,443.1 556.5,448.9 563.9,452.3 557.5,453.5 548.5,453.9 537.5,451.8 532.5,451.5 530.5,450.8 528.5,449.5 527.6,447.3 525.5,445.7 523.9,442.3 523.8,439.3 524.5,438.2 526.3,437.3 526.2,436.3 524.7,424.3 522.2,411.3 520.7,407.3 519.5,405.6 517.5,403.8 513.5,402.6 510.5,402.3 502.5,402.6 499.9,402.3 497.5,401.3 491.4,397.3 479.2,386.3 480,385.3 505.7,369.3 508.1,360.3ZM547.2,395.3 549.5,394.9 552.4,396.3 553.8,398.3 554.8,401.3 554.7,405.3 553.5,408.3 551.5,410.4 549.5,411.1 547.5,410.9 545.5,409.6 544,407.3 543.1,404.3 543.2,401.3 543.7,399.3 545.5,396.4Z"/><path fill="#5a5a5a" d="M512.3,354.3 513.9,353.3 527.1,353.3 529.9,354.3 532.1,357.3 534.3,361.3 538.2,372.3 540.1,381.3 540.8,387.3 540.5,391.3 538.9,400.3 538.4,402.3 537.5,402.6 534.5,402.5 531.5,404.2 530,406.3 529.2,409.3 529.3,412.3 530.5,415.3 532.5,417.5 535.4,419.3 534.9,426.3 533,431.3 533.5,434.3 535.5,437.5 547.5,443.2 556.5,449 563.3,452.3 556.5,453.5 548.5,453.8 542.5,452.9 537.5,451.7 532.5,451.4 530.5,450.7 528.6,449.3 528,447.3 525.5,445.4 524,442.3 524,439.3 524.5,438.5 526.5,437.8 526.7,437.3 524,418.3 522.2,410.3 520.2,406.3 518.5,404.2 513.5,402.4 510.5,402.1 503.5,402.5 501.7,402.3 499.2,401.3 493.1,397.3 480.9,386.3 481.7,385.3 506.5,369.8 509,360.3 510.5,357.1ZM546.4,397.3 548.5,396.3 550.5,396.6 552.5,398.3 553.5,400.3 553.9,403.3 553.5,405.7 552.5,407.7 550.5,409.4 548.5,409.7 547.3,409.3 545.5,407.7 544.5,405.7 544.1,403.3 544.3,401.3 544.9,399.3Z"/><path fill="#5e5e5e" d="M513.8,354.3 515.8,353.3 525.2,353.3 528.5,354.3 531,357.3 533.5,361.6 536.2,368.3 538,374.3 539.4,381.3 540.1,387.3 539.7,392.3 538,401.3 537.7,402.3 534.5,402.4 531.5,404 529.9,406.3 529.1,409.3 529.2,412.3 530.3,415.3 531.5,416.8 534.8,419.3 534.4,427.3 532.9,431.3 533.3,434.3 535.5,437.9 547.5,443.3 556.5,449.1 562.7,452.3 556.5,453.4 548.5,453.7 542.5,452.8 536.5,451.4 532.8,451.3 530.5,450.5 528.9,449.3 528.5,447.3 525.5,445.2 524.1,442.3 523.9,440.3 524.5,438.7 526.9,438.3 527.2,437.3 525.3,423.3 524,416.3 522.1,409.3 519.7,405.3 518.5,403.8 513.5,402.3 510.5,402 503.5,402.3 500.5,401.1 494.8,397.3 482.6,386.3 483.4,385.3 507.3,370.3 508.6,364.3 510,360.3 511.5,357.2ZM547.8,398.3 549.5,398.1 550.5,398.4 551.5,399.3 552.5,401.5 552.7,403.3 552.2,405.3 550.8,407.3 549.5,407.9 548.5,407.9 547.2,407.3 546.3,406.3 545.5,404.3 545.4,402.3 545.9,400.3 546.5,399.3Z"/><path fill="#626262" d="M515.4,354.3 518.5,353.4 522.5,353.4 526.8,354.3 528.5,355.8 531.5,359.7 533.8,364.3 536.4,371.3 538,377.3 539.1,383.3 539.5,388.3 537.3,401.3 536.5,401.9 533.5,402.6 531.5,403.8 529.8,406.3 528.9,409.3 529,412.3 530.2,415.3 531.5,417 534.2,419.3 533.9,427.3 532.8,431.3 533.1,434.3 534.5,437.3 535.5,438.2 547.5,443.4 555.5,448.6 562.1,452.3 555.8,453.3 548.5,453.6 542.5,452.7 536.5,451.2 533.5,451.3 530.4,450.3 529.3,449.3 528.8,447.3 525.5,445 524.2,442.3 524,440.3 524.5,439 527.7,438.3 525.8,423.3 524.3,415.3 522.4,409.3 520.1,405.3 518.5,403.3 517.5,403.4 512.5,402 504.5,402 500.7,400.3 495.2,396.3 484.2,386.3 485,385.3 507.5,371.3 508.2,370.3 509.5,364.3 511,360.3 512.7,357.3ZM547.8,401.3 548.5,400.7 549.5,400.7 550.5,401.8 550.5,404.3 549.5,405.3 548.5,405.3 547.5,404.3 547.3,402.3Z"/><path fill="#666666" d="M517.7,354.3 520.5,353.9 524.5,354.3 527.5,356.3 529.5,358.4 531.9,362.3 534.6,368.3 536.3,373.3 537.9,380.3 538.7,385.3 538.7,389.3 536.7,401.3 532.5,402.9 530.9,404.3 529.3,407.3 528.7,410.3 529.1,413.3 530,415.3 531.5,417.2 533.1,418.3 533.6,419.3 533.3,428.3 532.9,429.3 532.6,432.3 532.9,434.3 533.6,435.3 534.3,438.3 538.3,439.3 546.5,443 561.5,452.3 554.5,453.3 548.5,453.5 542.5,452.6 535.5,450.8 533.5,451 530.7,450.3 529.7,449.3 529,447.3 525.5,444.7 524.3,442.3 524.1,440.3 524.5,439.2 528.2,438.3 526.1,422.3 524.8,415.3 523.3,410.3 520.5,405.3 518.5,402.6 517.5,403.1 512.5,401.9 505.5,401.7 502.3,400.3 496.8,396.3 485.8,386.3 486.6,385.3 508.5,371.7 510.4,364.3 512,360.3 514.5,356.7Z"/><path fill="#6a6a6a" d="M518.7,355.3 521.5,354.9 524.5,355.7 527.5,357.8 529.5,360.1 532,364.3 534.5,370.1 537.5,381.7 538.1,386.3 538.1,389.3 536,401.3 532.5,402.8 530.7,404.3 529.1,407.3 528.6,410.3 529.3,414.3 531.5,417.5 532.7,418.3 532.9,419.3 532.5,432.3 533.6,438.3 537.9,439.3 546.5,443.1 556.5,449.5 560,451.3 560.9,452.3 552.9,453.3 548.5,453.4 541.6,452.3 535.5,450.3 533.5,450.7 531.1,450.3 529.3,447.3 525.5,444.5 524.4,442.3 524.5,439.6 528.7,438.3 526.8,423.3 525.1,414.3 523.9,410.3 521,405.3 518.5,401.8 517.5,402.5 515.5,402.5 513.5,401.8 506.1,401.3 504,400.3 498.4,396.3 487.4,386.3 488.2,385.3 509.2,372.3 510.7,366.3 512.6,361.3 515.5,357.3Z"/><path fill="#6e6e6e" d="M520.5,356.3 522.5,356.4 525.5,357.6 528.4,360.3 530.4,363.3 532.5,367.3 534.5,372.3 537.1,383.3 537.5,387.3 537.3,390.3 535.3,401.3 533.5,402 530.5,404.4 529.3,406.3 528.4,410.3 529,414.3 530.2,416.3 532.2,418.3 531.9,432.3 532.9,438.3 534.5,438.9 537.5,439.3 546.5,443.2 556.5,449.6 559.7,451.3 560.3,452.3 552.5,453.2 548.5,453.3 542.1,452.3 535.5,450.2 531.4,450.3 530.8,448.3 525.5,444.3 524.5,442.3 524.5,439.9 529.4,438.3 527.2,421.3 526,415.3 524.6,410.3 522.3,406.3 518.5,401 516.8,402.3 515.5,402.3 513.5,401.7 507.8,401.3 504,399.3 498.8,395.3 489,386.3 489.8,385.3 509.5,373.2 510.1,372.3 512.3,364.3 514.4,360.3 517.5,357.3Z"/><path fill="#727272" d="M518.6,358.3 521.5,357.7 523.5,358.1 526.5,359.9 528.5,362.1 531.1,366.3 533.3,371.3 536.4,383.3 536.8,387.3 536.7,390.3 534.6,401.3 531.5,403.1 530.4,404.3 529.1,406.3 528.1,410.3 528.8,414.3 531,418.3 530.6,428.3 531.7,438.3 532.5,438.9 539.5,440.1 546.5,443.3 559.4,451.3 559.6,452.3 549.5,453.2 542.5,452.3 534.5,449.9 533.5,449.2 532.5,449.3 525.8,444.3 524.5,441.7 524.5,440.3 525.5,439.7 530.5,438.3 529.1,426.3 528,420.3 526.1,412.3 524.3,408.3 518.5,400.2 516.5,401.8 515.5,402 509.7,401.3 507.4,400.3 501.6,396.3 490.6,386.3 491.4,385.3 510.5,373.6 512.2,367.3 513.9,363.3 515.9,360.3Z"/><path fill="#767676" d="M520.4,359.3 522.5,359.3 525.5,360.7 527.5,362.6 529.5,365.4 531.5,369 533.2,373.3 535.9,384.3 536,390.3 533.8,401.3 531.5,402.9 528.9,406.3 527.9,409.3 527.5,413.1 526.9,411.3 525.1,408.3 518.5,399.2 516.5,401.1 515.5,401.4 512.1,401.3 509.2,400.3 503.2,396.3 492.2,386.3 493,385.3 511.2,374.3 512.8,368.3 514.5,364.3 517.5,360.6ZM527.6,413.3 528.5,413.1 528.5,415.4ZM528.4,439.3 535.5,439.6 539.5,440.3 548.2,444.3 558.9,451.3 558.8,452.3 550.5,453.1 545.5,452.7 540.5,451.7 532.5,449 527.1,445.3 525.3,443.3 524.6,441.3 524.9,440.3 526.5,439.6Z"/><path fill="#7a7a7a" d="M519.2,361.3 521.5,360.8 523.5,361.2 526.5,363.3 528.5,365.7 530.5,369 532.4,373.3 535.1,383.3 535.5,387.3 535.3,390.3 533.3,400.3 532.2,402.3 529.9,404.3 527.5,409.4 523.5,405 518.5,398.3 516.5,400.1 514.5,400.8 511.5,400.3 509.5,399.5 504.5,396 493.8,386.3 494.6,385.3 511.5,375.2 512.2,374.3 513.5,369.2 515.2,365.3 517.5,362.4ZM525.4,440.3 527.5,439.6 529.5,439.4 539.5,440.5 547.5,444 558.4,451.3 557.8,452.3 548.5,452.9 543.5,452.3 537.5,450.6 532.5,448.7 527.4,445.3 525.4,443.3 524.9,441.3Z"/><path fill="#7e7e7e" d="M518.9,363.3 521.5,362.5 523.5,362.9 525.5,364.1 527.5,366.1 529.5,369.1 531.5,373.3 534.1,382.3 534.7,386.3 534.7,389.3 532.7,399.3 531.6,402.3 528.9,405.3 528.5,406.9 527.5,407.2 525.5,406 523.5,403.9 518.5,397.2 517.5,397.2 516.5,398.9 515.5,399.7 513.5,399.9 511.4,399.3 506.5,396.2 495.4,386.3 496.2,385.3 504.3,380.3 512.5,375.8 515.4,367.3 516.7,365.3ZM525.9,440.3 529.5,439.6 539.5,440.7 547.5,444.1 556.8,450.3 557.5,451.3 556.6,452.3 548.5,452.8 543.5,452.2 537.5,450.5 532.5,448.4 527.6,445.3 525.6,443.3 525.3,442.3 525.2,441.3Z"/><path fill="#818181" d="M521.1,364.3 522.5,364.3 524.5,365.1 526.5,366.8 528.5,369.4 531.5,375.8 533.8,384.3 533.8,390.3 531.8,399.3 529.5,404 527.5,405.2 525.5,404.6 523.5,402.7 517.5,395.1 516.5,397.4 515.5,398.4 513.5,398.8 511.5,398.2 506.5,394.7 497.2,386.3 497.9,385.3 504.4,381.3 513.5,376.3 514.8,371.3 516.5,367.8 518.5,365.4ZM526.4,440.3 528.5,439.8 532.5,439.9 540.7,441.3 547.7,444.3 555.5,450 556.5,450.3 556.5,451.3 554.9,452.3 547.5,452.6 542.5,451.8 536.5,450 531.5,447.7 526.7,444.3 525.4,442.3 525.4,441.3Z"/><path fill="#858585" d="M520.4,366.3 521.5,366.1 523.5,366.4 525.5,367.6 527.5,369.8 530.5,375.6 532.8,383.3 533.3,388.3 532.2,394.3 530.3,400.3 529,402.3 527.5,403.4 525.5,403.1 523.5,401.5 517.5,393.9 515.5,396.8 514.5,397.4 512.5,397.2 507.9,394.3 498.9,386.3 499.7,385.3 507.9,380.3 511.5,378.5 513.5,378 514.1,377.3 516.5,370.2 518.5,367.5ZM527,440.3 529.5,439.9 532.5,440 539.5,441.2 542.9,442.3 547.5,444.3 550.5,446.2 554.7,449.3 555.7,450.3 555.5,451 554.5,451.7 552.3,452.3 547.5,452.5 542.5,451.7 536.5,449.9 531.5,447.6 527,444.3 525.7,442.3 525.8,441.3Z"/><path fill="#898989" d="M520.4,368.3 521.5,368 523.5,368.3 525.5,369.5 527.5,371.9 530.5,378.1 532.2,384.3 532.4,389.3 530.5,396.7 528.5,400.7 526.5,401.7 525.5,401.5 523.5,400.2 517.5,392.9 516.5,392.9 515.5,394.9 514.5,395.6 512.5,395.6 508.5,393.1 500.8,386.3 501.6,385.3 509.5,380.6 512.5,379.4 514.5,379.3 517.4,371.3 518.5,369.7ZM527.7,440.3 532.5,440.2 542.5,442.3 548.8,445.3 554.5,449.3 554.8,450.3 554,451.3 551.5,452.3 548.5,452.5 543.5,451.8 536.5,449.7 531.2,447.3 527.2,444.3 526,442.3 526.1,441.3Z"/><path fill="#8d8d8d" d="M520.7,370.3 522.5,370 523.5,370.3 526.5,372.7 529.5,378.2 531.4,384.3 531.6,388.3 530.5,393.6 528.5,398.1 527.5,399.3 526.5,399.7 525.5,399.8 523.5,398.6 516.5,390.5 514.5,393.5 512.5,393.7 508.5,391.3 502.7,386.3 503.5,385.3 510.5,381.4 512.5,380.7 514.5,380.9 515.5,379.3 517.8,373.3 519.5,371.1ZM528.5,440.3 531.5,440.2 535.5,440.8 544.4,443.3 548.5,445.2 551.6,447.3 553.8,449.3 553.8,450.3 550.5,452.3 547.5,452.3 542.5,451.5 536.5,449.6 531.5,447.3 527.4,444.3 526.3,442.3 526.5,441.3Z"/><path fill="#919191" d="M521.5,372.3 522.5,372.2 524.5,373 526.5,375.1 528.9,379.3 530.5,384.4 530.7,388.3 529.5,393.2 527.5,396.6 525.5,397.6 523.5,396.8 521.5,395.1 518.5,391.8 516.5,389 515.5,389.1 514,391.3 512.5,391.6 509.5,390.1 504.9,386.3 505.8,385.3 511.5,382.4 513.5,382.2 515.5,383.5 516.5,379.4 518.5,375.1 519.9,373.3ZM526.9,441.3 528.5,440.5 531.5,440.4 535.5,440.9 541.5,442.5 548.1,445.3 551.3,447.3 552.8,449.3 552.5,450.3 551.5,451.6 548.5,452.2 543.5,451.6 537.5,449.9 532.5,447.7 528.7,445.3 526.9,443.3 526.6,442.3Z"/><path fill="#959595" d="M520.8,375.3 522.5,374.7 523.5,374.9 525.5,376.3 528.1,380.3 529.5,384.3 529.7,388.3 529,391.3 527.5,394 525.5,395.4 523.5,395.1 520.5,392.7 517.7,389.3 516.5,386.3 516.6,383.3 517.5,380 519.5,376.5ZM510.7,384.3 512.5,383.9 513.5,384.1 514.5,384.9 514.9,386.3 514.5,387.6 513.5,388.8 511.5,388.9 507.5,386.3 508.4,385.3ZM527.3,441.3 529.5,440.5 532.5,440.6 538.5,441.8 541.5,442.8 549.1,446.3 551.5,448.3 552,450.3 551.5,451.3 550.5,451.8 547.5,452 542.5,451.3 537.5,449.8 532.5,447.6 529,445.3 527.2,443.3 526.9,442.3Z"/><path fill="#999999" d="M522.5,377.3 524.5,377.9 526.5,380 527.7,382.3 528.5,385.3 528.5,388.3 527.5,391.3 526.5,392.6 524.5,393.5 522.5,392.8 520.5,391.2 518.5,388.6 517.6,386.3 517.8,383.3 518.9,380.3 520.5,378.2ZM527.7,441.3 529.5,440.7 532.5,440.7 540.5,442.6 545.5,444.7 548.5,446.4 550.5,448.3 551.5,450.3 550.5,451.5 546.5,451.8 541.5,450.9 536.5,449.3 532.2,447.3 529.2,445.3 527.4,443.3 527.2,442.3Z"/><path fill="#9d9d9d" d="M521.4,380.3 522.5,379.9 524.5,380.5 526,382.3 526.9,384.3 527.2,386.3 527,388.3 526,390.3 524.5,391.3 523.5,391.3 521.5,390.3 519.3,387.3 519,385.3 519.3,383.3 520.3,381.3ZM528.2,441.3 530.5,440.8 533.5,441 540.5,442.7 548.5,446.7 550.2,448.3 551.1,450.3 550.4,451.3 549.5,451.6 546.5,451.7 541.5,450.8 536.5,449.2 532.4,447.3 529.4,445.3 527.7,443.3 527.5,442.3Z"/><path fill="#a1a1a1" d="M522.5,383.3 523.5,383.4 524.5,384.2 524.9,385.3 524.9,387.3 523.5,388.4 522.5,388.2 521.6,387.3 521.2,386.3 521.4,384.3ZM528.8,441.3 531.5,440.9 534.5,441.2 542.5,443.7 548.5,447.1 550.6,449.3 550.8,450.3 549.5,451.4 545.5,451.5 540.5,450.4 535.5,448.7 531,446.3 528.6,444.3 527.8,442.3Z"/><path fill="#a5a5a5" d="M529.4,441.3 531.5,441.1 534.5,441.4 542.5,443.8 546.5,445.9 548.4,447.3 550.2,449.3 550.4,450.3 548.8,451.3 545.5,451.3 540.5,450.3 535.5,448.6 531.2,446.3 528.8,444.3 528.2,443.3 528.1,442.3Z"/><path fill="#a9a9a9" d="M530.3,441.3 535.5,441.7 542.5,444 548.2,447.3 549.9,449.3 550,450.3 548.5,451.1 544.5,451.1 540.5,450.2 535.1,448.3 531.4,446.3 529.1,444.3 528.5,443.3 528.5,442.3Z"/><path fill="#adadad" d="M528.8,442.3 530.5,441.5 532.5,441.4 536.5,442 540.5,443.3 544.5,445.1 547.9,447.3 549.6,449.3 549.6,450.3 547.5,451.1 544.5,450.9 536.5,448.8 533.3,447.3 530.3,445.3 528.8,443.3Z"/><path fill="#b1b1b1" d="M529.2,442.3 530.5,441.7 533.5,441.6 540.5,443.4 544.5,445.3 547.7,447.3 549.3,449.3 549.1,450.3 547.5,450.8 544.5,450.8 536.5,448.6 533.6,447.3 530.5,445.3 529,443.3Z"/><path fill="#b5b5b5" d="M529.6,442.3 531.5,441.7 534.5,441.8 541.5,444 547.4,447.3 549,449.3 548.6,450.3 546.5,450.7 543.5,450.5 535.9,448.3 530.8,445.3 529.3,443.3Z"/><path fill="#b9b9b9" d="M530.1,442.3 533.5,441.9 539.6,443.3 545.8,446.3 548.1,448.3 548.6,449.3 547.5,450.4 544.5,450.5 540.5,449.7 536.5,448.4 531,445.3 529.6,443.3Z"/><path fill="#bdbdbd" d="M530.6,442.3 534.5,442.1 540.5,443.8 545.5,446.3 547.8,448.3 548.2,449.3 547.1,450.3 544.5,450.4 540.5,449.6 536.5,448.3 531.3,445.3 530,443.3Z"/><path fill="#c1c1c1" d="M531.3,442.3 535.5,442.4 541.5,444.3 546.6,447.3 547.5,448.3 547.8,449.3 546.5,450.2 544.5,450.2 540.5,449.5 536.5,448.2 532.8,446.3 530.6,444.3 530.3,443.3Z"/><path fill="#c5c5c5" d="M532.4,442.3 536.5,442.7 541.2,444.3 546.3,447.3 547.2,448.3 547.4,449.3 545.5,450.1 542.5,449.8 538.5,448.8 534.8,447.3 531.8,445.3 530.9,444.3 530.6,443.3Z"/><path fill="#c9c9c9" d="M531,443.3 532.5,442.5 534.5,442.5 540.5,444.1 546,447.3 546.9,448.3 546.9,449.3 545.5,449.8 543.5,449.8 537.4,448.3 532,445.3 531.2,444.3Z"/><path fill="#cdcdcd" d="M531.4,443.3 532.5,442.8 534.5,442.7 540.5,444.3 545.8,447.3 546.6,448.3 546.4,449.3 544.5,449.7 542.5,449.5 537.5,448.2 532.3,445.3 531.5,444.3Z"/><path fill="#d1d1d1" d="M531.9,443.3 534.5,442.8 539.5,444 544.2,446.3 546.2,448.3 545.7,449.3 544.5,449.5 541.9,449.3 538.1,448.3 535.7,447.3 532.5,445.3 531.8,444.3Z"/><path fill="#d5d5d5" d="M532.4,443.3 535.5,443.1 539.9,444.3 543.9,446.3 545.8,448.3 544.7,449.3 543.5,449.3 538.5,448.3 536,447.3 532.8,445.3 532.1,444.3Z"/><path fill="#d9d9d9" d="M533.2,443.3 536,443.3 539.6,444.3 543.6,446.3 545.4,448.3 544.5,449 542.5,449 536.5,447.4 533.1,445.3 532.4,444.3Z"/><path fill="#dddddd" d="M532.9,444.3 533.5,443.6 534.5,443.3 539.2,444.3 543.2,446.3 544.5,447.3 544.9,448.3 543.5,448.8 539.4,448.3 534.7,446.3 533.4,445.3Z"/><path fill="#e1e1e1" d="M533.3,444.3 534.5,443.6 535.5,443.6 538.7,444.3 542.9,446.3 544,447.3 544.3,448.3 541.5,448.6 537.5,447.5 535.1,446.3 533.8,445.3Z"/><path fill="#e5e5e5" d="M533.8,444.3 534.5,443.9 536.5,443.9 540.5,445.2 543.6,447.3 543.5,448.3 540.9,448.3 537.4,447.3 534.2,445.3Z"/><path fill="#e9e9e9" d="M534.4,444.3 537.6,444.3 540.4,445.3 543.1,447.3 542.5,448 541.5,448.1 537.9,447.3 534.5,445.3Z"/><path fill="#ededed" d="M535.5,444.3 539.9,445.3 541.7,446.3 542.6,447.3 541.5,447.8 538.5,447.3 536.2,446.3 535,445.3Z"/><path fill="#f1f1f1" d="M535.5,445.3 536.5,444.7 539.3,445.3 541.1,446.3 541.7,447.3 539.3,447.3 536.7,446.3Z"/><path fill="#f5f5f5" d="M536.3,445.3 538.5,445.3 540.5,446.3 539.5,446.8 538.5,446.6 537.4,446.3Z"/></g></g><g clip-path="url(#c8)"><g filter="url(#j8)"><rect x="400.0" y="569.2" width="201.0" height="104.0" fill="#000"/><path fill="#060606" d="M478.1,569.7 552,569.7 551.5,570.2 550.5,570.4 549.3,571.7 549.3,573.7 550.1,574.7 550.3,579.7 551.2,580.7 551.3,584.7 552.1,585.7 552.4,593.7 553.2,594.7 553.4,603.7 554.2,604.7 554.3,609.7 555.2,610.7 555.3,612.7 556.1,613.7 556.3,615.7 557.2,616.7 557.3,617.7 559.1,620.7 559.3,622.7 560,623.7 560.1,625.7 560,627.7 559.3,628.7 559.1,630.7 557.3,633.7 557.1,635.7 556.3,636.7 556.1,638.7 554.3,641.7 554.2,643.7 553.3,644.7 553.2,647.7 552.3,648.7 552.4,659.7 553.5,660.9 555.5,661 556.5,661.8 567.5,661.9 568.5,662.8 575.5,662.9 576.5,663.8 581.5,663.9 582.5,664.8 586.5,664.9 587.5,665.8 590.5,665.9 591.5,666.8 592.5,666.8 593.4,667.7 593.4,669.7 591.5,671.5 589.5,671.6 588.5,672.5 548.5,672.4 547.5,671.6 540.5,671.6 539.6,670.7 539.6,667.7 538.5,666.6 536.5,666.6 535.5,665.6 533.5,665.6 532.5,664.6 528.5,664.5 527.5,663.6 524.5,663.5 522.7,661.7 522.6,660.7 521.7,659.7 521.6,653.7 520.8,652.7 520.9,638.7 521.7,637.7 521.7,623.7 520.8,622.7 520.7,621.7 519.7,620.7 518.5,619.6 517.5,619.5 516.5,618.6 511.5,618.6 510.5,619.5 507.5,619.6 506.5,620.5 504.5,620.5 503.5,621.3 501.5,621.4 497.5,621.3 496.5,620.5 487.5,620.3 486.5,619.5 475.5,619.2 474.5,618.4 463.5,618.1 462.5,617.4 457.5,617.1 456.5,616.4 452.5,616.1 451.5,615.4 448.5,615.2 447.5,614.4 443.5,614.1 442.5,613.4 439.5,613.1 438.5,612.4 436.5,612.2 435.5,611.4 432.5,611.1 431.5,610.3 429.5,610.1 428.5,609.4 422.5,608 419.5,606.8 418.3,605.7 417.9,604.7 418,603.7 419.5,602.1 432.5,593.9 435.5,592.7 437.5,591.1 438.5,590.9 439.5,590.1 442.5,589 443.5,588.1 444.5,588 445.5,587.1 446.5,587 447.5,586.1 448.5,586 450.5,584.3 451.5,584.1 452.5,583.3 453.5,583.1 454.5,582.3 455.5,582.1 460.5,579.3 462.5,579 465.5,577.2 467.5,577 470.5,575.2 472.5,575 473.5,574.2 475.5,574 476.5,573.2 481.5,573 481.9,572.7 481.9,571.7 481.5,571.4 480.5,571.2ZM532.5,619.6 530.4,621.7 530.3,622.7 529.4,623.7 529.4,628.7 530.3,629.7 530.4,630.7 532.4,632.7 534.5,632.8 536.6,630.7 536.6,628.7 537.6,627.7 537.6,623.7 536.6,622.7 536.6,621.7 534.6,619.7ZM533.5,643.6 531.4,645.7 533.5,647.8 539.5,647.8 540.6,646.7 540.6,644.7 539.5,643.6Z"/><path fill="#0a0a0a" d="M478.8,569.7 551.5,569.7 550.5,570.1 549.5,571.1 549,571.7 549,572.7 549.1,573.7 549.7,574.7 550.1,579.7 550.8,580.7 551.1,584.7 551.8,585.7 552.2,593.7 552.9,594.7 553.2,603.7 553.9,604.7 554.1,609.7 554.8,610.7 555,612.7 555.7,613.7 556.1,615.7 558.7,620.7 559,622.7 559.6,623.7 559.7,625.7 558.7,630.7 557.1,633.7 556.8,635.7 556,636.7 555.6,638.7 554.1,641.7 553.8,643.7 553.1,644.7 552.9,647.7 552.2,648.7 552.2,659.7 553.5,661 555.5,661.3 556.5,661.9 567.5,662.1 568.5,662.9 575.5,663.1 576.5,663.9 581.5,664 582.5,664.9 586.5,665 587.5,665.9 590.5,666 591.5,666.9 592.5,667 593.2,667.7 593.3,669.7 591.5,671.4 589.5,671.5 588.5,672.3 587.5,672.3 564.5,672.3 551.5,671.8 548.5,672.1 547.5,671.4 540.5,671.4 539.8,670.7 539.7,667.7 538.5,666.5 536.5,666.4 535.5,665.5 533.5,665.4 532.5,664.5 528.5,664.3 527.5,663.5 524.5,663.4 522.8,661.7 522.7,660.7 521.9,659.7 521.8,653.7 521.1,652.7 521.3,638.7 521.8,637.7 521.8,623.7 521.1,622.7 520.9,621.7 519.9,620.7 518.5,619.5 517.5,619.4 516.5,618.5 511.5,618.5 510.5,619.3 507.5,619.5 506.5,620.3 501.5,621 497.5,620.8 496.5,620.3 487.5,619.8 486.5,619.3 475.5,618.6 474.5,618.2 463.5,617.6 462.5,617.1 458.1,616.7 456.5,616.1 448.5,614.7 447.5,614.1 444.2,613.7 436.5,611.7 435.5,611 433.3,610.7 423.5,607.2 420.5,605.7 419.5,604.7 420.5,603 424.5,600.9 434.5,593.7 454.9,582.7 461,579.7 462.5,579.4 465.6,577.7 467.5,577.3 470.7,575.7 476.5,573.8 481.5,573.3 482.4,572.7 482.3,571.7 481.5,571ZM532.5,619.5 530.3,621.7 530.2,622.7 529.3,623.7 529.3,628.7 530.2,629.7 530.3,630.7 532.2,632.7 534.5,632.9 536.7,630.7 536.8,628.7 537.6,627.7 537.6,623.7 536.7,622.7 536.7,621.7 534.7,619.7ZM533.5,643.5 531.3,645.7 533.5,647.9 539.5,647.9 540.7,646.7 540.7,644.7 539.5,643.5Z"/><path fill="#0e0e0e" d="M479.8,569.7 550.6,569.7 548.8,571.7 548.8,572.7 551.6,586.7 552.1,593.7 552.6,594.7 553.1,603.7 553.6,604.7 554,609.7 555.9,615.7 558.4,620.7 559.2,623.7 559.3,625.7 558.3,630.7 553.9,641.7 553,644.7 552.6,647.7 552,648.7 552.1,659.7 553.5,661.2 556.5,662 567.5,662.3 568.5,662.9 575.5,663.2 576.5,663.9 581.5,664.2 582.5,664.9 586.5,665.2 587.5,665.9 590.5,666.2 591.5,667 592.5,667.1 593.1,667.7 593.1,669.7 591.5,671.2 589.5,671.4 588.5,672.1 586.5,672.2 566.5,672.2 540.5,671.3 539.9,670.7 539.8,667.7 538.5,666.5 536.5,666.3 535.5,665.5 533.5,665.3 532.5,664.4 528.5,664.1 527.5,663.4 524.5,663.2 523,661.7 522.8,660.7 522.1,659.7 521.9,653.7 521.4,652.7 521.6,639.7 522,637.7 522,623.7 521.1,621.7 520.2,620.7 518.5,619.4 517.5,619.2 516.5,618.4 511.5,618.4 510.5,619.1 507.5,619.3 506.5,620.1 503.5,620.6 500.5,620.7 463.5,617 454.5,615.4 438.7,611.7 430.1,608.7 421.1,604.7 421.9,603.7 436.1,593.7 455.5,583.1 463.5,579.2 471.5,576 476.5,574.4 481.5,573.7 482.5,573.2 483,572.7 482.9,571.7ZM532.5,619.4 530.2,621.7 530,622.7 529.2,623.7 529.2,628.7 530,629.7 530.2,630.7 532.1,632.7 534.5,632.9 536.7,630.7 536.9,628.7 537.7,627.7 537.7,623.7 536.8,622.7 536.7,621.7 534.8,619.7ZM533.5,643.4 531.2,645.7 533.5,648 539.5,647.9 540.7,646.7 540.7,644.7 539.5,643.5Z"/><path fill="#121212" d="M481.1,569.7 549.9,569.7 548.6,571.7 548.5,572.7 551.5,587.7 551.9,593.7 552.5,596.1 552.9,603.7 553.3,604.7 553.8,609.7 555.7,615.7 558.4,621.7 559,625.7 558.3,629.7 553.7,641.7 551.9,648.7 552,659.7 553.5,661.4 556.5,662.1 567.5,662.5 568.5,663 575.5,663.4 576.5,664 581.5,664.4 582.5,665 586.5,665.4 587.5,666 590.5,666.4 592.5,667.3 593.1,668.7 593,669.7 591.5,671.1 589.5,671.3 588.5,671.9 585.5,672.1 569.5,672.1 551.5,671.3 548.5,671.4 547.5,671.1 541.5,671.3 540.1,670.7 539.9,667.7 538.5,666.4 536.5,666.2 535.5,665.4 533.5,665.2 532.5,664.4 524.5,663.1 523.1,661.7 522.3,659.7 521.7,652.7 522.3,631.7 522.1,623.7 521.3,621.7 520.4,620.7 518.5,619.2 517.5,619.1 516.5,618.3 511.5,618.3 510.5,618.8 507.5,619.2 506.5,619.8 500.5,620.4 463.5,616.5 455.5,615 439.5,611.2 435,609.7 423.5,604.7 424.1,603.7 436.5,594.5 455.5,583.8 463.5,579.9 472.5,576.3 476.5,575 482.5,573.8 483.6,572.7 483.5,571.7 482.5,570.5ZM532.5,619.4 530.1,621.7 529.9,622.7 529.1,623.7 529.1,628.7 529.9,629.7 530,630.7 532,632.7 532.5,633 534.5,633 536.8,630.7 537,628.7 537.8,627.7 537.8,623.7 536.9,622.7 536.8,621.7 534.9,619.7 534.5,619.4ZM533.5,643.3 531.1,645.7 533.5,648.1 539.5,648 540.8,646.7 540.8,644.7 539.5,643.4Z"/><path fill="#161616" d="M483.6,570.7 484.5,569.9 486.7,569.7 549.1,569.7 548.5,570.8 548.2,572.7 551.2,587.7 553.6,609.7 554.6,613.7 558,621.7 558.6,624.7 558,629.7 553.5,641.5 551.7,648.7 551.9,659.7 553.5,661.6 556.5,662.2 565.5,662.5 568.5,663.1 574.5,663.5 576.5,664.1 580.5,664.4 582.5,665.1 586.5,665.5 587.5,666.1 590.5,666.5 592.5,667.4 593.1,668.7 592.9,669.7 591.5,670.9 588.5,671.7 584.5,671.9 566.5,671.8 549.5,670.9 540.5,671 539.9,669.7 540,667.7 538.5,666.3 536.5,666 535.5,665.3 533.5,665 532.5,664.3 524.5,662.9 523.3,661.7 522.5,659.7 522,652.7 522.4,649.7 522.1,643.7 522.6,629.7 522.3,623.7 520.6,620.7 518.5,619.1 516.5,618.3 511.5,618.2 505.5,619.8 499.5,620.1 463.5,616 454.5,614.2 440,610.7 426.1,604.7 426,603.7 432.1,598.7 442.4,591.7 455.5,584.5 464.5,580.1 475.5,575.9 482.5,574.4 483.6,573.7 484.1,572.7ZM532.5,619.3 530,621.7 529,623.7 529,628.7 529.9,630.7 531.9,632.7 532.5,633.1 534.5,633.1 536.9,630.7 537.2,628.7 537.9,627.7 537.8,623.7 537,622.7 536.9,621.7 535,619.7 534.5,619.3ZM533.5,643.2 531,645.7 533.5,648.2 539.5,648.1 540.9,646.7 540.9,644.7 539.5,643.3Z"/><path fill="#1a1a1a" d="M484.3,570.7 485.5,570.3 495.9,569.7 548.2,569.7 547.9,572.7 551.1,588.7 553.6,610.7 554.5,614.2 557.7,621.7 558.3,624.7 557.9,628.7 553.5,640.6 551.5,648.7 551.3,650.7 551.7,659.7 553.4,661.7 556.5,662.3 567.5,662.8 575.5,663.7 586.5,665.7 592.5,667.6 593,668.7 592.8,669.7 591.5,670.8 588.5,671.6 583.5,671.8 563.5,671.6 549.5,670.6 544.5,671.1 540.5,670.8 540,669.7 540.1,667.7 538.5,666.2 533.5,664.9 532.5,664.2 524.5,662.7 523.4,661.7 522.7,659.7 522.3,655.7 522.8,629.7 522.4,623.7 521,620.7 518.5,619 516.5,618.2 512.5,618 505.5,619.6 499.5,619.8 462.5,615.4 442.3,610.7 428.6,604.7 427.7,603.7 433.5,598.7 439,594.7 456.5,584.6 464.6,580.7 472.5,577.5 476.5,576.1 481.5,575.3 483.1,574.7 484.3,573.7 484.7,572.7ZM532.5,619.2 529.8,621.7 528.9,623.7 528.9,628.7 529.8,630.7 531.7,632.7 532.5,633.2 534.5,633.2 537,630.7 537.3,628.7 537.9,627.7 537.9,623.7 537.1,622.7 537,621.7 535.2,619.7 534.5,619.2ZM533.5,643.1 531,645.7 533.5,648.3 536.5,648.5 539.5,648.2 541,646.7 541,644.7 539.5,643.2 536.5,642.9Z"/><path fill="#1e1e1e" d="M488,570.7 503.2,569.7 546.8,569.7 547.5,570.1 547.8,570.7 547.5,572.7 551.1,590.7 553.3,610.7 554.4,614.7 557.4,621.7 558.1,624.7 557.3,629.7 553.5,639.8 551.5,647.7 551,650.7 551.6,659.7 553,661.7 556.5,662.5 567.5,663 575.5,663.9 586.5,665.8 592.5,667.7 592.9,668.7 592.6,669.7 591.3,670.7 588.5,671.4 583.5,671.7 564.5,671.5 549.5,670.5 544.5,671 540.5,670.7 540.1,669.7 540.2,667.7 538.5,666.1 533.5,664.8 532.5,664.1 524.9,662.7 523.5,661.5 522.9,659.7 522.4,655.7 522.9,649.7 522.7,643.7 522.9,626.7 522.3,622.7 521.5,620.9 520.5,620.2 516.5,618.1 513.5,617.9 511.5,617.9 503.5,619.6 495.5,619.2 462.5,614.9 457.1,613.7 455.5,612.8 454,612.7 452.7,611.7 448.6,606.7 444.9,600.7 444.9,599.7 477.2,576.7 480.5,576.4 483.5,575.4 485.2,573.7 485.5,571.5ZM532.5,619.1 529.7,621.7 528.8,623.7 528.8,628.7 529.7,630.7 531.6,632.7 532.5,633.3 534.5,633.3 537.1,630.7 537.4,628.7 538,627.7 538,623.7 537.2,622.7 537.1,621.7 535.3,619.7 534.5,619.1ZM532.5,643.7 530.9,645.7 533.5,648.4 536.5,648.6 539.5,648.2 541,646.7 541,644.7 539.5,643.2 535.5,642.8 533.5,643Z"/><path fill="#222222" d="M496.9,570.7 506.7,569.7 545.5,569.7 547.4,570.7 547.2,572.7 550.8,590.7 553.1,610.7 554.1,614.7 557.2,621.7 557.8,624.7 557.1,629.7 552.6,641.7 551.1,648.7 550.8,650.7 551.5,659.7 552.6,661.7 554.5,662.2 575.5,664 586.5,665.9 592.2,667.7 592.8,668.7 592.5,669.7 590.9,670.7 588.5,671.3 582.5,671.6 564.5,671.3 549.5,670.3 544.5,670.8 540.5,670.5 540.2,669.7 540.3,667.7 538.5,666.1 533.7,664.7 532.5,664 525.4,662.7 524.5,662.3 523.5,661 522.9,658.7 522.6,654.7 523.2,649.7 522.9,643.7 523.2,627.7 522.6,622.7 521.5,620.6 518.5,618.8 515.5,617.9 511.5,617.8 505.5,619.2 500.5,619.4 471.6,615.7 467.1,614.7 463.5,611.7 456.3,600.7 456.3,599.7ZM531.5,619.7 529.6,621.7 528.7,623.7 528.7,628.7 529.6,630.7 531.5,632.7 532.5,633.4 534.5,633.3 537.1,630.7 538.1,627.7 538,623.7 537.1,621.7 534.5,619 532.5,619ZM535.5,642.6 533.5,642.9 532.2,643.7 530.8,645.7 531.3,646.7 533.5,648.5 536.5,648.8 539.5,648.3 541.1,646.7 541.1,644.7 539.5,643.1Z"/><path fill="#262626" d="M503.2,570.7 508.1,569.7 544.4,569.7 547,570.7 547,572.7 550.6,590.7 552.8,610.7 553.8,614.7 556.9,621.7 557.5,624.7 557.1,628.7 552.5,641.2 550.5,650.7 551.1,658.7 551.7,660.7 552.3,661.7 554.5,662.4 574.5,664 586.5,666.1 591.9,667.7 592.7,668.7 592.3,669.7 590.6,670.7 588.5,671.2 581.5,671.5 564.5,671.2 549.5,670.2 543.5,670.8 540.5,670.3 540.4,667.7 538.5,666 532.5,663.9 525.5,662.5 524.5,662.1 523.6,660.7 522.8,654.7 523.5,649.7 523.2,643.7 523.5,627.7 522.8,622.7 521.5,620.4 518.6,618.7 515.5,617.8 511.5,617.7 505.5,619 501.5,619.2 474.9,615.7 472.9,614.7 470.6,612.7 465,604.7 462.6,600.7 462.6,599.7ZM531.5,619.5 530.2,620.7 528.6,623.7 528.6,628.7 529.5,630.7 531.2,632.7 532.5,633.5 534.5,633.4 537.2,630.7 538.2,627.7 538.1,623.7 537.2,621.7 534.5,619 532.5,618.9ZM534.5,642.6 532,643.7 530.7,645.7 531.5,647.2 532.5,648.1 534.5,648.8 537.5,648.8 539.5,648.4 541.2,646.7 541.2,644.7 539.5,643 536.5,642.5Z"/><path fill="#2a2a2a" d="M506.6,570.7 509.5,569.7 543.2,569.7 546.6,570.7 546.7,572.7 550.2,589.7 552.5,610.7 553.6,614.7 556.7,621.7 557.3,624.7 556.9,628.7 552.5,640.4 550.5,649.4 551,658.7 551.5,660.8 552,661.7 554.5,662.5 574.5,664.1 586.5,666.2 591.6,667.7 592.6,668.7 592.1,669.7 590.5,670.6 588.5,671 580.5,671.4 564.5,671.1 548.5,669.9 542.5,670.6 540.5,670.1 540.6,667.7 538.5,665.9 532.5,663.8 525.5,662.4 524.5,661.8 523.7,660.7 523,655.7 523.8,649.7 523.4,643.7 523.7,627.7 523,622.7 521.5,620.2 518.5,618.5 514.5,617.5 511.5,617.6 502.5,619.1 486.5,617.1 478.9,615.7 475.1,612.7 469,603.7 467.2,600.7 467.2,599.7 505.5,572.4ZM531.5,619.3 530,620.7 528.5,623.7 528.2,626.7 528.5,628.7 529.2,630.7 530.9,632.7 532.5,633.6 534.5,633.5 537.3,630.7 538.2,627.7 538.2,623.7 536.5,620.6 534.5,618.9 532.5,618.8ZM533.5,642.7 531.7,643.7 530.6,645.7 531.5,647.5 532.5,648.3 534.5,649 537.5,648.9 539.5,648.5 541.3,646.7 541.3,644.7 539.5,642.9 536.5,642.3Z"/><path fill="#2e2e2e" d="M507.7,570.7 510.9,569.7 542,569.7 545.7,570.7 546.2,571.7 550,589.7 552.5,611.7 553.3,614.7 556.1,620.7 557,624.7 556.6,628.7 552.5,639.7 550.3,649.7 550.8,658.7 551.5,661.3 552.5,662.1 554.6,662.7 573.5,664.1 585.5,666.1 591.5,667.8 592.5,668.7 591.9,669.7 590.5,670.5 588.5,670.9 579.5,671.3 563.5,670.9 548.5,669.7 543.5,670.5 541.5,670.4 540.5,669.9 540.7,667.7 539.5,666.4 532.5,663.8 525.5,662.2 524.5,661.6 523.9,660.7 523.2,655.7 524,649.7 523.7,643.7 523.9,627.7 523.5,623.7 522.3,620.7 519.3,618.7 514.5,617.4 511.5,617.4 502.5,618.9 496.5,618.4 485.7,616.7 482.5,615.7 478.7,612.7 475.8,608.7 471,600.7 471,599.7 506.5,574.3ZM533.5,618.7 531.5,619.2 529.8,620.7 528.3,623.7 528,626.7 528.6,629.7 529.7,631.7 531.5,633.3 533.5,633.7 534.5,633.6 535.5,632.9 537.4,630.7 538.3,627.7 538.4,625.7 538.2,623.7 536.7,620.7 535.5,619.4ZM533.5,642.5 531.4,643.7 530.5,645.7 531.4,647.7 532.5,648.5 534.5,649.1 537.5,649.1 539.5,648.5 541.3,646.7 541.3,644.7 539.5,642.9 536.5,642.2Z"/><path fill="#323232" d="M508.9,570.7 512.2,569.7 540.9,569.7 544.8,570.7 545.6,571.7 546.5,574.4 549.6,588.7 552.2,611.7 553,614.7 555.8,620.7 556.7,623.7 556.6,627.7 555.7,630.7 553.1,636.7 551.4,642.7 549.9,650.7 550.6,658.7 551.5,661.7 554.5,662.8 572.5,664.1 584.5,666 591.5,668 592.4,668.7 591.6,669.7 588.5,670.7 580.5,671.1 564.5,670.8 548.5,669.6 544.5,670.2 541.5,670.2 540.5,669.7 540.9,667.7 539.5,666.2 532.6,663.7 525.5,662 524.1,660.7 523.4,656.7 523.4,653.7 524.3,649.7 523.9,642.7 524.1,628.7 523.6,623.7 522.5,620.6 519.5,618.6 514.5,617.2 511.5,617.3 502.5,618.7 496.5,618.1 487.6,616.7 484,614.7 481.9,612.7 474.1,600.7 474.1,599.7 507.5,575.9ZM532.5,618.6 530.5,619.7 529,621.7 528.1,623.7 527.7,626.7 528.3,629.7 529.4,631.7 531.5,633.5 533.5,633.8 535.5,633.1 537.4,630.7 538.4,627.7 538.4,624.7 537.5,621.7 536,619.7 534.5,618.7ZM533.5,642.4 531.2,643.7 530.3,645.7 531.1,647.7 532.5,648.7 534.5,649.3 537.5,649.2 539.5,648.6 541.4,646.7 541.4,644.7 539.5,642.8 536.5,642.1Z"/><path fill="#363636" d="M510,570.7 513.5,569.7 539.7,569.7 543.9,570.7 546.5,576.6 548.8,585.7 550.1,593.7 552.1,612.7 552.7,614.7 555.6,620.7 556.5,623.7 556.3,627.7 555.5,630.7 552.9,635.7 549.7,650.7 550.5,658.9 551.3,661.7 552.5,662.4 554.5,662.9 571.5,664.1 584.5,666.1 591.5,668.1 592.2,668.7 591.4,669.7 588.5,670.6 579.5,671 561.5,670.6 547.5,669.4 544.5,670 541.5,670.1 540.8,669.7 541,667.7 540.5,666.7 539.5,666.1 533.1,663.7 525.5,661.8 524.3,660.7 523.6,656.7 523.6,653.7 524.6,649.7 524.2,641.7 524.3,628.7 523.8,623.7 522.5,620.4 518.5,618.1 514.5,617.1 511.5,617.1 503.5,618.5 495,617.7 490.3,616.7 486.8,614.7 484.7,612.7 476.9,600.7 476.9,599.7 507.7,577.7 508.5,576.7ZM532.5,618.5 530.3,619.7 528.8,621.7 527.9,623.7 527.5,626.7 528.1,629.7 529.1,631.7 531.5,633.6 533.5,634 535.5,633.2 537.5,630.7 538.5,627.7 538.5,624.7 537.6,621.7 536.2,619.7 534.5,618.6ZM532.5,642.6 530.9,643.7 530.1,645.7 530.9,647.7 532.5,648.8 534.5,649.4 537.5,649.3 539.5,648.7 541.5,646.7 541.5,644.7 539.5,642.7 536.5,641.9Z"/><path fill="#3a3a3a" d="M511.1,570.7 514.9,569.7 538.5,569.7 543.1,570.7 543.7,571.7 548.6,585.7 549.9,593.7 551.9,613.7 554.5,618.7 555.9,623.7 555.9,626.7 555.3,629.7 554.1,632.7 552.2,635.7 549.5,650.7 550.5,659.7 551.1,661.7 552.5,662.6 554.5,663 570.5,664.1 583.5,666 591.5,668.3 592,668.7 591.1,669.7 587.5,670.6 578.5,670.9 561.5,670.5 547.5,669.3 543.5,670 541.5,669.9 541.1,669.7 541.2,667.7 540.7,666.7 539.5,665.9 533.6,663.7 525.5,661.7 524.5,660.8 523.7,655.7 524,652.7 524.5,651.1 525.1,650.7 525.2,649.7 524.5,643.7 524.5,628.7 524,623.7 523,620.7 522.1,619.7 519.5,618.3 514.5,616.9 511.5,617 502.5,618.3 496.3,617.7 492.8,616.7 489.3,614.7 487.2,612.7 479.5,600.7 479.5,599.7 508.8,578.7ZM532.5,618.4 530.1,619.7 528.6,621.7 527.7,623.7 527.3,626.7 527.8,629.7 528.9,631.7 531.2,633.7 533.5,634.1 535.5,633.4 537.1,631.7 538.4,628.7 538.6,625.7 538.1,622.7 536.5,619.8 534.5,618.5ZM532.5,642.4 530.7,643.7 529.9,645.7 530.6,647.7 532.5,649 535.5,649.6 538.5,649.2 540.5,648.2 541.6,646.7 541.6,644.7 541,643.7 539.5,642.6 536.5,641.8Z"/><path fill="#3e3e3e" d="M512.1,570.7 516.3,569.7 537.3,569.7 542.2,570.7 543.2,572.7 548.5,587.1 549.7,593.7 551.4,614.7 553.5,617.6 554.5,619.7 555.4,623.7 555.3,626.7 554.7,629.7 553.5,632.4 551.6,634.7 551.2,639.7 549.2,650.7 550,654.7 550.3,659.7 550.9,661.7 552.4,662.7 554.5,663.1 570.5,664.2 583.5,666.1 591.5,668.4 591.8,668.7 590.9,669.7 587.5,670.5 577.5,670.8 561.5,670.4 547.5,669.1 541.5,669.8 540.9,666.7 539.5,665.7 534,663.7 525.5,661.5 524.6,660.7 524,657.7 524,653.7 524.5,651.7 525.9,650.7 524.7,638.7 524.8,627.7 524.2,623.7 523.2,620.7 522.4,619.7 519.5,618.2 514.5,616.8 511.5,616.8 503.5,618.1 497.9,617.7 495.1,616.7 491.6,614.7 489.5,612.7 481.8,600.7 481.8,599.7 509.5,579.9 510.1,578.7ZM531.5,618.6 529.5,620.1 527.9,622.7 527.1,625.7 527.1,627.7 528,630.7 529.5,632.7 531.5,634 533.5,634.3 535.5,633.5 537.5,631.3 538.5,628.7 538.7,624.7 537.9,621.7 536.5,619.6 534.5,618.3 533.5,618.1ZM535.5,641.6 532.5,642.3 530.4,643.7 529.7,645.7 530.4,647.7 532.5,649.2 535.5,649.8 538.5,649.4 540.5,648.4 541.5,647.2 542,645.7 541.2,643.7 538.5,642Z"/><path fill="#424242" d="M513.2,570.7 517.8,569.7 536,569.7 541.3,570.7 543.1,574.7 548.2,588.7 549.5,593.5 550.5,604.7 550.7,614.7 551,615.7 553.5,618.9 554.8,623.7 554.7,626.7 554.1,629.7 553.2,631.7 550.9,634.7 550.3,642.7 548.9,650.7 549.7,653.7 550.2,659.7 550.7,661.7 552,662.7 554.5,663.2 569.5,664.2 583.5,666.2 589.4,667.7 591.7,668.7 590.6,669.7 586.5,670.5 577.5,670.7 561.5,670.3 546.5,668.9 542.5,669.7 541.5,669 541.1,666.7 539.7,665.7 534.4,663.7 525.5,661.3 524.8,660.7 524.1,657.7 524.1,653.7 524.5,652.2 526.6,650.7 525.4,639.7 525,626.7 523.4,620.7 522.7,619.7 520.5,618.5 515.5,616.8 511.5,616.7 502.5,617.9 500.2,617.7 495.3,615.7 492.6,613.7 490.9,611.7 483.9,600.7 483.9,599.7 510.5,580.8ZM531.5,618.4 529.6,619.7 528.1,621.7 527,624.7 526.8,627.7 527.7,630.7 529.2,632.7 531.5,634.2 533.5,634.4 535.5,633.7 537.5,631.6 538.6,628.7 538.8,624.7 538,621.7 536.5,619.4 534.5,618.2 533.5,618ZM534.5,641.6 531.5,642.6 530.2,643.7 529.4,645.7 529.6,646.7 530.5,648.1 533.5,649.7 536.5,649.9 539.5,649.1 541.4,647.7 542,646.7 542,644.7 540.5,642.9 537.5,641.6Z"/><path fill="#464646" d="M514.3,570.7 519.5,569.7 534.5,569.7 539.5,570.5 540.3,570.7 543,576.7 547.8,589.7 549.1,594.7 549.5,597.8 550.1,615.7 553.1,619.7 554.2,623.7 554.1,626.7 553.4,629.7 552.3,631.7 550.4,633.7 549.5,645.7 548.7,650.7 549.6,653.7 550,659.7 550.5,661.8 551.6,662.7 554.5,663.3 568.5,664.1 582.5,666.1 588.5,667.6 591.5,668.7 590.5,669.6 586.5,670.4 576.5,670.6 560.5,670.1 546.5,668.7 542.5,669.5 541.6,668.7 541.4,666.7 540.1,665.7 534.8,663.7 525.5,661.2 525,660.7 524.2,656.7 524.5,652.9 527.2,650.7 526.4,643.7 525.3,626.7 523.6,620.7 523,619.7 520.5,618.4 515.5,616.7 511.5,616.5 503.5,617.8 501.5,617.4 497.3,615.7 494.7,613.7 492.9,611.7 486,600.7 486,599.7 511.2,581.7 512.9,574.7ZM531.5,618.3 529.4,619.7 527.9,621.7 526.7,624.7 526.5,627.7 527.4,630.7 528.9,632.7 531.5,634.3 533.5,634.6 535.7,633.7 537.6,631.7 538.8,628.7 539,624.7 538.2,621.7 536.5,619.3 534.5,618.1ZM533.5,641.6 531,642.7 529.4,644.7 529.3,646.7 530.8,648.7 533.5,649.8 536.5,650 539.5,649.3 541.6,647.7 542.1,646.7 542.1,644.7 540.5,642.7 537.5,641.5Z"/><path fill="#4a4a4a" d="M515.4,570.7 521.5,569.7 532.7,569.7 539.4,570.7 542.5,577.7 547,589.7 548.3,594.7 548.9,599.7 549,610.7 549.5,616.7 551.5,618.4 552.4,619.7 553.6,623.7 553.5,626.7 552.7,629.7 549.7,633.7 548.2,650.7 549.5,654.2 549.9,659.7 550.5,662.2 551.1,662.7 554.5,663.4 567.5,664.1 581.5,666 587.5,667.4 591.2,668.7 590,669.7 584.5,670.4 573.5,670.5 559.5,670 546.5,668.4 542.5,669.3 541.8,668.7 541.6,666.7 540.4,665.7 535.2,663.7 525.2,660.7 524.4,657.7 524.5,653.6 527.8,650.7 526,629.7 526.5,629 526.9,630.7 528.6,632.7 530.5,634.1 533.5,634.7 536,633.7 538.3,630.7 539.1,627.7 538.9,623.7 537.8,620.7 536.5,619.1 534.5,617.9 531.5,618.1 530.4,618.7 528.4,620.7 525.5,626.1 525.1,623.7 523.3,619.7 519.4,617.7 516.5,616.7 513.5,616.3 503.5,617.3 501.4,616.7 497.8,614.7 495.7,612.7 488,600.7 488,599.7 511.8,582.7 512.3,581.7 513.9,574.7ZM533.5,641.5 530.6,642.7 529.1,644.7 529.1,646.7 530.5,648.7 533.5,650 536.5,650.2 539.5,649.4 541.8,647.7 542.3,646.7 542.3,644.7 540.8,642.7 537.5,641.4Z"/><path fill="#4e4e4e" d="M516.5,570.7 524.4,569.7 531.5,569.8 538.3,570.7 541.3,576.7 545.9,588.7 547.9,596.7 548.3,611.7 548.8,616.7 549.3,617.7 550.6,618.7 552,620.7 552.9,624.7 552.6,627.7 551.8,629.7 549.1,632.7 547.6,650.7 548.9,652.7 549.4,654.7 549.9,661.7 549.4,662.7 550.5,662.6 555.5,663.6 567.5,664.2 578.5,665.6 586.5,667.2 590.9,668.7 589.6,669.7 582.5,670.4 568.5,670.4 554.5,669.5 546.5,668.2 542.5,669.1 542,668.7 541.8,666.7 540.5,665.6 535.6,663.7 525.3,660.7 524.6,657.7 524.5,654.7 525.5,653.1 528.4,650.7 526.9,632.7 527.5,631.8 529.5,633.8 532.5,634.9 535.5,634.2 537.2,632.7 538.8,629.7 539.3,626.7 539.1,623.7 538,620.7 535.5,618.2 532.5,617.7 529.5,619.2 527.5,621.7 526.5,623.8 525.5,623.9 523.6,619.7 517.5,616.9 513.5,616.2 506.5,617 503.4,616.7 499.7,614.7 497.6,612.7 489.8,600.7 489.8,599.7 512.5,583.6 513,582.7 514.6,575.7ZM532.5,641.6 530.3,642.7 528.9,644.7 529,647.7 530.5,648.9 533.5,650.1 536.5,650.3 539.5,649.6 542,647.7 542.6,645.7 542.5,644.7 542,643.7 540.5,642.3 538.5,641.5 536.5,641.1Z"/><path fill="#525252" d="M517.7,570.7 527.5,569.8 537.3,570.7 540.5,577 545.4,589.7 546.6,593.7 547.2,597.7 547.6,611.7 548.2,617.7 548.5,618.6 550.3,619.7 551.1,620.7 551.9,622.7 552.2,624.7 551.5,628.7 548.5,632 547.1,650.7 547.5,651.7 548.5,652.3 549.3,654.7 549.7,661.7 548.8,662.7 555.3,663.7 566.5,664.2 577.5,665.5 585.5,667.1 590.6,668.7 589.5,669.5 580.5,670.3 567.5,670.3 554.5,669.4 548.9,668.7 545.5,667.7 544.6,668.7 542.5,669 542,666.7 540.5,665.4 535.9,663.7 525.5,660.7 524.8,657.7 524.9,654.7 525.5,653.6 528.9,650.7 528.8,648.7 529.5,648.4 531.5,649.7 533.5,650.3 537.5,650.3 539.5,649.8 541.3,648.7 542.6,646.7 542.6,644.7 541.5,642.9 539.6,641.7 537.5,641.1 534.5,641 531.7,641.7 528.7,643.7 528.5,645.2 528.3,644.7 527.6,633.7 528.5,633.3 531,634.7 533.5,635 535.5,634.3 537.4,632.7 538.9,629.7 539.5,626.7 539.2,623.7 538.1,620.7 535.5,618.1 532.5,617.6 530.5,618.3 528.8,619.7 527.1,621.7 526.5,623.2 525.8,622.7 524.3,619.7 523.5,619 522.5,618.9 517.5,616.7 512.5,616 505.4,616.7 501.6,614.7 499.4,612.7 496.5,608.7 491.7,600.7 491.7,599.7 513.5,584 515.5,575.9ZM528.5,646.7 528.5,646.6 528.5,646.7 528.5,647Z"/><path fill="#565656" d="M519,570.7 527.5,570 536.1,570.7 539.5,576.8 545,590.7 546.5,597.7 546.8,611.7 547.7,618.7 548.2,619.7 550.5,621.5 551.4,624.7 551.2,626.7 550.5,628.5 549.5,629.6 548.5,630.1 547.9,631.7 546.5,650.7 546.8,651.7 548.5,652.8 549.2,655.7 549.5,661.4 548.1,662.7 554.5,663.7 566.5,664.3 576.5,665.5 584.5,667 590.3,668.7 589.5,669.3 588.5,669.7 583.5,670.1 567.5,670.2 554.5,669.3 549.5,668.7 545.5,667.5 543.8,668.7 542.5,668.8 542.2,666.7 540.5,665.2 526.5,660.9 525.5,660.3 524.9,656.7 525.3,654.7 526.5,653.3 528.8,651.7 529.5,650.7 529.5,649.1 533.5,650.5 537.5,650.4 539.5,649.9 541.5,648.7 542.8,646.7 543,645.7 542.3,643.7 541.5,642.7 539.5,641.5 536.5,640.8 533.5,641 531.5,641.6 529.5,642.9 529,642.7 528.8,641.7 528.3,633.7 531.5,635 534.5,634.9 536.6,633.7 538.7,630.7 539.3,628.7 539.6,625.7 539.1,622.7 538.3,620.7 536.7,618.7 535.5,617.9 532.5,617.4 529.5,618.8 526.8,621.7 526.5,622.5 524.5,618.7 522.5,618.7 518.5,616.9 514.5,616 506.5,616.4 505.5,615.9 502.5,613.9 500.4,611.7 493.5,600.7 493.5,599.7 514.2,584.7 516.5,576Z"/><path fill="#5a5a5a" d="M520.4,570.7 527.5,570.2 534.8,570.7 539,577.7 544.6,591.7 545.7,597.7 546.1,611.7 547.2,620.7 547.5,621.4 548.5,621.5 549.5,622.2 550.4,624.7 550.1,626.7 549.5,627.8 548.5,628.6 547.5,628.6 547.3,630.7 545.9,650.7 546,651.7 547.8,652.7 548.7,653.7 549.3,660.7 547.5,662.9 548.5,663.3 565.5,664.3 575.5,665.4 586.5,667.6 589.9,668.7 589.5,669 587.8,669.7 583.5,670 566.5,670.1 550.5,668.7 546.5,667.6 544.5,666.6 544.3,667.7 543.5,668.4 541.5,665.7 540.5,665.1 526.5,660.8 525.5,659.9 525.2,656.7 525.5,655.1 527.5,653 529.6,651.7 530.5,649.7 534.5,650.7 538.5,650.4 541.5,648.9 543,646.7 543,644.7 542.5,643.7 541.5,642.5 539.5,641.4 535.5,640.7 532.5,641.1 530.5,641.9 529.4,641.7 529,634.7 529.5,634.5 530.5,635.1 532.5,635.3 534.5,635.1 536.8,633.7 538.9,630.7 539.5,628.7 539.7,625.7 539.3,622.7 538.4,620.7 536.5,618.4 533.5,617.3 530.5,618 526.5,621.3 524.5,617.5 522.5,618.4 515.5,616 506.9,615.7 504,613.7 502.2,611.7 495.2,600.7 495.2,599.7 514.8,585.7 517.5,576.1ZM546.5,663.4 545.7,663.7 546.5,663.9 547.2,663.7Z"/><path fill="#5e5e5e" d="M522.1,570.7 528.5,570.4 533.5,570.8 536.4,574.7 538.5,578.7 542.5,588 544.3,593.7 545.1,599.7 545.5,613.7 546.7,621.7 547.5,624.7 546.6,629.7 545.2,651.7 548.5,653.8 549,657.7 548.9,660.7 547.5,662.2 544.7,663.7 544.1,664.7 544.5,665.4 545.5,664.4 550.5,663.4 565.5,664.4 579.5,666.1 586.5,667.7 589.5,668.7 586.9,669.7 578.5,670.2 558.5,669.5 549.5,668.4 545.5,667 544.5,665.9 543.5,668 542.9,666.7 540.5,664.9 526.8,660.7 525.8,659.7 525.4,657.7 525.7,655.7 527.2,653.7 530.4,651.7 530.8,650.7 531.5,650.4 536.5,650.9 539.5,650.2 542,648.7 543.2,646.7 543.3,645.7 542.8,643.7 540.5,641.7 538.5,640.9 535.5,640.5 530.5,641.5 530,640.7 529.8,635.7 530.5,635.4 533.5,635.4 535.5,634.8 537.5,633.2 539,630.7 539.6,628.7 539.9,625.7 539.4,622.7 538.6,620.7 537,618.7 534.5,617.3 532.5,617.2 530.7,617.7 527.5,620.2 526.5,619.8 525.4,617.7 524.5,616.9 522.5,618 515.5,615.9 512.5,615.5 508.7,615.7 505.8,613.7 503.9,611.7 496.9,600.7 496.9,599.7 515.4,586.7 518.5,576.4 520.5,572.7Z"/><path fill="#626262" d="M524.4,570.7 531.3,570.7 534.5,573.8 537,577.7 540.5,585.2 542.7,590.7 543.8,594.7 544.3,599.7 544.7,612.7 546.1,625.7 544.5,651.7 546.5,652.8 548.5,654.4 548.9,658.7 548.5,660.8 546.5,662.4 543.7,663.7 543.4,665.7 542.5,666.2 541.5,665.3 539.5,664.4 527.2,660.7 526.3,659.7 525.8,657.7 526.2,655.7 526.8,654.7 528.5,653.2 531.3,651.7 531.4,650.7 534.5,651.1 538.5,650.7 540.9,649.7 543.1,647.7 543.5,645.7 543,643.7 540.5,641.5 536.5,640.4 533.5,640.5 531.5,640.9 530.8,640.7 530.5,635.7 533.5,635.6 536.5,634.3 538.1,632.7 539.5,629.7 539.9,624.7 539.2,621.7 538.1,619.7 536.5,618.1 534.5,617.2 532.5,617 530.5,617.6 527.5,619.9 525.5,616.4 524.5,616.1 523.5,617 521.5,617.7 518.5,616.4 514.5,615.5 509.5,615.1 507.5,613.7 504.9,610.7 498.6,600.7 498.6,599.7 515.8,587.7 516.4,586.7 519.5,576.7 521.5,573.4ZM549.9,663.7 565.5,664.5 573.5,665.3 581.9,666.7 589.2,668.7 586.5,669.6 577.5,670.1 558.5,669.5 549.5,668.2 545.5,666.7 544.8,665.7 546.1,664.7Z"/><path fill="#666666" d="M526,571.7 528.5,571.3 530.5,571.9 532.5,573.4 534.5,575.6 536.5,578.9 539.8,585.7 542.8,593.7 543.6,599.7 543.9,612.7 545.4,625.7 544.3,643.7 543.5,644.5 543.3,643.7 541.5,641.9 538.5,640.6 534.5,640.2 531.5,640.6 531.5,635.9 534.5,635.5 536.5,634.5 538.2,632.7 539.7,629.7 540.2,626.7 539.9,623.7 538.9,620.7 537.4,618.7 535.5,617.4 533.5,616.9 530.5,617.5 528.5,618.8 527.5,618.7 525.5,614.8 524.5,615 523,616.7 521.5,617.2 514.5,615.2 510.7,614.7 508.3,612.7 506.6,610.7 500.4,600.7 500.4,599.7 516.5,588.5 517.1,587.7 518.5,582.5 520.8,576.7 523.5,573.2ZM543.3,647.7 543.5,647 544.1,647.7 543.8,651.7 546.5,653.2 548.2,654.7 548.7,657.7 548.5,660.1 546.5,662 543,663.7 542.8,665.7 542.5,665.9 540.5,664.5 537.5,663.5 527.7,660.7 526.8,659.7 526.4,658.7 526.4,656.7 527.4,654.7 528.5,653.6 532.5,651.5 539.5,650.5 541.5,649.5ZM547.1,664.7 551.5,663.7 568.5,664.8 579.5,666.3 588.8,668.7 586.5,669.5 577.5,670 557.5,669.3 550.5,668.3 546.5,667 545.2,665.7Z"/><path fill="#6a6a6a" d="M525.6,573.7 527.5,573.1 529.5,573.3 531.5,574.3 533.5,576.3 535.5,579.1 538.9,585.7 542,593.7 542.8,599.7 543.1,612.7 544.5,624.7 543.5,643.7 543.3,642.7 538.5,640.4 532.3,639.7 532.1,636.7 535.5,635.2 537.5,633.8 539.9,629.7 540.3,625.7 539.9,622.7 537.6,618.7 535.5,617.2 533.5,616.7 530.5,617.3 528.5,618.3 527.8,617.7 525.5,613.1 524.5,613.4 523.3,615.7 521.4,616.7 512.6,614.7 510.1,612.7 508.4,610.7 502.1,600.7 502.1,599.7 517.5,589.1 519.5,582.6 521.5,578 523.5,575.3ZM541.5,649.7 542.5,649.2 543.2,649.7 543,651.7 546.6,653.7 548.3,655.7 548.6,656.7 548.5,659.1 547.5,660.7 545.5,662.2 542.3,663.7 542.2,664.7 541.5,664.9 540.5,664.3 528.2,660.7 527.4,659.7 526.9,658.7 526.9,656.7 528,654.7 529,653.7 533,651.7 538.5,651ZM548.1,664.7 551.5,663.9 568.5,664.9 579.5,666.4 588.4,668.7 585.5,669.5 576.5,670 557.5,669.3 550.5,668.2 546.3,666.7 545.7,665.7Z"/><path fill="#6e6e6e" d="M525.5,575.7 527.5,575 529.5,575.1 531.5,576.2 533,577.7 535.5,581.2 538.5,586.7 541.2,593.7 542,599.7 542.2,612.7 543.6,624.7 542.5,641.8 538.5,640.2 533.2,639.7 533.1,636.7 537.5,634.1 538.6,632.7 540.1,629.7 540.4,625.7 540.1,622.7 537.8,618.7 536.5,617.6 533.5,616.6 530.5,617.1 529.5,617.7 528.5,617.4 525.5,611.3 524.5,610 523.5,614.3 522.1,615.7 520.5,616.1 517.5,615.7 514.6,614.7 511.9,612.7 510.2,610.7 503.9,600.7 503.9,599.7 518.5,589.7 519.5,585.5 521.5,580.7 523.5,577.5ZM539.8,650.7 541.5,650.2 542.3,650.7 542.2,651.7 545.9,653.7 547.5,655.3 548.3,657.7 547.7,659.7 546.9,660.7 545.5,661.8 541.6,663.7 541.5,664.5 528.7,660.7 527.9,659.7 527.3,657.7 527.8,655.7 528.5,654.7 530.5,653.2 533.8,651.7 538.5,651.2ZM549.1,664.7 552.5,664.1 568.5,664.9 579.5,666.5 588.1,668.7 585.5,669.3 576.5,669.9 557.5,669.2 550.5,668.1 546.6,666.7 546.1,665.7Z"/><path fill="#727272" d="M525.7,577.7 527.5,577 529.5,577.1 532.5,579.1 537.5,586.6 540.4,593.7 541.1,599.7 541.3,612.7 542.6,624.7 541.5,640.8 540.5,640.8 538.5,640 534.3,639.7 534.2,636.7 535.1,635.7 536.5,635.2 538.1,633.7 540.1,630.7 540.9,625.7 540.1,621.7 538.9,619.7 536.5,617.4 534.5,616.6 532.5,616.4 529.5,617 529.1,616.7 524.5,607.7 523.3,612.7 522,614.7 519.5,615.3 517.5,614.9 515.5,613.9 513.5,612.3 511.5,610 505.7,600.7 505.7,599.7 519.1,590.7 521.5,583.3 523.5,579.9ZM540.2,650.7 541.2,650.7 541.2,651.7 545.3,653.7 547.3,655.7 547.7,656.7 547.6,658.7 547.1,659.7 545.5,661.3 540.7,663.7 539.5,663.8 529.3,660.7 528.4,659.7 528,658.7 527.9,656.7 529.1,654.7 530.3,653.7 534.8,651.7 539.5,651.3ZM550,664.7 552.5,664.3 568.5,665 579.5,666.6 587.7,668.7 583.5,669.4 576.5,669.9 559.5,669.3 550.5,668 547,666.7 546.5,665.7Z"/><path fill="#767676" d="M526.2,579.7 527.5,579.1 529.5,579.2 532.5,581.2 536.5,586.7 539.2,592.7 540.2,598.7 540.2,611.7 541.3,622.7 540.5,623.6 540.4,621.7 539.2,619.7 536.5,617.2 533.5,616.2 530.2,616.7 524.5,606.1 523.9,606.7 522.3,612.7 521.5,613.6 520.5,614.1 518.5,613.9 516.1,612.7 514.1,610.7 507.5,600.7 507.5,599.7 511.8,596.7 516.5,593.7 519.5,592.5 520,591.7 521.2,586.7 522.5,584 524.5,581.1ZM540.5,628.7 541,629.7 540.1,639.7 535.9,639.7 535.5,635.7 536.5,635.6 539.3,632.7 539.5,631.6 540.4,630.7ZM536.3,651.7 539.7,651.7 545.5,654.4 547.2,656.7 547.4,657.7 546.6,659.7 544.5,661.6 539.5,663.4 533.5,662 529.9,660.7 528.5,658.7 528.4,656.7 528.9,655.7 531.1,653.7ZM550.9,664.7 554.5,664.4 568.5,665 576.5,666.1 587.3,668.7 576.5,669.8 559.5,669.3 550.5,667.8 547.4,666.7 546.9,665.7Z"/><path fill="#7a7a7a" d="M526.8,581.7 529.5,581.4 532.5,583.2 535.5,587 538.3,592.7 539.3,598.7 539,611.7 539.5,618.7 538.5,618.8 536.5,617 534.5,616.1 531,615.7 523.5,602.7 522.5,608.8 521.8,610.7 520.5,612.2 519.5,612.3 517.5,611.6 515.5,609.7 509.5,600.7 509.5,599.7 515.5,595.7 518.5,594.3 520.5,594.1 521.4,589.7 522.5,586.6 524.5,583.5ZM539.5,619.7 539.5,619 539.5,619.7 539.5,619.7ZM534.7,652.7 538.5,652.1 542.5,653 544.5,654 546.3,655.7 546.8,656.7 547,657.7 546.2,659.7 543.5,661.7 539.5,662.8 536.5,662.6 532.8,661.7 530.5,660.7 528.8,658.7 528.8,656.7 531.5,653.8ZM551.8,664.7 555.5,664.5 568.5,665.1 576.5,666.1 586.9,668.7 576.5,669.7 559.5,669.2 550.5,667.7 547.7,666.7 547.3,665.7Z"/><path fill="#7e7e7e" d="M527.1,583.7 529.5,583.4 532.5,585.2 535.5,589 537.6,593.7 538.3,600.7 537.2,616.7 536.3,616.7 535.5,616 532.8,615.7 523.5,600.8 522.7,601.7 521.5,607.4 520.5,609.1 519.5,609.5 518.5,609.3 516.5,607.6 511.7,600.7 511.7,599.7 517.5,596.2 519.5,595.7 521.5,596.7 521.9,595.7 522,591.7 522.9,588.7 524.5,585.8ZM522.5,598.4 522.4,598.7 522.5,599 522.6,598.7ZM537,652.7 541.5,653 544.5,654.3 546,655.7 546.4,656.7 546.6,657.7 545.8,659.7 543.5,661.5 541.5,662.2 538.5,662.6 533.5,661.8 530.5,660.4 529.2,658.7 529,657.7 529.7,655.7 531.5,654.1 533.5,653.1ZM552.8,664.7 568.5,665.2 576.5,666.2 586.5,668.7 576.5,669.6 562.5,669.3 552.5,668.1 548.1,666.7 547.8,665.7Z"/><path fill="#818181" d="M527.4,585.7 529.5,585.5 532.5,587.2 534.6,589.7 536.5,593.8 537.2,598.7 537,603.7 535.7,609.7 534.5,611.8 533.5,611.9 532.5,611.2 528.5,606.6 525.5,602.3 523.4,597.7 522.9,594.7 523.5,590.7 525.5,587.1ZM518.4,597.7 520.5,598.1 521.6,599.7 520.8,603.7 519.5,605.4 518.5,605.3 517.5,604.7 514.2,600.7 514.2,599.7ZM532.9,653.7 536.5,652.9 541.5,653.2 544.5,654.6 545.6,655.7 546.3,657.7 546.1,658.7 545.4,659.7 543.5,661.2 540.5,662.3 537.5,662.5 533.4,661.7 530.5,660.1 529.3,657.7 530,655.7 531.5,654.3ZM554.2,664.7 565.5,665 575.5,666.1 581.5,667.3 585.4,668.7 576.5,669.6 562.5,669.3 552.5,668 548.4,666.7 548.2,665.7 548.5,665.6Z"/><path fill="#858585" d="M528.2,587.7 530.5,587.9 532.5,589.3 534.2,591.7 535.5,594.7 535.9,598.7 535.6,602.7 534.5,606.1 533.5,607.2 532.5,607.4 531.5,607 528.5,604.3 526,600.7 524.5,597.2 524.2,594.7 524.6,591.7 526.4,588.7ZM533.3,653.7 536.5,653 541.5,653.4 543.5,654.2 545.3,655.7 545.9,656.7 545.8,658.7 543.5,661 540.5,662.1 537.5,662.3 533.5,661.6 530.5,659.8 529.5,657.7 530.2,655.7 531.5,654.6ZM548.6,665.7 554.5,664.8 567.5,665.2 576.5,666.3 582.5,667.7 584.3,668.7 574.5,669.6 559.5,669 551.5,667.7 548.8,666.7Z"/><path fill="#898989" d="M527.5,590.7 528.5,590.2 530.5,590.3 532.3,591.7 533.5,593.7 534.3,596.7 534.2,599.7 533.5,602.2 532.5,603.4 531.5,603.6 529.5,602.6 527.5,600.3 526.5,598.4 525.8,595.7 525.9,593.7 526.5,591.9ZM533.8,653.7 538.5,653.1 542.5,653.9 545.1,655.7 545.7,656.7 545.6,658.7 543.5,660.8 540.5,661.9 537.5,662.2 533.5,661.4 530.7,659.7 529.8,657.7 530.5,655.7 531.6,654.7ZM549,665.7 554.5,664.8 567.5,665.2 576.5,666.4 582.2,667.7 583.7,668.7 574.5,669.5 560.5,669.1 551.8,667.7 549.1,666.7Z"/><path fill="#8d8d8d" d="M528.4,594.7 529.5,593.7 530.5,594 531.5,595.3 531.6,597.7 530.7,598.7 529.5,598.3 528.5,596.8ZM534.2,653.7 538.5,653.2 542.5,654.1 544.8,655.7 545.4,656.7 545.4,658.7 543.3,660.7 539.5,661.9 536.5,661.9 532.5,660.8 530.2,658.7 530.2,656.7 532,654.7ZM549.5,665.7 554.5,664.9 567.5,665.3 576.5,666.5 581.9,667.7 583.2,668.7 574.5,669.5 560.5,669 552.2,667.7 549.5,666.7Z"/><path fill="#919191" d="M534.8,653.7 538.5,653.4 542.5,654.3 544.5,655.6 545.2,656.7 545.1,658.7 543,660.7 539.5,661.8 535.5,661.7 532.6,660.7 530.5,658.7 530.4,656.7 532.3,654.7ZM549.9,665.7 555.5,665 567.5,665.4 576.5,666.5 581.6,667.7 582.6,668.7 573.5,669.4 560.5,669 552.5,667.7 549.8,666.7Z"/><path fill="#959595" d="M535.4,653.7 539.5,653.6 543,654.7 545,656.7 544.9,658.7 542.6,660.7 539.5,661.6 536.5,661.7 533,660.7 530.7,658.7 530.6,656.7 532.5,654.8ZM550.3,665.7 555.5,665 567.5,665.4 576.5,666.6 581.2,667.7 582.1,668.7 573.5,669.4 560.5,668.9 552.8,667.7 550.1,666.7Z"/><path fill="#999999" d="M536.3,653.7 539.5,653.7 542.7,654.7 544.7,656.7 544.6,658.7 542.5,660.6 539.5,661.5 535.5,661.4 532.5,660.2 531,658.7 530.9,656.7 532.9,654.7ZM550.8,665.7 555.5,665.1 567.5,665.5 576.5,666.7 580.8,667.7 581.6,668.7 573.5,669.3 560.5,668.9 553.2,667.7 550.5,666.7Z"/><path fill="#9d9d9d" d="M533.3,654.7 537.5,653.7 541.5,654.4 543.5,655.5 544.5,656.7 544.4,658.7 542.5,660.4 539.5,661.3 536.5,661.4 533.7,660.7 532.1,659.7 530.9,657.7 531.8,655.7ZM551.3,665.7 555.5,665.2 567.5,665.5 576.2,666.7 580.4,667.7 581.1,668.7 572.5,669.3 560.5,668.8 553.5,667.7 550.8,666.7Z"/><path fill="#a1a1a1" d="M533.7,654.7 537.5,653.9 541.5,654.5 543.5,655.7 544.2,656.7 544.1,658.7 542.5,660.2 540.5,661 537.5,661.3 534.2,660.7 532.3,659.7 531.2,657.7 532.1,655.7ZM551.7,665.7 556.5,665.2 567.5,665.6 575.9,666.7 579.9,667.7 580.5,668.7 572.5,669.2 560.5,668.8 553.9,667.7 551.2,666.7Z"/><path fill="#a5a5a5" d="M534.1,654.7 537.5,654 541.5,654.7 543.2,655.7 544,656.7 544.2,657.7 543.9,658.7 542.5,660 540.5,660.8 537.5,661.2 534.5,660.7 532.5,659.6 531.4,657.7 531.6,656.7 532.4,655.7ZM552.2,665.7 558.5,665.3 567.5,665.7 575.5,666.7 579.5,667.7 580,668.7 571.5,669.2 560.4,668.7 554.2,667.7 551.5,666.7Z"/><path fill="#a9a9a9" d="M534.5,654.7 538.5,654.2 541.5,654.9 542.9,655.7 543.7,656.7 543.9,657.7 543.6,658.7 542.5,659.8 539.5,660.9 536.5,661 534.5,660.5 532.5,659.3 531.7,657.7 531.9,656.7 532.7,655.7ZM552.8,665.7 559.5,665.3 567.5,665.7 575.1,666.7 579.1,667.7 579.4,668.7 571.5,669.1 560.9,668.7 554.6,667.7 551.9,666.7Z"/><path fill="#adadad" d="M535,654.7 538.5,654.3 541.5,655.1 543.5,656.7 543.7,657.7 543.3,658.7 542.3,659.7 539.5,660.8 536.5,660.8 533.5,659.8 532.3,658.7 531.9,657.7 532.2,656.7 533,655.7ZM553.3,665.7 560.5,665.4 567.5,665.8 574.7,666.7 578.7,667.7 578.8,668.7 571.5,669.1 561.4,668.7 554.9,667.7 552.2,666.7Z"/><path fill="#b1b1b1" d="M535.6,654.7 538.5,654.5 541.5,655.3 543.2,656.7 543.4,657.7 543.1,658.7 541.5,660 538.5,660.7 535.5,660.5 533.6,659.7 532.5,658.7 532.2,657.7 532.4,656.7 533.5,655.6ZM553.9,665.7 565.5,665.6 574.2,666.7 578.3,667.7 578.1,668.7 575.5,668.9 562,668.7 555.3,667.7 552.6,666.7Z"/><path fill="#b5b5b5" d="M536.4,654.7 539.5,654.7 541.9,655.7 542.9,656.7 543.1,657.7 542.8,658.7 541.5,659.8 538.5,660.6 536.5,660.5 534,659.7 532.8,658.7 532.4,657.7 532.7,656.7 533.7,655.7ZM554.5,665.7 565.4,665.7 573.8,666.7 577.8,667.7 577.5,668.7 575.5,668.8 562.6,668.7 555.7,667.7 552.9,666.7Z"/><path fill="#b9b9b9" d="M534,655.7 536.5,654.8 539.5,654.9 541.6,655.7 542.6,656.7 542.9,657.7 542.5,658.7 540.5,660 538.5,660.4 535.5,660.1 533.5,659.1 532.7,657.7 533,656.7ZM555.2,665.7 564.7,665.7 573.4,666.7 577.4,667.7 576.5,668.7 563.3,668.7 556,667.7 553.3,666.7Z"/><path fill="#bdbdbd" d="M534.4,655.7 536.5,655 539.5,655.1 541.5,655.9 542.3,656.7 542.6,657.7 542.2,658.7 540.5,659.8 538.5,660.2 535.5,660 533.5,658.8 533,657.7 533.3,656.7ZM556,665.7 565.5,665.8 572.9,666.7 576.9,667.7 575.9,668.7 565.5,668.8 556.5,667.7 553.7,666.7Z"/><path fill="#c1c1c1" d="M534.8,655.7 537.5,655.1 539.5,655.3 541.5,656.2 542.3,657.7 541.9,658.7 540.3,659.7 537.5,660.1 535.5,659.8 533.7,658.7 533.3,657.7 533.6,656.7ZM556.9,665.7 567.5,666.1 572.5,666.7 576.5,667.7 575,668.7 565.5,668.7 556.8,667.7 554.1,666.7Z"/><path fill="#c5c5c5" d="M535.3,655.7 537.5,655.3 539.5,655.5 541.5,656.5 542,657.7 541.5,658.7 539.7,659.7 535.9,659.7 534.1,658.7 533.6,657.7 533.9,656.7ZM558.3,665.7 568.5,666.3 576,667.7 574,668.7 566,668.7 557.2,667.7 554.5,666.7Z"/><path fill="#c9c9c9" d="M535.9,655.7 537.5,655.4 539.7,655.7 541.3,656.7 541.7,657.7 541.1,658.7 539.5,659.5 536.5,659.7 534.4,658.7 533.9,657.7 534.3,656.7ZM554.9,666.7 557.5,665.9 562.5,665.8 571.5,666.7 575.5,667.7 572.6,668.7 567.5,668.7 557.6,667.7Z"/><path fill="#cdcdcd" d="M536.7,655.7 539.5,655.9 541,656.7 541.3,657.7 540.8,658.7 539.5,659.3 537.5,659.6 535.5,659.1 534.3,657.7 534.5,657ZM555.3,666.7 558.5,665.9 562.5,665.9 571,666.7 575,667.7 572.5,668.5 566.5,668.6 558,667.7Z"/><path fill="#d1d1d1" d="M535.1,656.7 536.5,656 538.5,655.9 540.6,656.7 541,657.7 540.3,658.7 539.5,659.1 536.5,659.2 535.3,658.7 534.6,657.7ZM555.7,666.7 558.5,666.1 562.5,666 570.5,666.7 574.5,667.7 571.5,668.5 566.5,668.5 558.4,667.7Z"/><path fill="#d5d5d5" d="M535.5,656.7 538.5,656.2 540,656.7 540.6,657.7 539.5,658.8 536.5,658.9 535.1,657.7ZM556.2,666.7 559.5,666.1 563.5,666.1 569.9,666.7 573.9,667.7 570.5,668.4 565.5,668.3 558.9,667.7Z"/><path fill="#d9d9d9" d="M536.2,656.7 538.5,656.4 539.5,656.7 540.1,657.7 538.9,658.7 536.6,658.7 535.5,657.7ZM556.6,666.7 559.5,666.2 563.5,666.2 569.4,666.7 573.4,667.7 570.5,668.3 564.5,668.2 559.3,667.7Z"/><path fill="#dddddd" d="M537.3,656.7 538.5,656.7 539.5,657.7 538.5,658.4 537.5,658.5 536.5,658 536.1,657.7ZM557.1,666.7 560.5,666.2 564.5,666.3 568.8,666.7 572.8,667.7 569.5,668.2 563.5,668.1 559.9,667.7Z"/><path fill="#e1e1e1" d="M557.7,666.7 560.5,666.3 565.5,666.5 568.1,666.7 572.1,667.7 568.5,668.1 563.5,668 560.4,667.7Z"/><path fill="#e5e5e5" d="M558.3,666.7 561.5,666.4 566.5,666.6 571.4,667.7 567.5,668 562.5,667.8 561,667.7Z"/><path fill="#e9e9e9" d="M559,666.7 566.6,666.7 570.6,667.7 562.5,667.8Z"/><path fill="#ededed" d="M559.8,666.7 565.6,666.7 569.6,667.7 562.5,667.7Z"/><path fill="#f1f1f1" d="M561.1,666.7 564.3,666.7 565.5,667.3 568.3,667.7 563.7,667.7Z"/></g></g><rect x="41.5" y="16.0" width="227.3" height="75.8" fill="none" stroke="#222" stroke-width="1.0"/><line x1="117.26666666666667" y1="91.8" x2="117.26666666666667" y2="88.8" stroke="#222" stroke-width="1"/><line x1="193.03333333333333" y1="91.8" x2="193.03333333333333" y2="88.8" stroke="#222" stroke-width="1"/><line x1="41.5" y1="72.85" x2="44.5" y2="72.85" stroke="#222" stroke-width="1"/><line x1="41.5" y1="53.9" x2="44.5" y2="53.9" stroke="#222" stroke-width="1"/><line x1="41.5" y1="34.95" x2="44.5" y2="34.95" stroke="#222" stroke-width="1"/><text x="43.1" y="104.6" font-size="12.0" text-anchor="middle" fill="#1a1a1a" textLength="18.35" lengthAdjust="spacingAndGlyphs">200</text><text x="116.4" y="104.6" font-size="12.0" text-anchor="middle" fill="#1a1a1a" textLength="18.35" lengthAdjust="spacingAndGlyphs">500</text><text x="189.2" y="104.6" font-size="12.0" text-anchor="middle" fill="#1a1a1a" textLength="18.35" lengthAdjust="spacingAndGlyphs">800</text><text x="262.5" y="104.6" font-size="12.0" text-anchor="middle" fill="#1a1a1a" textLength="24.46" lengthAdjust="spacingAndGlyphs">1100</text><text x="35.1" y="22.3" font-size="12.0" text-anchor="end" fill="#1a1a1a" textLength="12.23" lengthAdjust="spacingAndGlyphs">40</text><text x="35.1" y="59.8" font-size="12.0" text-anchor="end" fill="#1a1a1a" textLength="12.23" lengthAdjust="spacingAndGlyphs">20</text><text x="35.1" y="95.1" font-size="12.0" text-anchor="end" fill="#1a1a1a" textLength="6.12" lengthAdjust="spacingAndGlyphs">0</text><text x="157.2" y="118.7" font-size="11.5" text-anchor="middle" fill="#1a1a1a" textLength="88.2" lengthAdjust="spacingAndGlyphs">Wavelength (nm)</text><rect x="402.5" y="16.0" width="227.0" height="75.8" fill="none" stroke="#222" stroke-width="1.0"/><line x1="478.16666666666663" y1="91.8" x2="478.16666666666663" y2="88.8" stroke="#222" stroke-width="1"/><line x1="553.8333333333333" y1="91.8" x2="553.8333333333333" y2="88.8" stroke="#222" stroke-width="1"/><line x1="402.5" y1="72.85" x2="405.5" y2="72.85" stroke="#222" stroke-width="1"/><line x1="402.5" y1="53.9" x2="405.5" y2="53.9" stroke="#222" stroke-width="1"/><line x1="402.5" y1="34.95" x2="405.5" y2="34.95" stroke="#222" stroke-width="1"/><text x="403.5" y="104.6" font-size="12.0" text-anchor="middle" fill="#1a1a1a" textLength="18.35" lengthAdjust="spacingAndGlyphs">200</text><text x="476.79999999999995" y="104.6" font-size="12.0" text-anchor="middle" fill="#1a1a1a" textLength="18.35" lengthAdjust="spacingAndGlyphs">500</text><text x="549.5999999999999" y="104.6" font-size="12.0" text-anchor="middle" fill="#1a1a1a" textLength="18.35" lengthAdjust="spacingAndGlyphs">800</text><text x="622.9" y="104.6" font-size="12.0" text-anchor="middle" fill="#1a1a1a" textLength="24.46" lengthAdjust="spacingAndGlyphs">1100</text><text x="396.1" y="22.3" font-size="12.0" text-anchor="end" fill="#1a1a1a" textLength="12.23" lengthAdjust="spacingAndGlyphs">40</text><text x="396.1" y="59.8" font-size="12.0" text-anchor="end" fill="#1a1a1a" textLength="12.23" lengthAdjust="spacingAndGlyphs">20</text><text x="396.1" y="95.1" font-size="12.0" text-anchor="end" fill="#1a1a1a" textLength="6.12" lengthAdjust="spacingAndGlyphs">0</text><text x="517.5999999999999" y="118.7" font-size="11.5" text-anchor="middle" fill="#1a1a1a" textLength="88.2" lengthAdjust="spacingAndGlyphs">Wavelength (nm)</text><text x="11.4" y="55.1" font-size="10.5" text-anchor="middle" fill="#1a1a1a" transform="rotate(-90 11.4 55.1)" textLength="78.6" lengthAdjust="spacingAndGlyphs">Fibre length (cm)</text><text x="155.4" y="10.2" font-size="11.8" text-anchor="middle" fill="#1a1a1a" textLength="175.3" lengthAdjust="spacingAndGlyphs">10 fs, 26 μJ (soliton order N = 3.9)</text><text x="525.7" y="10.2" font-size="11.8" text-anchor="middle" fill="#1a1a1a" textLength="104.8" lengthAdjust="spacingAndGlyphs">18 fs, 64 μJ (N = 7.8)</text><rect x="641.5" y="15.5" width="7.2" height="76.8" fill="url(#cbv)" stroke="#333" stroke-width="0.8"/><line x1="641.5" y1="53.9" x2="643.5" y2="53.9" stroke="#222" stroke-width="0.8"/><line x1="646.7" y1="53.9" x2="648.7" y2="53.9" stroke="#222" stroke-width="0.8"/><text x="656" y="18.6" font-size="12.0" text-anchor="middle" fill="#1a1a1a" textLength="6.12" lengthAdjust="spacingAndGlyphs">0</text><text x="652.5" y="57.1" font-size="12.0" text-anchor="start" fill="#1a1a1a" textLength="15.9" lengthAdjust="spacingAndGlyphs">-25</text><text x="652.5" y="95.6" font-size="12.0" text-anchor="start" fill="#1a1a1a" textLength="15.9" lengthAdjust="spacingAndGlyphs">-50</text><text x="675.3" y="52.6" font-size="10.5" text-anchor="middle" fill="#1a1a1a" transform="rotate(90 675.3 52.6)" textLength="66.7" lengthAdjust="spacingAndGlyphs">Intensity (dB)</text><rect x="98" y="801" width="441" height="6" fill="url(#cbh)" stroke="#333" stroke-width="0.8"/><line x1="245" y1="801" x2="245" y2="807" stroke="#222" stroke-width="0.8"/><line x1="392" y1="801" x2="392" y2="807" stroke="#222" stroke-width="0.8"/><text x="98" y="821.5" font-size="11" text-anchor="middle" fill="#1a1a1a">0</text><text x="245" y="821.5" font-size="11" text-anchor="middle" fill="#1a1a1a">-5</text><text x="392" y="821.5" font-size="11" text-anchor="middle" fill="#1a1a1a">-10</text><text x="536.5" y="821.5" font-size="11" text-anchor="middle" fill="#1a1a1a">-15</text><text x="320.2" y="825.5" font-size="11" text-anchor="middle" fill="#1a1a1a" textLength="75.5" lengthAdjust="spacingAndGlyphs">Intensity (dB)</text><line x1="321.7" y1="-12.6" x2="321.7" y2="789" stroke="#333" stroke-width="1.1" stroke-dasharray="23.7 11.6"/><text x="2" y="12.3" font-size="21" text-anchor="start" fill="#111">a</text><text x="0.5" y="134.5" font-size="22" text-anchor="start" fill="#111">b</text><text x="0.5" y="348.8" font-size="22" text-anchor="start" fill="#111">c</text><text x="0.5" y="568.8" font-size="22" text-anchor="start" fill="#111">d</text><text x="363.5" y="11.5" font-size="21" text-anchor="start" fill="#111">e</text><text x="364.5" y="134" font-size="22" text-anchor="start" fill="#111">f</text><text x="362" y="349.4" font-size="22" text-anchor="start" fill="#111">g</text><text x="363" y="568.8" font-size="22" text-anchor="start" fill="#111">h</text><path d="M241.6 139.3H42.0V238.0H241.6M237.7 139.3V238.0" fill="none" stroke="#222" stroke-width="1.1"/><line x1="42.0" y1="205.10000000000002" x2="46.0" y2="205.10000000000002" stroke="#222" stroke-width="1"/><line x1="237.7" y1="205.10000000000002" x2="241.2" y2="205.10000000000002" stroke="#222" stroke-width="1"/><line x1="42.0" y1="172.20000000000002" x2="46.0" y2="172.20000000000002" stroke="#222" stroke-width="1"/><line x1="237.7" y1="172.20000000000002" x2="241.2" y2="172.20000000000002" stroke="#222" stroke-width="1"/><line x1="90.925" y1="238.0" x2="90.925" y2="234.0" stroke="#222" stroke-width="1"/><line x1="90.925" y1="321.9" x2="90.925" y2="317.9" stroke="#222" stroke-width="1"/><line x1="139.85" y1="238.0" x2="139.85" y2="234.0" stroke="#222" stroke-width="1"/><line x1="139.85" y1="321.9" x2="139.85" y2="317.9" stroke="#222" stroke-width="1"/><line x1="188.77499999999998" y1="238.0" x2="188.77499999999998" y2="234.0" stroke="#222" stroke-width="1"/><line x1="188.77499999999998" y1="321.9" x2="188.77499999999998" y2="317.9" stroke="#222" stroke-width="1"/><text x="35.7" y="242.2" font-size="12.0" text-anchor="end" fill="#1a1a1a" textLength="18.35" lengthAdjust="spacingAndGlyphs">200</text><text x="35.7" y="209.3" font-size="12.0" text-anchor="end" fill="#1a1a1a" textLength="18.35" lengthAdjust="spacingAndGlyphs">500</text><text x="35.7" y="176.4" font-size="12.0" text-anchor="end" fill="#1a1a1a" textLength="18.35" lengthAdjust="spacingAndGlyphs">800</text><text x="37.300000000000004" y="143.5" font-size="12.0" text-anchor="end" fill="#1a1a1a" textLength="24.46" lengthAdjust="spacingAndGlyphs">1100</text><text x="42.0" y="249.1" font-size="10.6" text-anchor="middle" fill="#1a1a1a" textLength="15.9" lengthAdjust="spacingAndGlyphs">-20</text><text x="42.0" y="333.0" font-size="10.6" text-anchor="middle" fill="#1a1a1a" textLength="15.9" lengthAdjust="spacingAndGlyphs">-20</text><text x="90.925" y="249.1" font-size="10.6" text-anchor="middle" fill="#1a1a1a" textLength="15.9" lengthAdjust="spacingAndGlyphs">-10</text><text x="90.925" y="333.0" font-size="10.6" text-anchor="middle" fill="#1a1a1a" textLength="15.9" lengthAdjust="spacingAndGlyphs">-10</text><text x="139.85" y="249.1" font-size="10.6" text-anchor="middle" fill="#1a1a1a" textLength="6.12" lengthAdjust="spacingAndGlyphs">0</text><text x="139.85" y="333.0" font-size="10.6" text-anchor="middle" fill="#1a1a1a" textLength="6.12" lengthAdjust="spacingAndGlyphs">0</text><text x="188.77499999999998" y="249.1" font-size="10.6" text-anchor="middle" fill="#1a1a1a" textLength="12.23" lengthAdjust="spacingAndGlyphs">10</text><text x="188.77499999999998" y="333.0" font-size="10.6" text-anchor="middle" fill="#1a1a1a" textLength="12.23" lengthAdjust="spacingAndGlyphs">10</text><text x="235.39999999999998" y="249.1" font-size="10.6" text-anchor="middle" fill="#1a1a1a" textLength="12.23" lengthAdjust="spacingAndGlyphs">20</text><text x="235.39999999999998" y="333.0" font-size="10.6" text-anchor="middle" fill="#1a1a1a" textLength="12.23" lengthAdjust="spacingAndGlyphs">20</text><text x="10.5" y="188.65" font-size="10.5" text-anchor="middle" fill="#1a1a1a" transform="rotate(-90 10.5 188.65)" textLength="77.5" lengthAdjust="spacingAndGlyphs">Wavelength (nm)</text><text x="47.3" y="233" font-size="9.5" text-anchor="start" fill="#1a1a1a" textLength="25.5" lengthAdjust="spacingAndGlyphs">28 cm</text><rect x="42.0" y="258.2" width="195.7" height="63.69999999999999" fill="none" stroke="#222" stroke-width="1.1"/><text x="35.7" y="262.09999999999997" font-size="10.8" text-anchor="end" fill="#1a1a1a" textLength="15.29" lengthAdjust="spacingAndGlyphs">5.0</text><text x="35.7" y="325.79999999999995" font-size="10.8" text-anchor="end" fill="#1a1a1a" textLength="15.29" lengthAdjust="spacingAndGlyphs">0.0</text><text x="242.0" y="262.09999999999997" font-size="10.8" text-anchor="start" fill="#1a1a1a" textLength="21.41" lengthAdjust="spacingAndGlyphs">4.32</text><text x="242.0" y="325.59999999999997" font-size="10.8" text-anchor="start" fill="#1a1a1a" textLength="21.41" lengthAdjust="spacingAndGlyphs">0.00</text><text x="10.5" y="290.04999999999995" font-size="10.5" text-anchor="middle" fill="#1a1a1a" transform="rotate(-90 10.5 290.04999999999995)" textLength="53.4" lengthAdjust="spacingAndGlyphs">Power (GW)</text><text x="268.09999999999997" y="289.04999999999995" font-size="10.5" text-anchor="middle" fill="#1a1a1a" transform="rotate(90 268.09999999999997 289.04999999999995)">Δn (x10<tspan font-size="6.5" dy="-4">-6</tspan><tspan dy="4">)</tspan></text><rect x="47.3" y="263.9" width="13.6" height="6.5" fill="#7ccbf8"/><line x1="47.3" y1="278.9" x2="61.5" y2="278.9" stroke="#b8262c" stroke-width="1.8"/><text x="64.5" y="271.9" font-size="11.6" text-anchor="start" fill="#1a1a1a" textLength="109.5" lengthAdjust="spacingAndGlyphs">DW (dispersive wave)</text><text x="64.5" y="282.8" font-size="11.6" text-anchor="start" fill="#1a1a1a" textLength="29.5" lengthAdjust="spacingAndGlyphs">Pump</text><path d="M241.6 355.8H42.0V454.1H241.6M237.7 355.8V454.1" fill="none" stroke="#222" stroke-width="1.1"/><line x1="42.0" y1="421.33333333333337" x2="46.0" y2="421.33333333333337" stroke="#222" stroke-width="1"/><line x1="237.7" y1="421.33333333333337" x2="241.2" y2="421.33333333333337" stroke="#222" stroke-width="1"/><line x1="42.0" y1="388.5666666666667" x2="46.0" y2="388.5666666666667" stroke="#222" stroke-width="1"/><line x1="237.7" y1="388.5666666666667" x2="241.2" y2="388.5666666666667" stroke="#222" stroke-width="1"/><line x1="90.925" y1="454.1" x2="90.925" y2="450.1" stroke="#222" stroke-width="1"/><line x1="90.925" y1="540.2" x2="90.925" y2="536.2" stroke="#222" stroke-width="1"/><line x1="139.85" y1="454.1" x2="139.85" y2="450.1" stroke="#222" stroke-width="1"/><line x1="139.85" y1="540.2" x2="139.85" y2="536.2" stroke="#222" stroke-width="1"/><line x1="188.77499999999998" y1="454.1" x2="188.77499999999998" y2="450.1" stroke="#222" stroke-width="1"/><line x1="188.77499999999998" y1="540.2" x2="188.77499999999998" y2="536.2" stroke="#222" stroke-width="1"/><text x="35.7" y="458.3" font-size="12.0" text-anchor="end" fill="#1a1a1a" textLength="18.35" lengthAdjust="spacingAndGlyphs">200</text><text x="35.7" y="425.53333333333336" font-size="12.0" text-anchor="end" fill="#1a1a1a" textLength="18.35" lengthAdjust="spacingAndGlyphs">500</text><text x="35.7" y="392.7666666666667" font-size="12.0" text-anchor="end" fill="#1a1a1a" textLength="18.35" lengthAdjust="spacingAndGlyphs">800</text><text x="37.300000000000004" y="360.0" font-size="12.0" text-anchor="end" fill="#1a1a1a" textLength="24.46" lengthAdjust="spacingAndGlyphs">1100</text><text x="42.0" y="465.20000000000005" font-size="10.6" text-anchor="middle" fill="#1a1a1a" textLength="15.9" lengthAdjust="spacingAndGlyphs">-20</text><text x="42.0" y="551.3000000000001" font-size="10.6" text-anchor="middle" fill="#1a1a1a" textLength="15.9" lengthAdjust="spacingAndGlyphs">-20</text><text x="90.925" y="465.20000000000005" font-size="10.6" text-anchor="middle" fill="#1a1a1a" textLength="15.9" lengthAdjust="spacingAndGlyphs">-10</text><text x="90.925" y="551.3000000000001" font-size="10.6" text-anchor="middle" fill="#1a1a1a" textLength="15.9" lengthAdjust="spacingAndGlyphs">-10</text><text x="139.85" y="465.20000000000005" font-size="10.6" text-anchor="middle" fill="#1a1a1a" textLength="6.12" lengthAdjust="spacingAndGlyphs">0</text><text x="139.85" y="551.3000000000001" font-size="10.6" text-anchor="middle" fill="#1a1a1a" textLength="6.12" lengthAdjust="spacingAndGlyphs">0</text><text x="188.77499999999998" y="465.20000000000005" font-size="10.6" text-anchor="middle" fill="#1a1a1a" textLength="12.23" lengthAdjust="spacingAndGlyphs">10</text><text x="188.77499999999998" y="551.3000000000001" font-size="10.6" text-anchor="middle" fill="#1a1a1a" textLength="12.23" lengthAdjust="spacingAndGlyphs">10</text><text x="235.39999999999998" y="465.20000000000005" font-size="10.6" text-anchor="middle" fill="#1a1a1a" textLength="12.23" lengthAdjust="spacingAndGlyphs">20</text><text x="235.39999999999998" y="551.3000000000001" font-size="10.6" text-anchor="middle" fill="#1a1a1a" textLength="12.23" lengthAdjust="spacingAndGlyphs">20</text><text x="10.5" y="404.95000000000005" font-size="10.5" text-anchor="middle" fill="#1a1a1a" transform="rotate(-90 10.5 404.95000000000005)" textLength="77.5" lengthAdjust="spacingAndGlyphs">Wavelength (nm)</text><text x="47.3" y="448.2" font-size="9.5" text-anchor="start" fill="#1a1a1a" textLength="25.5" lengthAdjust="spacingAndGlyphs">34 cm</text><rect x="42.0" y="476.0" width="195.7" height="64.20000000000005" fill="none" stroke="#222" stroke-width="1.1"/><text x="35.7" y="479.9" font-size="10.8" text-anchor="end" fill="#1a1a1a" textLength="15.29" lengthAdjust="spacingAndGlyphs">5.0</text><text x="35.7" y="544.1" font-size="10.8" text-anchor="end" fill="#1a1a1a" textLength="15.29" lengthAdjust="spacingAndGlyphs">0.0</text><text x="242.0" y="479.9" font-size="10.8" text-anchor="start" fill="#1a1a1a" textLength="21.41" lengthAdjust="spacingAndGlyphs">4.32</text><text x="242.0" y="543.9000000000001" font-size="10.8" text-anchor="start" fill="#1a1a1a" textLength="21.41" lengthAdjust="spacingAndGlyphs">0.00</text><text x="10.5" y="508.1" font-size="10.5" text-anchor="middle" fill="#1a1a1a" transform="rotate(-90 10.5 508.1)" textLength="53.4" lengthAdjust="spacingAndGlyphs">Power (GW)</text><text x="268.09999999999997" y="507.1" font-size="10.5" text-anchor="middle" fill="#1a1a1a" transform="rotate(90 268.09999999999997 507.1)">Δn (x10<tspan font-size="6.5" dy="-4">-6</tspan><tspan dy="4">)</tspan></text><rect x="47.3" y="481.7" width="13.6" height="6.5" fill="#7ccbf8"/><line x1="47.3" y1="496.7" x2="61.5" y2="496.7" stroke="#b8262c" stroke-width="1.8"/><text x="64.5" y="489.7" font-size="11.6" text-anchor="start" fill="#1a1a1a" textLength="18" lengthAdjust="spacingAndGlyphs">DW</text><text x="64.5" y="500.6" font-size="11.6" text-anchor="start" fill="#1a1a1a" textLength="29.5" lengthAdjust="spacingAndGlyphs">Pump</text><path d="M241.6 572.2H42.0V669.9H241.6M237.7 572.2V669.9" fill="none" stroke="#222" stroke-width="1.1"/><line x1="42.0" y1="637.3333333333334" x2="46.0" y2="637.3333333333334" stroke="#222" stroke-width="1"/><line x1="237.7" y1="637.3333333333334" x2="241.2" y2="637.3333333333334" stroke="#222" stroke-width="1"/><line x1="42.0" y1="604.7666666666667" x2="46.0" y2="604.7666666666667" stroke="#222" stroke-width="1"/><line x1="237.7" y1="604.7666666666667" x2="241.2" y2="604.7666666666667" stroke="#222" stroke-width="1"/><line x1="90.925" y1="669.9" x2="90.925" y2="665.9" stroke="#222" stroke-width="1"/><line x1="90.925" y1="759.7" x2="90.925" y2="755.7" stroke="#222" stroke-width="1"/><line x1="139.85" y1="669.9" x2="139.85" y2="665.9" stroke="#222" stroke-width="1"/><line x1="139.85" y1="759.7" x2="139.85" y2="755.7" stroke="#222" stroke-width="1"/><line x1="188.77499999999998" y1="669.9" x2="188.77499999999998" y2="665.9" stroke="#222" stroke-width="1"/><line x1="188.77499999999998" y1="759.7" x2="188.77499999999998" y2="755.7" stroke="#222" stroke-width="1"/><text x="35.7" y="674.1" font-size="12.0" text-anchor="end" fill="#1a1a1a" textLength="18.35" lengthAdjust="spacingAndGlyphs">200</text><text x="35.7" y="641.5333333333334" font-size="12.0" text-anchor="end" fill="#1a1a1a" textLength="18.35" lengthAdjust="spacingAndGlyphs">500</text><text x="35.7" y="608.9666666666667" font-size="12.0" text-anchor="end" fill="#1a1a1a" textLength="18.35" lengthAdjust="spacingAndGlyphs">800</text><text x="37.300000000000004" y="576.4000000000001" font-size="12.0" text-anchor="end" fill="#1a1a1a" textLength="24.46" lengthAdjust="spacingAndGlyphs">1100</text><text x="42.0" y="681.0" font-size="10.6" text-anchor="middle" fill="#1a1a1a" textLength="15.9" lengthAdjust="spacingAndGlyphs">-20</text><text x="42.0" y="770.8000000000001" font-size="10.6" text-anchor="middle" fill="#1a1a1a" textLength="15.9" lengthAdjust="spacingAndGlyphs">-20</text><text x="90.925" y="681.0" font-size="10.6" text-anchor="middle" fill="#1a1a1a" textLength="15.9" lengthAdjust="spacingAndGlyphs">-10</text><text x="90.925" y="770.8000000000001" font-size="10.6" text-anchor="middle" fill="#1a1a1a" textLength="15.9" lengthAdjust="spacingAndGlyphs">-10</text><text x="139.85" y="681.0" font-size="10.6" text-anchor="middle" fill="#1a1a1a" textLength="6.12" lengthAdjust="spacingAndGlyphs">0</text><text x="139.85" y="770.8000000000001" font-size="10.6" text-anchor="middle" fill="#1a1a1a" textLength="6.12" lengthAdjust="spacingAndGlyphs">0</text><text x="188.77499999999998" y="681.0" font-size="10.6" text-anchor="middle" fill="#1a1a1a" textLength="12.23" lengthAdjust="spacingAndGlyphs">10</text><text x="188.77499999999998" y="770.8000000000001" font-size="10.6" text-anchor="middle" fill="#1a1a1a" textLength="12.23" lengthAdjust="spacingAndGlyphs">10</text><text x="235.39999999999998" y="681.0" font-size="10.6" text-anchor="middle" fill="#1a1a1a" textLength="12.23" lengthAdjust="spacingAndGlyphs">20</text><text x="235.39999999999998" y="770.8000000000001" font-size="10.6" text-anchor="middle" fill="#1a1a1a" textLength="12.23" lengthAdjust="spacingAndGlyphs">20</text><text x="10.5" y="621.05" font-size="10.5" text-anchor="middle" fill="#1a1a1a" transform="rotate(-90 10.5 621.05)" textLength="77.5" lengthAdjust="spacingAndGlyphs">Wavelength (nm)</text><text x="47.3" y="664" font-size="9.5" text-anchor="start" fill="#1a1a1a" textLength="25.5" lengthAdjust="spacingAndGlyphs">42 cm</text><rect x="42.0" y="696.0" width="195.7" height="63.700000000000045" fill="none" stroke="#222" stroke-width="1.1"/><text x="35.7" y="699.9" font-size="10.8" text-anchor="end" fill="#1a1a1a" textLength="15.29" lengthAdjust="spacingAndGlyphs">3.0</text><text x="35.7" y="763.6" font-size="10.8" text-anchor="end" fill="#1a1a1a" textLength="15.29" lengthAdjust="spacingAndGlyphs">0.0</text><text x="242.0" y="699.9" font-size="10.8" text-anchor="start" fill="#1a1a1a" textLength="21.41" lengthAdjust="spacingAndGlyphs">2.59</text><text x="242.0" y="763.4000000000001" font-size="10.8" text-anchor="start" fill="#1a1a1a" textLength="21.41" lengthAdjust="spacingAndGlyphs">0.00</text><text x="10.5" y="727.85" font-size="10.5" text-anchor="middle" fill="#1a1a1a" transform="rotate(-90 10.5 727.85)" textLength="53.4" lengthAdjust="spacingAndGlyphs">Power (GW)</text><text x="268.09999999999997" y="726.85" font-size="10.5" text-anchor="middle" fill="#1a1a1a" transform="rotate(90 268.09999999999997 726.85)">Δn (x10<tspan font-size="6.5" dy="-4">-6</tspan><tspan dy="4">)</tspan></text><rect x="47.3" y="701.7" width="13.6" height="6.5" fill="#7ccbf8"/><line x1="47.3" y1="716.7" x2="61.5" y2="716.7" stroke="#b8262c" stroke-width="1.8"/><text x="64.5" y="709.7" font-size="11.6" text-anchor="start" fill="#1a1a1a" textLength="18" lengthAdjust="spacingAndGlyphs">DW</text><text x="64.5" y="720.6" font-size="11.6" text-anchor="start" fill="#1a1a1a" textLength="29.5" lengthAdjust="spacingAndGlyphs">Pump</text><text x="138.5" y="784.5" font-size="11" text-anchor="middle" fill="#1a1a1a" textLength="43.2" lengthAdjust="spacingAndGlyphs">Time (fs)</text><path d="M602.0 139.3H403.0V238.0H602.0M598.0 139.3V238.0" fill="none" stroke="#222" stroke-width="1.1"/><line x1="403.0" y1="205.10000000000002" x2="407.0" y2="205.10000000000002" stroke="#222" stroke-width="1"/><line x1="598.0" y1="205.10000000000002" x2="601.5" y2="205.10000000000002" stroke="#222" stroke-width="1"/><line x1="403.0" y1="172.20000000000002" x2="407.0" y2="172.20000000000002" stroke="#222" stroke-width="1"/><line x1="598.0" y1="172.20000000000002" x2="601.5" y2="172.20000000000002" stroke="#222" stroke-width="1"/><line x1="451.75" y1="238.0" x2="451.75" y2="234.0" stroke="#222" stroke-width="1"/><line x1="451.75" y1="321.9" x2="451.75" y2="317.9" stroke="#222" stroke-width="1"/><line x1="500.5" y1="238.0" x2="500.5" y2="234.0" stroke="#222" stroke-width="1"/><line x1="500.5" y1="321.9" x2="500.5" y2="317.9" stroke="#222" stroke-width="1"/><line x1="549.25" y1="238.0" x2="549.25" y2="234.0" stroke="#222" stroke-width="1"/><line x1="549.25" y1="321.9" x2="549.25" y2="317.9" stroke="#222" stroke-width="1"/><text x="396.7" y="242.2" font-size="12.0" text-anchor="end" fill="#1a1a1a" textLength="18.35" lengthAdjust="spacingAndGlyphs">200</text><text x="396.7" y="209.3" font-size="12.0" text-anchor="end" fill="#1a1a1a" textLength="18.35" lengthAdjust="spacingAndGlyphs">500</text><text x="396.7" y="176.4" font-size="12.0" text-anchor="end" fill="#1a1a1a" textLength="18.35" lengthAdjust="spacingAndGlyphs">800</text><text x="398.3" y="143.5" font-size="12.0" text-anchor="end" fill="#1a1a1a" textLength="24.46" lengthAdjust="spacingAndGlyphs">1100</text><text x="403.0" y="249.1" font-size="10.6" text-anchor="middle" fill="#1a1a1a" textLength="15.9" lengthAdjust="spacingAndGlyphs">-20</text><text x="403.0" y="333.0" font-size="10.6" text-anchor="middle" fill="#1a1a1a" textLength="15.9" lengthAdjust="spacingAndGlyphs">-20</text><text x="451.75" y="249.1" font-size="10.6" text-anchor="middle" fill="#1a1a1a" textLength="15.9" lengthAdjust="spacingAndGlyphs">-10</text><text x="451.75" y="333.0" font-size="10.6" text-anchor="middle" fill="#1a1a1a" textLength="15.9" lengthAdjust="spacingAndGlyphs">-10</text><text x="500.5" y="249.1" font-size="10.6" text-anchor="middle" fill="#1a1a1a" textLength="6.12" lengthAdjust="spacingAndGlyphs">0</text><text x="500.5" y="333.0" font-size="10.6" text-anchor="middle" fill="#1a1a1a" textLength="6.12" lengthAdjust="spacingAndGlyphs">0</text><text x="549.25" y="249.1" font-size="10.6" text-anchor="middle" fill="#1a1a1a" textLength="12.23" lengthAdjust="spacingAndGlyphs">10</text><text x="549.25" y="333.0" font-size="10.6" text-anchor="middle" fill="#1a1a1a" textLength="12.23" lengthAdjust="spacingAndGlyphs">10</text><text x="595.7" y="249.1" font-size="10.6" text-anchor="middle" fill="#1a1a1a" textLength="12.23" lengthAdjust="spacingAndGlyphs">20</text><text x="595.7" y="333.0" font-size="10.6" text-anchor="middle" fill="#1a1a1a" textLength="12.23" lengthAdjust="spacingAndGlyphs">20</text><text x="371.5" y="188.65" font-size="10.5" text-anchor="middle" fill="#1a1a1a" transform="rotate(-90 371.5 188.65)" textLength="77.5" lengthAdjust="spacingAndGlyphs">Wavelength (nm)</text><text x="408.8" y="230.3" font-size="9.5" text-anchor="start" fill="#1a1a1a" textLength="25.5" lengthAdjust="spacingAndGlyphs">34 cm</text><rect x="403.0" y="257.6" width="195.0" height="64.29999999999995" fill="none" stroke="#222" stroke-width="1.1"/><text x="396.7" y="261.5" font-size="10.8" text-anchor="end" fill="#1a1a1a" textLength="15.29" lengthAdjust="spacingAndGlyphs">5.0</text><text x="396.7" y="325.79999999999995" font-size="10.8" text-anchor="end" fill="#1a1a1a" textLength="15.29" lengthAdjust="spacingAndGlyphs">0.0</text><text x="602.3" y="261.5" font-size="10.8" text-anchor="start" fill="#1a1a1a" textLength="21.41" lengthAdjust="spacingAndGlyphs">4.32</text><text x="602.3" y="325.59999999999997" font-size="10.8" text-anchor="start" fill="#1a1a1a" textLength="21.41" lengthAdjust="spacingAndGlyphs">0.00</text><text x="371.5" y="289.75" font-size="10.5" text-anchor="middle" fill="#1a1a1a" transform="rotate(-90 371.5 289.75)" textLength="53.4" lengthAdjust="spacingAndGlyphs">Power (GW)</text><text x="628.4" y="288.75" font-size="10.5" text-anchor="middle" fill="#1a1a1a" transform="rotate(90 628.4 288.75)">Δn (x10<tspan font-size="6.5" dy="-4">-6</tspan><tspan dy="4">)</tspan></text><rect x="408.3" y="263.3" width="13.6" height="6.5" fill="#7ccbf8"/><line x1="408.3" y1="278.3" x2="422.5" y2="278.3" stroke="#b8262c" stroke-width="1.8"/><text x="425.5" y="271.3" font-size="11.6" text-anchor="start" fill="#1a1a1a" textLength="18" lengthAdjust="spacingAndGlyphs">DW</text><text x="425.5" y="282.20000000000005" font-size="11.6" text-anchor="start" fill="#1a1a1a" textLength="29.5" lengthAdjust="spacingAndGlyphs">Pump</text><path d="M602.0 355.8H403.0V454.1H602.0M598.0 355.8V454.1" fill="none" stroke="#222" stroke-width="1.1"/><line x1="403.0" y1="421.33333333333337" x2="407.0" y2="421.33333333333337" stroke="#222" stroke-width="1"/><line x1="598.0" y1="421.33333333333337" x2="601.5" y2="421.33333333333337" stroke="#222" stroke-width="1"/><line x1="403.0" y1="388.5666666666667" x2="407.0" y2="388.5666666666667" stroke="#222" stroke-width="1"/><line x1="598.0" y1="388.5666666666667" x2="601.5" y2="388.5666666666667" stroke="#222" stroke-width="1"/><line x1="451.75" y1="454.1" x2="451.75" y2="450.1" stroke="#222" stroke-width="1"/><line x1="451.75" y1="540.2" x2="451.75" y2="536.2" stroke="#222" stroke-width="1"/><line x1="500.5" y1="454.1" x2="500.5" y2="450.1" stroke="#222" stroke-width="1"/><line x1="500.5" y1="540.2" x2="500.5" y2="536.2" stroke="#222" stroke-width="1"/><line x1="549.25" y1="454.1" x2="549.25" y2="450.1" stroke="#222" stroke-width="1"/><line x1="549.25" y1="540.2" x2="549.25" y2="536.2" stroke="#222" stroke-width="1"/><text x="396.7" y="458.3" font-size="12.0" text-anchor="end" fill="#1a1a1a" textLength="18.35" lengthAdjust="spacingAndGlyphs">200</text><text x="396.7" y="425.53333333333336" font-size="12.0" text-anchor="end" fill="#1a1a1a" textLength="18.35" lengthAdjust="spacingAndGlyphs">500</text><text x="396.7" y="392.7666666666667" font-size="12.0" text-anchor="end" fill="#1a1a1a" textLength="18.35" lengthAdjust="spacingAndGlyphs">800</text><text x="398.3" y="360.0" font-size="12.0" text-anchor="end" fill="#1a1a1a" textLength="24.46" lengthAdjust="spacingAndGlyphs">1100</text><text x="403.0" y="465.20000000000005" font-size="10.6" text-anchor="middle" fill="#1a1a1a" textLength="15.9" lengthAdjust="spacingAndGlyphs">-20</text><text x="403.0" y="551.3000000000001" font-size="10.6" text-anchor="middle" fill="#1a1a1a" textLength="15.9" lengthAdjust="spacingAndGlyphs">-20</text><text x="451.75" y="465.20000000000005" font-size="10.6" text-anchor="middle" fill="#1a1a1a" textLength="15.9" lengthAdjust="spacingAndGlyphs">-10</text><text x="451.75" y="551.3000000000001" font-size="10.6" text-anchor="middle" fill="#1a1a1a" textLength="15.9" lengthAdjust="spacingAndGlyphs">-10</text><text x="500.5" y="465.20000000000005" font-size="10.6" text-anchor="middle" fill="#1a1a1a" textLength="6.12" lengthAdjust="spacingAndGlyphs">0</text><text x="500.5" y="551.3000000000001" font-size="10.6" text-anchor="middle" fill="#1a1a1a" textLength="6.12" lengthAdjust="spacingAndGlyphs">0</text><text x="549.25" y="465.20000000000005" font-size="10.6" text-anchor="middle" fill="#1a1a1a" textLength="12.23" lengthAdjust="spacingAndGlyphs">10</text><text x="549.25" y="551.3000000000001" font-size="10.6" text-anchor="middle" fill="#1a1a1a" textLength="12.23" lengthAdjust="spacingAndGlyphs">10</text><text x="595.7" y="465.20000000000005" font-size="10.6" text-anchor="middle" fill="#1a1a1a" textLength="12.23" lengthAdjust="spacingAndGlyphs">20</text><text x="595.7" y="551.3000000000001" font-size="10.6" text-anchor="middle" fill="#1a1a1a" textLength="12.23" lengthAdjust="spacingAndGlyphs">20</text><text x="371.5" y="404.95000000000005" font-size="10.5" text-anchor="middle" fill="#1a1a1a" transform="rotate(-90 371.5 404.95000000000005)" textLength="77.5" lengthAdjust="spacingAndGlyphs">Wavelength (nm)</text><text x="408.8" y="448" font-size="9.5" text-anchor="start" fill="#1a1a1a" textLength="25.5" lengthAdjust="spacingAndGlyphs">38 cm</text><rect x="403.0" y="476.7" width="195.0" height="63.50000000000006" fill="none" stroke="#222" stroke-width="1.1"/><text x="396.7" y="480.59999999999997" font-size="10.8" text-anchor="end" fill="#1a1a1a" textLength="15.29" lengthAdjust="spacingAndGlyphs">5.0</text><text x="396.7" y="544.1" font-size="10.8" text-anchor="end" fill="#1a1a1a" textLength="15.29" lengthAdjust="spacingAndGlyphs">0.0</text><text x="602.3" y="480.59999999999997" font-size="10.8" text-anchor="start" fill="#1a1a1a" textLength="21.41" lengthAdjust="spacingAndGlyphs">4.32</text><text x="602.3" y="543.9000000000001" font-size="10.8" text-anchor="start" fill="#1a1a1a" textLength="21.41" lengthAdjust="spacingAndGlyphs">0.00</text><text x="371.5" y="508.45000000000005" font-size="10.5" text-anchor="middle" fill="#1a1a1a" transform="rotate(-90 371.5 508.45000000000005)" textLength="53.4" lengthAdjust="spacingAndGlyphs">Power (GW)</text><text x="628.4" y="507.45000000000005" font-size="10.5" text-anchor="middle" fill="#1a1a1a" transform="rotate(90 628.4 507.45000000000005)">Δn (x10<tspan font-size="6.5" dy="-4">-6</tspan><tspan dy="4">)</tspan></text><rect x="408.3" y="482.4" width="13.6" height="6.5" fill="#7ccbf8"/><line x1="408.3" y1="497.4" x2="422.5" y2="497.4" stroke="#b8262c" stroke-width="1.8"/><text x="425.5" y="490.4" font-size="11.6" text-anchor="start" fill="#1a1a1a" textLength="18" lengthAdjust="spacingAndGlyphs">DW</text><text x="425.5" y="501.3" font-size="11.6" text-anchor="start" fill="#1a1a1a" textLength="29.5" lengthAdjust="spacingAndGlyphs">Pump</text><path d="M602.0 572.2H403.0V669.9H602.0M598.0 572.2V669.9" fill="none" stroke="#222" stroke-width="1.1"/><line x1="403.0" y1="637.3333333333334" x2="407.0" y2="637.3333333333334" stroke="#222" stroke-width="1"/><line x1="598.0" y1="637.3333333333334" x2="601.5" y2="637.3333333333334" stroke="#222" stroke-width="1"/><line x1="403.0" y1="604.7666666666667" x2="407.0" y2="604.7666666666667" stroke="#222" stroke-width="1"/><line x1="598.0" y1="604.7666666666667" x2="601.5" y2="604.7666666666667" stroke="#222" stroke-width="1"/><line x1="451.75" y1="669.9" x2="451.75" y2="665.9" stroke="#222" stroke-width="1"/><line x1="451.75" y1="759.7" x2="451.75" y2="755.7" stroke="#222" stroke-width="1"/><line x1="500.5" y1="669.9" x2="500.5" y2="665.9" stroke="#222" stroke-width="1"/><line x1="500.5" y1="759.7" x2="500.5" y2="755.7" stroke="#222" stroke-width="1"/><line x1="549.25" y1="669.9" x2="549.25" y2="665.9" stroke="#222" stroke-width="1"/><line x1="549.25" y1="759.7" x2="549.25" y2="755.7" stroke="#222" stroke-width="1"/><text x="396.7" y="674.1" font-size="12.0" text-anchor="end" fill="#1a1a1a" textLength="18.35" lengthAdjust="spacingAndGlyphs">200</text><text x="396.7" y="641.5333333333334" font-size="12.0" text-anchor="end" fill="#1a1a1a" textLength="18.35" lengthAdjust="spacingAndGlyphs">500</text><text x="396.7" y="608.9666666666667" font-size="12.0" text-anchor="end" fill="#1a1a1a" textLength="18.35" lengthAdjust="spacingAndGlyphs">800</text><text x="398.3" y="576.4000000000001" font-size="12.0" text-anchor="end" fill="#1a1a1a" textLength="24.46" lengthAdjust="spacingAndGlyphs">1100</text><text x="403.0" y="681.0" font-size="10.6" text-anchor="middle" fill="#1a1a1a" textLength="15.9" lengthAdjust="spacingAndGlyphs">-20</text><text x="403.0" y="770.8000000000001" font-size="10.6" text-anchor="middle" fill="#1a1a1a" textLength="15.9" lengthAdjust="spacingAndGlyphs">-20</text><text x="451.75" y="681.0" font-size="10.6" text-anchor="middle" fill="#1a1a1a" textLength="15.9" lengthAdjust="spacingAndGlyphs">-10</text><text x="451.75" y="770.8000000000001" font-size="10.6" text-anchor="middle" fill="#1a1a1a" textLength="15.9" lengthAdjust="spacingAndGlyphs">-10</text><text x="500.5" y="681.0" font-size="10.6" text-anchor="middle" fill="#1a1a1a" textLength="6.12" lengthAdjust="spacingAndGlyphs">0</text><text x="500.5" y="770.8000000000001" font-size="10.6" text-anchor="middle" fill="#1a1a1a" textLength="6.12" lengthAdjust="spacingAndGlyphs">0</text><text x="549.25" y="681.0" font-size="10.6" text-anchor="middle" fill="#1a1a1a" textLength="12.23" lengthAdjust="spacingAndGlyphs">10</text><text x="549.25" y="770.8000000000001" font-size="10.6" text-anchor="middle" fill="#1a1a1a" textLength="12.23" lengthAdjust="spacingAndGlyphs">10</text><text x="595.7" y="681.0" font-size="10.6" text-anchor="middle" fill="#1a1a1a" textLength="12.23" lengthAdjust="spacingAndGlyphs">20</text><text x="595.7" y="770.8000000000001" font-size="10.6" text-anchor="middle" fill="#1a1a1a" textLength="12.23" lengthAdjust="spacingAndGlyphs">20</text><text x="371.5" y="621.05" font-size="10.5" text-anchor="middle" fill="#1a1a1a" transform="rotate(-90 371.5 621.05)" textLength="77.5" lengthAdjust="spacingAndGlyphs">Wavelength (nm)</text><text x="408.8" y="661.4" font-size="9.5" text-anchor="start" fill="#1a1a1a" textLength="25.5" lengthAdjust="spacingAndGlyphs">42 cm</text><rect x="403.0" y="696.1" width="195.0" height="63.60000000000002" fill="none" stroke="#222" stroke-width="1.1"/><text x="396.7" y="700.0" font-size="10.8" text-anchor="end" fill="#1a1a1a" textLength="15.29" lengthAdjust="spacingAndGlyphs">3.0</text><text x="396.7" y="763.6" font-size="10.8" text-anchor="end" fill="#1a1a1a" textLength="15.29" lengthAdjust="spacingAndGlyphs">0.0</text><text x="602.3" y="700.0" font-size="10.8" text-anchor="start" fill="#1a1a1a" textLength="21.41" lengthAdjust="spacingAndGlyphs">2.59</text><text x="602.3" y="763.4000000000001" font-size="10.8" text-anchor="start" fill="#1a1a1a" textLength="21.41" lengthAdjust="spacingAndGlyphs">0.00</text><text x="371.5" y="727.9000000000001" font-size="10.5" text-anchor="middle" fill="#1a1a1a" transform="rotate(-90 371.5 727.9000000000001)" textLength="53.4" lengthAdjust="spacingAndGlyphs">Power (GW)</text><text x="628.4" y="726.9000000000001" font-size="10.5" text-anchor="middle" fill="#1a1a1a" transform="rotate(90 628.4 726.9000000000001)">Δn (x10<tspan font-size="6.5" dy="-4">-6</tspan><tspan dy="4">)</tspan></text><rect x="408.3" y="701.8000000000001" width="13.6" height="6.5" fill="#7ccbf8"/><line x1="408.3" y1="716.8000000000001" x2="422.5" y2="716.8000000000001" stroke="#b8262c" stroke-width="1.8"/><text x="425.5" y="709.8000000000001" font-size="11.6" text-anchor="start" fill="#1a1a1a" textLength="18" lengthAdjust="spacingAndGlyphs">DW</text><text x="425.5" y="720.7" font-size="11.6" text-anchor="start" fill="#1a1a1a" textLength="29.5" lengthAdjust="spacingAndGlyphs">Pump</text><text x="499.5" y="784.5" font-size="11" text-anchor="middle" fill="#1a1a1a" textLength="43.2" lengthAdjust="spacingAndGlyphs">Time (fs)</text><path d="M237.7 148.5 L238.8 149.1 L240.4 149.9 L242.2 150.9 L244.2 151.9 L246.1 153.0 L248.0 154.0 L249.9 155.0 L251.8 156.0 L253.8 157.1 L255.7 158.0 L257.4 158.9 L258.7 159.7 L259.7 160.3 L260.3 160.7 L260.7 161.0 L261.0 161.3 L261.3 161.6 L261.5 162.0 L261.7 162.5 L261.9 163.0 L262.0 163.5 L262.0 164.0 L262.0 164.5 L262.0 165.0 L262.0 165.4 L262.1 165.9 L262.1 166.3 L262.0 166.6 L261.8 167.0 L261.5 167.3 L260.8 167.6 L259.6 167.8 L258.4 168.0 L257.4 168.2 L256.8 168.3 L257.0 168.5 L258.2 168.7 L260.3 168.8 L262.9 169.0 L265.6 169.2 L268.1 169.3 L270.0 169.5 L271.5 169.7 L272.9 169.9 L274.0 170.1 L274.9 170.3 L275.4 170.5 L275.5 170.7 L275.1 170.9 L274.4 171.1 L273.2 171.3 L271.8 171.5 L270.0 171.7 L268.0 171.8 L265.5 171.9 L262.6 171.9 L259.3 171.9 L255.9 171.9 L252.8 172.0 L250.0 172.0 L247.2 172.1 L244.1 172.1 L241.1 172.2 L238.8 172.2 L237.6 172.4 L238.0 172.5 L241.0 172.7 L246.4 173.0 L252.9 173.2 L259.2 173.5 L264.0 173.8 L266.0 174.0 L264.2 174.2 L259.5 174.3 L253.3 174.4 L247.0 174.5 L242.1 174.7 L240.0 174.8 L241.5 175.0 L245.7 175.2 L251.3 175.4 L256.9 175.6 L261.3 175.8 L263.0 176.0 L261.4 176.2 L257.2 176.3 L251.8 176.4 L246.3 176.5 L242.0 176.6 L240.0 176.8 L241.0 177.0 L244.3 177.2 L248.7 177.4 L253.1 177.6 L256.6 177.8 L258.0 178.0 L256.7 178.1 L253.5 178.2 L249.2 178.2 L245.0 178.3 L241.6 178.4 L240.0 178.5 L240.8 178.7 L243.4 178.9 L246.9 179.2 L250.4 179.5 L253.0 179.8 L254.0 180.0 L252.9 180.2 L250.3 180.4 L246.9 180.6 L243.3 180.8 L240.1 180.9 L238.0 181.0" fill="none" stroke="#111" stroke-width="1.6" stroke-linejoin="round"/><path d="M237.7 188.0 L238.2 188.2 L238.9 188.4 L239.7 188.7 L240.5 188.9 L241.3 189.2 L242.0 189.5 L242.6 189.8 L243.3 190.0 L243.9 190.2 L244.4 190.5 L244.8 190.8 L245.0 191.0 L244.9 191.2 L244.5 191.5 L244.0 191.8 L243.5 192.0 L243.1 192.2 L243.0 192.5 L243.3 192.7 L243.9 193.0 L244.6 193.2 L245.3 193.5 L245.8 193.7 L246.0 194.0 L245.8 194.2 L245.4 194.4 L244.9 194.7 L244.2 194.9 L243.6 195.4 L243.0 196.0 L242.5 196.9 L242.0 198.0 L241.5 199.3 L240.9 200.6 L240.5 201.9 L240.0 203.0 L239.5 204.0 L239.1 205.0 L238.7 205.9 L238.3 206.8 L237.9 207.5 L237.7 208.0" fill="none" stroke="#111" stroke-width="1.6" stroke-linejoin="round"/><path d="M237.7 225.0 L238.5 225.3 L239.6 225.8 L240.9 226.3 L242.3 226.9 L243.7 227.4 L245.0 228.0 L246.3 228.6 L247.9 229.1 L249.4 229.7 L250.7 230.3 L251.6 230.8 L252.0 231.3 L251.6 231.7 L250.7 232.0 L249.4 232.3 L247.9 232.5 L246.3 232.7 L245.0 233.0 L243.7 233.3 L242.3 233.6 L240.9 233.9 L239.6 234.1 L238.5 234.3 L237.7 234.5" fill="none" stroke="#111" stroke-width="1.6" stroke-linejoin="round"/><text x="253.5" y="221.5" font-size="10" text-anchor="middle" fill="#93309a">261 nm</text><line x1="249" y1="223.5" x2="245.53" y2="227.29" stroke="#93309a" stroke-width="1"/><path d="M243.50 229.50 L244.58 225.06 L245.19 227.66 L247.82 228.04 Z" fill="#93309a"/><line x1="237.7" y1="231.3" x2="252" y2="231.3" stroke="#93309a" stroke-width="1" stroke-dasharray="1.5 1"/><path d="M237.8 359.9 L239.7 360.9 L242.3 362.3 L245.4 363.9 L248.7 365.7 L252.0 367.4 L255.0 369.0 L257.9 370.5 L260.8 372.2 L263.8 373.8 L266.5 375.3 L268.8 376.7 L270.6 377.8 L271.7 378.7 L272.4 379.3 L272.6 379.8 L272.6 380.2 L272.5 380.5 L272.5 381.0 L272.5 381.5 L272.5 382.1 L272.4 382.6 L272.2 383.1 L271.7 383.6 L271.0 384.0 L269.7 384.3 L267.7 384.6 L265.5 384.8 L263.5 385.0 L262.2 385.2 L262.0 385.5 L263.5 385.9 L266.6 386.3 L270.3 386.7 L273.8 387.1 L276.2 387.5 L276.5 387.8 L273.9 388.0 L268.8 388.1 L262.6 388.2 L256.5 388.3 L251.9 388.4 L250.0 388.5 L251.9 388.6 L256.7 388.8 L263.0 389.0 L269.2 389.2 L273.7 389.3 L275.0 389.5 L271.9 389.7 L265.4 389.8 L257.3 390.0 L249.2 390.1 L242.9 390.3 L240.0 390.5 L241.7 390.7 L246.7 390.9 L253.6 391.2 L260.5 391.4 L265.8 391.6 L268.0 391.8 L265.9 391.9 L260.7 392.0 L253.9 392.1 L247.1 392.2 L242.0 392.3 L240.0 392.5 L242.3 392.7 L247.9 393.0 L255.1 393.2 L262.3 393.5 L267.8 393.8 L270.0 394.0 L267.9 394.2 L262.5 394.3 L255.5 394.4 L248.4 394.6 L242.7 394.8 L240.0 395.0 L241.2 395.4 L245.1 395.8 L250.5 396.3 L256.0 396.8 L260.3 397.2 L262.0 397.5 L260.5 397.7 L256.6 397.7 L251.5 397.7 L246.3 397.7 L242.1 397.8 L240.0 398.0 L240.6 398.4 L243.1 398.9 L246.6 399.4 L250.2 400.0 L253.0 400.6 L254.0 401.0 L252.7 401.3 L249.9 401.6 L246.1 401.9 L242.4 402.1 L239.4 402.3 L238.0 402.5 L238.6 402.7 L240.7 402.9 L243.6 403.1 L246.6 403.2 L248.9 403.4 L250.0 403.5 L249.5 403.6 L248.0 403.7 L245.9 403.8 L243.6 403.8 L241.5 403.9 L240.0 404.0 L239.2 404.1 L238.6 404.3 L238.3 404.5 L238.1 404.7 L237.9 404.9 L237.8 405.0" fill="none" stroke="#111" stroke-width="1.6" stroke-linejoin="round"/><path d="M237.8 406.0 L238.2 406.2 L238.7 406.4 L239.3 406.7 L239.9 406.9 L240.5 407.2 L241.0 407.5 L241.5 407.7 L241.9 408.0 L242.4 408.2 L242.7 408.5 L242.9 408.7 L243.0 409.0 L242.8 409.3 L242.3 409.6 L241.7 410.0 L241.1 410.3 L240.6 410.7 L240.5 411.0 L240.8 411.3 L241.4 411.6 L242.2 411.9 L243.0 412.3 L243.7 412.6 L244.0 413.0 L244.0 413.4 L243.7 413.9 L243.3 414.4 L242.9 414.9 L242.4 415.4 L242.0 416.0 L241.7 416.6 L241.3 417.3 L241.0 418.1 L240.7 418.8 L240.3 419.4 L240.0 420.0 L239.6 420.5 L239.2 420.9 L238.8 421.2 L238.4 421.6 L238.0 421.8 L237.8 422.0" fill="none" stroke="#111" stroke-width="1.6" stroke-linejoin="round"/><path d="M237.8 443.5 L239.6 443.8 L242.1 444.1 L245.1 444.6 L248.4 445.1 L251.7 445.5 L255.0 446.0 L258.7 446.4 L263.1 446.9 L267.6 447.4 L271.6 447.8 L274.4 448.2 L275.5 448.6 L274.4 448.9 L271.6 449.2 L267.6 449.4 L263.1 449.6 L258.7 449.8 L255.0 450.0 L251.7 450.2 L248.4 450.5 L245.1 450.7 L242.1 450.9 L239.6 451.1 L237.8 451.2" fill="none" stroke="#111" stroke-width="1.6" stroke-linejoin="round"/><text x="256" y="436.7" font-size="10" text-anchor="middle" fill="#93309a">250 nm</text><line x1="250.5" y1="438.5" x2="246.77" y2="443.58" stroke="#93309a" stroke-width="1"/><path d="M245.00 446.00 L245.59 441.47 L246.48 443.98 L249.14 444.08 Z" fill="#93309a"/><line x1="237.8" y1="448.6" x2="275" y2="448.6" stroke="#93309a" stroke-width="1" stroke-dasharray="1.5 1"/><path d="M237.8 578.2 L239.3 579.0 L241.4 580.2 L243.9 581.6 L246.7 583.0 L249.4 584.6 L252.0 586.0 L254.6 587.5 L257.5 589.1 L260.5 590.7 L263.2 592.2 L265.6 593.6 L267.3 594.8 L268.4 595.7 L268.9 596.3 L269.0 596.8 L268.9 597.2 L268.7 597.6 L268.5 598.0 L268.5 598.5 L268.5 598.9 L268.4 599.4 L268.1 599.8 L267.4 600.2 L266.0 600.5 L263.5 600.8 L259.7 600.9 L255.6 601.1 L251.8 601.2 L249.0 601.4 L248.0 601.5 L249.7 601.7 L253.6 601.8 L258.6 602.0 L263.5 602.2 L267.0 602.3 L268.0 602.5 L265.5 602.7 L260.3 602.8 L253.7 603.0 L247.2 603.1 L242.2 603.3 L240.0 603.5 L241.7 603.7 L246.3 604.0 L252.3 604.2 L258.4 604.5 L263.1 604.8 L265.0 605.0 L263.1 605.2 L258.4 605.4 L252.4 605.5 L246.3 605.6 L241.7 605.8 L240.0 606.0 L242.1 606.2 L247.1 606.5 L253.6 606.8 L260.1 607.0 L265.0 607.3 L267.0 607.5 L265.0 607.7 L260.0 607.8 L253.4 608.0 L246.9 608.1 L241.9 608.3 L240.0 608.5 L242.1 608.8 L247.3 609.1 L254.1 609.5 L260.8 609.9 L265.9 610.2 L268.0 610.5 L266.0 610.7 L261.0 610.9 L254.5 611.0 L247.9 611.1 L242.5 611.3 L240.0 611.5 L241.0 611.8 L244.5 612.1 L249.4 612.5 L254.4 612.9 L258.3 613.2 L260.0 613.5 L258.9 613.7 L255.7 613.9 L251.6 614.0 L247.3 614.2 L243.8 614.3 L242.0 614.5 L242.4 614.7 L244.2 615.0 L246.9 615.2 L249.7 615.5 L251.9 615.8 L253.0 616.0 L252.6 616.2 L251.3 616.4 L249.4 616.5 L247.4 616.6 L245.8 616.8 L245.0 617.0 L245.3 617.2 L246.3 617.5 L247.6 617.7 L249.0 618.0 L249.9 618.2 L250.0 618.5 L249.1 618.7 L247.5 618.9 L245.5 619.2 L243.3 619.4 L241.4 619.7 L240.0 620.0 L239.2 620.4 L238.6 621.0 L238.3 621.6 L238.1 622.2 L237.9 622.7 L237.8 623.0" fill="none" stroke="#111" stroke-width="1.6" stroke-linejoin="round"/><path d="M237.8 661.0 L239.9 661.2 L242.8 661.5 L246.2 661.9 L249.9 662.3 L253.6 662.6 L257.0 663.0 L260.7 663.3 L264.9 663.7 L269.2 664.0 L272.9 664.4 L275.5 664.7 L276.5 665.0 L275.5 665.3 L272.9 665.5 L269.2 665.7 L264.9 665.9 L260.7 666.1 L257.0 666.3 L253.6 666.5 L249.9 666.8 L246.2 667.0 L242.8 667.2 L239.9 667.4 L237.8 667.5" fill="none" stroke="#111" stroke-width="1.6" stroke-linejoin="round"/><text x="255.5" y="655.6" font-size="10" text-anchor="middle" fill="#93309a">247 nm</text><line x1="252" y1="657" x2="248.74" y2="661.56" stroke="#93309a" stroke-width="1"/><path d="M247.00 664.00 L247.53 659.47 L248.45 661.97 L251.12 662.02 Z" fill="#93309a"/><line x1="237.8" y1="665" x2="276" y2="665" stroke="#93309a" stroke-width="1" stroke-dasharray="1.5 1"/><path d="M597.8 150.0 L598.8 150.4 L600.2 151.0 L601.8 151.8 L603.5 152.5 L605.3 153.3 L607.0 154.0 L608.6 154.7 L610.3 155.3 L612.0 156.0 L613.6 156.7 L615.3 157.3 L617.0 158.0 L618.7 158.7 L620.4 159.4 L622.2 160.1 L623.9 160.7 L625.5 161.4 L627.0 162.0 L628.4 162.6 L629.7 163.1 L631.0 163.7 L632.1 164.1 L633.1 164.6 L634.0 165.0 L634.7 165.3 L635.3 165.6 L635.8 165.9 L636.1 166.1 L636.3 166.3 L636.3 166.5 L636.2 166.7 L636.0 166.9 L635.6 167.0 L635.0 167.2 L634.2 167.3 L633.0 167.4 L631.5 167.5 L629.7 167.6 L627.7 167.7 L625.4 167.8 L622.8 167.8 L620.0 167.9 L616.4 168.0 L611.9 168.0 L607.1 168.1 L602.8 168.1 L599.5 168.2 L598.0 168.3 L598.9 168.5 L602.0 168.7 L606.1 168.9 L610.3 169.1 L613.6 169.3 L615.0 169.5 L613.8 169.6 L610.5 169.6 L606.3 169.7 L602.4 169.7 L599.9 169.8 L600.0 170.0 L603.9 170.3 L610.9 170.8 L619.3 171.2 L627.4 171.7 L633.6 172.2 L636.0 172.5 L633.5 172.7 L627.2 172.8 L618.9 172.8 L610.4 172.9 L603.5 172.9 L600.0 173.0 L600.8 173.2 L604.7 173.4 L610.1 173.6 L615.8 173.8 L620.2 174.0 L622.0 174.2 L620.5 174.4 L616.7 174.5 L611.6 174.6 L606.4 174.7 L602.2 174.8 L600.0 175.0 L600.3 175.2 L602.4 175.4 L605.4 175.6 L608.5 175.8 L611.0 176.0 L612.0 176.2 L611.1 176.4 L609.0 176.5 L606.1 176.6 L603.3 176.7 L601.0 176.8 L600.0 177.0 L600.6 177.2 L602.5 177.4 L605.0 177.6 L607.5 177.8 L609.4 178.0 L610.0 178.2 L609.1 178.4 L607.2 178.5 L604.6 178.7 L601.9 178.8 L599.6 178.9 L598.0 179.0" fill="none" stroke="#111" stroke-width="1.6" stroke-linejoin="round"/><path d="M597.8 192.0 L598.3 192.3 L599.0 192.6 L599.8 193.1 L600.6 193.6 L601.4 194.3 L602.0 195.0 L602.5 195.9 L602.8 197.0 L603.2 198.2 L603.4 199.4 L603.5 200.5 L603.5 201.5 L603.3 202.4 L603.0 203.1 L602.5 203.8 L602.0 204.5 L601.5 205.2 L601.0 206.0 L600.5 206.9 L599.9 207.8 L599.2 208.8 L598.7 209.7 L598.2 210.5 L597.8 211.0" fill="none" stroke="#111" stroke-width="1.6" stroke-linejoin="round"/><path d="M597.8 220.5 L598.3 220.9 L599.1 221.4 L600.0 222.1 L600.9 222.7 L602.0 223.4 L603.0 224.0 L604.1 224.5 L605.2 225.0 L606.4 225.5 L607.6 225.9 L608.8 226.4 L610.0 227.0 L611.3 227.6 L612.8 228.3 L614.2 229.1 L615.5 229.8 L616.3 230.4 L616.5 231.0 L616.0 231.5 L614.8 231.9 L613.3 232.2 L611.5 232.5 L609.7 232.7 L608.0 233.0 L606.3 233.2 L604.3 233.4 L602.4 233.6 L600.5 233.8 L598.9 233.9 L597.8 234.0" fill="none" stroke="#111" stroke-width="1.6" stroke-linejoin="round"/><text x="620" y="220.4" font-size="10" text-anchor="middle" fill="#93309a">255 nm</text><line x1="612" y1="222.5" x2="608.66" y2="227.50" stroke="#93309a" stroke-width="1"/><path d="M607.00 230.00 L607.39 225.45 L608.39 227.92 L611.05 227.89 Z" fill="#93309a"/><line x1="597.8" y1="231" x2="616" y2="231" stroke="#93309a" stroke-width="1" stroke-dasharray="1.5 1"/><path d="M598.2 360.6 L599.3 361.1 L600.7 361.9 L602.5 362.7 L604.4 363.7 L606.2 364.6 L608.0 365.5 L609.7 366.3 L611.3 367.2 L613.0 368.0 L614.7 368.8 L616.3 369.7 L618.0 370.5 L619.7 371.4 L621.5 372.2 L623.2 373.1 L625.0 374.0 L626.6 374.8 L628.0 375.5 L629.3 376.1 L630.4 376.6 L631.4 377.1 L632.4 377.6 L633.2 378.0 L634.0 378.5 L634.7 379.0 L635.4 379.5 L635.9 380.0 L636.4 380.5 L636.8 381.0 L637.0 381.5 L637.2 382.0 L637.3 382.4 L637.4 382.9 L637.2 383.3 L636.8 383.7 L636.0 384.0 L634.9 384.3 L633.7 384.5 L632.1 384.6 L630.2 384.8 L627.9 384.9 L625.0 385.0 L620.8 385.1 L615.1 385.2 L608.9 385.2 L603.4 385.3 L599.4 385.4 L598.0 385.5 L600.4 385.7 L605.9 385.9 L613.1 386.2 L620.2 386.5 L625.7 386.8 L628.0 387.0 L626.0 387.2 L620.9 387.4 L614.1 387.5 L607.3 387.6 L602.1 387.8 L600.0 388.0 L602.1 388.2 L607.3 388.5 L614.0 388.8 L620.7 389.1 L625.9 389.3 L628.0 389.5 L626.0 389.6 L620.9 389.7 L614.2 389.8 L607.5 389.8 L602.2 389.9 L600.0 390.0 L601.7 390.1 L606.3 390.3 L612.3 390.5 L618.4 390.6 L623.1 390.8 L625.0 391.0 L623.2 391.2 L618.8 391.3 L613.0 391.5 L607.1 391.7 L602.3 391.8 L600.0 392.0 L600.8 392.2 L603.8 392.3 L608.0 392.5 L612.3 392.7 L615.6 392.8 L617.0 393.0 L615.9 393.2 L613.0 393.3 L609.1 393.4 L605.1 393.6 L601.8 393.8 L600.0 394.0 L599.9 394.3 L601.1 394.6 L602.9 395.0 L604.8 395.4 L606.4 395.7 L607.0 396.0 L606.5 396.2 L605.3 396.4 L603.7 396.6 L602.0 396.7 L600.7 396.8 L600.0 397.0 L600.1 397.2 L600.9 397.3 L601.9 397.5 L603.0 397.7 L603.8 397.8 L604.0 398.0 L603.5 398.2 L602.6 398.4 L601.4 398.6 L600.1 398.7 L598.9 398.9 L598.2 399.0" fill="none" stroke="#111" stroke-width="1.6" stroke-linejoin="round"/><path d="M598.2 414.0 L598.8 414.2 L599.6 414.5 L600.5 414.8 L601.5 415.1 L602.3 415.6 L603.0 416.0 L603.5 416.5 L603.9 417.1 L604.1 417.7 L604.3 418.3 L604.5 418.9 L604.5 419.5 L604.5 420.1 L604.3 420.7 L604.1 421.3 L603.9 421.9 L603.5 422.5 L603.0 423.0 L602.3 423.4 L601.5 423.9 L600.5 424.2 L599.6 424.5 L598.8 424.8 L598.2 425.0" fill="none" stroke="#111" stroke-width="1.6" stroke-linejoin="round"/><path d="M598.2 436.5 L599.0 436.7 L600.0 437.0 L601.3 437.4 L602.6 437.8 L603.9 438.2 L605.0 438.5 L605.9 438.8 L606.8 439.0 L607.5 439.2 L608.3 439.5 L609.1 439.7 L610.0 440.0 L611.0 440.3 L612.0 440.6 L613.0 440.8 L614.0 441.2 L615.0 441.5 L616.0 442.0 L616.9 442.6 L617.9 443.3 L618.8 444.0 L619.6 444.7 L620.4 445.4 L621.0 446.0 L621.6 446.5 L622.3 446.8 L622.8 447.2 L623.2 447.4 L623.3 447.7 L623.0 448.0 L622.1 448.3 L620.6 448.6 L618.8 448.8 L617.1 449.1 L615.7 449.3 L615.0 449.5 L615.4 449.7 L616.7 449.9 L618.4 450.0 L619.8 450.1 L620.6 450.3 L620.0 450.5 L617.7 450.7 L613.9 451.0 L609.4 451.3 L604.8 451.6 L600.9 451.8 L598.2 452.0" fill="none" stroke="#111" stroke-width="1.6" stroke-linejoin="round"/><text x="618.5" y="434.7" font-size="10" text-anchor="middle" fill="#93309a">250 nm</text><line x1="616" y1="437" x2="611.03" y2="445.42" stroke="#93309a" stroke-width="1"/><path d="M609.50 448.00 L609.64 443.44 L610.77 445.85 L613.43 445.68 Z" fill="#93309a"/><line x1="598.2" y1="449.5" x2="617" y2="449.5" stroke="#93309a" stroke-width="1" stroke-dasharray="1.5 1"/><path d="M598.2 572.5 L599.3 573.1 L600.7 573.9 L602.5 574.9 L604.4 576.0 L606.2 577.0 L608.0 578.0 L609.7 578.9 L611.3 579.9 L613.0 580.8 L614.7 581.7 L616.3 582.6 L618.0 583.5 L619.7 584.4 L621.4 585.2 L623.2 586.1 L624.9 586.9 L626.5 587.7 L628.0 588.5 L629.4 589.2 L630.7 589.9 L632.0 590.6 L633.1 591.3 L634.1 591.9 L635.0 592.5 L635.7 593.1 L636.3 593.6 L636.7 594.1 L637.0 594.5 L637.1 595.0 L637.2 595.5 L637.2 596.0 L637.3 596.6 L637.2 597.1 L636.8 597.6 L636.2 598.1 L635.0 598.5 L633.3 598.8 L631.2 599.1 L628.7 599.4 L626.0 599.6 L623.1 599.8 L620.0 600.0 L616.1 600.2 L611.0 600.3 L605.8 600.5 L601.2 600.6 L598.3 600.8 L598.0 601.0 L601.6 601.3 L608.6 601.6 L617.3 602.0 L625.8 602.4 L632.3 602.7 L635.0 603.0 L632.5 603.2 L626.1 603.4 L617.6 603.6 L609.1 603.7 L602.6 603.8 L600.0 604.0 L602.6 604.2 L609.1 604.3 L617.5 604.5 L625.9 604.7 L632.4 604.8 L635.0 605.0 L632.5 605.2 L626.2 605.3 L617.9 605.5 L609.6 605.7 L603.0 605.8 L600.0 606.0 L601.7 606.2 L606.7 606.3 L613.6 606.5 L620.5 606.7 L625.8 606.8 L628.0 607.0 L626.1 607.2 L621.3 607.3 L614.9 607.4 L608.3 607.6 L602.9 607.8 L600.0 608.0 L600.2 608.3 L602.6 608.6 L606.1 609.0 L609.9 609.4 L612.8 609.7 L614.0 610.0 L613.0 610.2 L610.6 610.4 L607.4 610.5 L604.1 610.7 L601.4 610.8 L600.0 611.0 L600.2 611.2 L601.4 611.5 L603.2 611.7 L605.3 612.0 L607.0 612.2 L608.0 612.5 L608.3 612.7 L608.3 612.9 L608.0 613.2 L607.5 613.4 L606.8 613.7 L606.0 614.0 L604.9 614.4 L603.5 614.9 L602.0 615.3 L600.4 615.9 L599.1 616.4 L598.2 617.0 L597.7 617.7 L597.6 618.4 L597.7 619.2 L597.9 619.9 L598.1 620.6 L598.2 621.0" fill="none" stroke="#111" stroke-width="1.6" stroke-linejoin="round"/><path d="M598.2 626.0 L599.0 626.3 L600.1 626.7 L601.4 627.2 L602.8 627.8 L604.0 628.4 L605.0 629.0 L605.8 629.6 L606.5 630.3 L607.1 630.9 L607.6 631.6 L607.9 632.3 L608.0 633.0 L607.9 633.7 L607.6 634.3 L607.1 635.0 L606.5 635.7 L605.8 636.3 L605.0 637.0 L604.0 637.7 L602.8 638.5 L601.4 639.2 L600.1 640.0 L599.0 640.6 L598.2 641.0" fill="none" stroke="#111" stroke-width="1.6" stroke-linejoin="round"/><path d="M598.2 649.0 L599.5 649.3 L601.3 649.7 L603.5 650.2 L605.8 650.8 L608.0 651.4 L610.0 652.0 L611.9 652.6 L613.9 653.3 L615.9 654.0 L617.6 654.7 L619.0 655.4 L620.0 656.0 L620.5 656.6 L620.5 657.1 L620.2 657.6 L619.7 658.0 L618.9 658.5 L618.0 659.0 L616.5 659.5 L614.4 660.0 L612.1 660.6 L610.0 661.1 L608.5 661.6 L608.0 662.0 L608.7 662.4 L610.3 662.7 L612.4 663.0 L615.0 663.3 L617.6 663.6 L620.0 664.0 L622.7 664.5 L626.1 665.0 L629.5 665.6 L632.5 666.1 L634.5 666.6 L635.0 667.0 L633.7 667.3 L630.8 667.5 L627.0 667.6 L622.7 667.7 L618.6 667.9 L615.0 668.0 L611.8 668.2 L608.5 668.4 L605.4 668.6 L602.4 668.7 L600.0 668.9 L598.2 669.0" fill="none" stroke="#111" stroke-width="1.6" stroke-linejoin="round"/><text x="624.5" y="647" font-size="10" text-anchor="middle" fill="#93309a">242 nm</text><line x1="614" y1="650" x2="606.71" y2="660.53" stroke="#93309a" stroke-width="1"/><path d="M605.00 663.00 L605.47 658.46 L606.42 660.94 L609.09 660.96 Z" fill="#93309a"/><line x1="598.2" y1="665.5" x2="618" y2="665.5" stroke="#93309a" stroke-width="1" stroke-dasharray="1.5 1"/><path d="M148.0 321.6 L148.2 321.6 L148.5 321.5 L148.8 321.4 L149.2 321.3 L149.6 321.2 L150.0 321.0 L150.4 320.8 L150.9 320.5 L151.4 320.2 L151.9 319.9 L152.5 319.5 L153.0 319.0 L153.6 318.3 L154.2 317.5 L154.8 316.5 L155.4 315.6 L156.0 314.9 L156.5 314.5 L157.0 314.4 L157.4 314.6 L157.8 314.9 L158.2 315.4 L158.6 315.7 L159.0 316.0 L159.5 316.1 L159.9 316.2 L160.4 316.3 L160.9 316.4 L161.4 316.4 L162.0 316.5 L162.6 316.6 L163.3 316.6 L164.0 316.7 L164.7 316.7 L165.4 316.8 L166.0 317.0 L166.6 317.2 L167.1 317.6 L167.6 317.9 L168.0 318.3 L168.5 318.6 L169.0 319.0 L169.5 319.3 L170.0 319.7 L170.6 320.1 L171.1 320.4 L171.6 320.7 L172.0 321.0 L172.4 321.2 L172.8 321.3 L173.2 321.4 L173.5 321.5 L173.8 321.6 L174.0 321.6 L174 321.9 L148 321.9 Z" fill="#7ccbf8"/><path d="M42.0 321.2 L43.9 321.2 L46.6 321.2 L49.8 321.1 L53.2 321.1 L56.7 321.1 L60.0 321.0 L63.3 320.9 L66.7 320.9 L70.2 320.8 L73.6 320.7 L76.9 320.6 L80.0 320.5 L82.8 320.4 L85.6 320.2 L88.1 320.1 L90.6 319.9 L92.8 319.7 L95.0 319.5 L97.0 319.3 L98.7 319.0 L100.3 318.8 L101.9 318.5 L103.4 318.3 L105.0 318.0 L106.7 317.7 L108.4 317.5 L110.2 317.2 L111.9 317.0 L113.5 316.7 L115.0 316.5 L116.4 316.3 L117.6 316.1 L118.8 315.9 L119.9 315.7 L120.9 315.6 L122.0 315.5 L123.1 315.5 L124.1 315.6 L125.1 315.7 L126.1 315.8 L127.1 315.9 L128.0 315.8 L128.9 315.6 L129.8 315.3 L130.7 314.9 L131.5 314.5 L132.3 314.2 L133.0 314.0 L133.7 314.0 L134.3 314.2 L134.9 314.5 L135.5 314.8 L136.0 315.0 L136.5 315.0 L137.0 314.9 L137.4 314.9 L137.8 314.7 L138.2 314.4 L138.6 313.8 L139.0 313.0 L139.5 311.8 L140.0 310.3 L140.5 308.5 L141.0 306.6 L141.5 304.8 L142.0 303.0 L142.5 301.2 L143.0 299.4 L143.5 297.5 L144.0 295.8 L144.5 294.2 L145.0 293.0 L145.5 292.1 L146.1 291.3 L146.6 290.8 L147.2 290.5 L147.7 290.5 L148.2 290.6 L148.7 290.9 L149.2 291.5 L149.6 292.3 L150.1 293.3 L150.5 294.5 L151.0 296.0 L151.5 297.9 L152.0 300.2 L152.6 302.8 L153.1 305.4 L153.6 307.9 L154.0 310.0 L154.4 311.9 L154.7 313.6 L155.1 315.2 L155.4 316.7 L155.7 318.0 L156.0 319.0 L156.3 319.8 L156.6 320.4 L156.9 320.7 L157.3 320.9 L157.6 321.1 L158.0 321.2 L158.4 321.2 L158.9 321.1 L159.4 320.9 L160.0 320.7 L160.5 320.5 L161.0 320.3 L161.5 320.2 L162.0 320.1 L162.5 320.0 L163.0 320.0 L163.5 320.0 L164.0 320.0 L164.5 320.1 L164.9 320.2 L165.4 320.4 L165.9 320.5 L166.4 320.7 L167.0 320.8 L167.6 320.9 L168.2 321.0 L168.9 321.1 L169.7 321.2 L170.7 321.2 L172.0 321.3 L173.7 321.3 L175.7 321.3 L177.9 321.3 L180.2 321.3 L182.6 321.3 L185.0 321.3 L187.1 321.3 L189.0 321.3 L191.0 321.2 L193.2 321.2 L196.2 321.2 L200.0 321.2 L205.4 321.2 L212.3 321.3 L219.8 321.3 L227.1 321.3 L233.3 321.4 L237.7 321.4" fill="none" stroke="#b8262c" stroke-width="1.8" stroke-linejoin="round"/><path d="M146.0 540.2 L146.4 540.1 L147.0 540.0 L147.7 539.9 L148.4 539.8 L149.2 539.7 L150.0 539.5 L150.8 539.3 L151.6 539.2 L152.4 539.0 L153.3 538.8 L154.2 538.6 L155.0 538.3 L155.8 538.0 L156.7 537.6 L157.5 537.2 L158.3 536.7 L159.2 536.3 L160.0 536.0 L160.9 535.7 L161.7 535.4 L162.6 535.1 L163.5 534.9 L164.3 534.7 L165.0 534.5 L165.6 534.3 L166.1 534.2 L166.6 534.1 L167.0 534.1 L167.5 534.0 L168.0 534.0 L168.6 534.0 L169.2 534.1 L169.8 534.2 L170.5 534.3 L171.2 534.4 L172.0 534.5 L172.9 534.6 L173.8 534.8 L174.8 534.9 L175.9 535.1 L176.9 535.3 L178.0 535.5 L179.1 535.7 L180.1 535.9 L181.2 536.2 L182.4 536.4 L183.6 536.7 L185.0 537.0 L186.5 537.3 L188.1 537.7 L189.8 538.0 L191.6 538.4 L193.3 538.7 L195.0 539.0 L196.8 539.3 L198.7 539.5 L200.6 539.7 L202.4 539.9 L203.9 540.1 L205.0 540.2 L205 540.2 L146 540.2 Z" fill="#7ccbf8"/><path d="M42.0 539.8 L46.3 539.7 L52.5 539.6 L59.8 539.5 L67.3 539.3 L74.3 539.2 L80.0 539.0 L84.4 538.8 L88.2 538.7 L91.4 538.5 L94.4 538.3 L97.2 538.2 L100.0 538.0 L102.8 537.8 L105.6 537.6 L108.1 537.5 L110.6 537.3 L112.8 537.1 L115.0 537.0 L117.0 536.9 L118.8 536.8 L120.4 536.7 L122.0 536.6 L123.5 536.5 L125.0 536.5 L126.5 536.5 L128.0 536.5 L129.4 536.6 L130.8 536.6 L132.0 536.7 L133.0 536.8 L133.8 536.9 L134.4 537.1 L134.8 537.3 L135.2 537.5 L135.6 537.6 L136.0 537.5 L136.5 537.3 L137.0 537.1 L137.5 536.8 L138.0 536.4 L138.5 535.8 L139.0 535.0 L139.5 534.0 L140.0 532.7 L140.5 531.3 L141.0 529.9 L141.5 528.4 L142.0 527.0 L142.6 525.6 L143.1 524.2 L143.7 522.7 L144.3 521.3 L144.9 520.1 L145.5 519.0 L146.1 518.1 L146.7 517.3 L147.2 516.6 L147.8 516.1 L148.4 515.8 L148.9 515.8 L149.4 516.0 L150.0 516.4 L150.5 517.1 L151.0 517.9 L151.5 518.9 L152.0 520.0 L152.5 521.4 L153.0 523.1 L153.5 525.0 L154.0 526.8 L154.5 528.6 L155.0 530.0 L155.5 531.2 L156.0 532.2 L156.4 533.1 L156.9 533.9 L157.4 534.5 L158.0 535.0 L158.6 535.4 L159.3 535.5 L159.9 535.6 L160.6 535.6 L161.3 535.5 L162.0 535.5 L162.7 535.4 L163.3 535.3 L164.0 535.1 L164.7 535.0 L165.3 534.9 L166.0 535.0 L166.7 535.2 L167.3 535.6 L167.9 536.1 L168.6 536.6 L169.3 537.1 L170.0 537.5 L170.7 537.9 L171.4 538.3 L172.1 538.6 L172.9 539.0 L173.9 539.3 L175.0 539.5 L175.9 539.7 L176.4 539.7 L177.0 539.8 L178.3 539.8 L180.8 539.8 L185.0 539.8 L191.9 539.8 L201.4 539.9 L212.0 539.9 L222.5 539.9 L231.5 539.9 L237.7 539.9" fill="none" stroke="#b8262c" stroke-width="1.8" stroke-linejoin="round"/><path d="M148.0 759.7 L149.3 759.6 L151.0 759.4 L153.1 759.2 L155.3 758.9 L157.7 758.7 L160.0 758.5 L162.4 758.3 L165.0 758.2 L167.6 758.1 L170.3 757.9 L172.8 757.8 L175.0 757.5 L177.0 757.2 L178.8 756.7 L180.5 756.3 L182.1 755.8 L183.6 755.4 L185.0 755.0 L186.3 754.7 L187.5 754.4 L188.6 754.1 L189.7 753.9 L190.8 753.7 L192.0 753.6 L193.3 753.6 L194.5 753.7 L195.8 753.8 L197.1 754.0 L198.5 754.3 L200.0 754.5 L201.5 754.8 L203.1 755.1 L204.8 755.4 L206.4 755.8 L208.2 756.2 L210.0 756.5 L211.8 756.8 L213.7 757.2 L215.7 757.6 L217.7 757.9 L219.8 758.2 L222.0 758.5 L224.5 758.8 L227.3 759.0 L230.2 759.2 L233.0 759.4 L235.3 759.6 L237.0 759.7 L237 759.7 L148 759.7 Z" fill="#7ccbf8"/><path d="M42.0 759.3 L46.3 759.2 L52.5 759.1 L59.8 759.0 L67.3 758.8 L74.3 758.7 L80.0 758.5 L84.5 758.3 L88.4 758.2 L91.8 758.0 L94.7 757.8 L97.5 757.7 L100.0 757.5 L102.3 757.3 L104.2 757.2 L105.8 757.0 L107.3 756.8 L108.6 756.7 L110.0 756.5 L111.4 756.3 L112.6 756.1 L113.8 755.9 L114.9 755.7 L115.9 755.6 L117.0 755.5 L118.0 755.5 L119.0 755.5 L120.0 755.6 L121.0 755.7 L122.0 755.8 L123.0 756.0 L124.1 756.2 L125.3 756.4 L126.5 756.7 L127.7 757.0 L128.9 757.2 L130.0 757.5 L131.1 757.8 L132.3 758.2 L133.5 758.7 L134.6 759.0 L135.6 759.1 L136.5 759.0 L137.3 758.6 L137.9 758.1 L138.4 757.3 L138.9 756.4 L139.4 755.3 L140.0 754.0 L140.6 752.3 L141.3 750.3 L142.0 748.1 L142.7 745.9 L143.4 743.8 L144.0 742.0 L144.6 740.5 L145.1 739.1 L145.6 737.9 L146.1 736.7 L146.5 735.8 L147.0 735.0 L147.5 734.4 L147.9 733.9 L148.4 733.5 L148.8 733.3 L149.3 733.3 L149.8 733.4 L150.3 733.6 L150.8 734.1 L151.3 734.6 L151.9 735.3 L152.4 736.1 L153.0 737.0 L153.6 738.1 L154.3 739.5 L154.9 741.0 L155.6 742.5 L156.3 743.9 L157.0 745.0 L157.7 745.8 L158.4 746.4 L159.1 746.9 L159.8 747.3 L160.5 747.8 L161.2 748.3 L161.9 748.9 L162.5 749.5 L163.2 750.0 L163.8 750.7 L164.4 751.3 L165.0 752.0 L165.5 752.8 L166.0 753.7 L166.5 754.6 L167.0 755.5 L167.5 756.3 L168.0 757.0 L168.6 757.6 L169.1 758.0 L169.7 758.4 L170.3 758.7 L171.1 759.0 L172.0 759.2 L173.1 759.3 L174.3 759.4 L175.6 759.4 L177.0 759.4 L178.5 759.3 L180.0 759.3 L181.6 759.3 L183.2 759.2 L184.9 759.1 L186.6 759.1 L188.3 759.0 L190.0 759.0 L191.3 759.0 L192.3 759.1 L193.3 759.2 L194.6 759.3 L196.7 759.4 L200.0 759.5 L205.1 759.5 L211.9 759.6 L219.5 759.6 L226.9 759.6 L233.3 759.6 L237.7 759.6" fill="none" stroke="#b8262c" stroke-width="1.8" stroke-linejoin="round"/><path d="M518.0 321.3 L518.7 321.1 L519.7 320.9 L520.8 320.6 L522.0 320.2 L523.1 319.7 L524.0 319.0 L524.7 318.2 L525.2 317.2 L525.7 316.1 L526.1 314.9 L526.6 313.5 L527.0 312.0 L527.5 310.2 L527.9 308.1 L528.3 305.8 L528.8 303.6 L529.1 301.6 L529.5 300.0 L529.8 298.8 L530.1 298.0 L530.3 297.3 L530.5 296.8 L530.8 296.4 L531.0 296.0 L531.2 295.7 L531.5 295.4 L531.7 295.2 L532.0 295.2 L532.2 295.1 L532.5 295.2 L532.8 295.3 L533.1 295.5 L533.5 295.7 L533.9 296.0 L534.2 296.4 L534.5 297.0 L534.8 297.7 L535.0 298.6 L535.2 299.6 L535.5 300.7 L535.7 301.8 L536.0 303.0 L536.3 304.3 L536.6 305.7 L537.0 307.2 L537.3 308.6 L537.7 309.9 L538.0 311.0 L538.3 311.9 L538.6 312.6 L538.9 313.2 L539.3 313.7 L539.6 314.1 L540.0 314.5 L540.4 314.8 L540.9 315.0 L541.4 315.1 L542.0 315.2 L542.5 315.3 L543.0 315.5 L543.5 315.7 L544.0 315.9 L544.6 316.2 L545.1 316.4 L545.6 316.7 L546.0 317.0 L546.4 317.4 L546.7 317.8 L546.9 318.2 L547.2 318.7 L547.6 319.1 L548.0 319.5 L548.6 319.9 L549.3 320.2 L550.1 320.6 L550.9 320.9 L551.5 321.1 L552.0 321.3 L552 321.9 L518 321.9 Z" fill="#7ccbf8"/><path d="M403.0 320.3 L404.9 320.1 L407.5 319.8 L410.6 319.5 L413.9 319.2 L417.1 318.8 L420.0 318.5 L422.6 318.2 L425.1 317.9 L427.6 317.5 L430.0 317.2 L432.5 316.8 L435.0 316.5 L437.7 316.1 L440.5 315.8 L443.4 315.4 L446.1 315.0 L448.7 314.7 L451.0 314.4 L452.9 314.2 L454.6 314.0 L456.1 313.9 L457.5 313.8 L458.8 313.6 L460.0 313.5 L461.2 313.3 L462.3 313.2 L463.3 313.0 L464.2 312.9 L465.1 312.7 L466.0 312.6 L466.8 312.5 L467.6 312.4 L468.3 312.3 L469.1 312.2 L469.8 312.2 L470.5 312.2 L471.2 312.3 L472.0 312.5 L472.7 312.7 L473.5 312.9 L474.2 313.0 L475.0 313.0 L475.8 312.9 L476.7 312.7 L477.5 312.4 L478.4 312.1 L479.2 311.8 L480.0 311.5 L480.8 311.2 L481.5 310.8 L482.2 310.5 L482.9 310.2 L483.6 309.9 L484.3 309.8 L484.9 309.9 L485.5 310.1 L486.1 310.4 L486.7 310.7 L487.3 311.0 L488.0 311.0 L488.8 310.9 L489.6 310.6 L490.4 310.2 L491.3 309.8 L492.2 309.4 L493.0 309.0 L493.8 308.6 L494.6 308.1 L495.3 307.6 L496.1 307.2 L496.8 306.8 L497.5 306.7 L498.1 306.8 L498.7 307.2 L499.3 307.6 L499.8 308.1 L500.4 308.4 L501.0 308.5 L501.6 308.3 L502.2 308.0 L502.9 307.6 L503.5 307.1 L504.2 306.5 L505.0 306.0 L505.8 305.3 L506.7 304.5 L507.7 303.7 L508.6 302.9 L509.5 302.3 L510.4 302.1 L511.2 302.4 L512.1 303.1 L512.8 304.0 L513.6 304.8 L514.3 305.4 L515.0 305.5 L515.6 305.1 L516.1 304.3 L516.6 303.3 L517.1 302.1 L517.5 300.6 L518.0 299.0 L518.5 297.1 L519.0 294.9 L519.5 292.4 L520.0 289.9 L520.5 287.4 L521.0 285.0 L521.5 282.7 L521.9 280.2 L522.3 277.8 L522.7 275.5 L523.1 273.6 L523.5 272.0 L523.8 270.9 L524.1 270.1 L524.4 269.7 L524.7 269.4 L524.9 269.3 L525.2 269.3 L525.5 269.3 L525.8 269.4 L526.1 269.7 L526.4 270.1 L526.7 270.9 L527.0 272.0 L527.3 273.5 L527.7 275.3 L528.0 277.4 L528.3 279.8 L528.7 282.3 L529.0 285.0 L529.3 288.0 L529.7 291.4 L530.0 295.1 L530.3 298.7 L530.7 302.0 L531.0 305.0 L531.3 307.6 L531.7 309.9 L532.0 312.0 L532.4 313.9 L532.7 315.6 L533.0 317.0 L533.3 318.2 L533.5 319.2 L533.8 320.0 L534.0 320.6 L534.2 320.9 L534.5 321.0 L534.8 320.8 L535.1 320.4 L535.4 319.7 L535.8 318.9 L536.1 318.0 L536.5 317.0 L536.9 315.9 L537.3 314.6 L537.7 313.1 L538.1 311.7 L538.5 310.5 L539.0 309.5 L539.5 308.8 L540.0 308.3 L540.5 307.9 L541.0 307.6 L541.5 307.5 L542.0 307.5 L542.5 307.6 L543.0 307.9 L543.5 308.2 L544.0 308.7 L544.5 309.3 L545.0 310.0 L545.5 310.8 L546.0 311.8 L546.5 312.9 L547.0 314.1 L547.5 315.1 L548.0 316.0 L548.5 316.8 L548.9 317.4 L549.4 318.1 L549.9 318.6 L550.4 319.1 L551.0 319.5 L551.6 319.8 L552.2 320.0 L552.8 320.2 L553.6 320.3 L554.6 320.4 L556.0 320.5 L557.7 320.6 L559.5 320.7 L561.6 320.8 L564.0 320.9 L566.8 320.9 L570.0 321.0 L574.2 321.1 L579.3 321.1 L584.9 321.1 L590.2 321.2 L594.8 321.2 L598.0 321.2" fill="none" stroke="#b8262c" stroke-width="1.8" stroke-linejoin="round"/><path d="M526.0 540.3 L526.6 539.9 L527.4 539.3 L528.4 538.6 L529.4 537.9 L530.3 537.0 L531.0 536.0 L531.5 534.8 L531.9 533.5 L532.2 532.0 L532.4 530.6 L532.7 529.2 L533.0 528.0 L533.4 527.0 L533.8 526.0 L534.2 525.1 L534.7 524.3 L535.1 523.6 L535.5 523.0 L535.9 522.5 L536.2 522.2 L536.5 521.9 L536.8 521.7 L537.1 521.6 L537.5 521.6 L537.9 521.7 L538.3 521.8 L538.7 522.1 L539.1 522.3 L539.5 522.7 L540.0 523.0 L540.5 523.4 L541.0 523.8 L541.5 524.2 L542.0 524.7 L542.5 525.1 L543.0 525.5 L543.5 525.9 L544.0 526.2 L544.4 526.5 L544.9 526.8 L545.4 527.1 L546.0 527.5 L546.6 527.9 L547.2 528.3 L547.9 528.7 L548.6 529.1 L549.3 529.5 L550.0 530.0 L550.8 530.5 L551.6 531.1 L552.4 531.7 L553.3 532.3 L554.2 532.9 L555.0 533.5 L555.8 534.0 L556.7 534.6 L557.5 535.1 L558.3 535.6 L559.2 536.1 L560.0 536.5 L560.8 536.9 L561.5 537.2 L562.2 537.6 L563.0 537.9 L563.9 538.2 L565.0 538.5 L566.4 538.8 L568.0 539.2 L569.8 539.5 L571.5 539.8 L573.0 540.1 L574.0 540.3 L574 540.2 L526 540.2 Z" fill="#7ccbf8"/><path d="M403.0 538.9 L406.0 538.6 L410.3 538.2 L415.3 537.7 L420.6 537.2 L425.7 536.7 L430.0 536.2 L433.7 535.8 L437.2 535.4 L440.5 535.0 L443.6 534.6 L446.4 534.2 L449.0 533.9 L451.3 533.6 L453.3 533.4 L455.0 533.2 L456.7 533.1 L458.3 532.9 L460.0 532.7 L461.8 532.5 L463.6 532.3 L465.5 532.0 L467.2 531.8 L468.9 531.6 L470.5 531.5 L471.9 531.4 L473.2 531.4 L474.4 531.4 L475.6 531.4 L476.8 531.3 L478.0 531.3 L479.3 531.2 L480.6 531.2 L482.0 531.1 L483.3 531.0 L484.6 530.9 L485.8 530.8 L486.9 530.6 L488.0 530.4 L489.0 530.2 L490.0 529.9 L491.0 529.7 L492.0 529.5 L493.0 529.3 L494.1 529.0 L495.1 528.8 L496.1 528.6 L497.1 528.5 L498.0 528.4 L498.9 528.5 L499.8 528.7 L500.6 528.9 L501.4 529.1 L502.2 529.3 L503.0 529.3 L503.7 529.2 L504.4 528.9 L505.1 528.6 L505.7 528.2 L506.4 527.9 L507.0 527.5 L507.6 527.1 L508.2 526.6 L508.7 526.2 L509.3 525.7 L509.8 525.4 L510.4 525.3 L511.0 525.4 L511.6 525.7 L512.3 526.1 L512.9 526.5 L513.5 526.9 L514.0 527.2 L514.5 527.4 L514.9 527.7 L515.3 528.0 L515.7 528.1 L516.1 528.1 L516.5 527.8 L516.9 527.3 L517.3 526.6 L517.7 525.8 L518.1 524.7 L518.6 523.5 L519.0 522.0 L519.5 520.2 L519.9 518.0 L520.4 515.6 L520.9 513.2 L521.4 510.9 L522.0 509.0 L522.6 507.3 L523.3 505.7 L524.0 504.3 L524.7 503.1 L525.4 502.3 L526.0 501.8 L526.6 501.7 L527.1 502.0 L527.6 502.6 L528.1 503.5 L528.6 504.6 L529.0 506.0 L529.4 507.8 L529.7 510.0 L530.1 512.5 L530.4 515.1 L530.7 517.7 L531.0 520.0 L531.3 522.2 L531.7 524.5 L532.0 526.7 L532.4 528.7 L532.7 530.5 L533.0 532.0 L533.3 533.1 L533.5 534.0 L533.7 534.6 L533.9 535.0 L534.2 535.1 L534.5 535.0 L534.9 534.5 L535.3 533.7 L535.7 532.6 L536.1 531.4 L536.6 530.2 L537.0 529.0 L537.4 527.8 L537.8 526.6 L538.2 525.3 L538.7 524.0 L539.1 522.9 L539.5 522.0 L539.9 521.3 L540.3 520.7 L540.8 520.3 L541.2 520.0 L541.6 519.8 L542.0 519.7 L542.4 519.8 L542.8 519.9 L543.2 520.2 L543.7 520.6 L544.1 521.2 L544.5 522.0 L544.9 523.0 L545.4 524.3 L545.8 525.7 L546.2 527.2 L546.6 528.7 L547.0 530.0 L547.3 531.2 L547.6 532.4 L547.9 533.6 L548.2 534.7 L548.6 535.7 L549.0 536.5 L549.5 537.2 L550.1 537.7 L550.7 538.1 L551.4 538.5 L552.1 538.7 L553.0 539.0 L553.6 539.2 L554.0 539.3 L554.4 539.4 L555.3 539.4 L557.0 539.4 L560.0 539.5 L565.0 539.6 L571.8 539.7 L579.4 539.8 L587.0 539.9 L593.5 539.9 L598.0 540.0" fill="none" stroke="#b8262c" stroke-width="1.8" stroke-linejoin="round"/><path d="M524.0 759.7 L524.7 758.9 L525.7 757.8 L526.9 756.4 L528.1 754.9 L529.2 753.4 L530.0 752.0 L530.6 750.5 L531.0 748.9 L531.2 747.2 L531.5 745.6 L531.7 744.2 L532.0 743.0 L532.3 742.1 L532.7 741.5 L533.0 741.1 L533.3 740.7 L533.7 740.4 L534.0 740.0 L534.3 739.6 L534.7 739.4 L535.0 739.1 L535.3 738.9 L535.7 738.5 L536.0 738.0 L536.3 737.3 L536.6 736.4 L537.0 735.5 L537.3 734.5 L537.6 733.7 L538.0 733.0 L538.4 732.5 L538.8 732.1 L539.3 731.8 L539.7 731.6 L540.1 731.5 L540.5 731.7 L540.8 732.0 L541.1 732.5 L541.3 733.2 L541.5 734.0 L541.8 734.9 L542.0 736.0 L542.2 737.3 L542.5 739.0 L542.8 740.9 L543.0 742.6 L543.2 744.1 L543.5 745.0 L543.7 745.3 L544.0 745.2 L544.2 744.7 L544.5 744.2 L544.7 743.7 L545.0 743.5 L545.3 743.5 L545.6 743.6 L546.0 743.7 L546.3 744.0 L546.7 744.4 L547.0 745.0 L547.3 746.0 L547.7 747.3 L548.0 748.8 L548.3 750.2 L548.7 751.3 L549.0 752.0 L549.3 752.1 L549.7 751.7 L550.0 751.1 L550.3 750.3 L550.7 749.6 L551.0 749.0 L551.3 748.6 L551.6 748.2 L551.9 747.8 L552.3 747.5 L552.6 747.2 L553.0 747.0 L553.4 746.8 L553.9 746.6 L554.4 746.5 L554.9 746.4 L555.4 746.4 L556.0 746.5 L556.6 746.7 L557.2 747.0 L557.9 747.3 L558.6 747.7 L559.3 748.1 L560.0 748.5 L560.8 748.8 L561.5 749.1 L562.3 749.4 L563.1 749.7 L564.0 750.1 L565.0 750.5 L566.0 751.0 L567.1 751.6 L568.3 752.2 L569.5 752.8 L570.8 753.4 L572.0 754.0 L573.2 754.6 L574.4 755.2 L575.7 755.8 L577.0 756.4 L578.4 757.0 L580.0 757.5 L581.9 758.0 L584.1 758.4 L586.5 758.8 L588.7 759.2 L590.6 759.5 L592.0 759.7 L592 759.7 L524 759.7 Z" fill="#7ccbf8"/><path d="M403.0 757.6 L406.0 757.4 L410.3 757.1 L415.2 756.8 L420.5 756.4 L425.6 756.1 L430.0 755.8 L433.7 755.6 L437.2 755.4 L440.4 755.3 L443.6 755.1 L446.7 754.8 L450.0 754.5 L453.3 754.1 L456.7 753.5 L460.0 753.0 L463.3 752.3 L466.7 751.7 L470.0 751.0 L473.4 750.3 L477.0 749.5 L480.6 748.7 L484.1 747.9 L487.2 747.1 L490.0 746.5 L492.3 745.9 L494.3 745.4 L495.9 745.0 L497.4 744.6 L498.7 744.3 L500.0 744.0 L501.1 743.8 L502.1 743.7 L502.8 743.7 L503.6 743.7 L504.3 743.6 L505.0 743.5 L505.8 743.2 L506.6 742.8 L507.3 742.3 L508.1 741.9 L508.8 741.6 L509.5 741.5 L510.1 741.7 L510.7 742.0 L511.3 742.4 L511.9 743.0 L512.4 743.5 L513.0 744.0 L513.6 744.6 L514.2 745.3 L514.8 746.0 L515.4 746.6 L515.9 747.0 L516.5 747.0 L517.0 746.6 L517.6 745.9 L518.1 745.0 L518.6 743.9 L519.0 742.5 L519.5 741.0 L519.9 739.2 L520.4 737.1 L520.8 734.8 L521.2 732.4 L521.6 730.1 L522.0 728.0 L522.4 726.1 L522.8 724.2 L523.3 722.3 L523.7 720.6 L524.1 719.2 L524.5 718.0 L524.9 717.1 L525.3 716.5 L525.7 716.1 L526.0 715.8 L526.4 715.8 L526.8 715.9 L527.2 716.1 L527.5 716.4 L527.9 716.9 L528.3 717.7 L528.6 718.7 L529.0 720.0 L529.3 721.8 L529.7 724.0 L530.0 726.6 L530.3 729.2 L530.7 731.7 L531.0 734.0 L531.3 736.1 L531.7 738.2 L532.0 740.2 L532.3 742.0 L532.7 743.6 L533.0 745.0 L533.3 746.1 L533.7 747.1 L534.0 747.8 L534.3 748.3 L534.7 748.5 L535.0 748.5 L535.3 748.2 L535.7 747.6 L536.0 746.8 L536.3 745.8 L536.7 744.5 L537.0 743.0 L537.3 741.1 L537.7 738.9 L538.0 736.5 L538.3 733.9 L538.7 731.4 L539.0 729.0 L539.3 726.7 L539.7 724.2 L540.0 721.9 L540.3 719.6 L540.7 717.6 L541.0 716.0 L541.4 714.8 L541.7 713.8 L542.1 713.1 L542.5 712.6 L542.8 712.4 L543.2 712.4 L543.6 712.6 L544.0 713.0 L544.4 713.7 L544.8 714.5 L545.1 715.7 L545.5 717.0 L545.9 718.6 L546.2 720.6 L546.5 722.7 L546.8 725.1 L547.2 727.5 L547.5 730.0 L547.8 732.7 L548.2 735.7 L548.5 738.8 L548.9 741.8 L549.2 744.6 L549.5 747.0 L549.8 749.0 L550.0 750.8 L550.2 752.4 L550.5 753.7 L550.7 754.9 L551.0 756.0 L551.3 756.9 L551.6 757.7 L551.8 758.2 L552.2 758.7 L552.5 759.0 L553.0 759.2 L553.6 759.2 L554.2 759.1 L554.9 758.8 L555.6 758.5 L556.3 758.2 L557.0 758.0 L557.7 757.9 L558.3 757.8 L558.9 757.7 L559.6 757.6 L560.3 757.6 L561.0 757.6 L561.8 757.7 L562.6 757.8 L563.4 758.0 L564.2 758.1 L565.1 758.3 L566.0 758.5 L566.7 758.7 L567.2 758.9 L567.7 759.0 L568.5 759.2 L569.8 759.4 L572.0 759.5 L575.5 759.6 L580.1 759.6 L585.4 759.6 L590.5 759.6 L594.9 759.6 L598.0 759.6" fill="none" stroke="#b8262c" stroke-width="1.8" stroke-linejoin="round"/><rect x="42.0" y="258.2" width="195.7" height="63.69999999999999" fill="none" stroke="#222" stroke-width="1.1"/><rect x="42.0" y="476.0" width="195.7" height="64.20000000000005" fill="none" stroke="#222" stroke-width="1.1"/><rect x="42.0" y="696.0" width="195.7" height="63.700000000000045" fill="none" stroke="#222" stroke-width="1.1"/><rect x="403.0" y="257.6" width="195.0" height="64.29999999999995" fill="none" stroke="#222" stroke-width="1.1"/><rect x="403.0" y="476.7" width="195.0" height="63.50000000000006" fill="none" stroke="#222" stroke-width="1.1"/><rect x="403.0" y="696.1" width="195.0" height="63.60000000000002" fill="none" stroke="#222" stroke-width="1.1"/><text x="70.8" y="44.5" font-size="10.5" font-family="'Liberation Serif', serif" text-anchor="middle" fill="#222">I</text><line x1="173" y1="215.5" x2="173.00" y2="221.50" stroke="#111" stroke-width="1.1"/><path d="M173.00 226.00 L170.40 220.50 L173.00 222.00 L175.60 220.50 Z" fill="#111"/><text x="173" y="213.8" font-size="10.5" font-family="'Liberation Serif', serif" text-anchor="middle" fill="#222">I</text><line x1="161.3" y1="307.5" x2="161.30" y2="313.00" stroke="#111" stroke-width="1.1"/><path d="M161.30 317.50 L158.70 312.00 L161.30 313.50 L163.90 312.00 Z" fill="#111"/><text x="161.3" y="305.5" font-size="10.5" font-family="'Liberation Serif', serif" text-anchor="middle" fill="#222">I</text><text x="430.5" y="43" font-size="10.5" font-family="'Liberation Serif', serif" text-anchor="middle" fill="#222">I</text><text x="422.5" y="15.3" font-size="10.5" font-family="'Liberation Serif', serif" text-anchor="middle" fill="#222">III</text><line x1="573.4" y1="170.2" x2="566.32" y2="176.67" stroke="#111" stroke-width="1.1"/><path d="M563.00 179.70 L565.31 174.07 L565.95 177.00 L568.81 177.91 Z" fill="#111"/><text x="578" y="173" font-size="10.5" font-family="'Liberation Serif', serif" text-anchor="middle" fill="#222">II</text><line x1="552.6" y1="217.6" x2="552.60" y2="223.00" stroke="#111" stroke-width="1.1"/><path d="M552.60 227.50 L550.00 222.00 L552.60 223.50 L555.20 222.00 Z" fill="#111"/><text x="552.6" y="215.5" font-size="10.5" font-family="'Liberation Serif', serif" text-anchor="middle" fill="#222">I</text><line x1="539.5" y1="282" x2="536.09" y2="295.63" stroke="#111" stroke-width="1.1"/><path d="M535.00 300.00 L533.81 294.03 L535.97 296.12 L538.86 295.29 Z" fill="#111"/><text x="539.5" y="280" font-size="10.5" font-family="'Liberation Serif', serif" text-anchor="middle" fill="#222">I</text><line x1="556.5" y1="297" x2="547.07" y2="304.26" stroke="#111" stroke-width="1.1"/><path d="M543.50 307.00 L546.27 301.59 L546.67 304.56 L549.44 305.71 Z" fill="#111"/><text x="559" y="295" font-size="10.5" font-family="'Liberation Serif', serif" text-anchor="middle" fill="#222">II</text><line x1="571" y1="391.2" x2="563.25" y2="397.24" stroke="#111" stroke-width="1.1"/><path d="M559.70 400.00 L562.44 394.57 L562.86 397.54 L565.64 398.67 Z" fill="#111"/><text x="576" y="394" font-size="10.5" font-family="'Liberation Serif', serif" text-anchor="middle" fill="#222">II</text><line x1="574.6" y1="436.7" x2="558.62" y2="443.70" stroke="#111" stroke-width="1.1"/><path d="M554.50 445.50 L558.50 440.91 L558.16 443.90 L560.58 445.68 Z" fill="#111"/><text x="580" y="440" font-size="10.5" font-family="'Liberation Serif', serif" text-anchor="middle" fill="#222">III</text><line x1="542.2" y1="501" x2="542.20" y2="512.20" stroke="#111" stroke-width="1.1"/><path d="M542.20 516.70 L539.60 511.20 L542.20 512.70 L544.80 511.20 Z" fill="#111"/><text x="542.2" y="499.5" font-size="10.5" font-family="'Liberation Serif', serif" text-anchor="middle" fill="#222">II</text><line x1="561" y1="518" x2="548.50" y2="518.00" stroke="#f0652a" stroke-width="1.1"/><path d="M544.00 518.00 L549.50 515.40 L548.00 518.00 L549.50 520.60 Z" fill="#f0652a"/><text x="579" y="522.5" font-size="12" text-anchor="middle" fill="#f0652a" textLength="35" lengthAdjust="spacingAndGlyphs">1.6 GW</text><line x1="573" y1="532.1" x2="560.46" y2="533.87" stroke="#111" stroke-width="1.1"/><path d="M556.00 534.50 L561.08 531.16 L559.96 533.94 L561.81 536.31 Z" fill="#111"/><text x="579" y="535.5" font-size="10.5" font-family="'Liberation Serif', serif" text-anchor="middle" fill="#222">III</text><line x1="572" y1="650.8" x2="560.67" y2="659.47" stroke="#111" stroke-width="1.1"/><path d="M557.10 662.20 L559.89 656.79 L560.28 659.77 L563.05 660.92 Z" fill="#111"/><text x="579" y="655" font-size="10.5" font-family="'Liberation Serif', serif" text-anchor="middle" fill="#222">III</text><line x1="561" y1="712" x2="549.50" y2="712.00" stroke="#f0652a" stroke-width="1.1"/><path d="M545.00 712.00 L550.50 709.40 L549.00 712.00 L550.50 714.60 Z" fill="#f0652a"/><text x="579" y="716.5" font-size="12" text-anchor="middle" fill="#f0652a" textLength="36" lengthAdjust="spacingAndGlyphs">2.2 GW</text><line x1="572" y1="739" x2="561.72" y2="745.97" stroke="#111" stroke-width="1.1"/><path d="M558.00 748.50 L561.09 743.26 L561.31 746.25 L564.01 747.56 Z" fill="#111"/><text x="578.5" y="743" font-size="10.5" font-family="'Liberation Serif', serif" text-anchor="middle" fill="#222">III</text><path d="M53.0 16.0 L53.3 18.2 L53.6 21.3 L54.1 24.9 L54.5 28.6 L55.0 32.1 L55.5 35.0 L56.0 37.2 L56.5 39.1 L57.0 40.8 L57.5 42.3 L58.0 43.7 L58.5 45.0 L58.9 46.2 L59.3 47.2 L59.7 48.1 L60.1 48.9 L60.4 49.9 L60.6 51.0 L60.7 52.3 L60.8 53.6 L60.7 54.9 L60.7 56.4 L60.6 58.1 L60.5 60.0 L60.4 62.1 L60.3 64.5 L60.2 67.0 L60.1 69.6 L59.9 72.3 L59.8 75.0 L59.7 77.9 L59.5 81.1 L59.4 84.4 L59.2 87.5 L59.1 90.1 L59.0 92.0" fill="none" stroke="#83308e" stroke-width="1.9"/><path d="M414.6 16.0 L414.7 17.2 L414.9 18.9 L415.1 20.8 L415.4 22.9 L415.7 25.0 L416.0 27.0 L416.4 28.8 L416.9 30.6 L417.4 32.4 L417.8 34.3 L418.2 36.1 L418.5 38.0 L418.6 39.8 L418.6 41.6 L418.5 43.4 L418.3 45.4 L418.1 47.5 L418.0 50.0 L417.9 52.8 L417.7 56.0 L417.5 59.4 L417.4 62.9 L417.2 66.5 L417.0 70.0 L416.8 73.8 L416.6 78.0 L416.4 82.2 L416.3 86.2 L416.1 89.6 L416.0 92.0" fill="none" stroke="#83308e" stroke-width="1.9"/></svg></body></html>
